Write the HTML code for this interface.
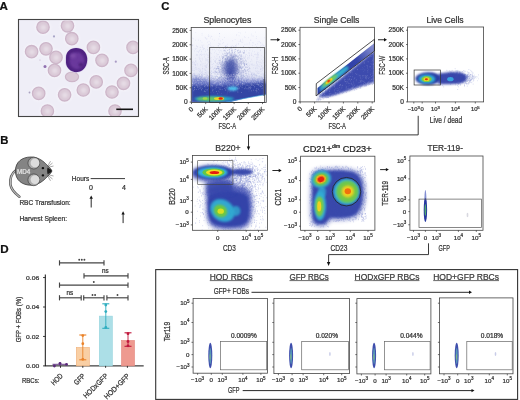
<!DOCTYPE html><html><head><meta charset="utf-8"><style>html,body{margin:0;padding:0;background:#fff;}svg{display:block;will-change:transform;filter:blur(0.3px);}text{font-family:"Liberation Sans", sans-serif;stroke-width:0.24px;}</style></head><body>
<svg width="520" height="400" viewBox="0 0 520 400">
<defs>
<filter id="b05" x="-50%" y="-50%" width="200%" height="200%"><feGaussianBlur stdDeviation="0.5"/></filter>
<filter id="b1" x="-50%" y="-50%" width="200%" height="200%"><feGaussianBlur stdDeviation="1"/></filter>
<filter id="b2" x="-50%" y="-50%" width="200%" height="200%"><feGaussianBlur stdDeviation="2"/></filter>
<filter id="b3" x="-50%" y="-50%" width="200%" height="200%"><feGaussianBlur stdDeviation="3"/></filter>
<linearGradient id="gwash" x1="0" y1="0" x2="0" y2="1"><stop offset="0" stop-color="#fbfbfe"/><stop offset="0.45" stop-color="#eceef8"/><stop offset="1" stop-color="#d8dcf2"/></linearGradient>
<linearGradient id="gband" gradientUnits="userSpaceOnUse" x1="317" y1="92" x2="374" y2="47"><stop offset="0" stop-color="#2c3ca6"/><stop offset="0.7" stop-color="#3444aa"/><stop offset="1" stop-color="#8890d0"/></linearGradient>
</defs>
<rect width="520" height="400" fill="#fff"/>
<text x="-0.40" y="9.50" font-size="11.6" text-anchor="start" fill="#111" stroke="#111" font-weight="bold" >A</text>
<rect x="18.50" y="19.50" width="120.00" height="97.00" stroke="#444" stroke-width="1.1" fill="#efeef7" />
<clipPath id="clipA"><rect x="19" y="20.5" width="119" height="95.5"/></clipPath>
<g clip-path="url(#clipA)">
<circle cx="43" cy="27.2" r="7.6" fill="#f6f5fb" filter="url(#b1)"/>
<circle cx="67.5" cy="25.8" r="7.6" fill="#f6f5fb" filter="url(#b1)"/>
<circle cx="71.8" cy="38.7" r="7.6" fill="#f6f5fb" filter="url(#b1)"/>
<circle cx="31.6" cy="51.7" r="7.6" fill="#f6f5fb" filter="url(#b1)"/>
<circle cx="46" cy="48.8" r="7.6" fill="#f6f5fb" filter="url(#b1)"/>
<circle cx="56" cy="57.4" r="7.6" fill="#f6f5fb" filter="url(#b1)"/>
<circle cx="54.5" cy="70.4" r="7.6" fill="#f6f5fb" filter="url(#b1)"/>
<circle cx="93.4" cy="47.4" r="7.6" fill="#f6f5fb" filter="url(#b1)"/>
<circle cx="102" cy="60.3" r="7.6" fill="#f6f5fb" filter="url(#b1)"/>
<circle cx="96.2" cy="81.9" r="7.6" fill="#f6f5fb" filter="url(#b1)"/>
<circle cx="83.3" cy="90" r="7.6" fill="#f6f5fb" filter="url(#b1)"/>
<circle cx="64.6" cy="94.8" r="7.6" fill="#f6f5fb" filter="url(#b1)"/>
<circle cx="38.7" cy="93.4" r="7.6" fill="#f6f5fb" filter="url(#b1)"/>
<circle cx="47.4" cy="111" r="7.6" fill="#f6f5fb" filter="url(#b1)"/>
<circle cx="112" cy="92" r="7.6" fill="#f6f5fb" filter="url(#b1)"/>
<circle cx="123.5" cy="83.3" r="7.6" fill="#f6f5fb" filter="url(#b1)"/>
<circle cx="133" cy="47.4" r="7.6" fill="#f6f5fb" filter="url(#b1)"/>
<circle cx="131" cy="70.4" r="7.6" fill="#f6f5fb" filter="url(#b1)"/>
<circle cx="115" cy="111" r="7.6" fill="#f6f5fb" filter="url(#b1)"/>
<circle cx="43" cy="27.2" r="6.2" fill="#dac9d7" stroke="#cdb6c9" stroke-width="1.3" filter="url(#b05)"/>
<circle cx="43.3" cy="27.5" r="2.8" fill="#e6dce5" filter="url(#b1)"/>
<circle cx="67.5" cy="25.8" r="6.2" fill="#dac9d7" stroke="#cdb6c9" stroke-width="1.3" filter="url(#b05)"/>
<circle cx="67.8" cy="26.1" r="2.8" fill="#e6dce5" filter="url(#b1)"/>
<circle cx="71.8" cy="38.7" r="6.2" fill="#dac9d7" stroke="#cdb6c9" stroke-width="1.3" filter="url(#b05)"/>
<circle cx="72.1" cy="39.0" r="2.8" fill="#e6dce5" filter="url(#b1)"/>
<circle cx="31.6" cy="51.7" r="6.2" fill="#dac9d7" stroke="#cdb6c9" stroke-width="1.3" filter="url(#b05)"/>
<circle cx="31.900000000000002" cy="52.0" r="2.8" fill="#e6dce5" filter="url(#b1)"/>
<circle cx="46" cy="48.8" r="6.2" fill="#dac9d7" stroke="#cdb6c9" stroke-width="1.3" filter="url(#b05)"/>
<circle cx="46.3" cy="49.099999999999994" r="2.8" fill="#e6dce5" filter="url(#b1)"/>
<circle cx="56" cy="57.4" r="6.2" fill="#dac9d7" stroke="#cdb6c9" stroke-width="1.3" filter="url(#b05)"/>
<circle cx="56.3" cy="57.699999999999996" r="2.8" fill="#e6dce5" filter="url(#b1)"/>
<circle cx="54.5" cy="70.4" r="6.2" fill="#dac9d7" stroke="#cdb6c9" stroke-width="1.3" filter="url(#b05)"/>
<circle cx="54.8" cy="70.7" r="2.8" fill="#e6dce5" filter="url(#b1)"/>
<circle cx="93.4" cy="47.4" r="6.2" fill="#dac9d7" stroke="#cdb6c9" stroke-width="1.3" filter="url(#b05)"/>
<circle cx="93.7" cy="47.699999999999996" r="2.8" fill="#e6dce5" filter="url(#b1)"/>
<circle cx="102" cy="60.3" r="6.2" fill="#dac9d7" stroke="#cdb6c9" stroke-width="1.3" filter="url(#b05)"/>
<circle cx="102.3" cy="60.599999999999994" r="2.8" fill="#e6dce5" filter="url(#b1)"/>
<circle cx="96.2" cy="81.9" r="6.2" fill="#dac9d7" stroke="#cdb6c9" stroke-width="1.3" filter="url(#b05)"/>
<circle cx="96.5" cy="82.2" r="2.8" fill="#e6dce5" filter="url(#b1)"/>
<circle cx="83.3" cy="90" r="6.2" fill="#dac9d7" stroke="#cdb6c9" stroke-width="1.3" filter="url(#b05)"/>
<circle cx="83.6" cy="90.3" r="2.8" fill="#e6dce5" filter="url(#b1)"/>
<circle cx="64.6" cy="94.8" r="6.2" fill="#dac9d7" stroke="#cdb6c9" stroke-width="1.3" filter="url(#b05)"/>
<circle cx="64.89999999999999" cy="95.1" r="2.8" fill="#e6dce5" filter="url(#b1)"/>
<circle cx="38.7" cy="93.4" r="6.2" fill="#dac9d7" stroke="#cdb6c9" stroke-width="1.3" filter="url(#b05)"/>
<circle cx="39.0" cy="93.7" r="2.8" fill="#e6dce5" filter="url(#b1)"/>
<circle cx="47.4" cy="111" r="6.2" fill="#dac9d7" stroke="#cdb6c9" stroke-width="1.3" filter="url(#b05)"/>
<circle cx="47.699999999999996" cy="111.3" r="2.8" fill="#e6dce5" filter="url(#b1)"/>
<circle cx="112" cy="92" r="6.2" fill="#dac9d7" stroke="#cdb6c9" stroke-width="1.3" filter="url(#b05)"/>
<circle cx="112.3" cy="92.3" r="2.8" fill="#e6dce5" filter="url(#b1)"/>
<circle cx="123.5" cy="83.3" r="6.2" fill="#dac9d7" stroke="#cdb6c9" stroke-width="1.3" filter="url(#b05)"/>
<circle cx="123.8" cy="83.6" r="2.8" fill="#e6dce5" filter="url(#b1)"/>
<circle cx="133" cy="47.4" r="6.2" fill="#dac9d7" stroke="#cdb6c9" stroke-width="1.3" filter="url(#b05)"/>
<circle cx="133.3" cy="47.699999999999996" r="2.8" fill="#e6dce5" filter="url(#b1)"/>
<circle cx="131" cy="70.4" r="6.2" fill="#dac9d7" stroke="#cdb6c9" stroke-width="1.3" filter="url(#b05)"/>
<circle cx="131.3" cy="70.7" r="2.8" fill="#e6dce5" filter="url(#b1)"/>
<circle cx="115" cy="111" r="6.2" fill="#dac9d7" stroke="#cdb6c9" stroke-width="1.3" filter="url(#b05)"/>
<circle cx="115.3" cy="111.3" r="2.8" fill="#e6dce5" filter="url(#b1)"/>
<ellipse cx="72" cy="76.8" rx="6.6" ry="4.8" fill="#dac9d7" stroke="#cdb6c9" stroke-width="1.2" filter="url(#b05)"/>
<g transform="translate(0,0.8)">
<ellipse cx="76.4" cy="59.3" rx="11.6" ry="12.6" fill="#ddd3ec" filter="url(#b05)"/>
<path d="M66,57 C66,51 70,47.5 76,47.3 C82,47.2 86.8,51 87.2,57.5 C87.6,64 84.5,70.5 77.5,71.3 C71,71.8 66.2,67 66,62 Z" fill="#4f2482" filter="url(#b05)"/>
<ellipse cx="77" cy="60" rx="7.5" ry="8.5" fill="#6a389c" filter="url(#b1)"/>
<ellipse cx="73" cy="55" rx="3" ry="2.5" fill="#7a4aa8" filter="url(#b1)"/>
<ellipse cx="81" cy="64" rx="2.5" ry="2" fill="#4a2078" filter="url(#b1)"/>
</g>
<circle cx="54" cy="36.4" r="1.1" fill="#a9a6c8"/>
<circle cx="45" cy="66.6" r="1.5" fill="#9070b0"/>
<circle cx="115.8" cy="61.7" r="1.1" fill="#a99ac4"/>
<circle cx="29.5" cy="92.5" r="0.9" fill="#a9a0c0"/>
<circle cx="40" cy="60" r="0.6" fill="#c0b0c8"/>
</g>
<line x1="116.30" y1="109.30" x2="133.00" y2="109.30" stroke="#111" stroke-width="1.6" />
<text x="0.30" y="144.00" font-size="11.3" text-anchor="start" fill="#111" stroke="#111" font-weight="bold" >B</text>
<path d="M15.6,170.6 C11,174 10,180 10.4,184.5 C11,189 14,192.5 19.4,196.8" stroke="#555" stroke-width="2.5" fill="none" stroke-linecap="round"/>
<path d="M15.6,170.6 C11,174 10,180 10.4,184.5 C11,189 14,192.5 19.4,196.8" stroke="#bdbdbd" stroke-width="1.1" fill="none" stroke-linecap="round"/>
<path d="M15.4,171 C15.4,162 22,157 31,157 C37,157 42,160 45.5,163.5 C48.5,166.5 51.8,169.5 51.8,171 C51.8,172.5 48.5,175.5 45.5,178.5 C42,182 37,185.2 31,185.2 C22,185.2 15.4,180 15.4,171 Z" fill="#848484" stroke="#3a3a3a" stroke-width="0.8"/>
<path d="M47.6,167.6 C49.5,168.8 51.8,170 51.8,171 C51.8,172 49.5,173.4 47.6,174.2 C47,172.5 47,169.5 47.6,167.6 Z" fill="#1a1a1a"/>
<circle cx="33.8" cy="163.1" r="5.9" fill="#aaaaaa" stroke="#444" stroke-width="0.7"/>
<circle cx="35.0" cy="162.9" r="4.4" fill="#dcdcdc" filter="url(#b05)"/>
<circle cx="33.8" cy="179.8" r="5.9" fill="#aaaaaa" stroke="#444" stroke-width="0.7"/>
<circle cx="35.0" cy="179.60000000000002" r="4.4" fill="#dcdcdc" filter="url(#b05)"/>
<ellipse cx="42.9" cy="168.2" rx="1.3" ry="1.1" fill="#111"/>
<ellipse cx="42.9" cy="175.4" rx="1.3" ry="1.1" fill="#111"/>
<line x1="47.50" y1="166.50" x2="50.50" y2="161.20" stroke="#444" stroke-width="0.45" />
<line x1="48.00" y1="166.80" x2="52.50" y2="163.00" stroke="#444" stroke-width="0.45" />
<line x1="48.40" y1="167.30" x2="53.50" y2="166.00" stroke="#444" stroke-width="0.45" />
<line x1="47.50" y1="175.50" x2="50.50" y2="180.80" stroke="#444" stroke-width="0.45" />
<line x1="48.00" y1="175.20" x2="52.50" y2="179.00" stroke="#444" stroke-width="0.45" />
<line x1="48.40" y1="174.70" x2="53.50" y2="176.00" stroke="#444" stroke-width="0.45" />
<text x="23.60" y="174.40" font-size="6.8" text-anchor="middle" fill="#e8e8e8" stroke="#e8e8e8" stroke-width="0.18" textLength="13.2" lengthAdjust="spacingAndGlyphs" stroke-width="0.35">MD4</text>
<text x="71.80" y="181.00" font-size="7" text-anchor="start" fill="#333" stroke="#333" stroke-width="0.18" textLength="17.4" lengthAdjust="spacingAndGlyphs" >Hours</text>
<line x1="90.65" y1="178.60" x2="125.00" y2="178.60" stroke="#222" stroke-width="0.9" />
<text x="91.00" y="189.90" font-size="7.0" text-anchor="middle" fill="#333" stroke="#333" stroke-width="0.18" >0</text>
<text x="123.85" y="189.90" font-size="7.0" text-anchor="middle" fill="#333" stroke="#333" stroke-width="0.18" >4</text>
<text x="19.40" y="205.20" font-size="6.8" text-anchor="start" fill="#333" stroke="#333" stroke-width="0.18" textLength="51.2" lengthAdjust="spacingAndGlyphs" >RBC Transfusion:</text>
<text x="19.40" y="220.60" font-size="6.8" text-anchor="start" fill="#333" stroke="#333" stroke-width="0.18" textLength="47.8" lengthAdjust="spacingAndGlyphs" >Harvest Spleen:</text>
<line x1="91.20" y1="198.30" x2="91.20" y2="207.50" stroke="#111" stroke-width="0.9" />
<path d="M89.50,198.80 L91.20,195.60 L92.90,198.80 Z" fill="#111"/>
<line x1="123.10" y1="214.00" x2="123.10" y2="223.10" stroke="#111" stroke-width="0.9" />
<path d="M121.40,214.50 L123.10,211.30 L124.80,214.50 Z" fill="#111"/>
<text x="0.30" y="252.80" font-size="11.6" text-anchor="start" fill="#111" stroke="#111" font-weight="bold" >D</text>
<line x1="45.30" y1="274.50" x2="45.30" y2="365.90" stroke="#111" stroke-width="1" />
<line x1="44.80" y1="365.90" x2="143.70" y2="365.90" stroke="#111" stroke-width="1" />
<line x1="43.00" y1="277.55" x2="45.30" y2="277.55" stroke="#111" stroke-width="0.8" />
<text x="39.20" y="279.75" font-size="6.1" text-anchor="end" fill="#333" stroke="#333" textLength="13.2" lengthAdjust="spacingAndGlyphs" >0.06</text>
<line x1="43.00" y1="307.00" x2="45.30" y2="307.00" stroke="#111" stroke-width="0.8" />
<text x="39.20" y="309.20" font-size="6.1" text-anchor="end" fill="#333" stroke="#333" textLength="13.2" lengthAdjust="spacingAndGlyphs" >0.04</text>
<line x1="43.00" y1="336.45" x2="45.30" y2="336.45" stroke="#111" stroke-width="0.8" />
<text x="39.20" y="338.65" font-size="6.1" text-anchor="end" fill="#333" stroke="#333" textLength="13.2" lengthAdjust="spacingAndGlyphs" >0.02</text>
<line x1="43.00" y1="365.90" x2="45.30" y2="365.90" stroke="#111" stroke-width="0.8" />
<text x="39.20" y="368.10" font-size="6.1" text-anchor="end" fill="#333" stroke="#333" textLength="13.2" lengthAdjust="spacingAndGlyphs" >0.00</text>
<text x="20.60" y="319.60" font-size="7" text-anchor="middle" fill="#333" stroke="#333" stroke-width="0.18" textLength="45.5" lengthAdjust="spacingAndGlyphs" transform="rotate(-90 20.60 319.60)" >GFP + FOBs (%)</text>
<text x="21.90" y="382.70" font-size="7" text-anchor="start" fill="#333" stroke="#333" stroke-width="0.18" textLength="17.6" lengthAdjust="spacingAndGlyphs" >RBCs:</text>
<rect x="76.3" y="347.49" width="13" height="18.41" fill="#f9cfa4" stroke="#f0b078" stroke-width="0.6"/>
<rect x="99.3" y="316.13" width="13" height="49.77" fill="#acdfe7" stroke="#95d4de" stroke-width="0.6"/>
<rect x="121.5" y="340.43" width="13" height="25.47" fill="#ee9a90" stroke="#e4857c" stroke-width="0.6"/>
<line x1="82.80" y1="335.00" x2="82.80" y2="359.80" stroke="#ea8228" stroke-width="0.9" />
<line x1="79.30" y1="335.00" x2="86.30" y2="335.00" stroke="#ea8228" stroke-width="1.1" />
<line x1="79.30" y1="359.80" x2="86.30" y2="359.80" stroke="#ea8228" stroke-width="1.1" />
<circle cx="82.8" cy="343.7" r="1.4" fill="#ea8228"/>
<circle cx="82.8" cy="359.3" r="1.4" fill="#ea8228"/>
<circle cx="82.8" cy="335.6" r="1.4" fill="#ea8228"/>
<line x1="105.80" y1="303.80" x2="105.80" y2="328.30" stroke="#30aec0" stroke-width="0.9" />
<line x1="102.30" y1="303.80" x2="109.30" y2="303.80" stroke="#30aec0" stroke-width="1.1" />
<line x1="102.30" y1="328.30" x2="109.30" y2="328.30" stroke="#30aec0" stroke-width="1.1" />
<circle cx="105.8" cy="305.0" r="1.4" fill="#30aec0"/>
<circle cx="105.8" cy="311.6" r="1.4" fill="#30aec0"/>
<circle cx="105.8" cy="327.5" r="1.4" fill="#30aec0"/>
<line x1="128.00" y1="332.80" x2="128.00" y2="346.30" stroke="#c0183c" stroke-width="0.9" />
<line x1="124.50" y1="332.80" x2="131.50" y2="332.80" stroke="#c0183c" stroke-width="1.1" />
<line x1="124.50" y1="346.30" x2="131.50" y2="346.30" stroke="#c0183c" stroke-width="1.1" />
<circle cx="128.0" cy="333.7" r="1.4" fill="#c0183c"/>
<circle cx="128.0" cy="341.5" r="1.4" fill="#c0183c"/>
<circle cx="128.0" cy="345.8" r="1.4" fill="#c0183c"/>
<line x1="52.50" y1="364.30" x2="67.50" y2="364.30" stroke="#5a2a7a" stroke-width="0.9" />
<line x1="60.00" y1="362.50" x2="60.00" y2="366.00" stroke="#5a2a7a" stroke-width="0.9" />
<circle cx="54.4" cy="366" r="1.4" fill="#5a2a7a"/>
<circle cx="60" cy="363.3" r="1.4" fill="#5a2a7a"/>
<circle cx="66.5" cy="364.4" r="1.4" fill="#5a2a7a"/>
<line x1="60.50" y1="365.90" x2="60.50" y2="367.90" stroke="#111" stroke-width="0.8" />
<text x="63.40" y="376.50" font-size="7.4" text-anchor="end" fill="#333" stroke="#333" stroke-width="0.18" textLength="13.2" lengthAdjust="spacingAndGlyphs" transform="rotate(-45 63.40 376.50)" >HOD</text>
<line x1="82.80" y1="365.90" x2="82.80" y2="367.90" stroke="#111" stroke-width="0.8" />
<text x="85.70" y="376.50" font-size="7.4" text-anchor="end" fill="#333" stroke="#333" stroke-width="0.18" textLength="12.6" lengthAdjust="spacingAndGlyphs" transform="rotate(-45 85.70 376.50)" >GFP</text>
<line x1="105.60" y1="365.90" x2="105.60" y2="367.90" stroke="#111" stroke-width="0.8" />
<text x="108.50" y="376.50" font-size="7.4" text-anchor="end" fill="#333" stroke="#333" stroke-width="0.18" textLength="31.5" lengthAdjust="spacingAndGlyphs" transform="rotate(-45 108.50 376.50)" >HODxGFP</text>
<line x1="127.40" y1="365.90" x2="127.40" y2="367.90" stroke="#111" stroke-width="0.8" />
<text x="130.30" y="376.50" font-size="7.4" text-anchor="end" fill="#333" stroke="#333" stroke-width="0.18" textLength="33" lengthAdjust="spacingAndGlyphs" transform="rotate(-45 130.30 376.50)" >HOD+GFP</text>
<line x1="59.50" y1="262.90" x2="104.00" y2="262.90" stroke="#444" stroke-width="1.15" />
<line x1="59.50" y1="260.30" x2="59.50" y2="265.50" stroke="#444" stroke-width="1.15" />
<line x1="104.00" y1="260.30" x2="104.00" y2="265.50" stroke="#444" stroke-width="1.15" />
<circle cx="79.20" cy="259.7" r="0.95" fill="#444"/>
<circle cx="81.80" cy="259.7" r="0.95" fill="#444"/>
<circle cx="84.40" cy="259.7" r="0.95" fill="#444"/>
<line x1="84.00" y1="275.80" x2="128.00" y2="275.80" stroke="#444" stroke-width="1.15" />
<line x1="84.00" y1="273.20" x2="84.00" y2="278.40" stroke="#444" stroke-width="1.15" />
<line x1="128.00" y1="273.20" x2="128.00" y2="278.40" stroke="#444" stroke-width="1.15" />
<text x="105.40" y="272.60" font-size="6.3" text-anchor="middle" fill="#333" stroke="#333" >ns</text>
<line x1="59.50" y1="285.10" x2="128.00" y2="285.10" stroke="#444" stroke-width="1.15" />
<line x1="59.50" y1="282.50" x2="59.50" y2="287.70" stroke="#444" stroke-width="1.15" />
<line x1="128.00" y1="282.50" x2="128.00" y2="287.70" stroke="#444" stroke-width="1.15" />
<circle cx="93.80" cy="282" r="0.95" fill="#444"/>
<line x1="59.50" y1="297.80" x2="81.20" y2="297.80" stroke="#444" stroke-width="1.15" />
<line x1="59.50" y1="295.20" x2="59.50" y2="300.40" stroke="#444" stroke-width="1.15" />
<line x1="81.20" y1="295.20" x2="81.20" y2="300.40" stroke="#444" stroke-width="1.15" />
<text x="69.90" y="295.30" font-size="6.3" text-anchor="middle" fill="#333" stroke="#333" >ns</text>
<line x1="83.70" y1="297.80" x2="104.00" y2="297.80" stroke="#444" stroke-width="1.15" />
<line x1="83.70" y1="295.20" x2="83.70" y2="300.40" stroke="#444" stroke-width="1.15" />
<line x1="104.00" y1="295.20" x2="104.00" y2="300.40" stroke="#444" stroke-width="1.15" />
<circle cx="92.50" cy="295" r="0.95" fill="#444"/>
<circle cx="95.10" cy="295" r="0.95" fill="#444"/>
<line x1="106.90" y1="297.80" x2="128.00" y2="297.80" stroke="#444" stroke-width="1.15" />
<line x1="106.90" y1="295.20" x2="106.90" y2="300.40" stroke="#444" stroke-width="1.15" />
<line x1="128.00" y1="295.20" x2="128.00" y2="300.40" stroke="#444" stroke-width="1.15" />
<circle cx="117.50" cy="295" r="0.95" fill="#444"/>
<text x="161.20" y="10.10" font-size="11.3" text-anchor="start" fill="#111" stroke="#111" font-weight="bold" >C</text>
<clipPath id="c1"><rect x="191.2" y="27.4" width="75.0" height="75.1"/></clipPath>
<g clip-path="url(#c1)">
<rect x="191.2" y="27.4" width="75.0" height="75.1" fill="url(#gwash)"/>
<path d="M196.6,69.5h0.5M195.5,67.5h0.5M223.0,90.2h0.5M194.7,92.4h0.5M242.2,61.8h0.5M235.1,63.6h0.5M250.8,81.1h0.5M202.6,66.2h0.5M241.3,85.8h0.5M235.8,72.6h0.5M254.2,98.6h0.5M239.7,102.0h0.5M192.9,64.2h0.5M232.4,94.2h0.5M249.7,93.6h0.5M220.6,59.8h0.5M238.8,35.8h0.5M198.8,57.3h0.5M256.8,75.1h0.5M226.1,65.8h0.5M198.9,55.8h0.5M253.4,42.9h0.5M262.5,69.0h0.5M264.6,92.8h0.5M210.8,57.5h0.5M265.1,92.0h0.5M252.6,84.0h0.5M230.0,56.7h0.5M243.1,99.4h0.5M261.5,101.6h0.5M258.7,91.2h0.5M240.2,88.3h0.5M240.7,96.1h0.5M247.5,65.4h0.5M262.2,82.9h0.5M264.7,78.1h0.5M232.3,40.7h0.5M264.0,77.6h0.5M210.7,61.2h0.5M235.0,95.7h0.5M232.9,87.2h0.5M248.2,96.3h0.5M227.1,98.3h0.5M256.9,98.4h0.5M233.2,98.5h0.5M196.6,48.5h0.5M202.8,82.3h0.5M207.7,99.1h0.5M227.7,101.8h0.5M238.0,67.8h0.5M199.1,50.3h0.5M249.6,50.6h0.5M222.9,96.2h0.5M234.0,81.2h0.5M195.5,80.3h0.5M196.6,98.1h0.5M196.2,92.7h0.5M214.1,85.4h0.5M192.6,49.2h0.5M246.2,70.6h0.5M226.8,97.9h0.5M242.8,101.3h0.5M253.6,81.6h0.5M221.6,56.1h0.5M210.4,43.0h0.5M254.3,93.3h0.5M214.4,56.8h0.5M206.3,67.3h0.5M208.7,73.0h0.5M257.1,59.1h0.5M229.0,90.8h0.5M242.4,80.7h0.5M199.1,90.8h0.5M264.4,66.5h0.5M237.5,77.1h0.5M214.0,71.8h0.5M243.1,79.4h0.5M200.1,94.9h0.5M264.6,98.0h0.5M224.9,50.5h0.5M201.1,89.7h0.5M257.7,81.4h0.5M258.5,66.0h0.5M191.5,66.4h0.5M214.9,91.1h0.5M247.5,91.1h0.5M266.1,73.3h0.5M223.3,51.0h0.5M198.8,90.7h0.5M262.9,94.3h0.5M232.4,82.6h0.5M239.5,51.7h0.5M213.8,71.0h0.5M259.1,66.7h0.5M259.2,102.2h0.5M201.7,45.1h0.5M230.5,58.2h0.5M225.5,70.6h0.5M239.6,53.0h0.5M234.9,59.0h0.5M225.8,99.6h0.5M257.5,65.2h0.5M209.7,99.7h0.5M241.8,61.3h0.5M241.3,97.2h0.5M246.6,67.3h0.5M213.3,99.1h0.5M241.1,98.9h0.5M201.8,35.1h0.5M220.7,95.3h0.5M246.2,102.3h0.5M219.6,58.0h0.5M217.6,99.3h0.5M252.8,89.8h0.5M194.9,65.1h0.5M252.1,85.9h0.5M214.9,51.0h0.5M247.9,96.6h0.5M228.2,97.4h0.5M249.2,74.6h0.5M209.7,36.0h0.5M257.5,101.6h0.5M244.4,63.2h0.5M247.3,91.6h0.5M200.3,91.2h0.5M202.7,94.3h0.5M240.2,101.9h0.5M234.9,97.5h0.5M256.2,63.3h0.5M249.5,98.6h0.5M235.9,75.5h0.5M206.5,87.9h0.5M232.5,76.8h0.5M203.5,80.8h0.5M214.6,71.7h0.5M223.0,89.7h0.5M257.4,64.2h0.5M219.0,67.3h0.5M263.7,45.4h0.5M261.9,100.8h0.5M195.2,97.3h0.5M203.2,87.3h0.5M230.0,58.7h0.5M194.1,91.0h0.5M223.1,78.2h0.5M249.7,64.0h0.5M219.5,99.0h0.5M255.5,102.2h0.5M228.1,99.4h0.5M203.1,95.1h0.5M229.2,54.1h0.5M242.2,95.1h0.5M199.0,102.0h0.5M220.8,88.1h0.5M265.5,72.5h0.5M248.5,62.8h0.5M235.1,78.6h0.5M240.2,33.0h0.5M206.5,75.8h0.5M201.3,98.0h0.5M256.5,87.0h0.5M224.5,98.0h0.5M209.8,95.6h0.5M231.1,60.3h0.5M195.6,86.8h0.5M232.5,98.3h0.5M206.2,74.6h0.5M239.3,89.2h0.5M214.4,52.7h0.5M257.9,87.1h0.5M191.7,91.4h0.5M226.1,84.1h0.5M243.3,91.5h0.5M211.1,70.8h0.5M250.3,68.6h0.5M239.4,100.0h0.5M243.5,92.4h0.5M245.5,72.0h0.5M207.1,75.7h0.5M259.5,41.7h0.5M199.2,97.4h0.5M201.8,33.4h0.5M259.8,98.5h0.5M206.6,39.4h0.5M254.8,89.1h0.5M253.1,76.3h0.5M244.9,57.6h0.5M223.9,86.4h0.5M244.0,69.6h0.5M248.4,100.9h0.5M205.0,66.6h0.5M197.3,87.4h0.5M250.2,76.0h0.5M197.7,94.6h0.5M247.8,84.9h0.5M217.3,54.6h0.5M257.6,48.3h0.5M215.7,68.5h0.5M250.8,83.5h0.5M205.9,76.8h0.5M206.7,59.0h0.5M221.1,87.6h0.5M228.7,76.4h0.5M201.8,74.3h0.5M246.8,96.0h0.5M234.2,84.7h0.5M242.2,77.0h0.5M214.7,76.1h0.5M222.7,87.0h0.5M225.3,75.6h0.5M241.8,97.5h0.5M240.3,86.7h0.5M227.9,100.7h0.5M261.7,68.3h0.5M207.0,80.1h0.5M222.7,81.0h0.5M261.7,68.9h0.5M251.3,59.3h0.5M208.1,99.9h0.5M200.6,90.7h0.5M210.2,61.7h0.5M191.4,82.7h0.5M218.4,97.4h0.5M238.7,32.5h0.5M262.6,78.0h0.5M249.4,56.0h0.5M259.0,87.7h0.5M241.3,95.0h0.5M231.0,84.1h0.5M257.4,70.9h0.5M195.6,64.6h0.5M242.4,97.6h0.5M213.2,90.3h0.5M238.2,80.9h0.5M225.5,85.6h0.5M259.8,78.0h0.5M252.9,87.3h0.5M234.3,96.7h0.5M261.5,101.1h0.5M207.1,42.2h0.5M191.6,80.0h0.5M209.4,83.6h0.5M195.0,86.4h0.5M255.4,83.3h0.5M238.3,81.8h0.5M245.0,32.2h0.5M240.0,89.5h0.5M214.5,83.3h0.5M255.8,66.0h0.5M218.8,72.3h0.5M262.1,87.2h0.5M243.9,90.2h0.5M236.6,100.9h0.5M236.3,95.1h0.5M252.1,93.1h0.5M211.7,91.9h0.5M242.5,96.4h0.5M247.5,87.7h0.5M197.8,88.7h0.5M257.6,68.5h0.5M204.8,81.2h0.5M217.1,68.3h0.5M193.7,101.8h0.5M227.7,71.7h0.5M204.8,37.3h0.5M233.0,93.3h0.5M262.2,96.1h0.5M236.1,59.7h0.5M239.2,99.4h0.5M220.7,63.3h0.5M263.6,101.9h0.5M258.9,95.7h0.5M194.7,87.3h0.5M239.7,101.5h0.5M203.8,48.4h0.5M207.7,97.8h0.5M198.5,97.4h0.5M238.3,63.6h0.5M201.9,47.2h0.5M244.7,70.7h0.5M215.1,95.6h0.5M212.7,49.7h0.5M213.2,101.0h0.5M251.7,55.6h0.5M191.3,90.6h0.5M207.6,72.0h0.5M204.7,86.2h0.5M236.8,66.6h0.5M252.1,72.8h0.5M196.1,83.5h0.5M226.9,93.4h0.5M205.2,90.5h0.5M191.5,68.4h0.5M252.4,92.9h0.5M208.0,44.4h0.5M210.0,89.5h0.5M198.4,81.1h0.5M230.4,81.4h0.5M256.4,82.4h0.5M249.5,55.5h0.5M251.5,96.3h0.5M263.0,97.8h0.5M222.9,76.4h0.5M211.1,79.6h0.5M231.9,97.1h0.5M210.0,68.4h0.5M262.9,67.9h0.5M226.2,69.4h0.5M221.7,51.9h0.5M206.3,81.9h0.5M232.3,75.0h0.5M209.1,71.0h0.5M212.6,101.6h0.5M249.1,42.7h0.5M256.5,62.7h0.5M217.6,79.4h0.5M254.9,89.8h0.5M226.8,87.2h0.5M191.5,85.8h0.5M228.5,99.9h0.5M225.5,82.8h0.5M220.5,70.9h0.5M228.7,63.0h0.5M217.5,98.8h0.5M257.2,100.0h0.5M253.2,67.8h0.5M265.5,94.5h0.5M238.5,74.3h0.5M265.7,76.7h0.5M222.1,87.4h0.5M211.2,77.4h0.5M266.0,72.2h0.5M230.4,89.9h0.5M251.7,35.8h0.5M198.7,95.7h0.5M217.4,63.4h0.5M195.3,94.7h0.5M227.5,87.8h0.5M204.2,56.9h0.5M199.8,69.3h0.5M253.1,56.4h0.5M205.5,51.6h0.5M193.8,78.6h0.5M202.9,81.6h0.5M211.4,90.8h0.5M224.4,90.9h0.5M219.5,99.5h0.5M262.5,67.3h0.5M210.8,95.4h0.5M207.1,93.4h0.5M229.7,70.0h0.5M215.3,78.5h0.5M249.3,94.2h0.5M201.1,51.1h0.5M242.2,78.6h0.5M209.8,91.6h0.5M238.4,44.3h0.5M204.7,91.1h0.5M242.5,56.2h0.5M253.8,86.6h0.5M194.4,92.1h0.5M194.8,48.8h0.5M223.0,97.5h0.5M246.6,90.4h0.5M200.8,85.6h0.5M243.9,88.7h0.5M232.2,100.3h0.5M232.0,49.2h0.5M218.0,60.7h0.5M201.8,71.4h0.5M203.9,78.8h0.5M206.0,81.3h0.5M218.4,43.4h0.5M192.0,101.9h0.5M191.8,96.8h0.5M238.3,97.9h0.5M210.1,48.9h0.5M254.6,97.3h0.5M250.0,90.4h0.5M218.9,90.5h0.5M197.2,80.3h0.5M224.4,100.4h0.5M194.2,62.6h0.5M255.3,87.3h0.5M212.4,78.4h0.5M233.5,56.2h0.5M264.0,96.0h0.5M264.3,99.8h0.5M219.1,72.7h0.5M230.9,71.6h0.5M208.2,72.1h0.5M229.7,73.2h0.5M233.4,86.5h0.5M223.1,94.6h0.5M216.8,85.7h0.5M246.5,98.8h0.5M194.5,74.3h0.5M232.4,88.5h0.5M260.6,79.4h0.5M234.8,39.5h0.5M199.5,88.3h0.5M252.6,79.7h0.5M220.7,93.5h0.5M196.9,54.8h0.5M258.2,73.3h0.5M191.6,72.6h0.5M210.9,71.9h0.5M263.0,101.9h0.5M256.7,98.1h0.5M229.4,76.6h0.5M232.5,60.3h0.5M227.3,57.5h0.5M208.8,56.2h0.5M191.7,93.3h0.5M224.6,71.8h0.5M214.3,83.1h0.5M234.7,101.6h0.5M211.9,49.7h0.5M207.6,59.8h0.5M236.4,92.8h0.5M256.9,55.7h0.5M239.2,97.0h0.5M215.7,84.7h0.5M221.6,79.7h0.5M195.5,60.9h0.5M192.2,97.2h0.5M245.5,54.8h0.5M197.9,89.3h0.5M240.5,74.2h0.5M248.4,86.6h0.5M249.1,100.9h0.5M240.4,86.4h0.5M204.8,98.2h0.5M260.3,42.9h0.5M228.6,76.6h0.5M251.2,64.1h0.5M196.1,77.3h0.5M210.9,62.2h0.5M206.4,85.4h0.5M213.6,102.1h0.5M227.6,94.7h0.5M242.4,73.9h0.5M234.6,94.2h0.5M265.8,52.6h0.5M199.6,100.7h0.5M208.6,62.0h0.5M192.7,101.8h0.5M201.4,61.9h0.5M228.4,96.7h0.5M207.3,100.2h0.5M246.1,50.8h0.5M211.0,36.3h0.5M243.0,101.2h0.5M245.0,59.8h0.5M222.6,100.6h0.5M220.1,60.5h0.5M219.5,48.5h0.5M199.9,91.3h0.5M215.5,77.3h0.5M214.9,100.5h0.5M247.2,92.1h0.5M235.6,102.1h0.5M238.4,84.2h0.5M237.2,79.5h0.5M238.4,70.0h0.5M226.7,82.7h0.5M226.9,47.1h0.5M230.8,89.2h0.5M204.1,89.8h0.5M253.6,89.5h0.5M202.7,49.3h0.5M217.9,88.5h0.5M266.0,80.8h0.5M227.1,88.2h0.5M202.4,79.8h0.5M216.7,58.5h0.5M206.3,72.0h0.5M204.6,82.5h0.5M237.5,57.8h0.5M234.6,97.2h0.5M264.1,82.0h0.5M241.1,54.8h0.5M228.4,95.5h0.5M193.1,73.5h0.5M225.9,91.1h0.5M226.7,94.7h0.5M241.5,84.0h0.5M194.2,79.7h0.5M248.9,86.1h0.5M244.5,65.7h0.5M191.7,101.7h0.5M210.9,53.7h0.5M255.6,70.9h0.5M210.5,45.8h0.5M227.9,72.9h0.5M224.6,93.8h0.5M223.7,76.9h0.5M204.7,97.0h0.5M241.8,52.4h0.5M206.7,38.6h0.5M250.0,99.0h0.5M242.6,42.4h0.5M215.1,71.3h0.5M223.4,79.7h0.5M265.9,98.2h0.5M228.4,97.5h0.5M227.6,92.8h0.5M211.5,94.9h0.5M208.2,97.1h0.5M236.1,100.2h0.5M262.0,78.1h0.5M216.2,63.4h0.5M235.9,64.2h0.5M201.1,72.5h0.5M219.3,78.5h0.5M203.9,98.3h0.5M254.4,93.5h0.5M200.0,64.7h0.5M231.4,67.4h0.5M206.0,60.1h0.5M228.8,94.7h0.5M234.0,80.4h0.5M213.1,94.7h0.5M250.0,81.9h0.5M225.8,96.9h0.5M249.6,96.0h0.5M254.6,87.3h0.5M245.0,56.2h0.5M251.4,73.4h0.5M213.6,99.7h0.5M242.6,81.9h0.5M250.0,87.8h0.5M261.8,90.1h0.5M222.6,74.4h0.5M254.5,75.4h0.5M200.3,80.0h0.5M263.0,57.2h0.5M229.2,101.7h0.5M225.3,88.9h0.5M255.9,67.9h0.5M260.8,94.9h0.5M196.9,75.8h0.5M241.9,95.9h0.5M218.5,100.8h0.5M253.8,80.0h0.5M245.9,84.7h0.5M247.3,77.0h0.5M222.8,100.9h0.5M251.6,79.5h0.5M253.1,87.8h0.5M203.4,83.9h0.5M219.9,100.1h0.5M220.1,99.9h0.5M206.5,96.0h0.5M260.0,69.0h0.5M194.3,90.2h0.5M217.7,98.2h0.5M247.7,79.6h0.5M239.6,100.2h0.5M243.1,86.5h0.5M261.7,84.2h0.5M220.6,88.7h0.5M205.1,93.4h0.5M201.2,55.5h0.5M241.3,72.5h0.5M250.3,91.0h0.5M241.6,85.0h0.5M258.6,95.3h0.5M237.1,51.0h0.5M236.5,90.0h0.5M207.2,47.3h0.5M241.9,100.7h0.5M218.2,81.1h0.5M254.1,54.5h0.5M207.5,87.8h0.5M254.2,88.9h0.5M193.5,86.7h0.5M229.1,61.5h0.5M238.5,82.9h0.5M251.5,99.8h0.5M244.3,63.7h0.5M205.4,60.0h0.5M205.8,83.7h0.5M243.8,100.6h0.5M262.3,96.8h0.5M192.2,92.8h0.5M217.8,95.3h0.5M202.7,86.7h0.5M265.5,96.2h0.5M226.9,89.8h0.5M199.4,71.5h0.5M206.9,49.3h0.5M235.1,58.3h0.5M253.5,87.3h0.5M194.4,94.6h0.5M195.2,64.9h0.5M241.7,82.1h0.5M239.9,80.6h0.5M201.8,96.0h0.5M251.4,34.1h0.5M209.2,97.6h0.5M241.6,97.5h0.5M260.1,50.1h0.5M192.6,85.2h0.5M264.2,81.9h0.5M232.9,89.8h0.5M213.0,59.6h0.5M252.1,64.0h0.5M199.5,100.8h0.5M254.9,91.7h0.5M199.7,80.6h0.5M230.2,63.8h0.5M254.0,82.4h0.5M242.3,91.8h0.5M224.3,81.6h0.5M240.3,97.7h0.5M254.0,102.1h0.5M249.3,94.7h0.5M214.7,76.0h0.5M231.5,100.1h0.5M231.0,77.6h0.5M242.9,100.2h0.5M193.3,80.5h0.5M210.7,100.0h0.5M235.5,78.0h0.5M243.3,53.0h0.5M263.9,80.3h0.5M248.9,44.0h0.5M224.6,83.2h0.5M193.5,90.3h0.5M255.3,88.5h0.5M235.2,78.4h0.5M219.9,77.8h0.5M207.9,36.0h0.5M218.5,82.8h0.5M248.6,47.3h0.5M226.4,98.0h0.5M230.6,48.4h0.5M256.0,46.5h0.5M211.1,97.1h0.5M227.3,44.2h0.5M240.2,68.0h0.5M226.5,84.0h0.5M218.8,95.6h0.5M197.3,46.8h0.5M221.3,79.7h0.5M229.6,98.8h0.5M265.6,75.6h0.5M215.3,60.3h0.5M203.4,90.3h0.5M233.3,82.0h0.5M234.8,94.4h0.5M211.4,98.4h0.5M195.1,96.4h0.5M263.7,93.3h0.5M230.9,91.8h0.5M240.2,67.9h0.5M209.5,78.2h0.5M230.5,79.6h0.5M246.8,75.8h0.5M241.6,88.3h0.5M263.3,95.4h0.5M207.3,50.3h0.5M192.5,79.5h0.5M218.9,99.8h0.5M244.1,100.1h0.5M248.7,52.8h0.5M256.8,73.3h0.5M211.6,36.4h0.5M204.2,80.9h0.5M261.3,100.4h0.5M216.4,68.5h0.5M222.5,65.4h0.5M210.9,87.7h0.5M216.8,66.4h0.5M260.9,71.2h0.5M202.7,80.6h0.5M250.5,47.8h0.5M241.0,71.6h0.5M205.7,72.8h0.5M193.5,82.9h0.5M237.3,95.5h0.5M214.5,78.5h0.5M202.5,97.6h0.5M225.8,45.5h0.5M229.2,68.5h0.5M244.6,86.2h0.5M239.0,51.2h0.5M264.8,96.1h0.5M226.1,75.4h0.5M198.3,99.9h0.5M212.8,86.0h0.5M231.1,90.6h0.5M204.2,85.8h0.5M226.7,99.4h0.5M226.4,101.8h0.5M255.3,54.2h0.5M247.1,55.7h0.5M215.7,91.7h0.5M217.7,58.3h0.5M208.2,96.1h0.5M238.9,94.5h0.5M209.5,96.8h0.5M219.8,91.1h0.5M194.8,93.3h0.5M249.9,93.2h0.5M216.7,49.1h0.5M208.2,36.4h0.5M226.5,95.4h0.5M214.6,93.5h0.5M230.1,65.8h0.5M257.2,78.7h0.5M193.8,73.4h0.5M245.0,61.9h0.5M230.5,89.7h0.5M265.6,62.2h0.5M244.4,97.5h0.5M205.2,70.3h0.5M205.0,96.1h0.5M248.2,93.1h0.5M260.5,46.1h0.5M229.7,64.7h0.5M245.3,84.7h0.5M224.4,37.5h0.5M251.0,79.6h0.5M216.4,85.9h0.5M237.6,53.0h0.5M214.9,67.3h0.5M227.7,98.6h0.5M206.0,73.5h0.5M263.7,60.1h0.5M246.3,98.9h0.5M218.6,91.9h0.5M235.5,79.6h0.5M262.1,70.5h0.5M227.2,66.6h0.5M260.9,76.8h0.5M192.8,45.1h0.5M232.5,97.0h0.5M260.6,62.3h0.5M247.3,92.4h0.5M198.2,93.5h0.5M236.0,100.8h0.5M195.4,40.2h0.5M244.3,76.2h0.5M241.6,100.3h0.5M264.6,62.3h0.5M265.8,81.6h0.5M250.5,72.3h0.5M257.3,74.1h0.5M220.9,98.5h0.5M259.8,71.3h0.5M222.3,79.0h0.5M262.9,97.4h0.5M214.9,58.2h0.5M252.8,101.8h0.5M215.1,85.3h0.5M197.4,97.5h0.5M202.4,85.5h0.5M259.2,73.1h0.5M198.9,51.1h0.5M210.4,83.3h0.5M207.3,77.9h0.5M251.8,85.3h0.5M202.1,79.7h0.5M201.0,76.7h0.5M209.9,89.3h0.5M216.9,97.7h0.5M201.4,89.3h0.5M205.1,67.0h0.5M203.5,97.5h0.5M207.8,95.8h0.5M264.0,86.2h0.5M231.2,92.2h0.5M198.6,96.4h0.5M242.3,84.4h0.5M232.8,60.2h0.5M248.3,73.3h0.5M233.4,98.8h0.5M218.4,98.9h0.5M231.9,92.7h0.5M218.2,74.4h0.5M206.6,67.5h0.5M260.7,101.9h0.5M223.2,100.3h0.5M192.2,45.8h0.5M211.3,94.0h0.5M215.5,100.1h0.5M203.3,83.0h0.5M218.1,95.4h0.5M235.3,88.3h0.5M222.2,70.0h0.5M195.6,61.5h0.5M236.5,44.3h0.5M197.4,55.0h0.5M239.9,61.5h0.5M229.6,98.0h0.5M259.4,81.6h0.5M254.8,77.5h0.5M245.0,67.7h0.5M198.1,95.6h0.5M207.9,59.7h0.5M223.5,42.5h0.5M231.9,101.8h0.5M205.8,79.0h0.5M252.3,65.1h0.5M199.7,54.3h0.5M234.9,82.8h0.5M212.0,100.9h0.5M256.1,76.7h0.5M256.6,82.4h0.5M219.7,79.1h0.5M250.2,92.9h0.5M229.5,73.2h0.5M222.6,78.6h0.5M244.0,86.9h0.5M209.9,97.2h0.5M244.4,89.6h0.5M247.8,83.5h0.5M208.7,87.2h0.5M193.6,99.8h0.5M241.5,100.1h0.5M208.4,55.4h0.5M250.9,83.8h0.5M244.6,95.1h0.5M214.8,100.7h0.5M258.0,61.8h0.5M249.2,58.0h0.5M258.9,62.7h0.5M235.8,49.6h0.5M220.5,58.4h0.5M219.1,85.5h0.5M242.2,75.8h0.5M192.7,79.3h0.5M234.3,54.3h0.5M215.6,77.2h0.5M214.5,61.0h0.5M209.2,92.3h0.5M235.2,58.2h0.5M250.9,89.0h0.5M195.3,58.4h0.5M224.2,102.0h0.5M225.8,46.5h0.5M223.6,67.5h0.5M219.1,92.6h0.5M237.3,71.5h0.5M197.5,99.3h0.5M199.8,78.1h0.5M218.3,60.0h0.5M240.9,78.7h0.5M225.5,90.5h0.5M228.5,65.0h0.5M210.6,77.2h0.5M214.7,70.6h0.5M227.5,75.2h0.5M214.4,79.7h0.5M237.5,86.9h0.5M233.7,84.9h0.5M224.8,100.4h0.5M204.5,90.3h0.5M192.4,94.7h0.5M253.5,80.4h0.5M212.1,96.8h0.5M256.5,101.8h0.5M252.0,83.5h0.5M198.1,97.2h0.5M237.1,92.7h0.5M209.8,80.8h0.5M256.9,56.8h0.5M217.3,83.5h0.5M221.7,68.7h0.5M217.7,89.2h0.5M211.9,76.6h0.5M219.5,72.5h0.5M210.2,90.5h0.5M236.3,75.9h0.5M256.2,59.0h0.5M204.9,72.5h0.5M226.8,69.6h0.5M229.0,90.9h0.5M260.9,45.6h0.5M207.5,86.9h0.5M195.0,49.1h0.5M219.1,87.5h0.5M199.8,47.3h0.5M249.7,102.2h0.5M194.0,85.2h0.5M261.0,59.3h0.5M196.7,98.8h0.5M253.5,65.2h0.5M221.7,94.8h0.5M240.8,71.2h0.5M257.2,101.0h0.5M244.7,83.2h0.5M192.8,62.8h0.5M236.0,55.3h0.5M199.9,83.4h0.5M228.8,60.9h0.5M219.9,62.4h0.5M212.1,39.2h0.5M224.9,93.5h0.5M224.2,85.6h0.5M202.6,68.3h0.5M261.6,95.2h0.5M233.3,61.0h0.5M224.5,96.5h0.5M235.2,81.9h0.5M200.7,65.1h0.5M202.5,47.2h0.5M201.5,89.8h0.5M194.7,84.2h0.5M255.9,38.5h0.5M212.0,66.7h0.5M197.6,88.4h0.5M229.0,82.6h0.5M222.1,94.9h0.5M239.8,89.0h0.5M197.2,92.8h0.5M210.6,75.2h0.5M225.9,82.1h0.5M239.9,80.3h0.5M205.5,99.7h0.5M246.7,77.6h0.5M233.9,68.0h0.5M262.4,100.0h0.5M209.2,84.2h0.5M211.3,87.4h0.5M254.4,91.5h0.5M207.1,55.3h0.5M202.8,82.4h0.5M192.1,62.4h0.5M192.1,92.7h0.5M191.2,99.7h0.5M244.4,72.8h0.5M219.1,101.7h0.5M200.5,91.7h0.5M244.5,89.0h0.5M232.4,89.2h0.5M205.5,81.8h0.5M260.3,89.2h0.5M215.7,97.4h0.5M261.5,86.7h0.5M225.8,85.4h0.5M224.6,87.8h0.5M204.2,100.5h0.5M196.9,63.6h0.5M222.2,91.8h0.5M192.1,38.1h0.5M222.9,90.9h0.5M263.7,90.9h0.5M210.8,75.5h0.5M251.2,73.9h0.5M253.2,95.0h0.5M234.5,58.3h0.5M248.3,75.2h0.5M231.9,97.4h0.5M245.7,100.3h0.5M227.1,76.5h0.5M244.1,98.7h0.5M215.2,93.7h0.5M208.2,81.5h0.5M209.7,68.1h0.5M217.2,88.5h0.5M196.0,54.8h0.5M252.0,47.7h0.5M256.3,90.1h0.5M248.7,86.4h0.5M253.6,101.4h0.5M253.7,96.9h0.5M248.7,53.2h0.5M212.3,86.3h0.5M252.3,42.7h0.5M217.4,94.0h0.5M196.7,84.9h0.5M241.0,93.5h0.5M209.4,87.5h0.5M200.7,58.8h0.5M212.4,84.0h0.5M239.1,65.6h0.5M260.3,98.2h0.5M233.7,92.7h0.5M265.5,65.6h0.5M254.2,94.8h0.5M260.4,78.3h0.5M201.6,96.9h0.5M193.1,91.7h0.5M219.3,90.3h0.5M247.6,64.7h0.5M205.9,88.3h0.5M197.9,100.9h0.5M258.0,98.6h0.5M218.6,39.0h0.5M230.1,72.9h0.5M264.9,60.8h0.5M235.5,70.0h0.5M224.7,101.0h0.5M208.9,86.9h0.5M231.5,69.3h0.5M219.7,96.7h0.5M240.3,47.4h0.5M217.3,88.8h0.5M205.5,100.6h0.5M231.1,76.8h0.5M249.9,82.5h0.5M208.6,81.5h0.5M219.6,101.5h0.5M220.3,86.1h0.5M206.8,87.1h0.5M247.9,66.2h0.5M248.5,76.7h0.5M246.2,79.0h0.5M200.0,84.8h0.5M212.5,84.7h0.5M211.6,46.5h0.5M210.0,72.5h0.5M250.5,71.3h0.5M205.6,75.9h0.5M194.3,50.9h0.5M202.4,69.0h0.5M217.0,100.1h0.5M200.0,91.7h0.5M247.4,74.1h0.5M222.0,84.8h0.5M226.6,89.2h0.5M197.1,92.5h0.5M223.1,100.7h0.5M245.8,74.5h0.5M252.3,51.0h0.5M260.5,50.6h0.5M201.5,102.1h0.5M241.1,72.9h0.5M222.2,98.7h0.5M199.0,99.2h0.5M228.2,66.3h0.5M229.6,88.4h0.5M256.9,61.3h0.5M233.9,94.7h0.5M229.6,101.7h0.5M200.5,61.1h0.5M213.8,83.2h0.5M251.5,100.9h0.5M239.8,78.0h0.5M228.2,85.2h0.5M223.6,71.3h0.5M220.5,61.7h0.5M264.1,37.8h0.5M235.6,57.5h0.5M212.6,64.5h0.5M195.6,94.9h0.5M251.0,64.8h0.5M265.1,82.2h0.5M196.3,88.9h0.5M216.9,72.1h0.5M224.2,89.2h0.5M239.1,55.8h0.5M200.5,71.3h0.5M211.9,87.0h0.5M203.6,45.1h0.5M223.1,96.9h0.5M219.8,50.7h0.5M225.8,68.8h0.5M207.1,89.9h0.5M240.2,39.5h0.5M252.9,73.0h0.5M209.4,101.2h0.5M210.4,91.7h0.5M251.6,101.0h0.5M197.7,101.4h0.5M237.1,56.3h0.5M223.9,97.6h0.5M245.7,95.0h0.5M194.3,90.5h0.5M255.0,80.4h0.5M242.7,87.9h0.5M202.8,78.3h0.5M256.0,96.9h0.5M231.4,87.4h0.5M200.0,49.6h0.5M202.7,90.5h0.5M217.7,80.7h0.5M255.8,85.4h0.5M251.3,53.1h0.5M205.8,100.0h0.5M197.9,96.8h0.5M258.8,84.5h0.5M249.9,79.8h0.5M218.5,94.1h0.5M230.9,99.7h0.5M258.5,82.2h0.5M244.7,89.9h0.5M265.8,77.5h0.5M197.1,96.0h0.5M233.1,63.0h0.5M253.8,99.6h0.5M195.4,69.0h0.5M213.7,83.6h0.5M257.1,92.1h0.5M246.5,101.4h0.5M216.6,96.0h0.5M235.4,90.1h0.5M211.0,71.3h0.5M208.9,81.8h0.5M198.3,96.8h0.5M243.4,56.2h0.5M197.0,102.3h0.5M260.7,69.3h0.5M230.1,101.2h0.5M241.4,91.3h0.5M233.1,91.7h0.5M235.6,61.9h0.5M198.1,82.1h0.5M257.3,43.8h0.5M247.8,74.0h0.5M192.6,62.1h0.5M235.3,101.1h0.5M196.8,80.8h0.5M215.5,88.0h0.5M198.8,76.0h0.5M241.4,57.7h0.5M237.1,85.3h0.5M226.6,80.2h0.5M233.0,54.8h0.5M238.5,83.9h0.5M243.0,102.4h0.5M226.9,84.4h0.5M260.9,79.0h0.5M206.4,92.3h0.5M257.4,67.0h0.5M199.4,86.8h0.5M246.4,81.2h0.5M193.8,90.5h0.5M238.5,53.6h0.5M260.3,69.2h0.5M216.7,56.2h0.5M264.6,95.6h0.5M191.5,61.1h0.5M250.6,40.0h0.5M200.2,54.5h0.5M197.4,84.8h0.5M195.7,62.3h0.5M230.2,85.9h0.5M222.2,84.3h0.5M246.5,72.2h0.5M214.5,40.2h0.5M245.0,83.4h0.5M220.8,50.5h0.5M227.3,96.1h0.5M250.6,40.4h0.5M207.9,78.2h0.5M192.7,66.5h0.5M210.6,58.6h0.5M215.5,60.9h0.5M246.6,66.4h0.5M208.7,95.4h0.5M219.5,36.3h0.5M196.9,86.1h0.5M252.6,90.6h0.5M198.7,88.0h0.5M203.9,48.6h0.5M235.6,69.1h0.5M197.2,86.3h0.5M235.4,69.1h0.5M207.8,81.9h0.5M265.4,102.4h0.5M211.0,79.0h0.5M261.7,63.2h0.5M220.3,40.9h0.5M233.2,100.4h0.5M228.2,88.0h0.5M231.3,72.8h0.5M212.5,96.7h0.5M211.9,95.0h0.5M244.7,87.8h0.5M226.6,94.8h0.5M234.2,92.8h0.5M227.2,64.7h0.5M211.0,96.9h0.5M262.7,73.7h0.5M225.7,64.8h0.5M245.1,69.6h0.5M253.7,98.2h0.5M263.8,94.6h0.5M198.3,84.8h0.5M217.8,82.4h0.5M229.9,69.8h0.5M234.7,63.1h0.5M253.5,80.6h0.5M255.5,32.1h0.5M249.0,68.2h0.5M207.9,77.8h0.5M234.5,101.6h0.5M204.8,72.8h0.5M226.7,82.1h0.5M228.7,56.7h0.5M193.1,92.3h0.5M242.3,73.0h0.5M207.5,49.6h0.5M232.8,96.7h0.5M261.5,66.1h0.5M248.4,37.6h0.5M253.9,74.2h0.5M200.5,95.7h0.5M233.0,99.2h0.5M204.8,55.0h0.5M239.7,95.7h0.5M196.9,93.2h0.5M261.4,66.4h0.5M231.6,95.6h0.5M244.8,47.6h0.5M227.5,78.2h0.5M211.6,100.5h0.5M249.1,53.1h0.5M227.7,93.2h0.5M194.8,81.4h0.5M227.4,78.7h0.5M204.9,80.8h0.5M214.4,91.9h0.5M229.5,81.9h0.5M220.0,70.7h0.5M259.3,77.9h0.5M211.3,90.7h0.5M248.0,91.1h0.5M222.0,57.1h0.5M256.9,80.1h0.5M232.1,94.0h0.5M218.0,80.2h0.5M228.5,49.8h0.5M258.8,100.4h0.5M248.4,57.3h0.5M258.3,54.6h0.5M205.8,76.6h0.5M233.3,83.9h0.5M248.2,100.3h0.5M250.5,98.8h0.5M238.4,79.0h0.5M197.0,98.9h0.5M220.3,92.2h0.5M229.2,88.2h0.5M195.6,97.9h0.5M221.4,68.4h0.5M262.7,44.9h0.5M194.2,79.5h0.5M215.0,69.3h0.5M245.1,77.8h0.5M216.8,96.0h0.5M209.6,44.4h0.5M242.4,72.5h0.5M252.0,79.4h0.5M236.8,78.1h0.5M219.2,76.8h0.5M249.2,92.8h0.5M219.1,67.9h0.5M256.8,98.6h0.5M223.9,61.6h0.5M232.3,50.9h0.5M213.2,72.4h0.5M232.8,54.6h0.5M222.7,67.3h0.5M257.4,72.6h0.5M232.6,45.6h0.5M240.7,68.5h0.5M194.3,90.8h0.5M207.5,60.3h0.5M204.2,80.4h0.5M244.6,99.0h0.5M253.1,85.7h0.5M242.1,91.1h0.5M198.5,91.3h0.5M257.4,47.4h0.5M247.7,79.6h0.5M229.3,69.8h0.5M222.1,80.5h0.5M243.1,97.4h0.5M231.9,56.5h0.5M245.7,63.3h0.5M218.3,78.5h0.5M192.1,99.8h0.5M232.1,99.6h0.5M196.0,46.0h0.5M255.0,68.2h0.5M211.6,67.7h0.5M214.2,95.7h0.5M208.7,73.9h0.5M230.2,77.5h0.5M237.4,96.1h0.5M212.0,75.4h0.5M203.8,91.0h0.5M218.7,99.1h0.5M262.8,45.7h0.5M197.5,64.9h0.5M258.3,71.6h0.5M203.9,54.2h0.5M205.9,75.1h0.5M197.8,91.6h0.5M221.7,82.7h0.5M192.4,76.3h0.5M227.0,84.7h0.5M191.9,97.7h0.5M255.7,94.1h0.5M251.4,102.1h0.5M234.2,83.7h0.5M206.6,64.6h0.5M210.3,90.0h0.5M210.5,97.6h0.5M225.0,99.0h0.5M242.3,39.2h0.5M209.9,99.5h0.5M205.6,81.9h0.5M246.7,71.4h0.5M209.3,65.2h0.5M194.6,63.4h0.5M265.6,75.3h0.5M214.4,61.4h0.5M240.1,94.1h0.5M204.9,101.8h0.5M229.2,91.8h0.5M211.4,74.6h0.5M265.6,53.0h0.5M209.9,67.1h0.5M198.0,40.1h0.5M251.2,93.9h0.5M251.5,91.4h0.5M213.7,89.7h0.5M194.7,99.3h0.5M259.8,85.0h0.5M198.3,77.4h0.5M241.2,79.2h0.5M238.5,80.5h0.5M195.8,94.4h0.5M229.8,73.4h0.5M247.9,69.3h0.5M229.9,46.6h0.5M230.3,93.3h0.5M242.8,94.1h0.5M250.0,79.8h0.5M251.5,54.2h0.5M251.7,60.9h0.5M259.9,85.9h0.5M201.1,77.8h0.5M209.7,80.2h0.5M193.0,91.0h0.5M257.1,52.3h0.5M240.2,70.4h0.5M202.1,73.5h0.5M194.1,70.6h0.5M232.0,88.2h0.5M229.2,85.7h0.5M194.1,64.6h0.5M248.5,82.5h0.5M240.0,97.2h0.5M229.9,86.1h0.5M193.7,70.3h0.5M216.3,59.4h0.5M225.4,91.5h0.5M236.9,77.8h0.5M199.7,72.0h0.5M233.9,84.9h0.5M245.7,78.8h0.5M227.7,86.0h0.5M192.2,75.8h0.5M261.6,55.8h0.5M244.2,98.0h0.5M191.2,61.2h0.5M201.1,88.9h0.5M219.1,102.5h0.5M263.2,86.7h0.5M244.2,74.4h0.5M223.9,68.8h0.5M247.7,89.2h0.5M219.8,82.0h0.5M192.8,93.7h0.5M262.5,98.9h0.5M254.2,98.3h0.5M239.8,86.6h0.5M263.3,79.2h0.5M222.6,64.6h0.5M196.8,51.3h0.5M244.5,63.3h0.5M194.4,76.7h0.5M206.0,87.5h0.5M248.4,96.9h0.5M243.3,70.4h0.5M264.7,58.4h0.5M234.9,66.0h0.5M216.4,102.1h0.5M200.0,47.4h0.5M199.1,84.9h0.5M203.8,93.7h0.5M216.4,97.5h0.5M264.3,88.7h0.5M227.4,46.9h0.5M209.4,83.7h0.5M201.0,51.7h0.5M260.7,85.0h0.5M263.3,100.9h0.5M201.7,84.5h0.5M251.4,55.4h0.5M236.7,84.4h0.5M213.6,82.0h0.5M215.9,102.1h0.5M201.7,96.2h0.5M230.7,52.3h0.5M220.9,92.4h0.5M239.3,98.3h0.5M215.2,96.9h0.5M263.7,85.1h0.5M230.5,87.0h0.5M218.9,68.8h0.5M220.6,77.8h0.5M235.2,64.0h0.5M204.3,65.9h0.5M233.6,80.3h0.5M247.5,75.7h0.5M208.4,77.6h0.5M228.5,57.9h0.5M243.1,76.0h0.5M211.5,97.6h0.5M213.2,72.5h0.5M262.3,101.3h0.5M196.2,75.4h0.5M246.5,87.9h0.5M237.7,57.4h0.5M252.1,100.3h0.5M207.8,102.2h0.5M264.0,85.1h0.5M231.1,59.0h0.5M230.7,56.7h0.5M241.7,79.2h0.5M198.0,90.5h0.5M246.4,83.7h0.5M223.7,74.4h0.5M232.1,97.4h0.5M257.0,82.7h0.5M228.7,68.0h0.5M238.2,100.8h0.5M204.5,86.2h0.5M213.8,79.6h0.5M265.9,51.3h0.5M253.5,94.7h0.5M219.8,66.9h0.5M210.0,92.0h0.5M224.7,76.9h0.5M205.0,69.9h0.5M210.9,84.0h0.5M246.9,84.7h0.5M193.6,91.3h0.5M234.7,80.1h0.5M258.4,73.8h0.5M214.5,49.3h0.5M219.2,76.9h0.5M241.4,42.1h0.5M234.7,82.9h0.5M194.8,79.0h0.5M260.6,80.5h0.5M247.7,76.7h0.5M229.5,78.0h0.5M221.0,90.9h0.5M205.3,65.4h0.5M234.6,86.4h0.5M256.8,87.7h0.5M205.9,91.5h0.5M229.8,88.3h0.5M245.2,66.5h0.5M226.4,87.7h0.5M264.9,93.4h0.5M231.4,73.1h0.5M237.9,96.4h0.5M204.3,69.8h0.5M210.2,37.9h0.5M202.5,59.9h0.5M256.9,54.4h0.5M258.5,91.8h0.5M229.6,91.7h0.5M201.7,97.5h0.5M217.6,100.7h0.5M213.0,98.8h0.5M264.2,50.6h0.5M223.4,101.3h0.5M262.0,97.6h0.5M243.1,83.2h0.5M205.7,38.2h0.5M222.3,102.2h0.5M200.6,98.7h0.5M214.2,98.0h0.5M214.0,94.8h0.5M233.9,98.7h0.5M247.4,70.2h0.5M207.7,77.7h0.5M252.9,91.2h0.5M260.6,74.6h0.5M261.6,80.9h0.5M219.1,81.4h0.5M203.7,63.8h0.5M207.2,97.9h0.5M238.5,77.2h0.5M229.7,62.0h0.5M199.2,91.3h0.5M213.1,63.5h0.5M197.3,90.3h0.5M206.0,54.0h0.5M246.5,87.0h0.5M198.4,73.9h0.5M247.9,82.2h0.5M202.6,85.8h0.5M211.1,95.6h0.5M257.5,87.0h0.5M222.4,95.3h0.5M232.1,80.0h0.5M221.1,101.7h0.5M241.5,73.6h0.5M205.7,89.3h0.5M236.2,35.3h0.5M212.8,94.0h0.5M247.3,67.3h0.5M217.4,71.9h0.5M220.3,71.2h0.5M204.9,93.6h0.5M257.5,54.1h0.5M206.2,93.9h0.5M247.8,59.1h0.5M199.4,76.9h0.5M243.2,52.5h0.5M259.7,60.8h0.5M227.9,63.0h0.5M208.2,84.6h0.5M257.3,88.8h0.5M202.4,72.7h0.5M219.8,64.5h0.5M204.0,78.8h0.5M197.3,100.6h0.5M228.0,95.6h0.5M234.3,75.8h0.5M249.5,65.5h0.5M218.0,89.5h0.5M220.5,76.8h0.5M239.8,80.1h0.5M222.5,92.3h0.5M243.2,102.4h0.5M218.7,79.8h0.5M218.7,99.1h0.5M243.2,90.0h0.5M239.2,77.5h0.5M248.4,68.9h0.5M265.6,86.3h0.5M254.2,80.9h0.5M262.9,95.8h0.5M223.8,67.0h0.5M257.9,90.5h0.5M226.1,88.5h0.5M222.0,39.6h0.5M193.4,38.7h0.5M226.7,72.2h0.5M198.2,52.4h0.5M212.9,46.6h0.5M252.2,88.0h0.5M235.2,91.9h0.5M253.8,77.9h0.5M221.6,85.9h0.5M229.1,80.0h0.5M203.7,74.2h0.5M247.3,93.4h0.5M202.6,95.1h0.5M257.8,41.7h0.5M242.7,40.9h0.5M232.2,97.7h0.5M240.3,90.2h0.5M241.1,76.4h0.5M225.3,96.8h0.5M201.7,99.0h0.5M258.4,101.5h0.5M220.3,87.3h0.5M260.6,42.7h0.5M224.2,84.0h0.5M263.3,101.6h0.5M210.8,60.0h0.5M220.7,84.8h0.5M208.4,89.1h0.5M224.5,93.8h0.5M224.9,101.1h0.5M231.7,77.5h0.5M233.0,83.1h0.5M243.5,59.1h0.5M218.5,54.5h0.5M248.9,68.7h0.5M229.3,100.2h0.5M265.5,84.6h0.5M233.8,71.1h0.5M233.6,97.5h0.5M193.6,91.1h0.5M246.8,44.1h0.5M208.5,76.5h0.5M248.4,83.1h0.5M201.6,100.5h0.5M260.4,78.9h0.5M246.1,75.1h0.5M243.2,85.4h0.5M207.6,100.0h0.5M221.8,81.9h0.5M227.1,46.5h0.5M256.0,57.5h0.5M240.0,70.2h0.5M205.0,88.3h0.5M224.0,63.6h0.5M201.7,80.9h0.5M233.4,57.6h0.5M203.4,85.6h0.5M202.6,93.5h0.5M243.9,90.5h0.5M253.7,96.9h0.5M222.9,90.7h0.5M256.6,61.3h0.5M234.0,52.4h0.5M244.4,71.2h0.5M217.6,73.0h0.5M226.1,72.7h0.5M236.6,69.9h0.5M200.1,60.9h0.5M235.6,90.2h0.5M230.1,98.6h0.5M249.2,48.0h0.5M210.4,52.8h0.5M243.8,80.7h0.5M200.0,73.7h0.5M232.5,78.0h0.5M198.0,95.8h0.5M236.3,100.5h0.5M223.7,63.3h0.5M211.8,93.6h0.5M258.4,88.5h0.5M212.2,98.0h0.5M218.8,96.0h0.5M242.1,51.7h0.5M204.9,50.1h0.5M234.0,53.8h0.5M257.0,57.6h0.5M191.9,70.6h0.5M237.6,69.8h0.5M254.1,100.5h0.5M261.1,100.5h0.5M232.0,101.9h0.5M262.6,100.5h0.5M242.2,79.4h0.5M244.9,56.4h0.5M198.7,70.7h0.5M222.4,100.7h0.5M197.9,51.6h0.5M222.4,72.1h0.5M223.5,87.9h0.5M200.3,70.4h0.5M247.2,57.7h0.5M193.7,101.5h0.5M210.1,97.6h0.5M249.9,100.7h0.5M197.5,46.7h0.5M235.2,59.8h0.5M236.9,83.7h0.5M225.7,97.5h0.5M235.1,78.7h0.5M228.1,78.6h0.5M264.3,89.3h0.5M223.2,62.1h0.5M227.2,72.2h0.5M240.6,81.9h0.5M236.6,34.6h0.5M229.2,97.1h0.5M224.6,49.9h0.5M239.7,85.8h0.5M258.0,81.6h0.5M193.1,96.9h0.5M256.7,78.7h0.5M214.5,72.8h0.5M208.7,95.7h0.5M263.9,102.1h0.5M223.5,96.7h0.5M203.5,49.6h0.5M218.0,78.3h0.5M209.0,93.6h0.5M261.1,86.8h0.5M227.8,90.7h0.5M230.8,56.0h0.5M246.9,86.3h0.5M248.9,90.2h0.5M251.8,100.1h0.5M197.9,83.4h0.5M205.1,88.4h0.5M242.7,67.3h0.5M247.3,58.7h0.5M194.6,86.9h0.5M248.1,78.3h0.5M209.9,79.4h0.5M263.7,68.0h0.5M259.2,75.8h0.5M207.3,64.9h0.5M251.4,73.9h0.5M243.0,53.6h0.5M245.3,64.0h0.5M204.2,74.2h0.5M241.1,87.1h0.5M237.8,88.8h0.5M264.4,96.4h0.5M231.6,79.2h0.5M218.7,82.7h0.5M224.0,71.4h0.5M226.5,52.3h0.5M230.5,81.3h0.5M228.6,79.0h0.5M264.8,46.6h0.5M233.8,80.8h0.5M221.1,55.8h0.5M250.6,92.8h0.5M233.5,64.1h0.5M259.4,95.6h0.5M199.4,89.0h0.5M220.1,64.4h0.5M208.2,52.9h0.5M205.4,93.5h0.5M233.2,89.1h0.5M202.9,99.2h0.5M216.9,95.9h0.5M249.0,69.0h0.5M214.2,98.5h0.5M238.8,41.4h0.5M255.2,44.6h0.5M234.6,78.1h0.5M199.4,75.8h0.5M205.3,63.0h0.5M215.4,73.9h0.5M245.1,66.7h0.5M206.7,99.8h0.5M235.2,74.3h0.5M246.3,79.8h0.5M221.9,67.6h0.5M237.7,83.5h0.5M233.5,93.4h0.5M220.8,96.9h0.5M211.4,96.6h0.5M202.3,82.7h0.5M259.8,89.6h0.5M251.3,72.6h0.5M242.8,60.9h0.5M255.0,82.4h0.5M223.2,79.9h0.5M265.1,102.0h0.5M211.7,101.0h0.5M232.9,101.1h0.5M236.2,94.2h0.5M225.9,89.2h0.5M219.1,91.6h0.5M201.5,91.2h0.5M263.6,79.3h0.5M222.9,102.2h0.5M211.8,75.4h0.5M256.2,62.0h0.5M198.8,68.7h0.5M254.2,73.3h0.5M191.9,69.1h0.5M224.9,72.8h0.5M252.6,80.1h0.5M246.2,54.5h0.5M225.0,96.4h0.5M237.7,85.8h0.5M262.4,99.3h0.5M249.3,55.0h0.5M238.7,75.3h0.5M247.2,76.5h0.5M254.3,85.1h0.5M210.0,94.6h0.5M205.7,60.9h0.5M265.4,92.5h0.5M256.7,96.0h0.5M245.7,71.7h0.5M204.7,95.3h0.5M224.4,91.7h0.5M209.4,91.7h0.5M257.8,94.3h0.5M254.2,76.5h0.5M209.2,91.3h0.5M211.8,85.1h0.5M215.9,79.0h0.5M241.0,56.2h0.5M211.3,101.5h0.5M251.1,83.7h0.5M260.4,69.2h0.5M251.9,85.7h0.5M262.8,77.0h0.5M264.8,81.0h0.5M192.2,45.2h0.5M216.4,76.0h0.5M245.4,90.3h0.5M208.7,66.7h0.5M217.6,74.1h0.5M240.1,89.9h0.5M254.1,73.7h0.5M203.3,48.2h0.5M199.5,59.3h0.5M233.4,90.3h0.5M258.3,90.7h0.5M235.4,45.4h0.5M207.7,45.9h0.5M256.0,36.6h0.5M243.8,69.1h0.5M228.8,50.2h0.5M222.6,89.1h0.5M231.5,89.0h0.5M217.2,97.4h0.5M225.0,91.2h0.5M232.8,88.1h0.5M256.3,102.3h0.5M223.0,90.1h0.5M206.4,65.4h0.5M210.5,86.3h0.5M238.1,52.9h0.5M249.8,86.5h0.5M253.7,87.2h0.5M238.5,43.5h0.5M256.2,97.5h0.5M198.9,99.7h0.5M209.6,86.1h0.5M221.2,63.2h0.5M238.8,80.3h0.5M231.2,64.0h0.5M219.5,101.1h0.5M220.9,77.2h0.5M223.9,87.7h0.5M210.5,95.0h0.5M253.7,94.6h0.5M222.2,98.8h0.5M240.2,98.7h0.5M234.4,91.3h0.5M201.1,85.4h0.5M196.9,90.5h0.5M219.7,63.4h0.5M201.5,95.5h0.5M243.1,58.9h0.5M202.3,87.7h0.5M231.3,46.2h0.5M244.6,97.4h0.5M208.1,61.1h0.5M222.6,43.4h0.5M223.2,54.2h0.5M224.8,46.5h0.5M243.2,57.5h0.5M255.9,97.3h0.5M208.0,34.8h0.5M265.9,98.2h0.5M258.5,57.2h0.5M229.7,97.8h0.5M218.8,79.5h0.5M210.4,88.5h0.5M235.5,86.5h0.5M208.6,89.2h0.5M244.7,70.4h0.5M245.1,96.5h0.5M202.1,58.2h0.5M212.2,72.3h0.5M238.5,74.2h0.5M213.6,85.5h0.5M240.2,99.4h0.5M259.7,64.7h0.5M242.6,93.5h0.5M210.0,79.3h0.5M264.8,85.3h0.5M252.9,36.1h0.5M195.9,55.2h0.5M264.1,97.6h0.5M224.4,90.7h0.5M196.1,46.0h0.5M231.9,91.6h0.5M239.9,78.9h0.5M197.9,91.0h0.5M193.1,61.8h0.5M255.6,100.1h0.5M204.5,96.6h0.5M200.1,40.8h0.5M222.0,58.6h0.5M251.1,80.2h0.5M266.0,73.2h0.5M231.3,66.4h0.5M207.9,99.1h0.5M228.7,65.1h0.5M199.0,74.0h0.5M231.1,81.9h0.5M243.0,91.0h0.5M208.0,89.2h0.5M227.7,97.2h0.5M207.7,61.7h0.5M211.6,64.3h0.5M235.4,81.7h0.5M264.2,91.7h0.5M214.9,80.0h0.5M199.9,84.5h0.5M192.5,64.1h0.5M234.2,75.3h0.5M202.7,54.6h0.5M206.3,66.7h0.5M230.4,80.3h0.5M219.6,88.1h0.5M216.7,84.4h0.5M194.1,100.5h0.5M204.1,101.5h0.5M221.9,84.1h0.5M196.0,67.9h0.5M225.5,92.0h0.5M229.4,95.6h0.5M226.1,63.2h0.5M261.7,65.7h0.5M193.8,68.2h0.5M217.5,83.7h0.5M236.6,71.0h0.5M217.0,82.4h0.5M251.4,101.6h0.5M243.9,64.6h0.5M244.0,61.2h0.5M260.8,76.3h0.5M233.4,85.9h0.5M249.4,79.0h0.5M207.9,100.3h0.5M258.4,55.1h0.5M214.9,79.2h0.5M252.7,79.7h0.5M193.3,99.1h0.5M254.3,101.8h0.5M248.7,66.8h0.5M202.5,68.6h0.5M260.1,100.0h0.5M192.0,70.1h0.5M196.9,96.8h0.5M233.1,76.8h0.5M205.2,37.9h0.5M247.9,102.2h0.5M219.8,92.2h0.5M213.6,68.8h0.5M264.9,77.9h0.5M227.0,63.1h0.5M215.5,65.7h0.5M257.5,96.5h0.5M235.3,66.0h0.5M213.5,69.4h0.5M261.3,94.8h0.5M230.3,84.7h0.5M224.6,62.8h0.5M205.8,77.6h0.5M239.0,78.6h0.5M238.4,97.3h0.5M200.9,94.3h0.5M225.2,80.6h0.5M265.9,40.0h0.5M266.1,69.0h0.5M201.3,100.8h0.5M232.6,101.4h0.5M209.1,94.0h0.5M244.8,97.8h0.5M218.2,50.1h0.5M206.8,84.2h0.5M257.1,53.6h0.5M202.5,45.9h0.5M214.7,100.4h0.5M220.7,84.9h0.5M197.8,93.3h0.5M193.7,99.9h0.5M254.4,100.7h0.5M252.5,45.6h0.5M254.5,51.7h0.5M229.7,84.7h0.5M228.7,85.8h0.5M259.8,86.8h0.5M195.3,65.7h0.5M256.4,95.8h0.5M249.2,83.1h0.5M224.4,99.2h0.5M234.0,101.6h0.5M248.9,70.5h0.5M205.8,70.7h0.5M228.6,66.9h0.5M196.0,78.1h0.5M202.0,83.9h0.5M199.0,58.3h0.5M196.1,90.8h0.5M231.9,94.1h0.5M209.9,91.9h0.5M242.9,52.3h0.5M203.8,91.8h0.5M195.1,78.3h0.5M235.9,97.2h0.5M210.0,102.3h0.5M233.2,101.7h0.5M247.4,82.7h0.5M253.5,82.2h0.5M248.5,86.0h0.5M218.9,98.1h0.5M208.3,62.8h0.5M246.4,90.7h0.5M215.5,72.6h0.5M232.4,69.2h0.5M254.6,89.2h0.5M215.5,82.1h0.5M239.8,91.9h0.5M206.0,85.2h0.5M241.1,78.0h0.5M237.3,54.8h0.5M239.6,76.3h0.5M244.5,36.7h0.5M265.8,84.1h0.5M263.7,62.4h0.5M260.4,75.5h0.5M252.6,79.3h0.5M203.1,97.6h0.5M233.1,78.8h0.5M234.9,49.5h0.5M252.4,89.9h0.5M250.9,87.2h0.5M203.4,101.5h0.5M232.8,71.9h0.5M255.2,68.6h0.5M245.1,85.0h0.5M212.8,100.3h0.5M205.1,74.8h0.5M196.8,78.2h0.5M196.4,84.7h0.5M195.6,32.6h0.5M246.0,95.9h0.5M199.0,76.4h0.5M240.8,102.4h0.5M260.0,86.8h0.5M219.9,73.8h0.5M195.9,102.0h0.5M201.7,42.3h0.5M262.1,86.0h0.5M236.1,94.7h0.5M211.2,83.0h0.5M226.3,84.3h0.5M205.3,58.7h0.5M232.2,94.9h0.5M238.2,79.9h0.5M264.4,64.5h0.5M252.8,91.9h0.5M227.7,93.1h0.5M264.0,58.9h0.5M201.5,96.7h0.5M256.6,65.2h0.5M242.2,102.0h0.5M241.1,67.2h0.5M247.8,102.2h0.5M232.6,73.9h0.5M236.0,91.8h0.5M258.6,81.5h0.5M237.3,52.8h0.5M254.4,100.4h0.5M201.8,88.8h0.5M192.5,45.1h0.5M253.9,79.1h0.5M245.9,74.1h0.5M258.6,52.8h0.5M249.6,90.5h0.5M224.6,101.4h0.5M225.2,81.7h0.5M238.3,85.3h0.5M216.3,53.8h0.5M222.2,72.6h0.5M217.2,98.1h0.5M193.1,80.5h0.5M252.6,78.8h0.5M240.8,79.8h0.5M205.8,77.9h0.5M197.9,68.7h0.5M236.7,101.4h0.5M207.8,54.7h0.5M252.1,86.3h0.5M248.7,76.8h0.5M191.7,92.5h0.5M262.1,96.5h0.5M254.6,65.0h0.5M208.8,41.4h0.5M201.3,54.1h0.5M213.3,92.2h0.5M229.4,91.9h0.5M245.7,70.0h0.5M258.0,87.9h0.5M244.7,44.3h0.5M256.3,71.6h0.5M243.6,82.6h0.5M223.4,67.7h0.5M251.9,83.4h0.5M242.5,79.1h0.5M230.0,101.0h0.5M227.2,79.3h0.5M222.2,84.2h0.5M206.0,77.2h0.5M253.6,85.1h0.5M229.9,59.6h0.5M243.5,77.5h0.5M219.5,52.1h0.5M195.7,60.8h0.5M258.7,76.5h0.5M209.2,91.9h0.5M213.8,72.7h0.5M264.0,73.4h0.5M205.3,72.9h0.5M265.4,95.6h0.5M251.7,101.3h0.5M242.6,88.0h0.5M236.0,99.7h0.5M237.7,92.6h0.5M215.1,77.8h0.5M262.2,47.6h0.5M207.6,63.4h0.5M255.8,95.1h0.5M266.2,99.8h0.5M256.8,98.7h0.5M216.7,65.2h0.5M202.9,88.0h0.5M228.4,94.7h0.5M261.7,74.1h0.5M263.8,88.0h0.5M207.6,90.2h0.5M249.4,71.5h0.5M193.9,73.7h0.5M230.1,86.4h0.5M224.0,69.9h0.5M206.3,74.8h0.5M262.5,60.9h0.5M219.2,92.0h0.5M252.9,93.7h0.5M204.5,80.7h0.5M262.0,94.9h0.5M201.8,64.0h0.5M198.1,78.9h0.5M206.8,98.9h0.5M231.7,66.3h0.5M261.8,44.0h0.5M195.0,64.4h0.5M202.2,71.1h0.5M252.0,90.0h0.5M260.3,101.1h0.5M225.0,86.5h0.5M249.1,47.7h0.5M239.2,98.5h0.5M232.7,78.9h0.5M196.6,94.4h0.5M209.3,69.3h0.5M232.0,51.4h0.5M216.1,102.1h0.5M221.9,57.2h0.5M232.0,78.8h0.5M207.5,79.3h0.5M197.7,101.2h0.5M216.0,91.6h0.5M250.5,61.6h0.5M234.3,51.3h0.5M265.4,98.0h0.5M251.8,79.0h0.5M200.9,72.7h0.5M247.8,73.7h0.5M249.5,100.2h0.5M263.9,63.4h0.5M230.4,99.7h0.5M223.8,96.9h0.5M201.6,97.4h0.5M261.4,90.0h0.5M197.3,89.0h0.5M191.9,67.9h0.5M215.1,68.6h0.5M208.1,84.5h0.5M255.8,54.7h0.5M230.4,72.2h0.5M204.7,68.5h0.5M227.3,79.1h0.5M214.3,97.0h0.5M244.8,37.5h0.5M208.1,77.0h0.5" stroke="#7078c8" stroke-width="0.5" opacity="0.35"/>
<path d="M239.4,57.6h0.6M219.6,44.0h0.6M244.0,64.6h0.6M236.6,73.6h0.6M236.5,78.3h0.6M228.1,68.9h0.6M237.4,73.6h0.6M226.3,62.9h0.6M221.9,71.1h0.6M227.7,56.4h0.6M227.6,71.7h0.6M232.3,67.2h0.6M232.2,74.3h0.6M223.5,62.4h0.6M237.3,75.0h0.6M222.2,63.1h0.6M240.4,75.1h0.6M230.2,77.3h0.6M239.9,80.5h0.6M222.2,58.5h0.6M227.9,68.6h0.6M228.9,71.0h0.6M240.6,78.0h0.6M237.5,69.0h0.6M241.7,72.7h0.6M232.7,68.9h0.6M219.4,86.5h0.6M231.0,76.3h0.6M245.6,67.5h0.6M223.7,77.3h0.6M232.7,61.3h0.6M237.3,69.1h0.6M225.1,48.5h0.6M224.8,72.1h0.6M224.5,76.9h0.6M245.2,71.6h0.6M232.6,68.4h0.6M236.6,69.3h0.6M237.8,80.6h0.6M236.6,61.2h0.6M235.4,66.9h0.6M233.1,76.9h0.6M226.9,70.7h0.6M240.5,62.3h0.6M229.9,74.9h0.6M229.6,77.3h0.6M224.6,56.9h0.6M233.5,67.9h0.6M233.1,76.8h0.6M237.9,66.2h0.6M228.6,53.3h0.6M224.9,71.0h0.6M232.5,57.0h0.6M236.2,68.7h0.6M238.2,66.2h0.6M237.3,60.1h0.6M219.2,62.5h0.6M235.6,72.3h0.6M219.0,70.2h0.6M235.4,82.6h0.6M236.1,73.2h0.6M221.0,72.0h0.6M218.5,66.6h0.6M228.7,61.2h0.6M224.6,67.9h0.6M234.9,63.8h0.6M233.1,74.8h0.6M231.0,84.5h0.6M229.1,63.1h0.6M218.9,77.7h0.6M235.5,67.5h0.6M233.1,68.0h0.6M236.7,68.9h0.6M232.6,68.4h0.6M225.4,51.1h0.6M234.6,59.0h0.6M233.7,74.2h0.6M243.2,63.0h0.6M232.1,76.7h0.6M226.8,64.3h0.6M234.0,85.7h0.6M238.0,76.7h0.6M224.9,74.3h0.6M238.4,58.8h0.6M231.2,67.5h0.6M235.3,55.0h0.6M235.6,69.0h0.6M229.4,52.0h0.6M217.8,64.7h0.6M235.3,72.5h0.6M235.9,55.3h0.6M232.4,79.9h0.6M221.1,74.3h0.6M226.4,73.4h0.6M231.7,55.9h0.6M224.4,79.3h0.6M230.4,79.0h0.6M233.3,76.2h0.6M228.6,70.8h0.6M228.7,76.3h0.6M227.4,77.9h0.6M241.2,59.2h0.6M230.0,73.4h0.6M242.5,78.3h0.6M231.7,55.1h0.6M236.5,64.3h0.6M232.3,72.3h0.6M222.0,77.6h0.6M237.0,73.7h0.6M234.9,71.9h0.6M222.1,64.9h0.6M236.3,66.4h0.6M231.3,72.0h0.6M231.7,71.1h0.6M234.2,69.0h0.6M224.0,66.9h0.6M237.2,63.6h0.6M234.1,71.5h0.6M225.4,46.4h0.6M231.0,62.8h0.6M227.1,76.5h0.6M226.2,71.8h0.6M231.8,70.6h0.6M243.9,53.2h0.6M237.3,67.9h0.6M229.3,63.7h0.6M231.4,69.4h0.6M225.2,82.2h0.6M226.3,67.9h0.6M222.9,70.2h0.6M233.4,77.7h0.6M237.4,65.0h0.6M241.4,68.2h0.6M241.1,82.8h0.6M228.5,60.4h0.6M234.6,80.5h0.6M233.6,77.8h0.6M234.9,76.1h0.6M239.6,66.7h0.6M222.0,68.1h0.6M226.0,59.5h0.6M230.0,74.7h0.6M219.3,56.9h0.6M236.2,61.9h0.6M228.6,79.9h0.6M238.3,71.9h0.6M234.5,47.2h0.6M234.7,72.1h0.6M222.2,70.5h0.6M234.0,68.1h0.6M236.2,76.1h0.6M231.4,67.0h0.6M223.5,78.1h0.6M227.4,71.6h0.6M240.9,75.2h0.6M222.9,68.3h0.6M226.5,55.8h0.6M225.9,73.7h0.6M233.3,67.4h0.6M232.2,59.7h0.6M226.2,67.7h0.6M236.2,66.5h0.6M230.0,71.7h0.6M240.5,58.9h0.6M234.5,70.5h0.6M230.6,71.0h0.6M218.4,69.2h0.6M229.6,59.1h0.6M236.5,68.1h0.6M228.9,75.1h0.6M225.2,63.3h0.6M236.4,76.0h0.6M244.0,65.4h0.6M221.8,57.1h0.6M223.4,69.9h0.6M229.5,63.6h0.6M224.6,63.4h0.6M228.7,78.5h0.6M235.1,80.0h0.6M236.3,75.1h0.6M238.6,72.6h0.6M240.9,78.1h0.6M242.7,70.7h0.6M226.1,89.1h0.6M229.3,73.2h0.6M228.6,63.4h0.6M233.9,60.1h0.6M230.1,80.3h0.6M231.9,75.6h0.6M235.2,72.1h0.6M231.7,73.9h0.6M224.9,73.7h0.6M224.2,63.0h0.6M227.3,58.3h0.6M218.5,72.1h0.6M234.3,74.3h0.6M245.2,70.4h0.6M235.9,63.0h0.6M235.6,59.9h0.6M243.7,61.3h0.6M228.4,75.0h0.6M217.0,79.7h0.6M225.0,70.6h0.6M237.3,70.3h0.6M237.0,65.0h0.6M234.9,51.6h0.6M240.7,63.7h0.6M225.5,69.1h0.6M241.9,63.4h0.6M230.9,66.1h0.6M225.1,58.6h0.6M234.8,74.7h0.6M226.2,70.8h0.6M233.9,72.0h0.6M230.0,69.4h0.6M232.8,60.5h0.6M230.1,75.4h0.6M227.4,79.5h0.6M229.5,60.2h0.6M229.1,58.2h0.6M234.9,56.3h0.6M231.1,67.1h0.6M229.1,72.4h0.6M232.9,64.5h0.6M236.3,65.4h0.6M236.8,79.7h0.6M233.4,76.4h0.6M222.5,73.5h0.6M221.5,67.6h0.6M235.5,47.6h0.6M226.0,62.8h0.6M225.0,69.2h0.6M235.1,59.8h0.6M227.0,54.2h0.6M226.5,52.3h0.6M221.4,72.8h0.6M236.6,62.5h0.6M233.3,62.8h0.6M237.9,83.0h0.6M215.2,62.1h0.6M226.9,65.2h0.6M241.0,81.6h0.6M230.9,74.1h0.6M220.8,66.6h0.6M229.2,67.8h0.6M232.9,56.5h0.6M224.3,86.1h0.6M219.9,69.5h0.6M235.7,72.9h0.6M231.4,56.1h0.6M228.0,56.5h0.6M243.6,71.9h0.6M235.7,70.6h0.6M228.5,78.5h0.6M236.7,74.1h0.6M234.7,74.9h0.6M229.2,72.5h0.6M231.5,67.0h0.6M235.2,86.1h0.6M218.0,80.5h0.6M228.2,78.6h0.6M224.5,67.5h0.6M237.6,68.4h0.6M233.3,59.3h0.6M223.7,82.3h0.6M232.0,68.3h0.6M222.1,60.7h0.6M224.4,68.6h0.6M230.3,64.1h0.6M226.7,69.9h0.6M238.5,57.8h0.6M221.9,78.0h0.6M221.9,65.7h0.6M231.8,83.6h0.6M217.9,45.8h0.6M230.5,77.6h0.6M231.9,62.5h0.6M232.2,52.5h0.6M236.3,80.9h0.6M229.7,75.6h0.6M224.2,80.8h0.6M226.9,62.6h0.6M226.1,54.8h0.6M235.3,85.0h0.6M221.8,67.4h0.6M233.9,64.5h0.6M221.0,71.7h0.6M237.4,69.8h0.6M224.1,66.6h0.6M218.6,68.5h0.6M238.8,77.9h0.6M230.5,72.5h0.6M227.7,70.1h0.6M227.2,70.3h0.6M227.7,70.6h0.6M235.5,68.9h0.6M222.7,73.0h0.6M229.4,65.0h0.6M234.6,62.3h0.6M237.0,73.5h0.6M226.6,63.4h0.6M230.2,61.7h0.6M237.1,50.9h0.6M232.0,66.2h0.6M224.0,74.1h0.6M227.9,72.7h0.6M228.2,66.7h0.6M234.4,76.7h0.6M237.4,68.8h0.6M240.5,66.3h0.6M222.3,54.0h0.6M221.8,62.1h0.6M219.6,71.6h0.6M231.2,68.7h0.6M232.5,68.1h0.6M229.4,66.5h0.6M231.3,60.0h0.6M239.2,81.4h0.6M231.2,87.3h0.6M224.8,76.2h0.6M220.6,73.9h0.6M226.2,77.1h0.6M231.7,76.6h0.6M234.9,73.2h0.6M229.3,81.8h0.6M233.3,72.9h0.6M240.2,66.9h0.6M242.2,77.7h0.6M231.5,57.4h0.6M238.8,66.5h0.6M231.6,70.0h0.6M237.1,74.1h0.6M219.4,63.7h0.6M233.3,70.4h0.6M236.1,73.6h0.6M241.4,63.2h0.6M239.4,72.1h0.6M232.9,74.5h0.6M228.9,74.8h0.6M229.7,74.8h0.6M226.2,78.4h0.6M221.3,63.7h0.6M230.7,71.0h0.6M225.9,65.8h0.6M232.7,77.4h0.6M239.3,65.2h0.6M230.6,66.5h0.6M221.3,65.4h0.6M238.3,58.2h0.6M249.3,76.9h0.6M242.1,70.5h0.6M216.3,72.5h0.6M241.2,64.4h0.6M239.1,75.1h0.6M236.0,75.0h0.6M234.8,74.2h0.6M238.7,72.4h0.6M235.1,72.5h0.6M231.9,62.0h0.6M219.6,60.9h0.6M223.1,57.1h0.6M235.4,66.4h0.6M239.2,94.1h0.6M236.0,65.3h0.6M233.5,67.4h0.6M232.9,85.8h0.6M241.3,79.3h0.6M232.9,83.4h0.6M236.3,76.2h0.6M223.6,64.1h0.6M232.1,67.3h0.6M227.7,52.9h0.6M226.3,68.2h0.6M233.0,60.4h0.6M230.2,83.6h0.6M232.1,53.2h0.6M229.9,69.1h0.6M239.1,70.6h0.6M239.8,71.7h0.6M238.5,79.9h0.6M240.9,70.6h0.6M235.2,100.7h0.6M223.3,70.6h0.6M234.1,63.4h0.6M236.3,67.7h0.6M236.1,70.6h0.6M225.1,77.5h0.6M243.9,76.5h0.6M232.9,55.1h0.6M233.1,68.8h0.6M226.0,53.6h0.6M233.9,76.9h0.6M235.6,87.4h0.6M219.0,71.9h0.6M230.9,80.5h0.6M230.9,61.2h0.6M230.7,72.6h0.6M226.4,62.7h0.6M232.8,76.1h0.6M229.6,73.0h0.6M227.9,66.3h0.6M232.3,76.9h0.6M241.2,68.0h0.6M233.9,84.9h0.6M236.4,66.1h0.6M233.7,57.5h0.6M217.7,62.9h0.6M226.5,58.2h0.6M237.6,65.4h0.6M231.6,69.6h0.6M229.8,59.6h0.6M243.4,53.0h0.6M230.9,74.7h0.6M229.8,68.2h0.6M233.1,71.0h0.6M228.9,77.8h0.6M234.3,81.2h0.6M231.7,53.0h0.6M220.6,64.9h0.6M234.0,55.8h0.6M227.5,79.1h0.6M233.2,63.3h0.6M230.4,70.0h0.6M228.4,66.5h0.6M227.1,70.8h0.6M241.2,80.8h0.6M223.2,87.8h0.6M230.3,57.7h0.6M221.6,70.2h0.6M232.6,63.9h0.6M226.0,67.3h0.6M232.8,74.5h0.6M234.6,49.8h0.6M227.3,71.2h0.6M233.5,75.5h0.6M221.7,81.7h0.6M223.5,67.4h0.6M228.2,65.2h0.6M226.2,75.7h0.6M236.1,71.9h0.6M223.0,64.0h0.6M230.7,72.3h0.6M227.6,66.9h0.6M247.7,69.6h0.6M229.2,49.2h0.6M226.4,82.3h0.6M236.5,59.4h0.6M236.1,70.4h0.6M226.1,75.5h0.6M227.3,66.6h0.6M231.2,70.8h0.6M228.3,71.5h0.6M231.1,70.6h0.6M233.6,63.9h0.6M222.5,68.5h0.6M238.9,71.7h0.6M232.5,63.1h0.6M223.9,59.0h0.6M225.3,66.0h0.6M221.4,68.1h0.6M221.2,74.3h0.6M231.0,54.8h0.6M227.7,70.9h0.6M233.5,75.3h0.6M228.9,67.9h0.6M229.6,73.5h0.6M226.8,67.7h0.6M232.0,66.2h0.6M224.3,80.0h0.6M234.3,61.7h0.6M243.5,62.9h0.6M225.6,66.1h0.6M234.5,81.2h0.6M239.7,73.5h0.6M231.5,74.4h0.6M226.2,63.4h0.6M234.5,70.7h0.6M232.6,60.8h0.6M232.7,57.4h0.6M236.9,69.1h0.6M227.1,65.3h0.6M248.6,94.4h0.6M226.7,80.1h0.6M212.9,78.2h0.6M231.2,71.1h0.6M225.1,58.5h0.6M232.6,65.5h0.6M234.3,77.6h0.6M230.4,73.4h0.6M232.2,71.0h0.6M227.9,71.0h0.6M233.9,69.7h0.6M228.3,57.3h0.6M224.4,81.7h0.6M237.5,71.5h0.6M233.0,67.9h0.6M235.4,76.8h0.6M229.6,71.6h0.6M237.1,56.3h0.6M225.2,64.4h0.6M223.8,65.5h0.6M225.8,65.9h0.6M234.1,59.6h0.6M231.7,80.2h0.6M232.3,59.2h0.6M227.3,78.5h0.6M229.5,64.0h0.6M236.0,63.3h0.6M224.1,74.0h0.6M231.2,63.8h0.6M234.0,78.0h0.6M237.9,69.9h0.6M234.0,73.1h0.6M221.8,82.5h0.6M227.0,64.5h0.6M226.0,61.3h0.6M238.0,69.1h0.6M227.5,54.3h0.6M232.2,68.7h0.6M224.7,68.3h0.6M219.7,74.3h0.6M223.5,73.1h0.6M231.7,51.9h0.6M224.1,63.8h0.6M236.1,73.9h0.6M235.1,82.6h0.6M229.3,65.0h0.6M219.4,60.7h0.6M234.7,62.3h0.6M225.7,76.8h0.6M215.7,80.3h0.6M239.2,54.6h0.6M234.1,69.0h0.6M236.8,66.3h0.6M230.4,80.5h0.6M227.4,72.5h0.6M235.1,68.2h0.6M236.6,73.3h0.6M236.3,55.3h0.6M224.7,71.5h0.6M238.4,80.7h0.6M231.2,63.0h0.6M224.3,53.3h0.6M228.0,73.8h0.6M230.7,57.1h0.6M230.5,69.5h0.6M226.5,80.9h0.6M233.9,78.0h0.6M231.8,61.2h0.6M237.9,78.0h0.6M227.5,58.3h0.6M236.2,64.5h0.6M223.9,68.4h0.6M234.6,63.0h0.6M231.4,77.1h0.6M235.8,56.5h0.6M235.6,83.5h0.6M236.9,68.4h0.6M233.4,56.3h0.6M227.5,64.9h0.6M244.1,69.1h0.6M225.1,82.8h0.6M238.8,55.7h0.6M229.9,55.4h0.6M237.6,50.7h0.6M242.7,60.5h0.6M224.6,86.2h0.6M234.5,72.0h0.6M236.5,61.1h0.6M236.6,66.8h0.6M234.4,71.0h0.6M239.8,58.7h0.6M222.5,74.4h0.6M245.9,73.5h0.6M230.1,74.5h0.6M223.6,69.8h0.6M220.7,70.0h0.6M235.6,82.9h0.6M228.0,76.6h0.6M239.5,60.6h0.6M229.4,54.0h0.6M225.7,72.6h0.6M218.5,66.7h0.6M235.6,80.7h0.6M215.6,72.2h0.6M227.3,50.4h0.6M224.8,73.9h0.6M231.0,74.8h0.6M229.3,74.4h0.6M225.1,61.2h0.6M230.1,54.9h0.6M238.8,67.1h0.6M225.0,62.1h0.6M225.1,70.1h0.6M228.9,76.1h0.6M224.0,68.5h0.6M221.8,65.3h0.6M239.6,68.1h0.6M236.7,68.6h0.6M224.3,61.9h0.6M224.1,71.9h0.6M232.6,93.0h0.6M241.5,76.0h0.6M225.1,70.0h0.6M225.5,88.2h0.6M226.6,78.6h0.6M222.7,75.3h0.6M223.5,65.3h0.6M232.2,70.2h0.6M230.8,68.6h0.6M225.8,68.2h0.6M230.7,61.5h0.6M234.6,70.5h0.6M226.4,79.7h0.6M227.6,53.6h0.6M239.0,66.0h0.6M240.2,72.6h0.6M225.6,78.2h0.6M234.0,76.6h0.6M231.4,81.8h0.6M236.9,66.3h0.6M221.8,68.7h0.6M231.5,61.0h0.6M229.9,81.3h0.6M228.2,78.3h0.6M225.3,61.1h0.6M236.9,67.7h0.6M232.5,77.5h0.6M241.2,59.0h0.6M234.7,70.9h0.6M232.0,83.7h0.6M229.6,64.2h0.6M234.2,52.5h0.6M233.4,61.8h0.6M233.1,63.0h0.6M234.3,67.1h0.6M226.7,73.5h0.6M235.7,56.0h0.6M223.1,66.9h0.6M228.7,79.9h0.6M241.0,73.0h0.6M237.9,66.4h0.6M222.6,71.5h0.6M220.2,82.4h0.6M232.7,78.6h0.6M227.1,55.9h0.6M229.8,73.1h0.6M229.8,64.9h0.6M231.6,67.5h0.6M239.7,58.4h0.6M217.3,68.3h0.6M232.8,56.5h0.6M230.8,72.7h0.6M233.2,71.5h0.6M226.4,57.2h0.6M237.0,66.2h0.6M222.6,81.8h0.6M235.7,46.1h0.6M247.1,70.3h0.6M221.1,76.9h0.6M233.1,79.2h0.6M231.2,55.4h0.6M230.1,65.6h0.6M232.9,67.5h0.6M234.6,59.1h0.6M227.7,64.8h0.6M233.7,55.1h0.6M231.1,88.6h0.6M219.9,77.5h0.6M231.7,77.2h0.6M231.4,71.2h0.6M233.3,72.8h0.6M223.6,68.0h0.6M242.4,80.7h0.6M225.8,61.3h0.6M230.0,77.7h0.6M236.8,64.2h0.6M216.3,68.7h0.6M220.7,78.9h0.6M240.3,74.5h0.6M234.8,73.7h0.6M242.5,78.0h0.6M240.0,59.6h0.6M227.8,69.0h0.6M217.2,66.7h0.6M230.9,68.5h0.6M246.8,67.4h0.6M229.8,68.1h0.6M228.9,57.4h0.6M238.0,69.2h0.6M233.3,69.3h0.6M226.2,56.0h0.6M229.3,73.4h0.6M230.3,75.0h0.6M226.1,66.6h0.6M232.0,68.2h0.6M232.1,80.8h0.6M228.4,70.1h0.6M227.0,73.5h0.6M232.4,63.0h0.6M224.8,59.2h0.6M229.3,70.3h0.6M228.0,68.1h0.6M231.9,88.3h0.6M238.4,88.1h0.6M231.9,70.8h0.6M243.2,72.2h0.6M235.1,64.9h0.6M227.7,75.4h0.6M227.3,63.6h0.6M221.7,71.5h0.6M230.5,73.5h0.6M225.6,58.9h0.6M237.9,69.2h0.6M236.0,59.6h0.6M223.0,48.3h0.6M232.9,77.2h0.6M239.3,83.6h0.6M219.7,60.1h0.6M227.7,62.5h0.6M229.7,62.5h0.6M221.9,68.7h0.6M231.8,62.7h0.6M231.2,58.4h0.6M229.0,66.3h0.6M228.2,68.4h0.6M223.1,58.0h0.6M225.8,75.1h0.6M225.1,61.3h0.6M243.4,66.9h0.6M228.6,61.8h0.6M240.2,73.3h0.6M232.7,82.1h0.6M223.6,55.2h0.6M237.9,72.6h0.6M227.8,75.6h0.6M230.4,85.1h0.6M223.1,72.0h0.6M237.1,76.3h0.6M228.8,65.7h0.6M228.3,74.7h0.6M228.5,67.9h0.6M237.4,68.1h0.6M232.5,68.0h0.6M231.1,50.8h0.6M225.1,72.0h0.6M227.0,63.9h0.6M231.3,87.8h0.6M226.3,61.2h0.6M219.8,72.8h0.6M230.7,62.1h0.6M228.4,77.1h0.6M237.4,72.0h0.6M238.2,77.3h0.6M228.1,75.6h0.6M232.0,75.3h0.6M232.7,86.6h0.6M223.2,72.0h0.6M224.2,88.1h0.6M227.8,66.0h0.6M230.9,68.6h0.6M241.7,68.6h0.6M232.6,77.8h0.6M240.4,61.1h0.6M232.9,58.1h0.6M234.1,80.7h0.6M227.7,66.7h0.6M238.4,72.6h0.6M236.0,65.2h0.6M229.0,66.0h0.6M240.8,56.7h0.6M227.8,81.9h0.6M230.6,60.0h0.6M232.5,67.2h0.6M230.2,73.1h0.6M235.9,56.7h0.6M232.2,81.4h0.6M222.6,68.2h0.6M223.7,74.5h0.6M225.7,66.3h0.6M228.4,72.8h0.6M222.8,57.5h0.6M232.2,80.2h0.6M227.8,72.4h0.6M232.6,69.9h0.6M230.9,64.4h0.6M229.5,79.0h0.6M233.8,79.6h0.6M226.4,70.0h0.6M227.0,58.1h0.6M236.6,66.7h0.6M232.5,57.3h0.6M229.4,68.0h0.6M228.6,77.4h0.6M233.8,70.1h0.6M232.4,65.3h0.6M226.5,66.7h0.6M224.6,67.6h0.6M230.3,78.3h0.6M228.3,89.1h0.6M227.7,70.1h0.6M230.8,63.9h0.6M230.6,54.3h0.6M238.0,64.2h0.6M230.8,54.0h0.6M234.5,58.4h0.6M239.5,60.3h0.6M226.4,74.5h0.6M239.0,52.6h0.6M220.4,82.4h0.6M233.7,56.4h0.6M228.2,74.8h0.6M228.5,81.5h0.6M226.5,70.4h0.6M238.2,81.3h0.6M232.4,73.8h0.6M228.9,68.4h0.6M227.4,72.2h0.6M236.2,60.6h0.6M223.7,69.4h0.6M243.4,70.9h0.6M231.8,68.6h0.6M220.5,63.1h0.6M240.4,51.5h0.6M242.2,59.0h0.6M243.7,90.9h0.6M240.3,67.8h0.6M234.6,64.4h0.6M228.2,70.7h0.6M211.3,73.7h0.6M229.0,59.9h0.6M229.2,74.4h0.6M226.1,72.0h0.6M222.6,69.8h0.6M223.8,75.4h0.6M224.5,74.1h0.6M218.5,70.5h0.6M237.8,62.1h0.6M231.3,61.8h0.6M233.9,75.3h0.6M238.1,80.1h0.6M239.1,62.9h0.6M231.7,73.4h0.6M232.1,58.0h0.6M243.6,90.3h0.6M231.3,47.2h0.6M242.3,67.4h0.6M245.1,60.2h0.6M234.2,75.6h0.6M222.0,66.2h0.6M234.0,74.5h0.6M233.4,47.1h0.6M216.1,72.0h0.6M240.9,56.1h0.6M233.4,76.8h0.6M224.9,55.7h0.6M232.6,65.3h0.6M230.3,67.3h0.6M230.2,71.6h0.6M227.6,68.7h0.6M227.4,61.7h0.6M233.1,62.0h0.6M234.3,68.7h0.6M237.7,73.9h0.6M218.5,68.7h0.6M235.0,69.9h0.6M231.2,78.1h0.6M235.1,57.7h0.6M231.5,77.4h0.6M231.9,58.2h0.6M235.8,74.0h0.6M238.1,70.4h0.6M231.6,76.1h0.6M224.1,83.4h0.6M233.4,70.8h0.6M235.7,75.6h0.6M217.2,76.8h0.6M230.3,62.3h0.6M236.6,76.9h0.6M233.3,63.7h0.6M231.6,60.9h0.6M246.6,63.4h0.6M236.4,82.7h0.6M225.6,64.5h0.6M217.0,66.9h0.6M222.7,70.3h0.6M229.5,69.1h0.6M231.2,65.0h0.6M231.6,68.4h0.6M226.5,66.3h0.6M227.4,58.1h0.6M230.8,53.3h0.6M234.2,68.7h0.6M232.0,78.7h0.6M236.9,65.3h0.6M233.1,79.0h0.6M229.9,72.2h0.6M233.5,60.2h0.6M232.7,65.7h0.6M229.3,72.6h0.6M235.0,61.4h0.6M229.3,67.3h0.6M225.0,72.1h0.6M229.6,63.0h0.6M236.8,68.3h0.6M223.7,68.2h0.6M229.8,71.4h0.6M245.0,73.6h0.6M239.9,67.5h0.6M233.9,73.1h0.6M230.3,71.0h0.6M228.1,74.8h0.6M225.3,83.4h0.6M207.8,57.3h0.6M230.1,72.0h0.6M231.8,55.3h0.6M233.6,61.5h0.6M232.2,65.4h0.6M229.2,56.2h0.6M222.8,64.3h0.6M224.3,71.0h0.6M222.2,70.8h0.6M234.4,62.7h0.6M224.9,66.0h0.6M235.8,80.7h0.6M244.3,69.7h0.6M234.8,70.6h0.6M230.8,59.9h0.6M228.7,78.4h0.6M239.5,63.9h0.6M220.8,84.9h0.6M231.1,72.8h0.6M229.8,53.8h0.6M232.9,60.8h0.6M229.1,63.7h0.6M229.3,89.2h0.6M240.3,52.5h0.6M221.3,64.7h0.6M226.8,75.5h0.6M240.6,62.8h0.6M234.5,67.2h0.6M218.6,78.9h0.6M241.8,62.0h0.6M234.8,64.6h0.6M230.3,65.1h0.6M230.0,69.3h0.6M227.1,71.3h0.6M222.8,75.8h0.6M225.0,53.3h0.6M236.1,66.1h0.6M227.6,76.7h0.6M230.7,85.4h0.6M233.6,56.9h0.6M227.8,63.3h0.6M229.1,83.2h0.6M247.8,83.4h0.6M233.7,73.6h0.6M231.9,50.3h0.6M239.6,85.7h0.6M227.6,68.7h0.6M226.5,67.2h0.6M225.5,59.4h0.6M238.4,52.6h0.6M237.3,59.3h0.6M229.3,52.0h0.6M235.0,60.5h0.6M246.4,61.1h0.6M232.5,74.5h0.6M224.8,62.0h0.6M224.3,73.7h0.6M232.8,77.5h0.6M222.0,61.1h0.6M230.2,65.2h0.6M232.9,78.5h0.6M231.7,62.2h0.6M230.7,62.9h0.6M226.8,84.6h0.6M235.1,84.4h0.6M229.6,68.4h0.6M223.0,71.0h0.6M235.4,74.8h0.6M223.7,69.9h0.6M236.7,65.0h0.6M235.3,64.7h0.6M230.9,64.1h0.6M221.7,61.9h0.6M232.0,66.5h0.6M230.9,64.1h0.6M236.4,67.5h0.6M233.4,64.9h0.6M239.0,68.1h0.6M233.6,87.6h0.6M233.6,55.8h0.6M226.8,71.7h0.6M222.7,56.5h0.6M230.2,55.7h0.6M237.7,72.6h0.6M229.0,79.2h0.6M226.7,59.0h0.6M236.6,69.1h0.6M229.5,77.7h0.6M230.1,74.4h0.6M232.3,78.7h0.6M234.4,65.0h0.6M240.3,66.0h0.6M241.7,58.3h0.6M231.3,50.1h0.6M234.2,80.3h0.6M228.5,73.0h0.6M229.5,81.1h0.6M233.0,72.0h0.6M237.8,56.1h0.6M235.3,70.1h0.6M239.0,69.2h0.6M234.7,68.5h0.6M224.8,64.7h0.6M229.8,57.8h0.6M230.7,65.0h0.6M242.3,66.9h0.6M231.7,69.8h0.6M235.3,55.4h0.6M220.1,82.3h0.6M225.7,61.5h0.6M238.2,71.5h0.6M225.9,75.3h0.6M223.9,82.7h0.6M229.0,71.8h0.6M230.9,85.2h0.6M225.0,68.2h0.6M244.3,51.8h0.6M227.9,71.3h0.6M229.6,72.7h0.6M238.2,59.4h0.6M226.9,80.1h0.6M243.1,46.5h0.6M234.3,77.4h0.6M226.8,61.7h0.6M223.9,67.3h0.6M223.8,75.0h0.6M226.7,73.4h0.6M221.2,76.5h0.6M235.1,76.9h0.6M232.7,88.4h0.6M237.0,69.4h0.6M241.0,66.0h0.6M231.9,82.8h0.6M228.1,69.0h0.6M232.5,70.6h0.6M229.5,77.5h0.6M244.4,65.7h0.6M221.8,65.1h0.6M222.4,58.3h0.6M224.5,77.9h0.6M232.0,75.0h0.6M230.3,77.6h0.6M228.5,80.0h0.6M236.5,70.8h0.6M221.9,59.7h0.6M232.6,60.2h0.6M229.9,67.6h0.6M239.6,63.3h0.6M231.8,65.1h0.6M226.3,72.7h0.6M237.0,57.0h0.6M240.3,87.8h0.6M232.0,73.4h0.6M224.5,65.6h0.6M232.9,68.3h0.6M239.6,61.6h0.6M229.5,73.4h0.6M230.6,66.9h0.6M230.3,72.4h0.6M219.0,90.9h0.6M235.7,60.1h0.6M225.4,59.5h0.6M233.7,53.4h0.6M246.3,64.4h0.6M222.3,86.3h0.6M231.0,73.2h0.6M229.8,66.9h0.6M243.8,52.5h0.6M232.6,62.8h0.6M228.9,68.5h0.6M219.6,74.2h0.6M232.3,73.7h0.6M227.3,75.3h0.6M228.1,75.5h0.6M239.4,74.3h0.6M222.1,69.6h0.6M224.6,85.4h0.6M232.3,58.3h0.6M221.5,80.1h0.6M224.8,72.5h0.6M229.0,67.8h0.6M228.3,69.1h0.6M241.0,61.7h0.6M234.2,73.1h0.6M226.9,59.8h0.6M225.5,73.9h0.6M232.0,77.6h0.6M233.3,70.0h0.6M231.1,71.0h0.6M231.3,74.6h0.6M225.7,78.0h0.6M241.1,68.3h0.6M234.6,59.2h0.6M231.7,57.0h0.6M237.2,69.4h0.6M237.7,78.5h0.6M226.5,75.8h0.6M240.6,87.6h0.6M230.4,73.6h0.6M227.1,74.4h0.6M234.8,81.2h0.6M230.1,69.5h0.6M234.1,67.6h0.6M243.9,50.5h0.6M220.4,64.8h0.6M235.4,69.2h0.6M233.7,56.4h0.6M234.7,73.6h0.6M241.2,75.9h0.6M227.2,62.9h0.6M224.0,65.0h0.6M230.4,79.5h0.6M241.3,69.7h0.6M234.8,67.7h0.6M223.0,73.5h0.6M226.5,55.6h0.6M225.8,81.5h0.6M223.8,80.4h0.6M222.5,68.5h0.6M234.2,65.7h0.6M225.0,69.1h0.6M241.5,74.6h0.6M232.3,73.8h0.6M238.4,80.1h0.6M229.4,61.7h0.6M224.9,69.6h0.6M229.2,69.1h0.6M227.2,89.8h0.6M226.7,80.9h0.6M225.7,62.5h0.6M223.7,60.0h0.6M220.8,62.2h0.6M229.5,74.8h0.6M219.9,72.7h0.6M230.3,69.0h0.6M217.6,73.1h0.6M235.2,78.6h0.6M229.2,79.4h0.6M231.5,61.4h0.6M234.3,77.2h0.6M232.5,68.8h0.6M229.5,74.6h0.6M219.7,71.6h0.6M223.0,64.7h0.6M232.3,79.3h0.6M231.0,61.4h0.6M248.1,71.7h0.6M214.1,68.3h0.6M226.4,64.0h0.6M237.6,86.8h0.6M231.7,57.9h0.6M236.5,69.8h0.6M228.5,70.8h0.6M223.8,70.7h0.6M233.3,78.9h0.6M243.6,63.8h0.6M233.4,62.5h0.6M231.8,78.6h0.6M235.1,66.6h0.6M242.3,76.5h0.6M238.8,69.7h0.6M239.4,67.8h0.6M236.5,69.4h0.6M231.0,56.2h0.6M237.2,73.9h0.6M227.1,69.6h0.6M234.8,74.4h0.6M218.0,81.4h0.6M224.6,84.9h0.6M238.2,70.2h0.6M232.3,71.4h0.6M228.5,81.7h0.6M226.8,64.6h0.6M229.6,55.9h0.6M237.6,59.2h0.6M240.6,76.9h0.6M243.8,64.1h0.6M229.1,65.3h0.6M236.1,61.6h0.6M229.0,49.8h0.6M231.3,70.8h0.6M243.6,62.1h0.6M237.2,73.8h0.6M236.6,59.9h0.6M209.0,65.0h0.6M237.2,70.5h0.6M240.2,87.1h0.6M226.6,65.7h0.6M240.8,55.1h0.6M215.1,71.3h0.6M233.1,81.7h0.6M235.7,68.7h0.6M227.4,53.7h0.6M234.4,64.0h0.6M228.6,71.8h0.6M218.1,68.4h0.6M227.1,85.8h0.6M230.3,78.5h0.6M224.8,55.8h0.6M236.7,66.1h0.6M222.5,78.1h0.6M234.3,54.6h0.6M229.6,85.9h0.6M231.8,57.7h0.6M225.7,80.8h0.6M240.7,74.9h0.6M221.4,76.1h0.6M225.8,64.8h0.6M227.9,78.2h0.6M234.3,73.9h0.6M228.2,64.7h0.6M238.0,63.9h0.6M229.3,73.8h0.6M229.9,77.4h0.6M234.7,74.5h0.6M245.9,64.5h0.6M244.5,58.2h0.6M226.0,47.9h0.6M226.7,62.3h0.6M235.6,79.8h0.6M246.0,64.6h0.6M237.9,67.5h0.6M219.2,33.6h0.6M228.8,52.5h0.6M236.7,61.1h0.6M235.3,63.3h0.6M234.2,60.9h0.6M233.6,84.6h0.6M233.5,57.4h0.6M226.0,70.2h0.6M236.3,58.5h0.6M225.2,55.2h0.6M242.4,71.5h0.6M233.2,65.3h0.6M243.4,74.0h0.6M230.4,79.5h0.6M234.9,66.6h0.6M228.7,69.1h0.6M240.0,56.9h0.6M220.4,74.9h0.6M237.9,81.5h0.6M234.8,56.2h0.6M236.3,70.5h0.6M224.6,55.3h0.6M221.1,69.6h0.6M222.7,72.1h0.6M230.1,74.6h0.6M236.7,61.2h0.6M228.6,75.4h0.6M226.9,77.8h0.6M234.9,76.8h0.6M227.2,75.8h0.6M229.7,70.9h0.6M235.1,64.2h0.6M230.8,48.5h0.6M226.6,74.4h0.6M224.1,50.8h0.6M221.8,66.5h0.6M235.4,73.6h0.6M221.9,72.5h0.6M223.2,78.4h0.6M233.6,63.5h0.6M228.0,68.3h0.6M227.3,79.1h0.6M233.0,64.1h0.6M234.0,57.1h0.6M232.1,66.2h0.6M227.4,68.5h0.6M232.5,56.4h0.6M233.4,94.6h0.6M236.1,63.9h0.6M233.3,83.3h0.6M224.2,83.3h0.6M228.8,85.4h0.6M225.8,78.0h0.6M227.4,79.9h0.6M236.8,71.9h0.6M225.7,78.1h0.6M233.4,59.6h0.6M234.6,67.5h0.6M230.3,60.5h0.6M232.4,76.5h0.6M225.7,76.0h0.6M219.5,70.0h0.6M232.7,60.7h0.6M232.0,57.6h0.6M242.9,72.4h0.6M237.9,60.9h0.6M216.8,68.3h0.6M239.5,67.6h0.6M238.4,72.5h0.6M233.1,78.1h0.6M227.3,65.4h0.6M238.0,72.9h0.6M227.6,59.6h0.6M240.4,41.0h0.6M236.8,67.7h0.6M222.9,72.5h0.6M234.0,88.8h0.6M232.9,47.2h0.6M225.2,75.6h0.6M228.0,68.5h0.6M230.5,81.4h0.6M233.1,67.6h0.6M227.0,77.7h0.6M226.7,72.6h0.6M233.6,75.5h0.6M235.9,71.4h0.6M243.3,75.8h0.6M226.3,61.1h0.6M226.7,80.5h0.6M224.2,82.6h0.6M233.7,63.9h0.6M224.9,68.1h0.6M235.7,68.3h0.6M235.5,70.5h0.6M239.4,64.8h0.6M230.2,59.2h0.6M229.1,60.4h0.6M221.7,67.1h0.6M235.2,49.5h0.6M223.2,56.9h0.6M233.3,73.9h0.6M233.0,67.4h0.6M226.3,70.6h0.6M225.7,67.0h0.6M233.5,66.8h0.6M238.4,50.1h0.6M221.3,77.6h0.6M227.6,64.9h0.6M227.6,68.4h0.6M230.1,72.1h0.6M236.7,85.0h0.6M218.0,68.0h0.6M225.6,70.8h0.6M224.9,69.6h0.6M232.7,68.6h0.6M232.5,74.7h0.6M224.6,68.6h0.6M237.5,77.0h0.6M237.0,61.8h0.6M227.0,77.5h0.6M231.0,71.5h0.6M228.9,76.9h0.6M232.1,60.4h0.6M233.3,66.0h0.6M229.4,73.9h0.6M231.9,64.0h0.6M223.9,65.1h0.6M230.2,58.7h0.6M227.2,89.1h0.6M227.1,69.5h0.6M223.5,66.2h0.6M232.5,70.4h0.6M220.7,69.3h0.6M225.0,78.4h0.6M230.4,82.7h0.6M233.2,58.9h0.6M236.8,64.8h0.6M230.4,69.8h0.6M223.1,79.1h0.6M231.9,60.1h0.6M222.6,73.0h0.6M238.4,72.5h0.6M232.9,65.4h0.6M237.7,73.7h0.6M226.1,63.7h0.6M217.8,78.9h0.6M249.3,68.0h0.6M233.7,75.6h0.6M229.7,87.5h0.6M224.8,61.8h0.6M240.9,76.9h0.6M235.6,68.1h0.6M230.7,70.3h0.6M233.6,63.8h0.6M237.4,84.0h0.6M227.8,60.8h0.6M231.8,90.2h0.6M225.2,80.6h0.6M226.9,62.5h0.6M237.6,67.5h0.6M230.8,75.1h0.6M237.9,71.1h0.6M240.5,63.2h0.6M227.8,74.9h0.6M235.0,54.1h0.6M229.1,75.0h0.6M230.1,84.5h0.6M221.4,70.8h0.6M225.9,55.3h0.6M229.6,68.5h0.6M228.5,63.6h0.6M236.3,60.1h0.6M227.2,57.0h0.6M238.1,56.4h0.6M241.6,61.1h0.6M230.7,83.1h0.6M224.5,80.4h0.6M223.1,65.1h0.6M234.4,72.0h0.6M233.1,71.8h0.6M240.6,55.2h0.6M226.8,76.6h0.6M222.0,63.1h0.6M246.0,80.6h0.6M234.1,69.8h0.6M230.0,61.5h0.6M225.7,60.7h0.6M223.2,70.2h0.6M233.6,61.0h0.6M231.8,57.7h0.6M233.3,66.3h0.6M230.6,70.8h0.6M239.0,70.9h0.6M227.0,70.5h0.6M233.4,73.7h0.6M237.5,62.1h0.6M223.7,74.5h0.6M224.1,73.0h0.6M247.7,79.8h0.6M222.0,62.1h0.6M233.4,66.7h0.6M235.3,71.2h0.6M233.1,73.9h0.6M221.4,79.0h0.6M222.3,61.6h0.6M216.2,69.2h0.6M233.5,65.9h0.6M223.7,50.4h0.6M234.5,59.2h0.6M228.8,71.2h0.6M230.6,72.7h0.6M241.2,75.3h0.6M224.8,68.8h0.6M229.6,61.8h0.6M235.0,65.8h0.6M232.5,74.7h0.6M243.9,63.9h0.6M235.5,87.7h0.6M240.8,71.8h0.6M226.5,70.6h0.6M227.2,65.6h0.6M220.4,66.7h0.6M218.7,77.7h0.6M234.2,65.7h0.6M231.2,70.2h0.6M229.5,71.7h0.6M229.9,73.1h0.6M226.0,69.8h0.6M241.4,62.2h0.6M226.1,77.3h0.6M233.0,70.5h0.6M232.2,65.7h0.6M227.8,73.6h0.6M232.1,74.8h0.6M233.8,88.4h0.6M231.6,81.3h0.6M232.0,88.6h0.6M237.1,62.7h0.6M240.8,64.4h0.6M237.3,62.8h0.6M233.3,70.6h0.6M239.9,50.8h0.6M219.1,77.7h0.6M235.7,64.9h0.6M231.6,54.3h0.6M228.7,63.6h0.6M236.5,71.5h0.6M230.1,79.3h0.6M227.0,75.9h0.6M229.6,73.3h0.6M229.2,81.4h0.6M228.3,86.7h0.6M236.0,62.2h0.6M228.3,80.9h0.6M240.2,58.9h0.6M232.1,74.7h0.6M245.8,75.1h0.6M229.8,77.3h0.6M231.6,62.0h0.6M230.8,67.5h0.6M229.7,70.1h0.6M233.3,62.7h0.6M235.3,55.9h0.6M235.2,73.6h0.6M233.7,56.6h0.6" stroke="#3040a0" stroke-width="0.6" opacity="0.45"/>
<ellipse cx="230.5" cy="67.5" rx="6" ry="9" fill="#2a3a9c" opacity="0.7" filter="url(#b2)"/>
<ellipse cx="231" cy="76" rx="5" ry="6" fill="#3040a0" opacity="0.55" filter="url(#b2)"/>
<path d="M191.2,102.5 L191.2,77 C196,76.5 203,78 210,80 C218,82 224,80 230,79 C240,79 250,81 266.2,79 L266.2,102.5 Z" fill="#4656b8" opacity="0.75" filter="url(#b2)"/>
<path d="M191.2,102.5 L191.2,85 C205,85.5 225,86 240,84.5 C250,83.5 258,83 266.2,82.5 L266.2,102.5 Z" fill="#2c3c9e" opacity="0.85" filter="url(#b1)"/>
<path d="M222.7,76.9h0.6M230.8,87.5h0.6M256.2,79.1h0.6M236.8,77.7h0.6M245.8,74.7h0.6M265.6,74.4h0.6M242.3,83.9h0.6M214.7,83.4h0.6M244.8,77.7h0.6M205.1,91.7h0.6M264.9,78.7h0.6M212.7,89.9h0.6M259.2,80.6h0.6M250.6,84.9h0.6M256.6,91.4h0.6M232.6,83.8h0.6M212.8,74.2h0.6M238.7,75.7h0.6M253.0,82.6h0.6M228.4,74.8h0.6M233.5,86.7h0.6M197.1,77.9h0.6M236.5,79.4h0.6M223.4,76.2h0.6M246.6,88.7h0.6M198.3,83.5h0.6M238.1,83.9h0.6M227.5,86.0h0.6M215.2,79.6h0.6M218.0,80.1h0.6M240.2,80.7h0.6M259.3,77.3h0.6M230.5,79.6h0.6M236.8,76.5h0.6M198.0,89.2h0.6M226.2,81.2h0.6M249.5,81.9h0.6M215.2,78.9h0.6M221.1,82.0h0.6M202.3,78.0h0.6M195.5,78.3h0.6M256.5,90.4h0.6M209.4,77.6h0.6M212.6,80.0h0.6M214.2,74.2h0.6M237.3,88.6h0.6M196.5,75.0h0.6M194.0,78.5h0.6M219.4,89.1h0.6M229.9,83.3h0.6M210.0,74.5h0.6M258.8,81.7h0.6M232.9,90.2h0.6M196.9,80.2h0.6M212.6,79.4h0.6M225.4,74.7h0.6M263.8,80.4h0.6M264.6,80.8h0.6M213.6,76.8h0.6M205.7,78.0h0.6M253.2,90.2h0.6M225.1,76.5h0.6M194.6,88.0h0.6M252.1,81.5h0.6M213.7,74.3h0.6M199.4,77.9h0.6M206.0,76.3h0.6M228.1,77.4h0.6M207.1,74.8h0.6M208.8,80.1h0.6M254.5,86.6h0.6M218.2,79.6h0.6M202.0,77.8h0.6M203.2,79.0h0.6M208.8,83.9h0.6M238.8,88.4h0.6M216.3,75.8h0.6M194.6,74.5h0.6M248.7,77.1h0.6M207.1,89.7h0.6M251.8,84.6h0.6M218.8,77.8h0.6M264.5,76.4h0.6M211.0,74.7h0.6M198.9,80.7h0.6M205.2,85.8h0.6M204.5,74.0h0.6M260.7,79.1h0.6M221.8,86.1h0.6M193.4,74.6h0.6M237.3,77.3h0.6M230.6,88.9h0.6M265.7,79.2h0.6M258.2,89.4h0.6M207.4,85.8h0.6M265.7,77.9h0.6M231.5,80.3h0.6M200.9,74.7h0.6M259.9,74.3h0.6M218.5,76.4h0.6M232.7,77.1h0.6M224.2,88.4h0.6M240.8,74.6h0.6M253.9,81.9h0.6M229.3,85.0h0.6M237.5,85.8h0.6M255.5,77.0h0.6M249.1,80.0h0.6M217.8,87.8h0.6M215.8,75.2h0.6M215.2,75.6h0.6M262.4,85.1h0.6M234.7,76.4h0.6M238.0,74.0h0.6M218.2,81.4h0.6M228.7,77.0h0.6M228.6,78.0h0.6M220.4,83.4h0.6M257.4,74.5h0.6M223.2,80.0h0.6M234.0,79.8h0.6M197.6,80.3h0.6M233.4,76.5h0.6M215.6,75.2h0.6M225.9,84.1h0.6M249.9,77.0h0.6M226.5,74.5h0.6M218.4,76.1h0.6M237.2,81.4h0.6M221.9,78.8h0.6M242.0,80.3h0.6M214.4,82.7h0.6M253.2,74.1h0.6M216.1,77.9h0.6M192.7,77.2h0.6M239.9,79.5h0.6M231.2,86.9h0.6M208.6,80.2h0.6M233.5,81.9h0.6M238.4,76.7h0.6M263.8,80.7h0.6M255.1,79.1h0.6M237.0,76.3h0.6M260.2,85.9h0.6M197.4,80.3h0.6M241.0,80.1h0.6M226.1,78.0h0.6M230.9,80.1h0.6M237.6,89.0h0.6M203.9,91.5h0.6M201.3,84.8h0.6M213.4,79.5h0.6M236.0,74.3h0.6M201.1,80.3h0.6M204.9,82.0h0.6M237.0,85.0h0.6M214.8,88.8h0.6M253.2,75.9h0.6M256.7,78.1h0.6M206.8,76.5h0.6M203.1,76.0h0.6M236.1,78.6h0.6M236.2,75.1h0.6M226.2,79.6h0.6M204.5,74.6h0.6M265.9,76.9h0.6M195.9,89.5h0.6M199.5,78.5h0.6M243.7,83.5h0.6M205.6,75.8h0.6M212.4,86.2h0.6M233.4,85.0h0.6M204.0,90.9h0.6M225.9,81.9h0.6M195.0,80.7h0.6M263.4,79.0h0.6M217.6,77.2h0.6M228.7,82.5h0.6M216.5,76.9h0.6M226.6,87.4h0.6M199.8,75.2h0.6M200.1,74.7h0.6M253.9,74.1h0.6M216.3,77.0h0.6M236.4,83.0h0.6M224.8,76.5h0.6M232.5,76.7h0.6M249.6,75.5h0.6M225.3,82.6h0.6M202.7,77.7h0.6M214.1,83.3h0.6M249.1,75.1h0.6M228.8,87.6h0.6M245.5,79.8h0.6M214.5,83.1h0.6M234.8,89.7h0.6M241.5,76.1h0.6M258.5,77.2h0.6M230.9,75.5h0.6M248.5,82.3h0.6M226.6,80.4h0.6M239.9,86.1h0.6M196.2,84.9h0.6M239.7,75.1h0.6M242.3,78.8h0.6M237.6,92.1h0.6M200.2,75.8h0.6M261.8,76.8h0.6M200.0,75.5h0.6M234.5,87.8h0.6M244.5,75.6h0.6M204.5,75.6h0.6M224.3,80.7h0.6M265.5,75.2h0.6M259.8,79.0h0.6M219.7,75.9h0.6M220.7,83.5h0.6M242.5,79.9h0.6M191.4,81.1h0.6M224.9,75.6h0.6M247.5,74.7h0.6M256.8,82.5h0.6M201.3,90.0h0.6M215.1,80.4h0.6M261.9,79.8h0.6M198.4,80.5h0.6M229.0,76.6h0.6M207.3,80.9h0.6M210.4,76.1h0.6M228.2,81.1h0.6M202.2,88.3h0.6M208.0,79.1h0.6M205.5,76.0h0.6M193.5,74.2h0.6M217.5,76.4h0.6M263.9,85.7h0.6M251.6,79.5h0.6M235.6,86.0h0.6M214.6,80.6h0.6M247.0,75.4h0.6M228.1,74.4h0.6M193.7,80.0h0.6M255.5,82.0h0.6M264.6,75.2h0.6M221.8,89.4h0.6M242.3,74.8h0.6M240.3,74.5h0.6M214.2,75.7h0.6M233.0,74.6h0.6M254.0,76.2h0.6M255.2,82.6h0.6M194.0,89.5h0.6M217.1,84.1h0.6M225.5,90.2h0.6M233.4,80.2h0.6M261.2,84.6h0.6M226.5,76.5h0.6M261.8,88.3h0.6M254.4,78.3h0.6M212.1,85.7h0.6M265.4,83.0h0.6M203.1,76.6h0.6M233.7,88.3h0.6M258.0,84.7h0.6M224.5,81.5h0.6M204.3,74.8h0.6M256.3,80.4h0.6M235.6,87.2h0.6M233.3,80.5h0.6M261.0,79.7h0.6M217.9,76.4h0.6M215.2,82.5h0.6M260.6,75.7h0.6M219.2,83.7h0.6M203.7,76.7h0.6M206.3,84.4h0.6M235.3,76.3h0.6M198.3,76.4h0.6M250.3,86.8h0.6M201.4,89.3h0.6M259.7,83.9h0.6M242.2,75.8h0.6M211.8,77.4h0.6M236.9,81.1h0.6M258.8,77.0h0.6M213.3,76.2h0.6M230.9,83.7h0.6M261.6,82.7h0.6M235.1,82.3h0.6M260.5,78.0h0.6M264.2,76.5h0.6M245.2,81.1h0.6M207.5,86.0h0.6M204.4,86.7h0.6M199.6,85.1h0.6M242.2,85.1h0.6M250.2,79.6h0.6M200.4,79.8h0.6M235.1,83.5h0.6M219.3,74.0h0.6M242.5,79.2h0.6M201.3,74.3h0.6M239.4,75.5h0.6M259.1,75.2h0.6M207.4,81.8h0.6M192.4,83.2h0.6M194.0,83.2h0.6M246.0,82.5h0.6M220.5,74.6h0.6M192.9,80.9h0.6M196.7,85.5h0.6M237.1,79.0h0.6M209.0,85.6h0.6M204.0,86.1h0.6M200.3,77.8h0.6M256.0,77.0h0.6M212.2,74.6h0.6M260.4,86.8h0.6M247.4,74.1h0.6M250.3,88.8h0.6M264.8,79.5h0.6M225.7,77.6h0.6M201.4,82.9h0.6M238.1,75.5h0.6M242.5,76.7h0.6M241.4,75.9h0.6M221.2,81.1h0.6M198.5,82.4h0.6M226.6,77.9h0.6M206.4,78.0h0.6M219.1,84.6h0.6M244.1,88.7h0.6M260.6,86.1h0.6M223.5,76.7h0.6M202.8,80.5h0.6M222.9,82.3h0.6M194.2,87.6h0.6M240.0,82.5h0.6M200.9,82.8h0.6M257.1,84.0h0.6M242.1,80.8h0.6M248.9,74.6h0.6M256.7,74.6h0.6M223.9,75.9h0.6M264.5,82.2h0.6M238.5,84.5h0.6M219.1,74.0h0.6M227.5,80.6h0.6M238.2,86.1h0.6M262.8,82.3h0.6M243.8,84.6h0.6M260.0,75.6h0.6M193.6,90.8h0.6M199.9,74.8h0.6M258.9,81.3h0.6M259.3,86.0h0.6M204.5,75.2h0.6M208.5,81.6h0.6M251.3,83.0h0.6M235.8,84.7h0.6M226.4,80.4h0.6M229.4,80.7h0.6M260.5,79.4h0.6M202.2,81.2h0.6M212.2,90.8h0.6M216.4,91.5h0.6M221.9,74.7h0.6M191.5,76.0h0.6M265.0,75.2h0.6M245.3,87.1h0.6M191.2,82.4h0.6M230.7,78.5h0.6M234.0,75.1h0.6M248.1,75.9h0.6M218.6,91.2h0.6M234.5,78.5h0.6M200.0,75.1h0.6M206.3,75.6h0.6M256.1,84.3h0.6M206.6,80.8h0.6M216.9,78.3h0.6M226.9,75.5h0.6M201.8,84.5h0.6M201.9,80.7h0.6M201.6,74.8h0.6M247.5,74.1h0.6M228.0,79.0h0.6M240.1,77.3h0.6M265.8,74.7h0.6M248.1,80.9h0.6M231.9,85.9h0.6M197.6,86.2h0.6M260.8,78.0h0.6M257.0,78.6h0.6M233.7,89.4h0.6M239.7,77.8h0.6M211.2,74.7h0.6M201.0,74.7h0.6M263.6,80.2h0.6M242.4,83.6h0.6M261.9,75.5h0.6M194.0,87.5h0.6M197.5,86.8h0.6M256.7,76.3h0.6M242.3,80.6h0.6M246.9,85.2h0.6M262.3,82.4h0.6M230.1,74.8h0.6M237.3,77.7h0.6M201.4,80.5h0.6M229.9,80.1h0.6M215.9,78.0h0.6M199.5,86.8h0.6M233.3,74.3h0.6M215.5,81.0h0.6M213.0,83.6h0.6M208.5,81.7h0.6M238.1,84.0h0.6M220.0,83.7h0.6M262.6,75.3h0.6M241.5,74.6h0.6M215.8,87.4h0.6M191.4,80.6h0.6M262.1,85.6h0.6M215.0,78.0h0.6M193.9,76.6h0.6M248.7,87.8h0.6M236.7,75.2h0.6M217.2,75.3h0.6M250.1,81.1h0.6M229.3,75.6h0.6M220.9,77.3h0.6M197.7,81.0h0.6M220.1,89.3h0.6M197.1,76.9h0.6M226.0,77.4h0.6M219.2,74.9h0.6M212.7,83.1h0.6M237.4,77.8h0.6M248.7,86.9h0.6M218.3,75.9h0.6M258.6,84.7h0.6M244.5,74.9h0.6M194.8,81.1h0.6M256.2,78.8h0.6M194.4,76.8h0.6M238.3,75.0h0.6M246.6,85.3h0.6M219.4,75.4h0.6M222.5,74.5h0.6M197.8,77.1h0.6M210.3,79.5h0.6M248.7,85.7h0.6M239.5,77.6h0.6M257.8,84.8h0.6M197.6,87.5h0.6M249.7,78.9h0.6M255.6,90.4h0.6M193.9,77.0h0.6M207.8,74.9h0.6M237.0,74.5h0.6M219.0,74.5h0.6M242.3,83.5h0.6M237.7,75.2h0.6M249.7,78.6h0.6M261.0,86.4h0.6M262.0,76.3h0.6M207.6,78.1h0.6M220.7,85.1h0.6M206.2,78.6h0.6M227.4,76.3h0.6M236.0,76.0h0.6M263.9,81.9h0.6M252.6,82.8h0.6M192.5,83.4h0.6M230.9,76.4h0.6M262.2,75.6h0.6M209.4,78.6h0.6M234.7,87.3h0.6M212.0,79.2h0.6M235.8,80.5h0.6M264.9,81.8h0.6M191.7,85.8h0.6M235.5,80.4h0.6M191.9,78.0h0.6M263.0,78.2h0.6M239.7,75.7h0.6M251.4,90.8h0.6M245.5,74.4h0.6M199.1,78.4h0.6M243.3,81.6h0.6M246.9,81.6h0.6M192.3,85.5h0.6M240.2,79.4h0.6M229.0,87.6h0.6M201.3,78.8h0.6M191.4,78.7h0.6M198.4,76.1h0.6M230.1,76.8h0.6M196.1,82.1h0.6M244.5,74.5h0.6M235.3,76.3h0.6M223.0,83.1h0.6M258.5,74.8h0.6M252.7,75.8h0.6M211.1,85.7h0.6M219.7,84.8h0.6M231.3,74.4h0.6M236.2,85.5h0.6M251.4,84.2h0.6M200.0,87.9h0.6M240.6,77.1h0.6M225.0,74.9h0.6M206.2,74.6h0.6M220.8,84.8h0.6M257.3,84.3h0.6M199.8,82.7h0.6M257.6,74.5h0.6M203.5,75.6h0.6M233.7,85.7h0.6M216.4,77.0h0.6M241.4,74.5h0.6M253.9,81.7h0.6M224.5,78.2h0.6M259.4,82.6h0.6M251.4,79.7h0.6M199.6,88.4h0.6M260.4,75.4h0.6M214.2,80.2h0.6M193.5,77.8h0.6M193.2,80.7h0.6M254.6,84.0h0.6M233.3,74.4h0.6M199.0,78.0h0.6M249.3,87.7h0.6M257.2,77.3h0.6M237.1,84.7h0.6M195.3,82.6h0.6M265.1,80.6h0.6M196.1,74.7h0.6M222.6,86.3h0.6M224.9,89.9h0.6M208.6,79.1h0.6M193.1,76.2h0.6M227.2,80.6h0.6M224.8,77.5h0.6M256.1,88.9h0.6M192.0,83.3h0.6M222.0,75.0h0.6M212.3,74.8h0.6M221.3,82.9h0.6M255.7,77.5h0.6M251.5,85.5h0.6M205.7,89.6h0.6M248.7,81.8h0.6M232.0,88.0h0.6M227.3,77.2h0.6M247.8,88.9h0.6M222.2,85.2h0.6M203.0,83.0h0.6M216.3,85.3h0.6M216.3,81.7h0.6M250.5,87.9h0.6M205.5,83.1h0.6M264.5,87.1h0.6M215.2,77.2h0.6M259.4,75.3h0.6M235.8,80.8h0.6M225.5,79.6h0.6M228.8,79.7h0.6M191.4,78.8h0.6M224.1,81.6h0.6M234.9,77.3h0.6M257.3,78.2h0.6M191.7,79.5h0.6M209.6,85.9h0.6M234.5,74.1h0.6M241.1,92.5h0.6M253.6,75.2h0.6M264.3,75.8h0.6M252.3,74.9h0.6M196.1,75.9h0.6M241.7,87.2h0.6M218.8,82.6h0.6M194.1,77.5h0.6M245.4,81.6h0.6M223.0,74.3h0.6M253.2,85.4h0.6M204.2,80.5h0.6M266.1,78.3h0.6M216.6,75.6h0.6M253.3,78.8h0.6M217.5,93.8h0.6M242.0,76.4h0.6" stroke="#ffffff" stroke-width="0.6" opacity="0.55"/>
<path d="M260.7,81.2h0.6M256.7,76.1h0.6M254.2,78.5h0.6M224.1,82.2h0.6M256.0,88.7h0.6M217.9,77.4h0.6M248.7,91.1h0.6M248.1,74.7h0.6M259.3,76.0h0.6M251.8,75.1h0.6M196.4,84.6h0.6M220.7,87.5h0.6M217.3,74.6h0.6M234.6,75.8h0.6M260.4,80.9h0.6M216.3,85.2h0.6M233.8,76.0h0.6M225.5,75.8h0.6M213.6,76.7h0.6M206.7,93.6h0.6M242.6,74.8h0.6M211.3,77.0h0.6M227.6,91.5h0.6M212.1,83.4h0.6M212.7,89.5h0.6M240.8,75.8h0.6M212.1,80.6h0.6M257.8,85.4h0.6M248.9,89.8h0.6M202.1,77.1h0.6M219.9,76.3h0.6M226.8,84.9h0.6M263.9,83.3h0.6M207.7,75.5h0.6M265.0,74.8h0.6M220.3,75.7h0.6M221.5,81.4h0.6M226.9,86.0h0.6M256.4,75.4h0.6M224.8,76.1h0.6M253.5,74.6h0.6M245.6,75.8h0.6M207.4,90.8h0.6M231.2,76.3h0.6M220.2,85.4h0.6M240.6,81.4h0.6M201.3,75.0h0.6M230.9,80.9h0.6M247.5,76.9h0.6M226.3,76.4h0.6M224.4,75.7h0.6M258.8,77.1h0.6M260.9,81.7h0.6M229.7,79.8h0.6M217.0,83.3h0.6M203.4,79.2h0.6M245.0,85.2h0.6M200.3,86.0h0.6M257.9,88.2h0.6M256.7,86.3h0.6M243.6,75.9h0.6M215.0,76.7h0.6M210.9,75.6h0.6M230.2,91.2h0.6M191.4,89.5h0.6M265.7,84.9h0.6M202.1,75.3h0.6M265.9,80.1h0.6M232.3,79.1h0.6M243.1,84.2h0.6M256.6,79.5h0.6M228.3,78.4h0.6M235.3,74.1h0.6M252.5,78.7h0.6M261.4,80.0h0.6M261.3,77.6h0.6M220.0,77.7h0.6M216.0,84.6h0.6M222.1,81.9h0.6M252.2,75.5h0.6M235.7,79.3h0.6M238.4,88.0h0.6M266.1,86.7h0.6M211.6,88.0h0.6M192.5,74.5h0.6M252.8,82.2h0.6M220.8,76.1h0.6M192.2,84.4h0.6M265.2,80.0h0.6M210.5,75.0h0.6M256.7,82.0h0.6M224.8,74.7h0.6M240.4,76.6h0.6M216.6,79.3h0.6M254.6,81.8h0.6M255.5,84.9h0.6M242.3,75.4h0.6M237.9,77.3h0.6M236.6,77.8h0.6M211.8,76.9h0.6M243.9,82.6h0.6M213.4,79.7h0.6M230.6,77.2h0.6M214.5,74.0h0.6M215.9,87.8h0.6M224.0,86.1h0.6M234.2,83.9h0.6M258.6,85.8h0.6M209.9,84.5h0.6M209.5,76.9h0.6M206.2,90.8h0.6M218.7,82.4h0.6M216.5,76.6h0.6M219.6,81.4h0.6M252.6,82.3h0.6M225.2,87.4h0.6M247.0,75.7h0.6M195.6,80.4h0.6M207.4,85.7h0.6M206.5,85.0h0.6M262.0,80.8h0.6M240.8,76.4h0.6M222.0,79.0h0.6M254.1,87.8h0.6M264.1,76.8h0.6M235.4,75.2h0.6M254.1,87.1h0.6M228.0,89.7h0.6M238.3,75.1h0.6M231.1,78.5h0.6M224.0,80.0h0.6M235.9,84.0h0.6M263.5,80.9h0.6M225.1,80.1h0.6M221.0,93.5h0.6M243.2,76.8h0.6M241.3,84.3h0.6M258.4,85.5h0.6M242.6,75.4h0.6M250.1,87.8h0.6M203.3,81.9h0.6M219.8,88.1h0.6M265.8,88.1h0.6M236.9,84.5h0.6M261.4,88.7h0.6M255.0,74.5h0.6M221.3,84.3h0.6M232.3,86.9h0.6M231.6,80.5h0.6M193.7,87.2h0.6M228.7,80.5h0.6M208.1,84.9h0.6M202.6,84.0h0.6M213.2,92.4h0.6M195.0,75.6h0.6M216.6,76.5h0.6M262.0,85.4h0.6M251.6,76.0h0.6M221.9,75.7h0.6M224.0,77.4h0.6M209.3,79.6h0.6M221.9,83.4h0.6M195.9,75.6h0.6M221.2,76.5h0.6M262.5,88.0h0.6M257.6,79.2h0.6M250.6,83.0h0.6M201.6,86.1h0.6M254.9,81.2h0.6M258.9,78.2h0.6M207.0,74.3h0.6M211.2,82.4h0.6M252.5,82.2h0.6M241.1,74.8h0.6M207.5,84.9h0.6M208.0,78.4h0.6M233.4,75.6h0.6M195.2,80.8h0.6M234.2,76.9h0.6M195.0,85.4h0.6M231.4,74.6h0.6M195.5,81.3h0.6M252.5,79.6h0.6M240.3,82.0h0.6M248.5,88.1h0.6M264.5,82.3h0.6M224.8,74.1h0.6M264.3,86.9h0.6M201.7,75.2h0.6M200.7,78.3h0.6M253.1,77.7h0.6M238.5,84.5h0.6M222.1,80.1h0.6M265.5,75.6h0.6M234.4,89.6h0.6M230.5,88.7h0.6M206.8,82.0h0.6M245.1,88.6h0.6M209.2,82.7h0.6M242.9,76.0h0.6M208.9,80.8h0.6M233.4,91.1h0.6M205.2,87.9h0.6M252.7,85.6h0.6M232.2,80.8h0.6M201.2,87.6h0.6M206.9,75.7h0.6M226.0,74.1h0.6M245.2,77.4h0.6M222.7,79.5h0.6M209.2,87.1h0.6M210.6,92.4h0.6M232.2,74.5h0.6M208.5,76.5h0.6M215.4,80.8h0.6M255.7,75.6h0.6M235.0,82.2h0.6M240.0,85.8h0.6M195.2,78.7h0.6M263.2,75.3h0.6M227.0,92.8h0.6M232.2,74.0h0.6M250.6,78.2h0.6M196.5,81.0h0.6M250.7,74.6h0.6M260.3,83.0h0.6M225.5,81.6h0.6M235.6,74.2h0.6M252.8,75.1h0.6M201.6,77.8h0.6M223.8,77.5h0.6M217.9,82.4h0.6M250.6,83.6h0.6M212.2,78.6h0.6M230.4,85.3h0.6M211.9,87.0h0.6M202.8,81.0h0.6M193.0,74.8h0.6M236.2,77.0h0.6M254.2,77.7h0.6M219.1,87.3h0.6M215.2,80.5h0.6M252.8,74.1h0.6M229.1,92.2h0.6M263.9,81.3h0.6M219.8,75.4h0.6M193.3,81.2h0.6M252.5,78.8h0.6M249.0,75.2h0.6M211.3,83.8h0.6M255.9,92.7h0.6M236.9,78.9h0.6M235.2,80.2h0.6M258.7,84.4h0.6M232.4,88.5h0.6M219.4,92.8h0.6M196.5,81.7h0.6M216.4,75.9h0.6M194.9,86.3h0.6M257.9,78.7h0.6M204.7,79.0h0.6M259.6,90.7h0.6M254.2,86.3h0.6M207.7,76.8h0.6M252.2,85.2h0.6M252.8,74.1h0.6M239.9,82.8h0.6M212.1,82.6h0.6M241.2,79.2h0.6M208.4,88.7h0.6M200.0,76.2h0.6M221.0,75.8h0.6M215.2,78.5h0.6M204.6,79.6h0.6M239.2,87.6h0.6M255.0,75.7h0.6M233.2,83.0h0.6M219.1,78.4h0.6M225.1,78.7h0.6M204.2,74.5h0.6M198.9,78.8h0.6M215.6,86.4h0.6M242.2,87.7h0.6M213.8,81.3h0.6M251.4,76.8h0.6M194.1,75.0h0.6M213.7,80.4h0.6M236.6,76.4h0.6M239.0,74.0h0.6M201.3,74.8h0.6M257.5,79.7h0.6M218.7,79.0h0.6M205.4,79.9h0.6M228.1,75.2h0.6M245.0,81.3h0.6M205.6,79.0h0.6M226.7,85.8h0.6M240.2,77.2h0.6M222.7,74.0h0.6M199.3,74.5h0.6M208.4,78.9h0.6M219.6,84.1h0.6M212.5,88.9h0.6M239.2,80.6h0.6M213.5,78.8h0.6M201.2,74.7h0.6M257.1,88.4h0.6M199.2,81.8h0.6M213.8,84.1h0.6M237.2,87.5h0.6M233.0,89.3h0.6M225.0,82.3h0.6M211.0,77.6h0.6M214.3,84.0h0.6M233.3,79.3h0.6M237.3,76.6h0.6M191.9,79.3h0.6M208.9,81.5h0.6M263.0,74.2h0.6M204.7,77.8h0.6M242.8,75.1h0.6M215.1,77.2h0.6M217.3,80.3h0.6M242.5,85.3h0.6M262.5,75.8h0.6M208.9,86.1h0.6M229.8,75.7h0.6M217.2,85.1h0.6M253.8,74.3h0.6M193.6,84.2h0.6M251.0,77.3h0.6M255.1,78.5h0.6M228.8,81.8h0.6M196.1,76.2h0.6M266.1,77.5h0.6M215.9,86.4h0.6M233.1,86.8h0.6M226.7,94.1h0.6M194.3,75.4h0.6M197.9,85.9h0.6M243.7,75.3h0.6M217.5,76.5h0.6M211.7,82.1h0.6M226.2,88.6h0.6M235.1,84.4h0.6M252.2,76.8h0.6M251.5,74.8h0.6M244.2,81.5h0.6M233.4,76.2h0.6M239.9,79.6h0.6M222.1,75.1h0.6M222.9,76.0h0.6M193.2,90.5h0.6M235.0,77.9h0.6M217.1,85.5h0.6M239.0,87.7h0.6M265.5,84.2h0.6M233.2,81.1h0.6M196.4,80.1h0.6M258.3,92.8h0.6M226.4,74.6h0.6M241.3,74.1h0.6M227.2,80.4h0.6M202.8,80.0h0.6M251.0,87.5h0.6M224.3,83.6h0.6M218.0,84.4h0.6M215.8,75.2h0.6M257.4,78.7h0.6M207.5,78.1h0.6M198.6,78.0h0.6M226.7,76.0h0.6M194.7,80.4h0.6M201.2,82.4h0.6M201.7,76.8h0.6M225.1,88.2h0.6M191.9,80.8h0.6M256.1,83.0h0.6M237.6,91.9h0.6M251.2,74.3h0.6M238.2,76.0h0.6M238.6,83.2h0.6M240.6,86.7h0.6M206.5,83.1h0.6M245.6,78.3h0.6M210.0,87.1h0.6M197.9,81.7h0.6M224.8,78.3h0.6M202.1,79.5h0.6M235.1,83.0h0.6M238.6,84.9h0.6M256.2,75.1h0.6M218.9,85.4h0.6M208.1,78.8h0.6M233.2,74.6h0.6M250.5,80.4h0.6M199.8,76.4h0.6M250.5,83.3h0.6M200.5,83.5h0.6M206.1,76.1h0.6M239.6,74.8h0.6M236.7,79.0h0.6M256.6,77.0h0.6M210.2,86.1h0.6M228.1,75.7h0.6M254.4,75.0h0.6M196.3,81.5h0.6M246.7,82.0h0.6M224.3,74.1h0.6" stroke="#8890d0" stroke-width="0.6" opacity="0.5"/>
<ellipse cx="232.7" cy="88.6" rx="5.2" ry="2.1" fill="#50c4f0" opacity="1" filter="url(#b1)"/>
<ellipse cx="214" cy="98.8" rx="20" ry="2.6" fill="#28a8c8" opacity="1" filter="url(#b1)"/>
<ellipse cx="211" cy="98.9" rx="14" ry="1.9" fill="#70c858" opacity="1" filter="url(#b1)"/>
<ellipse cx="205" cy="98.5" rx="2.5" ry="1.3" fill="#a8d848" opacity="0.9" filter="url(#b05)"/>
<ellipse cx="219" cy="98.5" rx="5" ry="1.5" fill="#e8d828" opacity="1" filter="url(#b05)"/>
<ellipse cx="220.7" cy="98.5" rx="2.2" ry="1.2" fill="#e02010" opacity="1" filter="url(#b05)"/>
<path d="M226,103.5 C238,99.5 252,97 266.2,94.5 L266.2,103.5 Z" fill="#fff" filter="url(#b05)"/>
<path d="M226,102.2 C238,99.5 252,97 266.2,94.5" fill="none" stroke="#48b0e0" stroke-width="0.9" opacity="0.7" filter="url(#b05)"/>
<rect x="262.8" y="79" width="2" height="17" fill="#5a6090" opacity="0.6" filter="url(#b05)"/>
</g>
<rect x="191.20" y="27.40" width="75.00" height="75.10" stroke="#444" stroke-width="0.8" fill="none" />
<rect x="209.70" y="47.60" width="54.90" height="54.90" stroke="#333" stroke-width="0.7" fill="none" />
<line x1="189.60" y1="30.40" x2="191.20" y2="30.40" stroke="#333" stroke-width="0.7" />
<text x="187.60" y="32.50" font-size="6.6" text-anchor="end" fill="#333" stroke="#333">250K</text>
<line x1="189.60" y1="44.74" x2="191.20" y2="44.74" stroke="#333" stroke-width="0.7" />
<text x="187.60" y="46.84" font-size="6.6" text-anchor="end" fill="#333" stroke="#333">200K</text>
<line x1="189.60" y1="59.08" x2="191.20" y2="59.08" stroke="#333" stroke-width="0.7" />
<text x="187.60" y="61.18" font-size="6.6" text-anchor="end" fill="#333" stroke="#333">150K</text>
<line x1="189.60" y1="73.42" x2="191.20" y2="73.42" stroke="#333" stroke-width="0.7" />
<text x="187.60" y="75.52" font-size="6.6" text-anchor="end" fill="#333" stroke="#333">100K</text>
<line x1="189.60" y1="87.76" x2="191.20" y2="87.76" stroke="#333" stroke-width="0.7" />
<text x="187.60" y="89.86" font-size="6.6" text-anchor="end" fill="#333" stroke="#333">50K</text>
<line x1="189.60" y1="102.10" x2="191.20" y2="102.10" stroke="#333" stroke-width="0.7" />
<text x="187.60" y="104.20" font-size="6.6" text-anchor="end" fill="#333" stroke="#333">0</text>
<line x1="191.50" y1="102.50" x2="191.50" y2="104.10" stroke="#333" stroke-width="0.7" />
<text x="193.90" y="109.70" font-size="6.6" text-anchor="end" fill="#333" stroke="#333" stroke-width="0.18" transform="rotate(-45 193.90 109.70)" >0</text>
<line x1="205.70" y1="102.50" x2="205.70" y2="104.10" stroke="#333" stroke-width="0.7" />
<text x="208.10" y="109.70" font-size="6.6" text-anchor="end" fill="#333" stroke="#333" stroke-width="0.18" transform="rotate(-45 208.10 109.70)" >50K</text>
<line x1="219.90" y1="102.50" x2="219.90" y2="104.10" stroke="#333" stroke-width="0.7" />
<text x="222.30" y="109.70" font-size="6.6" text-anchor="end" fill="#333" stroke="#333" stroke-width="0.18" transform="rotate(-45 222.30 109.70)" >100K</text>
<line x1="234.10" y1="102.50" x2="234.10" y2="104.10" stroke="#333" stroke-width="0.7" />
<text x="236.50" y="109.70" font-size="6.6" text-anchor="end" fill="#333" stroke="#333" stroke-width="0.18" transform="rotate(-45 236.50 109.70)" >150K</text>
<line x1="248.30" y1="102.50" x2="248.30" y2="104.10" stroke="#333" stroke-width="0.7" />
<text x="250.70" y="109.70" font-size="6.6" text-anchor="end" fill="#333" stroke="#333" stroke-width="0.18" transform="rotate(-45 250.70 109.70)" >200K</text>
<line x1="262.50" y1="102.50" x2="262.50" y2="104.10" stroke="#333" stroke-width="0.7" />
<text x="264.90" y="109.70" font-size="6.6" text-anchor="end" fill="#333" stroke="#333" stroke-width="0.18" transform="rotate(-45 264.90 109.70)" >250K</text>
<text x="227.40" y="22.80" font-size="8.7" text-anchor="middle" fill="#333" stroke="#333" stroke-width="0.04" textLength="48" lengthAdjust="spacingAndGlyphs" >Splenocytes</text>
<text x="227.30" y="128.60" font-size="9.0" text-anchor="middle" fill="#333" stroke="#333" stroke-width="0.04" textLength="17.5" lengthAdjust="spacingAndGlyphs" >FSC-A</text>
<text x="168.74" y="65.90" font-size="9.0" text-anchor="middle" fill="#333" stroke="#333" stroke-width="0.04" textLength="17" lengthAdjust="spacingAndGlyphs" transform="rotate(-90 168.74 65.90)" >SSC-A</text>
<clipPath id="c2"><rect x="300.0" y="27.3" width="74.5" height="74.60000000000001"/></clipPath>
<g clip-path="url(#c2)">
<path d="M356.9,71.3h0.6M374.5,68.7h0.6M361.1,63.2h0.6M363.2,67.2h0.6M332.1,81.7h0.6M341.0,91.9h0.6M325.9,94.2h0.6M350.3,84.5h0.6M330.1,95.5h0.6M334.9,83.4h0.6M352.7,80.4h0.6M346.5,82.4h0.6M343.6,76.3h0.6M357.4,79.5h0.6M322.9,97.1h0.6M374.0,77.1h0.6M373.4,83.3h0.6M349.3,88.8h0.6M350.9,82.1h0.6M338.8,84.1h0.6M371.0,74.6h0.6M330.6,84.8h0.6M371.1,81.8h0.6M362.9,59.9h0.6M351.7,78.6h0.6M374.2,61.6h0.6M348.8,69.5h0.6M356.9,65.7h0.6M338.3,86.6h0.6M351.7,89.5h0.6M369.0,55.6h0.6M338.6,78.0h0.6M367.8,78.0h0.6M360.4,61.5h0.6M330.4,93.2h0.6M362.5,82.6h0.6M367.5,64.8h0.6M321.9,97.9h0.6M335.7,84.0h0.6M369.4,59.0h0.6M320.2,92.7h0.6M329.3,87.9h0.6M365.8,85.6h0.6M318.9,98.2h0.6M340.2,87.3h0.6M328.8,96.4h0.6M370.4,57.9h0.6M359.7,62.0h0.6M346.4,80.4h0.6M344.3,90.5h0.6M362.8,72.7h0.6M370.4,68.2h0.6M328.3,93.4h0.6M358.4,64.3h0.6M349.8,78.0h0.6M361.6,86.3h0.6M328.3,89.2h0.6M335.4,89.6h0.6M320.1,94.2h0.6M363.1,72.8h0.6M347.5,87.7h0.6M366.9,82.1h0.6M365.7,75.3h0.6M325.2,90.4h0.6M316.4,95.4h0.6M359.7,88.3h0.6M352.9,70.9h0.6M344.6,83.2h0.6M372.5,62.7h0.6M322.6,93.1h0.6M330.8,89.2h0.6M350.5,67.0h0.6M332.6,92.9h0.6M360.8,59.4h0.6M362.4,62.9h0.6M361.2,70.7h0.6M368.0,58.0h0.6M368.4,80.1h0.6M347.2,82.4h0.6M361.1,62.7h0.6M345.7,83.4h0.6M319.2,93.8h0.6M363.3,67.0h0.6M359.5,69.1h0.6M323.8,95.1h0.6M359.3,65.4h0.6M337.7,92.5h0.6M361.0,76.3h0.6M369.2,79.4h0.6M362.9,79.7h0.6M360.5,82.0h0.6M369.6,63.4h0.6M354.6,73.0h0.6M365.3,67.1h0.6M354.8,76.5h0.6M350.3,79.2h0.6M351.4,75.2h0.6M318.0,100.3h0.6M341.4,86.3h0.6M355.7,83.1h0.6M348.5,83.6h0.6M368.8,52.4h0.6M366.4,62.2h0.6M368.8,64.1h0.6M318.8,95.8h0.6M355.7,75.4h0.6M364.0,83.8h0.6M373.2,55.4h0.6M362.4,64.5h0.6M347.6,76.4h0.6M359.3,68.5h0.6M320.4,90.9h0.6M346.6,81.4h0.6M358.0,75.2h0.6M368.7,80.2h0.6M372.9,70.6h0.6M369.4,84.4h0.6M344.5,74.6h0.6M320.3,99.7h0.6M345.1,73.3h0.6M362.6,74.0h0.6M340.1,77.3h0.6M373.6,69.5h0.6M339.7,88.2h0.6M363.3,77.8h0.6M368.9,75.8h0.6M373.3,48.1h0.6M365.8,68.4h0.6M359.0,70.2h0.6M351.8,85.0h0.6M366.6,58.0h0.6M321.6,97.7h0.6M373.3,53.0h0.6M354.9,86.0h0.6M371.3,50.1h0.6M361.1,75.4h0.6M366.5,63.4h0.6M352.4,72.8h0.6M371.4,57.0h0.6M371.1,53.1h0.6M365.2,54.9h0.6M328.2,89.5h0.6M323.3,93.9h0.6M332.5,88.9h0.6M336.9,78.8h0.6M370.3,83.8h0.6M361.4,68.3h0.6M349.2,74.5h0.6M316.7,96.0h0.6M352.6,76.2h0.6M361.8,70.8h0.6M359.9,83.6h0.6M362.4,76.7h0.6M370.6,62.3h0.6M347.6,71.2h0.6M347.3,82.1h0.6M370.0,72.7h0.6M330.0,96.3h0.6M373.1,53.6h0.6M337.9,85.2h0.6M371.9,65.9h0.6M320.6,90.4h0.6M358.6,65.8h0.6M366.0,62.7h0.6M369.0,62.2h0.6M341.9,84.0h0.6M360.6,75.9h0.6M321.7,90.1h0.6M325.0,89.4h0.6M366.3,60.2h0.6M372.9,62.4h0.6M359.0,70.0h0.6M353.5,68.0h0.6M337.8,85.6h0.6M338.2,82.4h0.6M354.3,68.1h0.6M323.1,88.7h0.6M334.6,90.0h0.6M373.5,64.8h0.6M358.7,75.2h0.6M351.1,81.2h0.6M340.1,80.7h0.6M361.0,78.2h0.6M335.6,90.6h0.6M366.2,54.6h0.6M353.5,71.3h0.6M323.1,93.6h0.6M369.5,61.2h0.6M339.0,81.8h0.6M371.6,83.5h0.6M370.0,65.5h0.6M373.5,60.4h0.6M326.3,87.3h0.6M364.3,73.2h0.6M360.0,84.4h0.6M350.7,76.1h0.6M347.1,89.6h0.6M317.1,95.3h0.6M363.2,75.2h0.6M341.6,85.0h0.6M344.5,79.7h0.6M338.3,77.2h0.6M370.8,70.2h0.6M335.9,93.3h0.6M374.9,73.5h0.6M336.2,86.4h0.6M321.6,99.5h0.6M358.5,85.4h0.6M347.2,89.0h0.6M354.8,84.3h0.6M357.8,65.5h0.6M334.8,86.6h0.6M338.2,88.1h0.6M357.3,81.5h0.6M325.1,91.9h0.6M346.3,70.3h0.6M346.6,72.9h0.6M357.8,72.7h0.6M365.6,79.5h0.6M345.7,77.2h0.6M345.8,87.1h0.6M368.0,79.4h0.6M363.8,77.8h0.6M364.2,82.8h0.6M374.0,64.5h0.6M371.2,70.3h0.6M351.3,88.3h0.6M354.2,82.7h0.6M371.7,56.6h0.6M346.4,78.0h0.6M365.8,82.2h0.6M340.3,77.1h0.6M339.1,89.9h0.6M369.6,75.1h0.6M345.1,82.1h0.6M324.9,91.3h0.6M330.8,92.3h0.6M319.6,94.3h0.6M366.9,56.6h0.6M352.1,83.1h0.6M328.7,94.8h0.6M369.7,76.6h0.6M335.0,80.0h0.6M332.3,84.4h0.6M347.2,88.5h0.6M371.2,51.7h0.6M358.0,85.5h0.6M333.5,80.4h0.6M345.7,84.0h0.6M349.4,72.4h0.6M369.3,55.1h0.6M354.2,83.4h0.6M351.0,87.9h0.6M373.9,50.2h0.6M344.8,75.7h0.6M330.1,94.7h0.6M330.7,95.0h0.6M359.1,76.7h0.6M317.3,98.0h0.6M349.9,77.2h0.6M343.0,85.4h0.6M374.8,73.4h0.6M347.7,80.3h0.6M361.7,69.2h0.6M359.4,78.9h0.6M353.2,88.2h0.6M370.4,74.1h0.6M347.0,71.0h0.6M342.6,80.5h0.6M371.9,70.9h0.6M326.3,93.6h0.6M367.5,53.9h0.6M360.5,86.8h0.6M346.4,82.2h0.6M326.4,97.7h0.6M374.7,72.6h0.6M360.0,83.1h0.6M352.8,85.9h0.6M327.2,93.0h0.6M348.0,86.1h0.6M336.0,87.8h0.6M319.0,99.8h0.6M351.1,86.8h0.6M355.4,79.7h0.6M354.5,72.5h0.6M373.7,56.7h0.6M370.2,68.0h0.6M358.4,78.7h0.6M366.6,54.5h0.6M374.8,64.3h0.6M347.1,75.1h0.6M365.9,64.8h0.6M361.7,67.5h0.6M349.8,67.7h0.6M324.3,89.0h0.6M370.1,51.7h0.6M364.7,84.4h0.6M344.4,78.1h0.6M345.0,82.0h0.6M355.5,80.7h0.6M371.2,51.9h0.6M346.9,70.0h0.6M349.8,80.0h0.6M360.6,73.6h0.6M347.5,90.7h0.6M357.1,79.0h0.6M353.2,65.8h0.6M324.4,89.3h0.6M361.8,83.0h0.6M368.6,82.7h0.6M369.4,64.1h0.6M372.3,57.9h0.6M317.6,100.9h0.6M325.7,90.1h0.6M352.3,76.3h0.6M374.0,56.2h0.6M357.3,64.4h0.6M350.6,81.1h0.6M317.8,98.9h0.6M362.5,59.4h0.6M367.7,67.4h0.6M348.7,73.0h0.6M352.8,69.6h0.6M328.6,88.7h0.6M362.9,66.6h0.6M365.5,62.1h0.6M361.6,72.0h0.6M363.7,82.7h0.6M359.6,79.6h0.6M342.8,85.9h0.6M364.3,70.2h0.6M368.1,58.3h0.6M327.5,95.2h0.6M352.0,81.7h0.6M331.6,88.5h0.6M357.2,65.4h0.6M367.9,83.7h0.6M366.0,73.8h0.6M362.8,70.8h0.6M357.9,78.9h0.6M327.8,97.4h0.6M326.7,96.4h0.6M334.3,92.7h0.6M348.3,80.9h0.6M338.4,78.4h0.6M363.0,56.5h0.6M353.8,87.3h0.6M368.6,74.8h0.6M334.5,89.3h0.6M349.7,88.8h0.6M373.0,80.0h0.6M322.6,93.7h0.6M370.9,68.1h0.6M371.1,71.6h0.6M374.5,53.9h0.6M344.7,71.6h0.6M340.7,83.1h0.6M326.8,87.2h0.6M357.1,86.2h0.6M372.8,81.1h0.6M359.3,77.9h0.6M373.4,83.2h0.6M362.0,61.3h0.6M347.6,75.8h0.6M359.2,71.6h0.6M329.6,86.9h0.6M354.8,78.6h0.6M366.6,62.6h0.6M343.9,80.1h0.6M347.1,88.3h0.6M355.8,78.5h0.6M365.7,64.3h0.6M358.7,65.1h0.6M332.5,95.8h0.6M348.7,76.2h0.6M361.2,64.3h0.6M323.8,95.6h0.6M354.0,81.3h0.6M344.0,84.5h0.6M356.9,76.5h0.6M331.6,92.7h0.6M354.4,81.1h0.6M362.6,76.6h0.6M365.8,56.0h0.6M338.4,93.6h0.6M370.8,54.7h0.6M338.6,93.0h0.6M330.1,93.3h0.6M369.8,56.5h0.6M374.9,76.9h0.6M371.5,68.8h0.6M357.0,75.4h0.6M357.2,62.3h0.6M331.5,83.6h0.6M348.7,88.0h0.6M349.3,90.9h0.6M365.3,64.5h0.6M364.5,59.0h0.6M350.4,82.5h0.6M357.4,85.0h0.6M366.4,85.9h0.6M365.4,57.3h0.6M365.6,72.5h0.6M346.1,76.5h0.6M365.2,71.5h0.6M342.1,93.1h0.6M334.7,94.3h0.6M358.0,81.1h0.6M364.0,71.5h0.6M337.9,83.2h0.6M322.4,97.1h0.6M371.5,58.2h0.6M335.9,82.6h0.6M372.2,70.1h0.6M322.4,92.9h0.6M354.2,85.1h0.6M333.3,83.1h0.6M354.5,76.8h0.6M368.8,83.6h0.6M330.7,94.8h0.6M368.9,59.7h0.6M322.8,95.7h0.6M374.3,83.8h0.6M338.9,80.2h0.6M346.7,80.2h0.6M360.5,64.1h0.6M360.4,82.3h0.6M331.1,82.7h0.6M349.2,73.6h0.6M346.6,90.8h0.6M325.8,93.6h0.6M374.0,77.9h0.6M345.8,73.4h0.6M359.0,65.0h0.6M332.2,86.4h0.6M348.2,87.7h0.6M327.7,91.4h0.6M343.8,78.2h0.6M346.3,84.8h0.6M343.8,74.7h0.6M325.6,89.5h0.6M361.7,80.5h0.6M357.8,63.2h0.6M364.2,83.2h0.6M324.3,94.3h0.6M358.8,68.4h0.6M363.0,69.5h0.6M345.4,71.6h0.6M334.7,81.6h0.6M374.3,68.7h0.6M361.9,65.1h0.6M343.6,72.0h0.6M365.2,61.1h0.6M341.4,83.0h0.6M325.7,92.0h0.6M338.4,80.8h0.6M346.3,89.7h0.6M354.6,78.6h0.6M357.4,83.2h0.6M354.1,73.4h0.6M364.8,63.1h0.6M325.3,96.7h0.6M368.7,53.2h0.6M372.2,84.0h0.6M368.3,73.0h0.6M366.7,82.0h0.6M365.2,60.8h0.6M320.4,96.8h0.6M355.3,85.1h0.6M354.4,79.9h0.6M329.2,89.6h0.6M337.0,85.2h0.6M329.0,92.3h0.6M364.8,83.8h0.6M373.3,55.0h0.6M356.1,66.9h0.6M333.6,92.3h0.6M324.3,88.6h0.6M337.8,78.3h0.6M364.4,76.7h0.6M357.5,85.1h0.6M364.0,67.5h0.6M361.1,64.4h0.6M374.8,61.8h0.6M335.6,94.9h0.6M356.0,84.0h0.6M369.9,68.1h0.6M366.6,58.7h0.6M344.6,72.2h0.6M328.1,90.5h0.6M358.1,72.9h0.6M354.1,73.7h0.6M353.8,68.0h0.6M372.9,82.3h0.6M348.3,72.0h0.6M358.0,60.5h0.6M350.0,69.1h0.6M352.4,75.5h0.6M334.4,79.6h0.6M364.7,85.7h0.6M372.2,69.7h0.6M361.1,80.3h0.6M328.3,91.2h0.6M337.7,85.4h0.6M345.1,82.8h0.6M363.3,66.3h0.6M317.8,99.2h0.6M318.8,94.5h0.6M367.5,84.7h0.6M350.0,79.2h0.6M365.7,70.8h0.6M344.6,85.0h0.6M333.9,82.3h0.6M346.4,73.6h0.6M329.8,94.5h0.6M363.9,78.0h0.6M328.4,89.7h0.6M365.8,84.9h0.6M319.4,98.9h0.6M361.5,65.9h0.6M373.0,76.3h0.6M329.0,87.3h0.6M366.3,71.6h0.6M323.0,94.3h0.6M346.6,72.7h0.6M344.6,74.6h0.6M369.1,82.0h0.6M355.2,64.6h0.6M328.7,95.6h0.6M350.8,86.0h0.6M338.8,93.9h0.6M354.6,79.1h0.6M359.7,69.4h0.6M339.9,76.2h0.6M368.4,80.2h0.6M336.9,80.2h0.6M367.8,64.0h0.6M329.2,86.4h0.6M374.6,69.5h0.6M361.4,77.6h0.6M357.0,87.3h0.6M325.7,91.8h0.6M338.5,91.3h0.6M342.5,87.6h0.6M362.4,61.7h0.6M371.3,76.3h0.6M346.4,92.3h0.6M333.7,89.0h0.6M356.9,77.9h0.6M363.2,78.0h0.6M347.4,82.3h0.6M337.9,88.0h0.6M357.6,67.2h0.6M366.3,67.5h0.6M361.1,72.2h0.6M318.5,99.1h0.6M324.0,95.0h0.6M342.2,80.3h0.6M352.5,71.0h0.6M327.8,97.4h0.6M351.5,82.2h0.6M350.0,79.1h0.6M360.5,87.8h0.6M365.4,84.4h0.6M350.8,86.7h0.6M357.0,64.3h0.6M324.3,95.5h0.6M371.8,60.0h0.6M354.2,78.3h0.6M361.3,85.8h0.6M352.5,81.7h0.6M367.2,73.7h0.6M355.5,67.3h0.6M320.3,99.8h0.6M362.1,69.5h0.6M368.8,75.1h0.6M362.1,61.8h0.6M371.1,54.1h0.6M347.2,78.0h0.6M338.6,76.9h0.6M342.1,78.2h0.6M338.5,83.4h0.6M368.4,79.2h0.6M345.4,90.9h0.6M357.9,73.4h0.6M360.3,86.3h0.6M360.4,74.3h0.6M360.8,60.2h0.6M351.4,88.8h0.6M350.4,68.8h0.6M364.3,83.5h0.6M352.7,78.5h0.6M320.3,95.1h0.6M350.1,78.4h0.6M329.7,90.8h0.6M365.9,84.8h0.6M336.6,83.3h0.6M319.6,96.3h0.6M339.6,82.0h0.6M331.2,88.5h0.6M332.9,89.8h0.6M345.5,77.1h0.6M365.9,71.7h0.6M350.8,67.3h0.6M338.1,88.2h0.6M338.6,78.8h0.6M362.2,58.1h0.6M321.1,93.7h0.6M354.0,70.5h0.6M316.0,101.0h0.6M348.8,88.5h0.6M351.2,72.4h0.6M372.9,62.1h0.6M360.2,62.6h0.6M358.5,68.9h0.6M328.9,89.7h0.6M340.9,86.8h0.6M359.3,83.2h0.6M339.8,78.9h0.6M359.3,64.0h0.6M336.5,83.4h0.6M368.7,73.9h0.6M364.1,86.1h0.6M348.3,88.9h0.6M323.4,98.9h0.6M347.6,72.6h0.6M338.1,87.7h0.6M358.0,87.5h0.6M336.0,93.8h0.6M352.4,69.9h0.6M363.8,78.1h0.6M327.3,90.4h0.6M346.7,70.8h0.6M343.5,81.5h0.6M327.4,89.7h0.6M356.5,75.5h0.6M355.1,88.6h0.6M361.1,60.5h0.6M338.0,90.9h0.6M354.7,87.6h0.6M318.2,99.2h0.6M316.6,99.2h0.6M344.2,90.1h0.6M343.8,76.7h0.6M369.6,73.3h0.6M371.1,70.3h0.6M367.1,78.4h0.6M370.0,81.0h0.6M349.9,77.0h0.6M360.4,74.8h0.6M336.4,85.3h0.6M374.1,67.5h0.6M327.8,94.2h0.6M360.7,83.5h0.6M346.0,75.4h0.6M356.7,74.9h0.6M373.1,53.2h0.6M355.3,65.7h0.6M348.0,82.3h0.6M358.8,66.0h0.6M333.1,82.1h0.6M338.6,79.8h0.6M371.3,56.1h0.6M339.0,88.0h0.6M351.5,72.9h0.6M339.1,84.5h0.6M369.9,79.0h0.6M339.4,76.1h0.6M336.3,89.5h0.6M330.7,88.0h0.6M369.8,55.8h0.6M336.4,81.0h0.6M370.2,58.7h0.6M364.6,58.6h0.6M342.3,84.0h0.6M335.7,94.9h0.6M349.7,83.2h0.6M343.3,92.3h0.6M327.0,92.5h0.6M339.1,88.7h0.6M344.6,83.8h0.6M362.2,62.6h0.6M322.3,95.7h0.6M359.6,61.7h0.6M331.3,93.1h0.6M338.9,85.1h0.6M354.9,70.1h0.6M334.1,94.2h0.6M335.3,88.9h0.6M369.0,60.0h0.6M331.2,85.7h0.6M366.1,56.9h0.6M364.5,84.4h0.6M369.4,59.0h0.6M354.2,90.0h0.6M321.5,91.6h0.6M356.9,87.2h0.6M333.3,95.0h0.6M341.4,78.7h0.6M320.4,90.7h0.6M369.6,84.5h0.6M361.6,71.9h0.6M373.7,57.4h0.6M341.8,91.0h0.6M342.6,86.3h0.6M369.5,67.1h0.6M362.2,84.9h0.6M325.0,91.5h0.6M373.8,53.0h0.6M353.9,66.1h0.6M367.4,59.3h0.6M369.2,56.0h0.6M329.3,91.9h0.6M355.1,69.5h0.6M357.6,66.4h0.6M338.8,78.3h0.6M374.0,48.0h0.6M318.8,97.5h0.6M359.1,65.6h0.6M367.9,66.4h0.6M344.2,83.2h0.6M367.4,57.4h0.6M344.0,77.7h0.6M373.8,78.8h0.6M343.0,83.3h0.6M331.5,87.6h0.6M348.2,74.7h0.6M352.6,83.6h0.6M358.8,65.7h0.6M348.6,75.2h0.6M345.3,74.6h0.6M341.7,84.4h0.6M349.3,78.3h0.6M319.9,94.8h0.6M335.6,88.4h0.6M356.5,89.4h0.6M372.2,51.7h0.6M346.9,84.1h0.6M363.9,55.8h0.6M326.8,86.9h0.6M363.6,60.1h0.6M320.2,98.2h0.6M333.2,84.1h0.6M352.9,70.8h0.6M361.0,68.8h0.6M364.1,84.6h0.6M365.6,54.7h0.6M374.7,48.5h0.6M350.2,90.1h0.6M365.7,57.6h0.6M327.0,85.8h0.6M345.2,86.7h0.6M321.0,91.0h0.6M343.5,79.0h0.6M327.7,97.4h0.6M368.4,85.0h0.6M354.4,87.0h0.6M326.1,91.1h0.6M345.5,74.0h0.6M348.1,69.9h0.6M363.5,78.4h0.6M365.9,55.7h0.6M368.0,57.4h0.6M336.0,80.8h0.6M366.6,62.4h0.6M353.2,72.7h0.6M366.5,68.7h0.6M365.1,63.4h0.6M368.2,61.8h0.6M346.8,83.4h0.6M331.1,90.6h0.6M370.4,56.0h0.6M370.3,58.5h0.6M336.4,84.7h0.6M371.8,84.6h0.6M335.1,90.0h0.6M339.9,89.6h0.6M356.0,87.7h0.6M319.2,96.6h0.6M373.8,56.8h0.6M330.7,89.9h0.6M366.4,69.6h0.6M341.8,78.4h0.6M359.7,60.6h0.6M316.8,99.7h0.6M365.3,86.0h0.6M351.2,89.4h0.6M344.3,80.1h0.6M334.9,88.6h0.6M373.2,65.5h0.6M361.2,75.7h0.6M336.1,85.1h0.6M333.1,88.0h0.6M330.6,82.4h0.6M370.2,77.4h0.6M370.6,54.9h0.6M352.4,77.4h0.6M326.8,97.5h0.6M352.4,81.0h0.6M347.7,73.2h0.6M371.1,82.4h0.6M365.5,62.1h0.6M336.7,88.4h0.6M349.6,76.4h0.6M368.9,71.9h0.6M347.2,76.9h0.6M348.3,85.5h0.6M327.0,91.9h0.6M325.5,97.5h0.6M346.4,79.7h0.6M337.5,91.9h0.6M342.0,80.0h0.6M362.9,57.7h0.6M322.6,92.7h0.6M323.9,97.8h0.6M366.7,58.0h0.6M353.7,65.5h0.6M366.7,57.6h0.6" stroke="#3a48b0" stroke-width="0.6" opacity="0.6"/>
<path d="M318.5,96.5 L374.5,51 L374.5,82 C362,86 350,90 338,94 C330,96.5 324,98 318.5,96.5 Z" fill="#3c4cae" opacity="1" filter="url(#b1)"/>
<path d="M350.1,76.5h0.6M344.3,80.8h0.6M328.8,93.3h0.6M351.7,72.2h0.6M370.7,73.1h0.6M361.9,76.0h0.6M368.4,83.0h0.6M372.8,64.2h0.6M371.5,82.2h0.6M364.6,84.5h0.6M348.5,83.4h0.6M369.5,66.8h0.6M347.7,79.7h0.6M346.4,87.8h0.6M338.1,90.1h0.6M374.2,80.2h0.6M330.6,93.5h0.6M341.5,88.0h0.6M369.7,80.1h0.6M354.2,78.7h0.6M363.4,81.3h0.6M334.5,89.7h0.6M335.6,88.7h0.6M360.4,75.9h0.6M349.0,78.7h0.6M374.3,81.0h0.6M329.5,91.2h0.6M350.2,72.7h0.6M353.8,85.4h0.6M369.6,83.1h0.6M373.0,64.8h0.6M339.2,91.6h0.6M366.7,65.5h0.6M352.1,87.8h0.6M363.8,63.2h0.6M375.0,75.6h0.6M360.4,81.1h0.6M360.8,81.7h0.6M337.6,88.3h0.6M368.2,61.8h0.6M367.0,68.0h0.6M372.7,79.4h0.6M370.9,79.1h0.6M366.7,77.2h0.6M329.5,94.2h0.6M355.5,73.6h0.6M352.0,76.8h0.6M367.9,82.1h0.6M344.0,79.5h0.6M334.7,85.0h0.6M365.2,76.0h0.6M346.5,86.4h0.6M351.6,88.2h0.6M369.6,77.3h0.6M351.3,79.6h0.6M373.8,68.4h0.6M335.4,92.9h0.6M350.9,87.8h0.6M367.3,83.0h0.6M324.0,94.5h0.6M351.0,83.2h0.6M345.5,81.5h0.6M367.5,70.6h0.6M373.1,73.0h0.6M350.1,80.9h0.6M340.4,84.7h0.6M347.6,82.1h0.6M367.6,72.1h0.6M346.5,83.2h0.6M349.4,89.0h0.6M354.6,77.8h0.6M349.3,79.7h0.6M374.6,78.2h0.6M356.4,74.4h0.6M373.3,80.0h0.6M364.7,75.8h0.6M370.7,56.5h0.6M360.5,82.1h0.6M329.2,91.2h0.6M357.4,69.4h0.6M344.9,81.7h0.6M353.0,82.0h0.6M364.0,62.9h0.6M368.7,81.6h0.6M349.6,83.6h0.6M360.0,77.8h0.6M373.3,71.1h0.6M358.8,82.6h0.6M351.1,79.3h0.6M334.3,90.9h0.6M335.6,92.6h0.6M356.9,69.7h0.6M365.6,77.4h0.6M364.6,70.0h0.6M372.8,78.7h0.6M359.6,85.9h0.6M347.7,88.7h0.6M364.4,82.4h0.6M374.1,65.9h0.6M339.2,85.5h0.6M370.3,74.8h0.6M366.8,75.5h0.6M353.6,83.9h0.6M362.2,81.0h0.6M350.9,88.6h0.6M344.6,77.9h0.6M366.0,76.4h0.6M344.9,79.5h0.6M372.6,75.9h0.6M374.0,80.0h0.6M362.7,75.5h0.6M371.3,76.5h0.6M370.2,66.8h0.6M324.6,94.2h0.6M371.5,64.1h0.6M359.8,80.4h0.6M359.3,75.4h0.6M339.7,90.0h0.6M364.7,84.6h0.6M339.3,87.6h0.6M368.1,78.4h0.6M347.9,88.2h0.6M346.7,81.6h0.6M337.5,90.8h0.6M334.3,86.7h0.6M357.1,86.0h0.6M352.5,87.8h0.6M363.1,84.0h0.6M372.1,60.3h0.6M323.6,95.6h0.6M333.9,86.0h0.6M374.1,79.0h0.6M339.9,84.9h0.6M351.0,84.2h0.6M339.8,85.0h0.6M366.2,78.8h0.6M365.2,83.1h0.6M342.5,85.3h0.6M371.5,79.7h0.6M356.4,79.8h0.6M365.1,77.9h0.6M360.7,84.3h0.6M341.9,85.4h0.6M367.3,66.2h0.6M352.4,85.0h0.6M361.0,80.2h0.6M348.6,76.3h0.6M367.0,83.1h0.6" stroke="#ffffff" stroke-width="0.6" opacity="0.35"/>
<path d="M372.5,78.2h0.6M368.1,84.1h0.6M342.1,87.1h0.6M354.5,85.7h0.6M336.3,90.5h0.6M370.8,66.0h0.6M368.2,69.3h0.6M350.5,72.4h0.6M367.0,75.5h0.6M363.4,68.9h0.6M352.5,73.1h0.6M374.9,81.9h0.6M345.6,88.2h0.6M347.8,89.7h0.6M349.3,85.6h0.6M358.9,76.9h0.6M348.2,86.2h0.6M364.3,66.5h0.6M363.4,83.0h0.6M368.0,82.8h0.6M346.5,89.5h0.6M372.6,73.4h0.6M360.8,78.3h0.6M345.6,88.9h0.6M374.4,76.9h0.6M372.2,75.4h0.6M360.7,69.5h0.6M370.9,56.4h0.6M346.3,88.0h0.6M359.0,66.0h0.6M361.3,82.9h0.6M358.1,86.0h0.6M360.4,78.7h0.6M334.1,92.4h0.6M362.2,78.6h0.6M363.6,76.0h0.6M347.6,78.1h0.6M345.1,87.1h0.6M354.6,84.3h0.6M373.9,68.5h0.6M370.9,61.6h0.6M370.3,63.5h0.6M355.7,80.9h0.6M372.8,70.1h0.6M358.1,82.9h0.6M357.7,76.0h0.6M372.9,73.0h0.6M370.0,70.3h0.6M353.2,87.7h0.6M361.5,80.4h0.6M361.9,77.2h0.6M368.0,77.1h0.6M358.5,74.9h0.6M363.2,71.5h0.6M324.8,95.8h0.6M362.4,67.4h0.6M356.5,80.8h0.6M364.2,81.0h0.6M349.8,79.1h0.6M360.5,81.8h0.6M368.7,82.9h0.6M337.8,91.8h0.6M352.3,86.5h0.6M352.5,74.3h0.6M341.5,86.0h0.6M366.2,77.9h0.6M348.2,80.1h0.6M370.2,74.7h0.6M336.8,92.5h0.6M366.9,61.3h0.6M350.5,88.3h0.6M373.0,79.8h0.6M329.9,89.5h0.6M365.1,78.6h0.6M374.0,70.1h0.6M371.2,68.3h0.6M354.3,71.1h0.6M363.6,77.5h0.6M353.4,87.4h0.6M353.0,79.2h0.6M353.4,86.6h0.6M353.0,87.0h0.6M345.3,85.1h0.6M357.3,74.1h0.6M337.5,90.4h0.6M357.5,85.8h0.6M347.9,82.9h0.6M366.8,62.0h0.6M373.9,60.6h0.6M363.0,75.8h0.6M373.3,74.1h0.6M334.2,87.3h0.6M337.0,84.0h0.6M362.3,69.3h0.6M353.0,86.6h0.6M372.5,61.8h0.6M351.5,88.2h0.6" stroke="#7080c8" stroke-width="0.6" opacity="0.5"/>
<path d="M317.5,95 L374.5,50.5 L374.5,43 L317.5,88 Z" fill="url(#gband)" filter="url(#b05)"/>
<path d="M320,91.5 L348,69.5 L348,66.5 L320,88.5 Z" fill="#30b0d0" opacity="0.9" filter="url(#b1)"/>
<ellipse cx="334" cy="77.6" rx="18" ry="2.4" fill="#38b8d0" opacity="0.95" filter="url(#b1)" transform="rotate(-38.5 334 77.6)"/>
<ellipse cx="330" cy="80.6" rx="9.5" ry="2.1" fill="#78d050" opacity="1" filter="url(#b1)" transform="rotate(-38.5 330 80.6)"/>
<ellipse cx="329" cy="81.0" rx="4.2" ry="1.5" fill="#f0d020" opacity="1" filter="url(#b05)" transform="rotate(-38.5 329 81.0)"/>
<ellipse cx="328.8" cy="81.0" rx="1.8" ry="1.0" fill="#e03010" opacity="1" filter="url(#b05)" transform="rotate(-38.5 328.8 81.0)"/>
<path d="M318,86 L372,44 L372,42 L318,84 Z" fill="#fff" opacity="0.7" filter="url(#b05)"/>
</g>
<rect x="300.00" y="27.30" width="74.50" height="74.60" stroke="#444" stroke-width="0.8" fill="none" />
<path d="M316.3,83.6 L374.4,39.3 L374.4,51 L316.1,95.8 Z" fill="none" stroke="#222" stroke-width="0.8"/>
<line x1="298.40" y1="30.20" x2="300.00" y2="30.20" stroke="#333" stroke-width="0.7" />
<text x="296.40" y="32.30" font-size="6.6" text-anchor="end" fill="#333" stroke="#333">250K</text>
<line x1="298.40" y1="44.54" x2="300.00" y2="44.54" stroke="#333" stroke-width="0.7" />
<text x="296.40" y="46.64" font-size="6.6" text-anchor="end" fill="#333" stroke="#333">200K</text>
<line x1="298.40" y1="58.88" x2="300.00" y2="58.88" stroke="#333" stroke-width="0.7" />
<text x="296.40" y="60.98" font-size="6.6" text-anchor="end" fill="#333" stroke="#333">150K</text>
<line x1="298.40" y1="73.22" x2="300.00" y2="73.22" stroke="#333" stroke-width="0.7" />
<text x="296.40" y="75.32" font-size="6.6" text-anchor="end" fill="#333" stroke="#333">100K</text>
<line x1="298.40" y1="87.56" x2="300.00" y2="87.56" stroke="#333" stroke-width="0.7" />
<text x="296.40" y="89.66" font-size="6.6" text-anchor="end" fill="#333" stroke="#333">50K</text>
<line x1="298.40" y1="101.90" x2="300.00" y2="101.90" stroke="#333" stroke-width="0.7" />
<text x="296.40" y="104.00" font-size="6.6" text-anchor="end" fill="#333" stroke="#333">0</text>
<line x1="300.20" y1="101.90" x2="300.20" y2="103.50" stroke="#333" stroke-width="0.7" />
<text x="302.60" y="109.10" font-size="6.6" text-anchor="end" fill="#333" stroke="#333" stroke-width="0.18" transform="rotate(-45 302.60 109.10)" >0</text>
<line x1="314.60" y1="101.90" x2="314.60" y2="103.50" stroke="#333" stroke-width="0.7" />
<text x="317.00" y="109.10" font-size="6.6" text-anchor="end" fill="#333" stroke="#333" stroke-width="0.18" transform="rotate(-45 317.00 109.10)" >50K</text>
<line x1="329.00" y1="101.90" x2="329.00" y2="103.50" stroke="#333" stroke-width="0.7" />
<text x="331.40" y="109.10" font-size="6.6" text-anchor="end" fill="#333" stroke="#333" stroke-width="0.18" transform="rotate(-45 331.40 109.10)" >100K</text>
<line x1="343.40" y1="101.90" x2="343.40" y2="103.50" stroke="#333" stroke-width="0.7" />
<text x="345.80" y="109.10" font-size="6.6" text-anchor="end" fill="#333" stroke="#333" stroke-width="0.18" transform="rotate(-45 345.80 109.10)" >150K</text>
<line x1="357.80" y1="101.90" x2="357.80" y2="103.50" stroke="#333" stroke-width="0.7" />
<text x="360.20" y="109.10" font-size="6.6" text-anchor="end" fill="#333" stroke="#333" stroke-width="0.18" transform="rotate(-45 360.20 109.10)" >200K</text>
<line x1="372.20" y1="101.90" x2="372.20" y2="103.50" stroke="#333" stroke-width="0.7" />
<text x="374.60" y="109.10" font-size="6.6" text-anchor="end" fill="#333" stroke="#333" stroke-width="0.18" transform="rotate(-45 374.60 109.10)" >250K</text>
<text x="336.60" y="22.70" font-size="8.7" text-anchor="middle" fill="#333" stroke="#333" stroke-width="0.04" textLength="45.6" lengthAdjust="spacingAndGlyphs" >Single Cells</text>
<text x="337.20" y="128.80" font-size="9.0" text-anchor="middle" fill="#333" stroke="#333" stroke-width="0.04" textLength="17.5" lengthAdjust="spacingAndGlyphs" >FSC-A</text>
<text x="278.24" y="65.50" font-size="9.0" text-anchor="middle" fill="#333" stroke="#333" stroke-width="0.04" textLength="17.5" lengthAdjust="spacingAndGlyphs" transform="rotate(-90 278.24 65.50)" >FSC-H</text>
<clipPath id="c3"><rect x="407.6" y="27.0" width="76.0" height="74.9"/></clipPath>
<g clip-path="url(#c3)">
<path d="M450.8,79.7h0.6M465.2,77.8h0.6M463.8,75.3h0.6M449.3,77.5h0.6M459.4,73.5h0.6M465.8,76.8h0.6M453.9,75.7h0.6M455.4,75.4h0.6M452.0,76.3h0.6M447.5,81.6h0.6M460.3,79.7h0.6M464.4,86.1h0.6M454.7,77.9h0.6M461.6,81.3h0.6M453.4,80.2h0.6M459.4,77.8h0.6M460.6,71.9h0.6M454.5,81.7h0.6M454.4,76.9h0.6M448.3,77.9h0.6M468.5,73.7h0.6M447.5,75.5h0.6M458.4,79.8h0.6M451.1,76.3h0.6M453.9,78.5h0.6M468.3,82.8h0.6M458.9,75.2h0.6M448.1,73.6h0.6M455.5,73.0h0.6M459.3,76.9h0.6M457.5,80.4h0.6M463.2,82.7h0.6M467.1,77.6h0.6M451.9,78.4h0.6M452.5,82.3h0.6M456.6,73.1h0.6M453.6,77.6h0.6M458.8,78.3h0.6M464.1,76.4h0.6M462.6,77.8h0.6M458.2,81.1h0.6M453.8,80.0h0.6M469.8,78.9h0.6M464.0,75.8h0.6M459.5,81.7h0.6M472.6,76.6h0.6M463.5,76.0h0.6M454.5,82.4h0.6M450.1,75.4h0.6M464.0,76.1h0.6M448.1,79.5h0.6M445.8,78.2h0.6M451.2,79.7h0.6M445.1,79.1h0.6M453.1,77.8h0.6M454.2,75.8h0.6M462.9,76.9h0.6M449.7,78.0h0.6M448.1,79.6h0.6M454.8,76.7h0.6M464.7,82.0h0.6M463.2,77.3h0.6M443.4,81.4h0.6M463.6,81.1h0.6M457.0,80.3h0.6M450.0,73.4h0.6M445.4,79.7h0.6M464.1,71.1h0.6M464.1,78.4h0.6M457.6,71.6h0.6M458.6,79.6h0.6M448.0,79.8h0.6M445.0,77.7h0.6M461.8,75.7h0.6M463.5,77.4h0.6M459.5,75.9h0.6M453.0,75.9h0.6M460.7,73.9h0.6M458.1,76.4h0.6M454.1,80.3h0.6M460.0,75.2h0.6M443.4,76.6h0.6M451.0,76.1h0.6M458.7,74.3h0.6M466.3,77.3h0.6M466.2,77.0h0.6M449.1,77.4h0.6M459.0,78.1h0.6M469.7,82.4h0.6M449.7,74.8h0.6M447.3,78.2h0.6M454.1,75.6h0.6M457.0,77.6h0.6M450.5,79.3h0.6M456.5,79.5h0.6M455.9,78.0h0.6M448.3,73.9h0.6M447.9,78.5h0.6M462.2,79.4h0.6M450.9,78.7h0.6M467.1,80.3h0.6M461.3,78.5h0.6M458.1,83.5h0.6M465.0,80.3h0.6M468.6,76.9h0.6M450.0,80.2h0.6M451.4,82.6h0.6M453.2,76.6h0.6M469.5,72.8h0.6M461.5,75.8h0.6M462.5,75.1h0.6M467.8,74.7h0.6M451.3,81.2h0.6M458.2,75.5h0.6M444.5,81.9h0.6M472.0,76.0h0.6M460.1,84.2h0.6M462.8,77.0h0.6M464.6,79.6h0.6M457.3,73.4h0.6M450.3,72.0h0.6M462.9,77.2h0.6M466.6,79.4h0.6M456.8,78.2h0.6M460.5,78.0h0.6M443.6,77.1h0.6M470.1,80.2h0.6M466.4,83.3h0.6M464.0,76.8h0.6M459.8,79.6h0.6M467.0,79.0h0.6M457.4,80.8h0.6M446.1,76.4h0.6M458.9,76.0h0.6M463.8,79.7h0.6M471.6,74.3h0.6M464.1,76.9h0.6M452.2,74.8h0.6M456.9,82.5h0.6M456.7,79.9h0.6M448.9,79.2h0.6M468.9,80.2h0.6M459.5,73.6h0.6M457.1,78.4h0.6M455.6,79.4h0.6M447.5,74.9h0.6M443.5,86.9h0.6M450.1,74.9h0.6M457.1,72.5h0.6M451.5,79.4h0.6M465.4,76.5h0.6M455.2,83.0h0.6M452.4,74.6h0.6M457.4,74.8h0.6M452.3,76.2h0.6M451.7,82.0h0.6M458.3,75.3h0.6M453.9,74.9h0.6M467.3,81.5h0.6M461.7,79.6h0.6M465.9,83.4h0.6M442.3,79.5h0.6M449.9,77.2h0.6M459.0,74.1h0.6M459.0,79.9h0.6M453.8,80.0h0.6M462.7,80.1h0.6M462.5,77.8h0.6M455.6,77.4h0.6M453.1,73.9h0.6M466.6,75.8h0.6M450.1,81.8h0.6M439.4,80.5h0.6M457.4,80.3h0.6M457.6,70.4h0.6M464.7,76.2h0.6M452.1,77.8h0.6M464.2,76.5h0.6M462.0,74.8h0.6M448.0,80.1h0.6M455.8,77.5h0.6M468.3,79.1h0.6M460.2,81.2h0.6M467.9,76.4h0.6M457.3,81.1h0.6M452.0,78.7h0.6M454.4,81.1h0.6M462.3,73.9h0.6M464.3,83.8h0.6M451.8,70.4h0.6M452.8,76.8h0.6M464.8,79.1h0.6M450.9,79.9h0.6M469.2,78.3h0.6M465.5,78.2h0.6M445.4,75.8h0.6M465.2,82.9h0.6M448.6,81.4h0.6M462.0,82.2h0.6M455.6,77.8h0.6M450.4,84.3h0.6M467.5,76.5h0.6M458.9,78.7h0.6M456.6,81.3h0.6M448.0,77.5h0.6M462.0,74.2h0.6M458.9,78.3h0.6M455.6,82.3h0.6M452.1,74.1h0.6M470.1,74.5h0.6M458.3,74.3h0.6M464.2,78.1h0.6M458.7,78.9h0.6M460.9,79.9h0.6M452.2,74.7h0.6M461.3,74.5h0.6M452.9,79.7h0.6M460.2,75.0h0.6M464.2,77.6h0.6M460.2,73.2h0.6M453.2,81.6h0.6M456.1,75.3h0.6M464.9,78.5h0.6M461.6,77.8h0.6M460.4,85.1h0.6M455.8,79.3h0.6M461.9,82.0h0.6M464.2,75.9h0.6M456.0,76.4h0.6M471.7,72.0h0.6M452.5,80.3h0.6M456.3,70.7h0.6M455.7,82.1h0.6M456.8,79.4h0.6M470.8,79.5h0.6M463.9,79.5h0.6M461.7,77.7h0.6M463.7,74.7h0.6M467.3,83.7h0.6M459.1,77.2h0.6M463.9,74.9h0.6M465.9,76.0h0.6M463.8,77.2h0.6M461.9,82.9h0.6M473.8,78.0h0.6M454.1,76.1h0.6M459.6,77.7h0.6M478.4,74.9h0.6M466.8,75.3h0.6M468.1,72.6h0.6M459.2,82.1h0.6M451.7,78.8h0.6M459.4,72.1h0.6M457.9,77.6h0.6M461.3,79.9h0.6M464.8,74.5h0.6M452.6,75.9h0.6M461.5,79.8h0.6M452.2,79.6h0.6M463.4,75.6h0.6M448.8,77.0h0.6M471.5,79.5h0.6M465.5,71.3h0.6M447.7,76.5h0.6M468.6,74.6h0.6M470.4,79.8h0.6M457.0,78.4h0.6M457.0,77.8h0.6M467.7,76.3h0.6M442.3,78.1h0.6M447.0,80.2h0.6M442.5,85.6h0.6M465.6,74.9h0.6M448.2,79.3h0.6M463.8,78.2h0.6M472.5,78.3h0.6M459.4,75.0h0.6M457.5,89.5h0.6M456.2,78.1h0.6M450.9,81.9h0.6M456.1,72.4h0.6M455.2,82.7h0.6M474.8,77.4h0.6M469.0,75.7h0.6M449.2,79.0h0.6M464.8,78.6h0.6M452.1,76.0h0.6M463.4,80.7h0.6M453.5,75.8h0.6M458.9,83.6h0.6M455.1,78.8h0.6M459.0,76.8h0.6M451.3,78.3h0.6M467.4,74.9h0.6M452.7,81.9h0.6M459.7,83.0h0.6M458.9,77.9h0.6M449.5,80.0h0.6M459.8,77.2h0.6M450.7,74.1h0.6M460.5,79.1h0.6M462.2,80.8h0.6M454.6,77.1h0.6M449.4,79.2h0.6M447.8,75.3h0.6M448.9,77.3h0.6M457.9,84.6h0.6M451.3,76.2h0.6M445.0,77.4h0.6M456.5,79.8h0.6M455.1,75.5h0.6M472.8,84.1h0.6M464.6,74.8h0.6M458.2,78.8h0.6M459.7,72.8h0.6M455.5,80.4h0.6M460.7,75.1h0.6M465.9,75.6h0.6M465.0,80.5h0.6M454.3,77.9h0.6M464.1,79.3h0.6M454.9,74.3h0.6M458.8,77.8h0.6M453.2,72.6h0.6M463.5,79.2h0.6M460.5,76.4h0.6M452.4,78.7h0.6M443.6,82.9h0.6M454.7,78.7h0.6M452.2,73.9h0.6M468.6,79.3h0.6M458.6,78.0h0.6M457.6,71.3h0.6M467.5,78.1h0.6M460.6,78.4h0.6M462.1,76.9h0.6M459.3,77.7h0.6M470.7,80.4h0.6M459.1,72.9h0.6M459.2,81.1h0.6M453.5,80.0h0.6M459.1,82.1h0.6M462.8,78.7h0.6M448.8,76.3h0.6M452.0,75.9h0.6M457.5,71.2h0.6M467.5,76.6h0.6M459.0,75.5h0.6M448.5,77.8h0.6M446.6,70.3h0.6M468.7,83.6h0.6M460.2,81.5h0.6M462.2,78.2h0.6M457.6,83.4h0.6M461.2,78.6h0.6M452.3,79.9h0.6M464.3,84.9h0.6M448.1,79.1h0.6M458.5,77.7h0.6M460.3,80.7h0.6M458.2,74.6h0.6M449.9,79.6h0.6M455.9,74.7h0.6M465.9,77.5h0.6M450.2,75.4h0.6M461.1,79.8h0.6M458.0,76.2h0.6M463.9,80.3h0.6M444.0,79.4h0.6M454.4,76.5h0.6M447.3,77.4h0.6M455.8,71.5h0.6M450.6,83.0h0.6M438.8,76.4h0.6M465.4,77.8h0.6M461.2,79.1h0.6M450.9,72.1h0.6M450.7,74.1h0.6M455.8,75.6h0.6M453.1,77.3h0.6M462.3,71.5h0.6M452.0,77.9h0.6M457.4,85.7h0.6M456.3,78.3h0.6M464.3,74.3h0.6M467.2,75.6h0.6M461.2,75.3h0.6M452.7,78.4h0.6M462.7,78.1h0.6M460.5,81.1h0.6M460.7,80.8h0.6M459.1,78.2h0.6M466.3,81.2h0.6M458.3,78.4h0.6M469.4,76.7h0.6M456.9,75.9h0.6M468.5,80.7h0.6M468.5,82.9h0.6M441.4,73.0h0.6M450.7,78.0h0.6M462.9,76.4h0.6M467.5,71.9h0.6M456.7,73.2h0.6M458.3,80.7h0.6M443.8,80.7h0.6M459.0,74.4h0.6M469.0,78.4h0.6M451.5,74.3h0.6M453.1,80.0h0.6M457.6,83.1h0.6M459.6,79.8h0.6M464.6,75.5h0.6M470.9,71.2h0.6M458.8,79.5h0.6M461.8,78.4h0.6M456.7,73.0h0.6M455.7,79.1h0.6M444.1,76.6h0.6M465.3,76.1h0.6M461.7,77.3h0.6M451.9,75.1h0.6M460.3,81.7h0.6M457.9,82.6h0.6M457.4,76.7h0.6M465.6,78.6h0.6M455.5,70.9h0.6M455.9,73.5h0.6M466.3,81.9h0.6M460.5,82.6h0.6M449.1,70.9h0.6M450.3,80.5h0.6M451.3,77.2h0.6M449.2,76.7h0.6M465.4,81.8h0.6M461.0,79.7h0.6M453.6,75.0h0.6M462.6,78.7h0.6M451.1,81.9h0.6M463.8,75.4h0.6M461.8,79.4h0.6M454.7,76.4h0.6M464.8,74.8h0.6M464.4,76.1h0.6M468.6,80.0h0.6M453.5,76.0h0.6M453.4,76.9h0.6M459.3,71.7h0.6M456.3,73.2h0.6M460.8,74.6h0.6M449.1,80.2h0.6M465.9,80.0h0.6M454.2,77.5h0.6M451.6,81.5h0.6M445.3,76.0h0.6M465.0,83.2h0.6M457.7,76.4h0.6M469.6,80.0h0.6M469.3,82.0h0.6M447.2,81.8h0.6M458.2,86.8h0.6M457.8,76.0h0.6M452.2,82.1h0.6M449.2,75.1h0.6M451.0,78.1h0.6M463.0,70.7h0.6M458.6,81.0h0.6M448.7,75.0h0.6M454.8,68.7h0.6M456.2,74.1h0.6M462.2,80.7h0.6M452.0,78.5h0.6M451.6,72.9h0.6M455.7,81.6h0.6M452.8,78.9h0.6M460.3,81.5h0.6M456.4,82.4h0.6M459.0,79.0h0.6M466.9,76.5h0.6M453.2,80.3h0.6M452.1,79.0h0.6M460.1,77.9h0.6M457.7,76.5h0.6M454.1,73.3h0.6M464.2,85.6h0.6M466.9,86.1h0.6M460.0,81.1h0.6M463.3,79.8h0.6M467.4,77.9h0.6M459.0,75.9h0.6M465.8,77.7h0.6M457.1,79.9h0.6M464.0,77.4h0.6M468.6,69.6h0.6M453.1,80.2h0.6M456.1,78.5h0.6M466.6,83.9h0.6M462.5,78.4h0.6M466.6,76.9h0.6M455.2,77.8h0.6M455.0,84.9h0.6" stroke="#4858b8" stroke-width="0.6" opacity="0.55"/>
<path d="M463.2,79.0h0.6M466.0,80.3h0.6M467.6,72.9h0.6M466.6,75.2h0.6M462.3,75.7h0.6M465.3,80.4h0.6M461.7,77.5h0.6M469.9,80.5h0.6M470.3,74.9h0.6M470.6,77.9h0.6M461.7,78.3h0.6M470.5,80.9h0.6M462.6,76.9h0.6M473.9,76.9h0.6M471.2,77.4h0.6M466.8,77.8h0.6M469.3,78.2h0.6M474.2,75.1h0.6M469.9,82.0h0.6M466.0,76.8h0.6M459.5,77.1h0.6M461.5,80.5h0.6M470.9,78.6h0.6M470.6,74.5h0.6M467.6,80.2h0.6M460.7,77.8h0.6M464.2,78.0h0.6M472.7,78.5h0.6M472.8,81.4h0.6M472.9,76.4h0.6M467.1,77.1h0.6M467.7,81.8h0.6M468.6,76.7h0.6M464.6,80.7h0.6M467.0,74.9h0.6M464.6,80.2h0.6M469.6,75.3h0.6M472.5,79.3h0.6M475.2,76.7h0.6M469.0,81.7h0.6M470.0,70.4h0.6M464.3,75.3h0.6M471.3,79.0h0.6M467.1,75.6h0.6M471.6,82.3h0.6M473.5,75.8h0.6M464.7,75.9h0.6M466.8,78.0h0.6M465.0,74.7h0.6M466.8,78.6h0.6M472.0,75.7h0.6M470.5,76.7h0.6M466.8,78.9h0.6M463.5,76.9h0.6M466.6,80.0h0.6M471.0,82.7h0.6M469.6,74.1h0.6M464.8,77.0h0.6M461.6,78.3h0.6M468.4,77.6h0.6M478.4,78.8h0.6M467.1,80.5h0.6M472.1,74.1h0.6M469.4,81.0h0.6M471.5,79.1h0.6M465.3,81.6h0.6M473.2,79.7h0.6M463.7,79.4h0.6M470.0,80.9h0.6M472.5,76.9h0.6M468.8,80.6h0.6M469.7,81.2h0.6M458.5,83.8h0.6M473.4,78.2h0.6M465.9,78.9h0.6M468.4,84.2h0.6M462.4,80.7h0.6M463.2,79.1h0.6M469.9,77.8h0.6M467.3,75.3h0.6M467.1,77.3h0.6M467.8,76.5h0.6M460.0,77.2h0.6M466.8,76.4h0.6M462.5,77.7h0.6M474.4,78.7h0.6M469.2,77.2h0.6M465.9,77.0h0.6M472.8,76.8h0.6M466.0,75.0h0.6M461.9,79.3h0.6M472.2,78.4h0.6M471.1,77.8h0.6M460.8,77.8h0.6M467.5,75.7h0.6M472.2,77.9h0.6M465.7,81.3h0.6M465.6,74.8h0.6M466.9,78.4h0.6M465.0,76.4h0.6M473.1,80.1h0.6M467.8,77.3h0.6M470.0,74.7h0.6M469.9,77.2h0.6M466.7,81.4h0.6M461.6,79.0h0.6M467.7,74.1h0.6M471.3,80.0h0.6M474.5,76.6h0.6M469.1,78.2h0.6M470.1,80.1h0.6M471.9,75.6h0.6M471.8,76.5h0.6M473.6,80.3h0.6M468.9,81.4h0.6M468.4,78.5h0.6M464.6,79.4h0.6M470.5,75.7h0.6M467.5,74.4h0.6M467.1,76.6h0.6M466.5,84.2h0.6M473.4,77.1h0.6M467.2,76.7h0.6M476.5,76.5h0.6M466.9,77.7h0.6M469.6,76.4h0.6M467.9,76.2h0.6M466.3,76.4h0.6M465.0,78.4h0.6M468.4,75.9h0.6M472.6,72.8h0.6M472.7,73.2h0.6M463.9,81.3h0.6M471.9,77.6h0.6M457.5,72.7h0.6M463.5,75.4h0.6M467.9,80.5h0.6M471.5,75.8h0.6M475.8,78.0h0.6M468.2,76.8h0.6M470.0,76.3h0.6M477.4,80.7h0.6M467.1,76.9h0.6M469.3,80.1h0.6M472.2,75.1h0.6M466.6,79.0h0.6M461.3,80.2h0.6M463.0,77.3h0.6M477.6,77.1h0.6M468.9,75.4h0.6" stroke="#7080c8" stroke-width="0.6" opacity="0.5"/>
<path d="M439,73.5 C446,72 455,71.5 461,72.5 C465,73.5 467,76 466.5,79 C466,82 462,83.5 455,84 C448,84.3 442,84.3 438,84 Z" fill="#3040a8" opacity="0.95" filter="url(#b1)"/>
<ellipse cx="428" cy="78.6" rx="12.6" ry="6.3" fill="#2c3ca4" opacity="1" filter="url(#b1)"/>
<ellipse cx="432" cy="77.5" rx="8" ry="4" fill="#2c3ca4" opacity="0.8" filter="url(#b1)"/>
<ellipse cx="426.8" cy="79" rx="8.5" ry="4.6" fill="#30acd4" opacity="1" filter="url(#b1)"/>
<ellipse cx="426.6" cy="79.1" rx="5.2" ry="3.0" fill="#78cc48" opacity="1" filter="url(#b05)"/>
<ellipse cx="426.5" cy="79.2" rx="3" ry="1.9" fill="#f0d020" opacity="1" filter="url(#b05)"/>
<ellipse cx="426.4" cy="79.2" rx="1.5" ry="1.0" fill="#e03010" opacity="1" filter="url(#b05)"/>
<ellipse cx="450.4" cy="79.2" rx="3.2" ry="2.1" fill="#38a8e0" opacity="0.95" filter="url(#b05)"/>
</g>
<rect x="407.60" y="27.00" width="76.00" height="74.90" stroke="#444" stroke-width="0.8" fill="none" />
<rect x="414.10" y="70.00" width="26.40" height="15.00" stroke="#333" stroke-width="0.7" fill="none" />
<line x1="406.00" y1="30.20" x2="407.60" y2="30.20" stroke="#333" stroke-width="0.7" />
<text x="404.00" y="32.30" font-size="6.6" text-anchor="end" fill="#333" stroke="#333">250K</text>
<line x1="406.00" y1="44.54" x2="407.60" y2="44.54" stroke="#333" stroke-width="0.7" />
<text x="404.00" y="46.64" font-size="6.6" text-anchor="end" fill="#333" stroke="#333">200K</text>
<line x1="406.00" y1="58.88" x2="407.60" y2="58.88" stroke="#333" stroke-width="0.7" />
<text x="404.00" y="60.98" font-size="6.6" text-anchor="end" fill="#333" stroke="#333">150K</text>
<line x1="406.00" y1="73.22" x2="407.60" y2="73.22" stroke="#333" stroke-width="0.7" />
<text x="404.00" y="75.32" font-size="6.6" text-anchor="end" fill="#333" stroke="#333">100K</text>
<line x1="406.00" y1="87.56" x2="407.60" y2="87.56" stroke="#333" stroke-width="0.7" />
<text x="404.00" y="89.66" font-size="6.6" text-anchor="end" fill="#333" stroke="#333">50K</text>
<line x1="406.00" y1="101.90" x2="407.60" y2="101.90" stroke="#333" stroke-width="0.7" />
<text x="404.00" y="104.00" font-size="6.6" text-anchor="end" fill="#333" stroke="#333">0</text>
<line x1="413.80" y1="101.90" x2="413.80" y2="103.50" stroke="#333" stroke-width="0.7" />
<text x="413.80" y="111.40" font-size="5.8" text-anchor="middle" fill="#333" stroke="#333">−10<tspan font-size="4.18" dy="-2.4">3</tspan></text>
<line x1="422.20" y1="101.90" x2="422.20" y2="103.50" stroke="#333" stroke-width="0.7" />
<text x="422.20" y="111.40" font-size="5.8" text-anchor="middle" fill="#333" stroke="#333">0</text>
<line x1="435.50" y1="101.90" x2="435.50" y2="103.50" stroke="#333" stroke-width="0.7" />
<text x="435.50" y="111.40" font-size="5.8" text-anchor="middle" fill="#333" stroke="#333">10<tspan font-size="4.18" dy="-2.4">3</tspan></text>
<line x1="455.40" y1="101.90" x2="455.40" y2="103.50" stroke="#333" stroke-width="0.7" />
<text x="455.40" y="111.40" font-size="5.8" text-anchor="middle" fill="#333" stroke="#333">10<tspan font-size="4.18" dy="-2.4">4</tspan></text>
<line x1="475.30" y1="101.90" x2="475.30" y2="103.50" stroke="#333" stroke-width="0.7" />
<text x="475.30" y="111.40" font-size="5.8" text-anchor="middle" fill="#333" stroke="#333">10<tspan font-size="4.18" dy="-2.4">5</tspan></text>
<text x="446.00" y="122.70" font-size="9.0" text-anchor="middle" fill="#333" stroke="#333" stroke-width="0.04" textLength="32.5" lengthAdjust="spacingAndGlyphs" >Live / dead</text>
<text x="445.00" y="22.70" font-size="8.7" text-anchor="middle" fill="#333" stroke="#333" stroke-width="0.04" textLength="37.2" lengthAdjust="spacingAndGlyphs" >Live Cells</text>
<text x="385.24" y="65.30" font-size="9.0" text-anchor="middle" fill="#333" stroke="#333" stroke-width="0.04" textLength="19" lengthAdjust="spacingAndGlyphs" transform="rotate(-90 385.24 65.30)" >FSC-W</text>
<line x1="270.50" y1="39.75" x2="277.70" y2="39.75" stroke="#111" stroke-width="0.9" />
<path d="M277.20,38.05 L280.20,39.75 L277.20,41.45 Z" fill="#111"/>
<line x1="378.00" y1="39.75" x2="384.50" y2="39.75" stroke="#111" stroke-width="0.9" />
<path d="M384.00,38.05 L387.00,39.75 L384.00,41.45 Z" fill="#111"/>
<path d="M418.2,115.8 L418.2,134.9 L248.5,134.9 L248.5,147" fill="none" stroke="#222" stroke-width="0.9"/>
<path d="M246.8,146.6 L248.5,150.5 L250.2,146.6 Z" fill="#111"/>
<clipPath id="c4"><rect x="192.4" y="155.4" width="75.20000000000002" height="74.9"/></clipPath>
<g clip-path="url(#c4)">
<path d="M234.7,216.8h0.6M247.8,195.0h0.6M229.6,216.2h0.6M228.2,212.2h0.6M235.0,178.5h0.6M233.6,204.6h0.6M221.9,199.9h0.6M256.4,226.1h0.6M251.4,218.5h0.6M223.0,194.4h0.6M219.8,198.8h0.6M225.5,211.0h0.6M256.4,213.9h0.6M218.3,204.7h0.6M251.4,190.6h0.6M280.0,163.1h0.6M231.0,209.7h0.6M222.5,199.0h0.6M211.9,190.9h0.6M239.4,175.5h0.6M235.2,208.8h0.6M220.9,211.1h0.6M223.9,209.9h0.6M223.1,220.4h0.6M224.5,222.5h0.6M220.6,209.9h0.6M216.5,207.9h0.6M223.7,210.5h0.6M243.3,209.6h0.6M245.1,208.1h0.6M215.8,185.1h0.6M225.0,213.2h0.6M234.9,205.8h0.6M240.3,223.2h0.6M207.6,211.4h0.6M204.2,217.1h0.6M262.3,210.1h0.6M228.8,207.7h0.6M219.0,198.0h0.6M230.8,226.0h0.6M249.2,204.6h0.6M210.5,186.0h0.6M241.4,206.5h0.6M237.4,206.2h0.6M221.1,217.4h0.6M230.2,196.7h0.6M200.3,193.1h0.6M229.6,160.9h0.6M231.2,194.8h0.6M216.8,183.5h0.6M207.7,232.8h0.6M210.1,210.2h0.6M227.2,216.5h0.6M242.7,186.7h0.6M239.0,201.7h0.6M229.4,224.4h0.6M208.9,215.2h0.6M205.8,207.8h0.6M201.8,229.9h0.6M229.0,197.6h0.6M239.4,164.2h0.6M229.8,203.5h0.6M245.7,178.0h0.6M218.8,208.7h0.6M243.4,193.0h0.6M238.0,194.1h0.6M207.5,187.2h0.6M253.4,216.9h0.6M228.2,210.3h0.6M222.7,242.0h0.6M212.4,198.5h0.6M238.1,188.6h0.6M216.3,203.6h0.6M262.2,191.2h0.6M209.5,186.9h0.6M226.6,190.5h0.6M238.8,202.7h0.6M212.8,186.8h0.6M249.7,188.7h0.6M244.4,181.3h0.6M246.8,188.6h0.6M231.3,224.9h0.6M213.5,211.7h0.6M210.6,181.4h0.6M236.1,180.9h0.6M225.4,181.5h0.6M230.2,172.8h0.6M220.7,190.3h0.6M230.4,194.5h0.6M218.7,217.1h0.6M215.3,196.6h0.6M241.8,189.2h0.6M239.5,189.0h0.6M230.2,211.8h0.6M222.2,189.6h0.6M243.8,202.6h0.6M235.9,194.1h0.6M225.4,166.3h0.6M238.4,189.9h0.6M243.5,220.3h0.6M239.8,180.5h0.6M232.0,200.8h0.6M203.4,188.9h0.6M236.5,221.8h0.6M228.2,204.1h0.6M242.1,197.3h0.6M240.9,211.8h0.6M253.5,202.1h0.6M220.4,197.1h0.6M234.1,187.5h0.6M225.7,226.6h0.6M178.0,186.9h0.6M235.9,193.7h0.6M225.1,205.4h0.6M242.6,234.9h0.6M226.6,194.0h0.6M224.2,206.9h0.6M234.2,226.8h0.6M236.5,185.0h0.6M205.1,198.1h0.6M236.1,195.2h0.6M223.9,185.6h0.6M261.6,244.2h0.6M208.3,192.7h0.6M231.6,197.6h0.6M225.3,176.9h0.6M213.2,184.5h0.6M214.5,187.2h0.6M232.5,196.0h0.6M212.0,229.3h0.6M239.0,202.1h0.6M227.1,196.2h0.6M239.2,209.0h0.6M220.4,193.4h0.6M221.1,186.8h0.6M244.4,178.9h0.6M257.7,250.4h0.6M214.8,195.3h0.6M218.4,199.2h0.6M218.9,198.7h0.6M239.4,190.6h0.6M223.2,195.0h0.6M223.4,193.9h0.6M213.0,243.4h0.6M221.2,196.6h0.6M229.5,177.2h0.6M232.3,203.3h0.6M220.8,221.0h0.6M231.3,179.9h0.6M236.8,257.3h0.6M219.6,217.5h0.6M218.4,232.2h0.6M235.4,221.2h0.6M243.6,226.2h0.6M227.1,202.3h0.6M244.7,199.0h0.6M236.3,199.2h0.6M240.6,194.5h0.6M243.0,199.4h0.6M224.3,179.2h0.6M245.6,219.2h0.6M258.4,182.1h0.6M230.8,173.5h0.6M232.8,204.9h0.6M242.1,181.0h0.6M216.7,206.5h0.6M251.5,206.5h0.6M242.4,222.2h0.6M230.5,210.6h0.6M238.1,198.9h0.6M227.8,197.3h0.6M227.3,219.2h0.6M254.8,182.1h0.6M202.2,203.7h0.6M229.0,183.6h0.6M221.2,199.0h0.6M254.6,211.6h0.6M272.1,228.8h0.6M227.7,177.1h0.6M213.7,217.9h0.6M232.0,212.2h0.6M211.9,177.9h0.6M237.8,194.8h0.6M238.5,208.2h0.6M240.3,217.9h0.6M213.7,200.6h0.6M231.9,215.7h0.6M240.0,195.5h0.6M220.1,208.3h0.6M225.8,227.5h0.6M232.8,211.1h0.6M240.6,204.6h0.6M220.3,211.1h0.6M216.3,193.8h0.6M233.6,212.3h0.6M239.9,203.5h0.6M234.7,184.4h0.6M231.1,182.5h0.6M258.1,188.3h0.6M257.8,191.8h0.6M211.2,193.2h0.6M238.0,190.4h0.6M236.6,208.0h0.6M221.7,209.3h0.6M211.0,183.8h0.6M252.1,210.1h0.6M238.0,177.6h0.6M235.0,215.6h0.6M250.4,210.5h0.6M249.6,171.9h0.6M228.2,174.0h0.6M230.3,209.8h0.6M224.4,217.2h0.6M250.0,202.3h0.6M262.1,212.5h0.6M228.1,191.9h0.6M247.2,235.6h0.6M242.1,215.9h0.6M244.9,197.7h0.6M249.8,201.7h0.6M225.1,203.6h0.6M251.7,211.5h0.6M243.8,207.3h0.6M225.1,217.5h0.6M265.6,227.2h0.6M207.3,192.4h0.6M250.7,205.0h0.6M221.5,214.0h0.6M232.1,174.9h0.6M231.8,222.2h0.6M215.0,195.5h0.6M213.0,203.2h0.6M224.9,185.2h0.6M238.2,186.9h0.6M230.2,200.3h0.6M210.7,223.3h0.6M217.0,204.7h0.6M234.1,209.2h0.6M236.7,218.6h0.6M254.5,217.4h0.6M238.8,215.9h0.6M225.5,221.1h0.6M229.4,201.9h0.6M242.8,215.3h0.6M250.4,216.2h0.6M232.3,211.1h0.6M240.3,198.6h0.6M222.9,190.2h0.6M261.4,222.8h0.6M246.1,206.7h0.6M228.5,190.5h0.6M206.2,188.4h0.6M208.9,208.3h0.6M243.2,193.5h0.6M208.6,210.3h0.6M226.9,195.0h0.6M246.9,190.4h0.6M223.2,210.7h0.6M219.8,224.4h0.6M237.2,200.5h0.6M223.3,220.7h0.6M221.7,196.1h0.6M228.7,208.4h0.6M229.8,208.9h0.6M207.0,218.1h0.6M222.1,187.6h0.6M241.9,206.8h0.6M215.0,190.0h0.6M227.1,201.8h0.6M229.8,202.3h0.6M216.8,196.3h0.6M219.2,211.1h0.6M231.2,203.5h0.6M227.6,203.3h0.6M222.8,199.6h0.6M228.0,218.0h0.6M204.8,180.1h0.6M234.6,203.1h0.6M216.2,216.5h0.6M242.6,187.3h0.6M199.3,220.6h0.6M231.3,213.2h0.6M210.4,191.1h0.6M247.3,198.2h0.6M248.5,193.0h0.6M236.0,200.2h0.6M246.1,220.7h0.6M221.4,209.0h0.6M217.8,216.1h0.6M256.4,206.5h0.6M223.9,203.9h0.6M235.6,188.2h0.6M239.8,213.4h0.6M201.1,186.2h0.6M218.1,206.8h0.6M214.9,195.4h0.6M231.0,224.0h0.6M235.8,178.2h0.6M233.3,215.8h0.6M239.7,207.0h0.6M203.3,213.9h0.6M222.2,184.1h0.6M233.4,195.6h0.6M229.4,203.8h0.6M226.0,206.8h0.6M237.8,234.1h0.6M230.5,207.1h0.6M213.4,199.4h0.6M224.4,190.8h0.6M249.8,191.5h0.6M251.3,213.4h0.6M242.3,221.1h0.6M232.7,211.9h0.6M236.8,205.3h0.6M211.9,194.3h0.6M220.9,224.5h0.6M212.5,204.8h0.6M223.5,190.6h0.6M239.8,211.6h0.6M224.3,198.2h0.6M215.9,216.8h0.6M244.0,209.2h0.6M212.4,202.9h0.6M218.7,197.5h0.6M237.0,206.9h0.6M256.9,229.4h0.6M203.0,214.3h0.6M223.6,215.6h0.6M211.1,223.9h0.6M248.0,203.0h0.6M236.2,196.5h0.6M241.8,195.3h0.6M224.6,223.3h0.6M225.9,210.6h0.6M229.1,183.1h0.6M226.2,196.2h0.6M220.3,183.6h0.6M223.7,214.0h0.6M234.8,203.7h0.6M219.8,224.7h0.6M247.8,198.9h0.6M212.5,211.5h0.6M215.2,226.0h0.6M225.1,202.9h0.6M211.9,220.6h0.6M237.1,192.9h0.6M249.7,204.0h0.6M214.8,177.2h0.6M215.5,182.9h0.6M227.6,184.0h0.6M211.8,225.0h0.6M248.1,172.1h0.6M222.9,189.4h0.6M213.9,198.4h0.6M215.1,190.1h0.6M247.5,227.5h0.6M242.5,186.6h0.6M218.5,219.2h0.6M235.5,155.2h0.6M236.3,202.3h0.6M246.6,208.4h0.6M225.3,191.4h0.6M217.4,212.1h0.6M233.7,183.7h0.6M234.2,160.1h0.6M219.8,208.0h0.6M239.5,214.4h0.6M211.6,200.1h0.6M250.2,212.4h0.6M238.8,191.6h0.6M221.6,216.6h0.6M232.0,213.2h0.6M249.4,218.1h0.6M233.1,208.6h0.6M231.1,165.4h0.6M229.7,217.5h0.6M234.0,208.8h0.6M248.0,189.3h0.6M238.5,191.5h0.6M237.2,188.1h0.6M213.3,211.1h0.6M205.9,211.2h0.6M241.1,185.1h0.6M204.2,180.8h0.6M249.7,204.8h0.6M210.2,199.4h0.6M234.5,216.8h0.6M224.7,222.4h0.6M263.5,174.0h0.6M192.2,174.8h0.6M231.9,178.0h0.6M223.5,193.7h0.6M237.6,206.4h0.6M232.2,188.0h0.6M226.7,226.4h0.6M243.5,236.0h0.6M225.0,169.5h0.6M213.4,196.4h0.6M240.3,204.2h0.6M236.2,232.1h0.6M220.5,208.6h0.6M208.1,182.9h0.6M243.7,193.1h0.6M248.1,197.1h0.6M249.4,168.4h0.6M243.2,219.9h0.6M234.0,217.2h0.6M251.7,195.2h0.6M223.1,187.2h0.6M214.3,223.6h0.6M231.2,216.1h0.6M228.6,189.0h0.6M254.1,197.5h0.6M240.3,228.5h0.6M219.1,202.9h0.6M235.8,199.3h0.6M208.3,181.5h0.6M242.7,194.1h0.6M257.9,213.6h0.6M234.3,222.8h0.6M252.7,206.2h0.6M237.4,202.6h0.6M231.7,197.4h0.6M232.7,217.0h0.6M216.8,184.3h0.6M217.4,209.2h0.6M244.5,213.3h0.6M222.1,197.6h0.6M206.5,169.3h0.6M237.0,222.6h0.6M193.4,187.1h0.6M213.6,201.5h0.6M228.8,188.4h0.6M220.7,192.9h0.6M226.3,209.2h0.6M235.3,187.1h0.6M223.6,215.7h0.6M249.8,207.2h0.6M236.9,213.0h0.6M242.9,196.2h0.6M253.8,196.2h0.6M251.4,217.9h0.6M230.9,207.0h0.6M218.2,170.5h0.6M244.4,185.2h0.6M216.8,206.7h0.6M221.2,202.7h0.6M217.0,201.4h0.6M220.4,234.2h0.6M241.0,226.4h0.6M223.6,197.0h0.6M222.6,199.8h0.6M236.1,192.5h0.6M218.6,204.1h0.6M238.4,202.6h0.6M199.7,189.5h0.6M237.6,216.2h0.6M231.6,202.9h0.6M208.5,201.3h0.6M233.4,215.0h0.6M227.9,219.7h0.6M211.6,199.3h0.6M260.4,193.5h0.6M239.0,226.9h0.6M247.7,215.1h0.6M232.7,202.6h0.6M214.9,226.9h0.6M223.0,201.5h0.6M205.0,194.4h0.6M215.0,198.0h0.6M241.7,174.6h0.6M242.5,190.0h0.6M232.4,208.8h0.6M249.3,198.8h0.6M245.6,197.2h0.6M207.0,222.5h0.6M244.6,189.1h0.6M214.7,206.8h0.6M240.5,210.3h0.6M224.0,201.8h0.6M236.2,208.4h0.6M221.9,202.1h0.6M245.9,193.1h0.6M211.2,179.6h0.6M247.1,184.7h0.6M235.4,195.4h0.6M194.8,205.9h0.6M244.9,208.2h0.6M243.2,201.7h0.6M208.0,195.2h0.6M242.0,193.8h0.6M204.8,196.7h0.6M242.6,199.1h0.6M234.3,203.2h0.6M230.5,169.5h0.6M213.0,199.9h0.6M213.6,194.5h0.6M263.2,219.8h0.6M255.7,199.7h0.6M237.7,170.6h0.6M231.9,188.5h0.6M226.4,223.8h0.6M231.7,199.7h0.6M229.4,213.9h0.6M235.1,225.9h0.6M234.1,195.5h0.6M224.0,224.4h0.6M210.9,199.1h0.6M236.9,194.2h0.6M219.6,209.9h0.6M237.3,176.1h0.6M253.4,209.7h0.6M236.8,196.3h0.6M221.0,218.7h0.6M223.1,199.4h0.6M203.7,209.9h0.6M248.2,215.9h0.6M224.7,197.1h0.6M223.4,187.7h0.6M226.0,208.7h0.6M215.3,192.4h0.6M226.2,234.1h0.6M219.0,209.4h0.6M244.9,203.9h0.6M227.6,203.9h0.6M236.1,202.8h0.6M214.8,202.2h0.6M232.6,195.1h0.6M242.3,187.8h0.6M252.5,207.0h0.6M221.9,195.1h0.6M232.4,208.6h0.6M245.6,190.3h0.6M223.5,216.0h0.6M239.8,189.3h0.6M247.9,226.8h0.6M236.8,201.0h0.6M217.7,191.2h0.6M233.8,198.3h0.6M218.5,218.7h0.6M180.2,194.5h0.6M231.3,182.4h0.6M237.4,208.8h0.6M221.5,219.2h0.6M236.8,202.8h0.6M231.1,208.1h0.6M231.7,212.2h0.6M236.3,201.9h0.6M225.2,188.7h0.6M225.8,217.3h0.6M248.4,197.7h0.6M228.8,180.9h0.6M233.4,212.7h0.6M206.1,205.0h0.6M240.5,206.2h0.6M228.2,193.0h0.6M225.5,199.7h0.6M236.2,180.3h0.6M229.1,219.9h0.6M226.1,181.7h0.6M222.1,186.3h0.6M209.9,188.1h0.6M249.0,192.4h0.6M212.8,205.3h0.6M254.7,209.7h0.6M228.0,212.1h0.6M243.2,208.3h0.6M220.5,198.2h0.6M218.9,203.2h0.6M234.2,215.4h0.6M236.9,189.1h0.6M248.4,187.0h0.6M235.7,199.4h0.6M227.1,192.2h0.6M223.1,213.0h0.6M224.4,230.9h0.6M221.2,173.1h0.6M217.3,188.2h0.6M199.6,200.0h0.6M221.3,222.2h0.6M229.8,196.0h0.6M207.5,183.8h0.6M224.8,161.9h0.6M216.8,228.7h0.6M232.5,207.4h0.6M218.2,193.0h0.6M222.0,218.8h0.6M230.4,180.2h0.6M222.3,209.1h0.6M202.6,206.1h0.6M266.3,197.8h0.6M229.0,187.5h0.6M235.3,228.1h0.6M228.0,199.6h0.6M234.7,199.4h0.6M218.6,186.6h0.6M244.1,199.2h0.6M229.1,224.8h0.6M249.5,231.4h0.6M178.3,206.0h0.6M221.4,187.3h0.6M233.6,201.1h0.6M235.6,199.1h0.6M236.3,197.7h0.6M241.5,197.0h0.6M218.5,218.9h0.6M232.8,205.6h0.6M245.8,222.8h0.6M247.6,182.9h0.6M234.3,219.5h0.6M202.4,200.5h0.6M207.3,183.5h0.6M228.2,197.8h0.6M229.3,155.8h0.6M243.4,212.1h0.6M226.7,184.8h0.6M235.9,222.9h0.6M251.2,223.6h0.6M218.9,208.9h0.6M243.9,192.4h0.6M225.2,204.5h0.6M224.6,203.6h0.6M215.9,189.8h0.6M229.7,197.0h0.6M235.2,219.1h0.6M253.5,195.6h0.6M214.9,175.3h0.6M215.1,192.9h0.6M236.7,238.9h0.6M236.0,196.1h0.6M214.1,201.1h0.6M234.3,178.9h0.6M215.1,195.7h0.6M252.0,201.0h0.6M249.4,211.1h0.6M206.2,218.1h0.6M219.6,222.0h0.6M238.5,229.0h0.6M235.2,211.8h0.6M226.2,189.2h0.6M211.1,212.6h0.6M216.6,222.1h0.6M245.5,196.5h0.6M240.6,212.1h0.6M236.2,194.4h0.6M225.3,204.7h0.6M236.6,199.9h0.6M237.5,220.4h0.6M240.1,194.5h0.6M220.7,210.8h0.6M220.6,212.7h0.6M244.2,198.5h0.6M228.2,216.5h0.6M236.4,186.3h0.6M250.1,176.4h0.6M215.8,223.0h0.6M199.4,222.3h0.6M225.7,207.4h0.6M230.8,207.3h0.6M218.0,201.9h0.6M248.2,215.6h0.6M210.1,166.7h0.6M237.4,222.0h0.6M227.7,197.1h0.6M228.9,216.8h0.6M206.1,180.3h0.6M234.1,216.2h0.6M244.9,198.2h0.6M250.1,202.9h0.6M238.3,215.7h0.6M261.8,219.9h0.6M225.5,213.1h0.6M243.2,190.1h0.6M236.4,195.6h0.6M237.5,209.1h0.6M239.1,205.5h0.6M226.4,197.3h0.6M230.8,195.3h0.6M217.5,190.0h0.6M255.4,226.1h0.6M250.4,194.5h0.6M235.0,205.4h0.6M224.5,205.0h0.6M233.3,186.8h0.6M234.4,188.0h0.6M256.0,222.9h0.6M214.6,204.6h0.6M228.4,171.2h0.6M230.5,220.4h0.6M232.2,213.3h0.6M221.4,196.4h0.6M250.4,182.1h0.6M214.1,205.5h0.6M230.9,186.6h0.6M233.6,204.5h0.6M248.6,205.8h0.6M235.3,210.7h0.6M234.9,210.6h0.6M237.7,201.0h0.6M214.1,194.6h0.6M246.9,195.0h0.6M235.7,183.1h0.6M229.8,196.2h0.6M238.5,204.5h0.6M233.8,188.4h0.6M264.0,210.5h0.6M231.5,217.3h0.6M216.6,180.1h0.6M225.6,187.0h0.6M252.2,193.5h0.6M255.2,227.1h0.6M236.7,216.3h0.6M237.2,190.6h0.6M219.9,214.0h0.6M235.0,217.7h0.6M235.5,207.3h0.6M245.3,210.0h0.6M230.4,199.1h0.6M249.5,191.3h0.6M247.6,209.4h0.6M238.8,189.4h0.6M222.4,198.5h0.6M240.9,205.4h0.6M233.8,173.3h0.6M208.6,198.2h0.6M249.0,216.9h0.6M234.5,217.5h0.6M245.6,197.2h0.6M205.6,194.6h0.6M240.2,199.3h0.6M232.0,207.1h0.6M240.2,177.1h0.6M234.5,217.1h0.6M233.3,211.4h0.6M220.6,203.0h0.6M233.5,220.8h0.6M224.5,187.0h0.6M220.0,213.7h0.6M222.1,216.6h0.6M224.2,215.7h0.6M239.8,203.3h0.6M214.3,217.3h0.6M237.9,204.7h0.6M244.6,193.5h0.6M237.8,217.6h0.6M215.1,214.4h0.6M233.5,183.4h0.6M218.8,210.6h0.6M232.3,214.2h0.6M223.8,192.3h0.6M239.3,204.5h0.6M240.2,224.5h0.6M244.2,197.5h0.6M223.0,226.9h0.6M244.5,205.0h0.6M226.8,206.8h0.6M228.3,218.6h0.6M247.5,215.4h0.6M240.7,194.4h0.6M202.5,225.7h0.6M212.1,196.9h0.6M234.6,204.8h0.6M239.9,207.4h0.6M232.3,194.4h0.6M230.6,214.8h0.6M212.7,206.1h0.6M250.4,230.1h0.6M239.1,169.3h0.6M233.3,216.0h0.6M239.3,204.0h0.6M218.7,222.0h0.6M235.8,191.3h0.6M226.6,191.8h0.6M227.7,191.2h0.6M231.4,194.8h0.6M238.8,220.1h0.6M229.7,186.8h0.6M215.2,202.4h0.6M242.1,188.4h0.6M252.0,202.3h0.6M248.5,202.3h0.6M235.0,210.0h0.6M223.4,221.3h0.6M211.6,171.3h0.6M232.6,189.3h0.6M226.3,198.0h0.6M225.6,217.4h0.6M204.0,199.1h0.6M219.1,226.7h0.6M221.7,216.1h0.6M256.4,179.9h0.6M245.9,202.0h0.6M223.8,222.5h0.6M233.8,203.4h0.6M218.6,185.4h0.6M217.7,190.6h0.6M242.1,185.3h0.6M219.8,207.5h0.6M240.1,201.6h0.6M235.3,201.2h0.6M225.5,229.4h0.6M229.1,189.9h0.6M226.0,215.3h0.6M243.6,184.1h0.6M230.2,175.9h0.6M233.1,215.9h0.6M248.7,176.3h0.6M208.0,219.8h0.6M222.3,220.0h0.6M240.3,207.9h0.6M234.6,215.1h0.6M249.8,181.5h0.6M207.2,195.3h0.6M231.4,224.2h0.6M241.4,191.8h0.6M257.1,181.9h0.6M219.3,208.1h0.6M230.0,234.9h0.6M249.0,213.9h0.6M228.5,209.2h0.6M247.0,207.6h0.6M228.5,190.0h0.6M203.4,214.0h0.6M245.4,178.9h0.6M247.7,224.8h0.6M207.0,204.3h0.6M224.3,195.1h0.6M224.2,208.1h0.6M230.2,202.1h0.6M263.1,201.6h0.6M240.1,220.3h0.6M214.1,190.6h0.6M244.4,200.3h0.6M231.1,190.5h0.6M220.6,193.9h0.6M233.7,207.9h0.6M210.7,174.5h0.6M246.5,221.8h0.6M196.4,218.4h0.6M232.0,200.6h0.6M220.4,221.2h0.6M229.8,189.9h0.6M224.3,201.1h0.6M234.1,234.5h0.6M218.8,208.2h0.6M217.3,218.8h0.6M249.4,203.4h0.6M244.2,185.0h0.6M235.2,192.4h0.6M225.6,219.3h0.6M231.1,214.7h0.6M225.1,231.9h0.6M243.5,185.8h0.6M237.4,204.3h0.6M234.7,187.4h0.6M233.3,200.1h0.6M243.6,207.3h0.6M222.5,175.6h0.6M237.0,194.8h0.6M241.6,197.8h0.6M264.6,213.3h0.6M210.4,216.6h0.6M220.7,204.2h0.6M243.9,206.2h0.6M241.7,221.6h0.6M200.2,207.0h0.6M201.1,196.1h0.6M227.3,199.9h0.6M230.8,171.6h0.6M253.8,196.3h0.6M224.4,186.9h0.6M231.4,222.4h0.6M218.4,205.4h0.6M206.8,202.3h0.6M218.8,183.6h0.6M218.3,203.1h0.6M228.6,193.9h0.6M217.5,221.5h0.6M214.2,225.0h0.6M210.9,205.7h0.6M212.8,219.4h0.6M257.4,210.7h0.6M241.9,201.3h0.6M227.6,221.1h0.6M206.7,203.0h0.6M238.2,212.5h0.6M234.5,186.1h0.6M214.8,216.6h0.6M245.4,206.1h0.6M217.1,205.9h0.6M223.6,202.3h0.6M232.5,185.0h0.6M224.8,185.3h0.6M236.8,189.5h0.6M221.9,211.8h0.6M223.7,230.9h0.6M224.0,206.0h0.6M227.0,175.8h0.6M217.2,233.5h0.6M236.7,229.7h0.6M229.0,189.8h0.6M235.6,174.6h0.6M229.0,221.4h0.6M223.5,185.8h0.6M243.3,205.9h0.6M241.5,201.3h0.6M231.4,197.4h0.6M238.3,200.0h0.6M233.3,181.9h0.6M243.1,219.9h0.6M246.7,138.5h0.6M261.6,207.9h0.6M220.3,198.4h0.6M235.1,214.8h0.6M223.9,207.1h0.6M233.3,218.0h0.6M226.4,214.3h0.6M221.7,187.8h0.6M232.5,202.8h0.6M228.9,201.3h0.6M217.1,176.4h0.6M217.0,189.1h0.6M238.8,184.1h0.6M235.8,176.4h0.6M245.9,225.2h0.6M229.0,181.1h0.6M247.5,181.3h0.6M226.3,209.2h0.6M240.1,195.0h0.6M212.6,209.3h0.6M256.9,169.5h0.6M225.9,214.6h0.6M231.3,200.3h0.6M238.5,213.0h0.6M217.7,193.9h0.6M244.4,214.5h0.6M217.6,200.2h0.6M229.7,208.6h0.6M233.7,213.1h0.6M211.8,202.3h0.6M234.1,205.8h0.6M222.0,178.3h0.6M243.5,229.9h0.6M215.5,193.6h0.6M243.1,197.3h0.6M209.6,197.8h0.6M232.7,216.0h0.6M199.9,201.5h0.6M235.3,218.2h0.6M232.0,196.1h0.6M217.0,208.7h0.6M236.7,204.2h0.6M247.5,204.5h0.6M239.2,218.6h0.6M221.1,173.6h0.6M248.1,216.8h0.6M201.9,193.2h0.6M222.5,226.2h0.6M223.5,183.4h0.6M207.2,195.2h0.6M238.1,215.7h0.6M237.9,197.7h0.6M236.4,220.4h0.6M205.5,212.6h0.6M239.5,198.5h0.6M244.2,205.2h0.6M242.3,188.0h0.6M240.6,187.6h0.6M212.6,224.6h0.6M236.8,197.1h0.6M228.6,216.1h0.6M252.4,197.7h0.6M218.1,226.2h0.6M218.3,208.9h0.6M217.1,204.4h0.6M205.6,215.0h0.6M220.2,187.4h0.6M260.7,194.1h0.6M224.3,230.8h0.6M262.4,178.1h0.6M227.9,199.7h0.6M208.8,220.6h0.6M217.6,195.1h0.6M223.9,178.9h0.6M229.4,192.5h0.6M235.1,208.0h0.6M213.9,183.6h0.6M231.7,183.3h0.6M213.2,202.3h0.6M237.2,193.2h0.6M216.6,220.7h0.6M239.8,227.7h0.6M220.0,217.7h0.6M223.6,211.8h0.6M215.5,182.5h0.6M234.0,209.1h0.6M206.5,192.6h0.6M231.7,208.6h0.6M231.5,206.3h0.6M240.0,215.4h0.6M237.8,209.9h0.6M251.4,217.6h0.6M235.8,189.6h0.6M222.5,217.5h0.6M234.3,210.9h0.6M235.7,200.8h0.6M230.9,197.0h0.6M230.0,203.8h0.6M243.2,188.4h0.6M241.9,183.8h0.6M250.9,189.2h0.6M222.4,203.6h0.6M221.8,190.9h0.6M243.7,175.1h0.6M227.3,189.4h0.6M241.7,199.4h0.6M267.0,209.4h0.6M241.0,216.7h0.6M191.5,222.2h0.6M250.4,168.3h0.6M212.1,185.3h0.6M242.0,210.8h0.6M241.0,191.2h0.6M214.4,205.4h0.6M238.6,183.0h0.6M244.8,206.2h0.6M243.5,211.9h0.6M238.5,188.9h0.6M249.3,205.1h0.6M227.2,214.4h0.6M231.0,203.8h0.6M222.9,211.6h0.6M250.8,216.0h0.6M255.4,210.7h0.6M241.2,201.6h0.6M215.6,222.9h0.6M237.2,175.0h0.6M202.0,179.5h0.6M222.0,177.2h0.6M242.9,196.4h0.6M248.6,208.5h0.6M211.2,193.7h0.6M242.9,216.9h0.6M233.7,196.6h0.6M239.1,213.6h0.6M242.7,189.9h0.6M228.5,228.9h0.6M251.9,216.3h0.6M226.9,194.7h0.6M243.7,195.0h0.6M247.2,188.2h0.6M251.2,226.1h0.6M239.0,206.0h0.6M209.7,192.6h0.6M213.0,208.5h0.6M223.5,188.0h0.6M246.9,217.5h0.6M230.6,192.3h0.6M220.9,222.5h0.6M232.2,204.2h0.6M225.2,209.7h0.6M219.9,223.8h0.6M223.3,192.2h0.6M229.8,201.1h0.6M217.7,207.1h0.6M246.4,218.6h0.6M232.9,197.1h0.6M231.7,203.0h0.6M223.7,198.5h0.6M220.8,185.0h0.6M251.5,198.9h0.6M253.5,240.1h0.6M250.2,181.5h0.6M237.2,187.4h0.6M231.0,233.9h0.6M227.1,191.4h0.6M232.9,197.3h0.6M223.4,193.2h0.6M250.7,213.8h0.6M233.4,195.7h0.6M233.0,183.8h0.6M242.7,194.4h0.6M275.4,229.3h0.6M239.7,179.8h0.6M225.0,209.9h0.6M238.3,215.6h0.6M219.3,204.9h0.6M243.2,203.3h0.6M223.5,185.1h0.6M242.4,171.8h0.6M236.0,199.4h0.6M246.3,204.6h0.6M207.9,202.9h0.6M224.7,197.1h0.6M225.0,214.8h0.6M230.0,214.1h0.6M265.4,167.5h0.6M228.5,218.2h0.6M240.1,174.4h0.6M220.7,218.0h0.6M225.7,194.6h0.6M228.2,203.8h0.6M225.0,191.5h0.6M229.3,204.6h0.6M231.1,216.2h0.6M238.3,208.0h0.6M244.8,200.4h0.6M217.1,219.4h0.6M218.0,211.6h0.6M242.4,214.5h0.6M241.5,178.3h0.6M227.2,205.2h0.6M226.3,202.7h0.6M239.7,206.7h0.6M232.8,191.3h0.6M227.7,190.1h0.6M235.8,211.0h0.6M225.4,221.1h0.6M235.4,200.6h0.6M218.4,229.1h0.6M223.9,232.5h0.6M248.4,221.9h0.6M244.4,198.5h0.6M239.7,176.1h0.6M242.9,241.0h0.6M220.2,213.3h0.6M208.5,228.2h0.6M221.7,207.1h0.6M219.9,186.2h0.6M238.7,204.0h0.6M263.1,207.6h0.6M235.0,208.8h0.6M221.1,232.3h0.6M250.3,187.2h0.6M248.8,215.8h0.6M211.9,213.0h0.6M240.3,204.7h0.6M216.2,199.6h0.6M219.9,203.2h0.6M220.4,226.1h0.6M217.3,194.0h0.6M241.1,191.7h0.6M201.6,172.1h0.6M250.9,159.6h0.6M244.1,195.1h0.6M243.0,209.6h0.6M202.5,193.1h0.6M250.2,209.9h0.6M222.8,227.6h0.6M216.0,183.8h0.6M231.6,184.4h0.6M240.9,201.9h0.6M235.0,198.2h0.6M260.8,200.8h0.6M235.8,221.8h0.6M208.4,209.6h0.6M260.4,219.4h0.6M243.8,161.5h0.6M207.1,213.6h0.6M221.4,181.5h0.6M235.2,206.8h0.6M216.7,182.4h0.6M239.9,183.4h0.6M243.8,205.5h0.6M234.3,218.0h0.6M237.7,207.0h0.6M239.4,182.7h0.6M231.3,201.4h0.6M250.4,221.7h0.6M197.3,211.3h0.6M238.5,224.2h0.6M219.4,221.1h0.6M241.9,200.9h0.6M221.5,207.2h0.6M238.5,193.3h0.6M228.9,200.9h0.6M239.8,229.5h0.6M251.6,190.9h0.6M229.2,217.6h0.6M254.9,211.9h0.6M224.2,189.2h0.6M254.3,185.2h0.6M233.0,217.9h0.6M239.2,208.2h0.6M214.2,211.4h0.6M223.5,183.0h0.6M232.6,211.1h0.6M230.8,195.9h0.6M236.9,181.7h0.6M239.7,218.3h0.6M239.5,188.0h0.6M249.0,191.3h0.6M233.6,207.2h0.6M225.7,195.1h0.6M207.5,177.2h0.6M223.4,188.6h0.6M236.9,199.6h0.6M223.7,187.5h0.6M222.7,188.7h0.6M260.2,181.2h0.6M229.7,207.9h0.6M245.0,229.7h0.6M240.4,216.2h0.6M253.6,207.4h0.6M237.8,221.8h0.6M242.8,233.9h0.6M229.2,195.3h0.6M222.5,183.2h0.6M217.4,180.8h0.6M232.3,204.6h0.6M252.5,173.0h0.6M226.8,186.6h0.6M224.0,201.4h0.6M218.9,208.6h0.6M235.4,195.8h0.6M248.2,199.5h0.6M192.4,192.4h0.6M236.0,178.2h0.6M216.6,209.9h0.6M240.1,192.5h0.6M224.6,205.6h0.6M218.7,200.3h0.6M236.8,207.8h0.6M223.5,206.8h0.6M218.5,198.6h0.6M234.9,186.9h0.6M243.9,187.9h0.6M214.9,206.2h0.6M252.3,177.9h0.6M216.5,220.9h0.6M223.9,169.5h0.6M245.6,221.0h0.6M249.5,201.1h0.6M217.8,223.1h0.6M242.7,197.6h0.6M220.0,202.9h0.6M211.7,209.0h0.6M229.6,205.2h0.6M235.1,199.8h0.6M243.3,195.7h0.6M232.6,214.6h0.6M253.4,215.2h0.6M255.7,191.7h0.6M208.5,180.0h0.6M270.3,212.4h0.6M262.1,184.2h0.6M235.1,222.2h0.6M237.6,210.7h0.6M228.6,191.8h0.6M220.2,188.2h0.6M212.9,204.3h0.6M230.1,200.5h0.6M202.6,194.6h0.6M218.5,182.9h0.6M214.3,203.6h0.6M217.0,197.6h0.6M258.3,185.9h0.6M248.2,198.7h0.6M219.0,207.8h0.6M222.9,212.9h0.6M231.1,202.8h0.6M231.0,201.5h0.6M223.6,204.1h0.6M240.1,205.3h0.6M206.8,220.1h0.6M222.4,183.0h0.6M212.8,191.0h0.6M212.1,215.9h0.6M242.0,223.7h0.6M208.6,211.7h0.6M232.6,204.3h0.6M240.3,221.0h0.6M213.3,180.8h0.6M246.1,218.8h0.6M240.3,211.7h0.6M231.4,198.2h0.6M235.8,199.9h0.6M233.8,221.7h0.6M245.4,198.5h0.6M251.1,185.1h0.6M234.7,208.8h0.6M205.2,202.5h0.6M213.1,218.6h0.6M228.4,209.3h0.6M238.2,204.0h0.6M221.8,194.1h0.6M235.1,183.7h0.6M232.1,210.0h0.6M235.1,207.5h0.6M228.9,181.1h0.6M243.5,196.6h0.6M211.7,216.1h0.6M226.3,213.2h0.6M248.2,195.5h0.6M251.1,203.7h0.6M239.6,198.0h0.6M217.8,206.1h0.6M231.8,193.6h0.6M227.1,180.8h0.6M218.0,218.0h0.6M234.8,199.1h0.6M225.1,215.2h0.6M212.6,215.9h0.6M228.4,228.3h0.6M226.3,210.9h0.6M260.5,210.2h0.6M227.9,193.1h0.6M200.7,202.3h0.6M218.4,213.0h0.6M215.0,199.2h0.6M232.6,214.7h0.6M214.1,207.1h0.6M196.8,201.4h0.6M222.0,185.4h0.6M228.3,193.6h0.6M223.5,228.0h0.6M197.3,186.5h0.6M258.9,214.0h0.6M222.0,228.2h0.6M230.5,213.2h0.6M232.5,214.4h0.6M232.5,171.5h0.6M254.7,212.9h0.6M224.1,217.6h0.6M236.5,207.6h0.6M226.6,219.2h0.6M201.3,195.3h0.6M224.3,220.2h0.6M239.1,216.0h0.6M229.4,207.2h0.6M208.2,197.5h0.6M213.1,210.7h0.6M229.0,218.1h0.6M261.9,190.9h0.6M231.2,207.1h0.6M232.1,216.4h0.6M217.2,206.2h0.6M238.2,201.5h0.6M246.8,222.1h0.6M231.6,217.3h0.6M228.3,219.5h0.6M262.5,218.3h0.6M225.2,232.5h0.6M254.1,201.8h0.6M230.6,223.5h0.6M234.9,185.9h0.6M208.9,198.9h0.6M236.8,241.6h0.6M256.8,216.3h0.6M226.8,192.4h0.6M209.3,176.3h0.6M244.1,192.4h0.6M245.0,194.7h0.6M217.0,216.0h0.6M233.7,211.7h0.6M227.6,180.7h0.6M210.7,225.0h0.6M204.0,176.9h0.6M236.6,215.6h0.6M226.1,166.1h0.6M244.6,239.0h0.6M228.9,214.5h0.6M234.8,214.1h0.6M256.1,195.4h0.6M218.5,209.7h0.6M238.7,170.5h0.6M195.5,223.1h0.6M224.7,170.1h0.6M245.6,193.4h0.6M258.8,198.8h0.6M243.2,204.1h0.6M250.1,207.2h0.6M226.7,170.7h0.6M229.2,199.7h0.6M230.2,233.4h0.6M222.9,220.8h0.6M228.8,208.4h0.6M242.6,197.8h0.6M212.5,178.3h0.6M230.3,217.0h0.6M211.8,212.1h0.6M237.7,176.9h0.6M244.1,218.8h0.6M224.7,185.8h0.6M219.3,216.3h0.6M251.1,202.5h0.6M219.0,210.2h0.6M268.7,181.0h0.6M233.3,211.1h0.6M221.3,190.9h0.6M234.5,212.8h0.6M254.0,199.2h0.6M224.5,183.8h0.6M225.4,194.2h0.6M252.9,176.6h0.6M208.8,202.3h0.6M210.3,205.5h0.6M232.5,197.1h0.6M217.5,197.7h0.6M240.2,202.3h0.6M243.1,200.6h0.6M236.2,223.0h0.6M227.9,192.6h0.6M235.7,214.0h0.6M248.6,198.8h0.6M244.4,245.5h0.6M227.3,195.2h0.6M245.3,220.9h0.6M246.3,215.4h0.6M255.8,201.4h0.6M237.6,213.7h0.6M233.8,204.6h0.6M244.0,208.4h0.6M245.7,210.2h0.6M220.7,187.1h0.6M239.6,212.9h0.6M226.3,218.7h0.6M226.6,206.4h0.6M259.5,226.9h0.6M246.7,188.6h0.6M233.9,194.5h0.6M228.7,206.1h0.6M250.2,176.8h0.6M238.8,196.9h0.6M231.2,215.8h0.6M238.6,188.3h0.6M231.0,209.9h0.6M199.8,190.5h0.6M262.6,200.7h0.6M223.3,229.6h0.6M220.1,191.0h0.6M239.8,171.8h0.6M209.7,185.5h0.6M218.5,184.9h0.6M244.2,199.4h0.6M221.8,235.6h0.6M227.1,217.9h0.6M237.2,216.9h0.6M249.5,210.0h0.6M244.0,196.3h0.6M242.3,198.5h0.6M239.0,234.0h0.6M230.5,198.9h0.6M251.3,210.0h0.6M247.8,215.7h0.6M254.4,222.2h0.6M262.6,185.8h0.6M218.4,192.7h0.6M221.7,195.2h0.6M211.5,205.4h0.6M216.0,207.1h0.6M224.7,205.5h0.6M202.1,171.0h0.6M213.9,204.5h0.6M244.4,224.6h0.6M219.7,179.1h0.6M227.3,181.4h0.6M247.0,214.1h0.6M251.4,197.5h0.6M229.3,192.3h0.6M208.3,235.7h0.6M220.8,211.5h0.6M238.9,206.4h0.6M229.8,197.8h0.6M225.0,218.9h0.6M231.2,181.7h0.6M221.9,199.3h0.6M201.9,212.9h0.6M238.1,187.4h0.6M217.1,174.5h0.6M251.3,225.8h0.6M218.8,214.6h0.6M239.3,216.6h0.6M239.2,200.3h0.6M217.0,213.2h0.6M216.5,189.6h0.6M250.7,182.6h0.6M218.2,202.1h0.6M238.8,219.0h0.6M241.3,219.4h0.6M227.6,211.9h0.6M216.0,213.0h0.6M244.0,216.2h0.6M235.8,233.3h0.6M248.8,192.3h0.6M262.3,211.2h0.6M265.6,206.5h0.6M217.3,173.3h0.6M230.1,194.2h0.6M232.9,181.1h0.6M225.7,208.8h0.6M211.5,216.6h0.6M243.5,205.4h0.6M249.6,194.4h0.6M216.2,234.7h0.6M234.0,200.5h0.6M235.3,220.9h0.6M226.7,202.0h0.6M216.3,186.4h0.6M217.7,225.2h0.6M229.3,212.7h0.6M226.6,214.6h0.6M200.2,216.0h0.6M231.9,213.8h0.6M230.1,201.4h0.6M232.2,201.0h0.6M212.2,201.6h0.6M251.9,222.7h0.6M232.4,197.0h0.6M228.0,237.3h0.6M227.8,205.3h0.6M230.8,210.2h0.6M221.6,222.4h0.6M228.1,198.7h0.6M219.0,220.2h0.6M221.1,188.6h0.6M220.1,219.5h0.6M256.5,220.5h0.6M264.7,195.4h0.6M228.0,186.6h0.6M222.2,202.6h0.6M214.5,217.0h0.6M257.5,167.8h0.6M226.7,223.1h0.6M212.2,184.4h0.6M227.6,210.3h0.6M227.3,218.7h0.6M240.9,195.3h0.6M254.5,228.8h0.6M244.0,212.1h0.6M242.4,187.2h0.6M228.9,196.4h0.6M228.2,195.7h0.6M226.1,210.4h0.6M223.6,209.9h0.6M240.1,182.4h0.6M228.9,213.8h0.6M226.8,217.8h0.6M237.1,194.9h0.6M219.0,194.9h0.6M240.9,188.0h0.6M239.3,191.4h0.6M203.5,194.5h0.6M241.9,198.1h0.6M240.0,202.5h0.6M205.7,203.0h0.6M248.6,193.9h0.6M213.1,220.6h0.6M249.3,191.1h0.6M231.3,212.2h0.6M238.8,181.6h0.6M244.8,192.1h0.6M244.9,206.8h0.6M212.6,183.5h0.6M249.6,197.9h0.6M244.6,187.9h0.6M237.0,217.6h0.6M227.1,211.6h0.6M228.0,209.6h0.6M239.1,205.9h0.6M238.7,201.1h0.6M224.6,182.4h0.6M230.8,218.7h0.6M239.8,216.1h0.6M235.9,200.9h0.6M251.6,206.9h0.6M192.6,214.9h0.6M209.1,189.4h0.6M222.2,205.4h0.6M230.9,220.8h0.6M226.1,209.5h0.6M199.6,191.1h0.6M222.3,182.5h0.6M242.1,202.1h0.6M217.3,168.4h0.6M224.3,197.3h0.6M225.9,186.8h0.6M219.8,209.1h0.6M234.7,203.8h0.6M231.0,193.2h0.6M226.5,202.8h0.6M224.1,201.9h0.6M228.1,210.7h0.6M225.3,208.6h0.6M225.9,192.9h0.6M226.8,193.3h0.6M240.1,205.8h0.6M219.9,180.6h0.6M225.4,228.0h0.6M230.5,189.2h0.6M236.0,209.4h0.6M249.4,219.7h0.6M235.3,190.0h0.6M235.5,231.8h0.6M228.7,207.6h0.6M216.7,175.4h0.6M226.1,205.2h0.6M230.5,203.4h0.6M241.4,185.9h0.6M246.6,244.0h0.6M250.4,194.5h0.6M247.3,188.8h0.6M227.2,212.7h0.6M229.5,214.3h0.6M233.2,195.7h0.6M228.7,198.6h0.6M227.5,201.7h0.6M199.3,207.4h0.6M244.9,210.2h0.6M239.5,214.2h0.6M199.6,205.9h0.6M265.9,171.6h0.6M232.0,198.7h0.6M205.3,210.9h0.6M210.0,206.7h0.6M242.9,218.0h0.6M248.6,207.0h0.6M223.6,216.1h0.6M211.5,185.2h0.6M235.9,200.8h0.6M233.1,216.7h0.6M216.4,202.7h0.6M219.7,207.1h0.6M235.4,215.3h0.6M235.5,212.3h0.6M228.6,196.7h0.6M233.4,184.1h0.6M231.5,236.7h0.6M260.8,196.5h0.6M258.9,227.7h0.6M234.0,172.7h0.6M241.7,184.9h0.6M215.4,212.7h0.6M219.8,214.5h0.6M225.8,189.5h0.6M230.2,194.0h0.6M217.6,201.4h0.6M248.4,195.8h0.6M246.8,198.0h0.6M235.9,185.3h0.6M235.6,180.9h0.6M213.9,173.9h0.6M243.9,230.4h0.6M213.0,207.3h0.6M203.7,220.6h0.6M238.8,191.2h0.6M214.9,218.0h0.6M249.8,199.9h0.6M248.4,209.5h0.6M206.5,201.7h0.6M233.0,194.0h0.6M209.9,208.9h0.6M222.4,206.9h0.6M221.2,195.0h0.6M237.0,209.4h0.6M245.5,175.2h0.6M220.2,190.1h0.6M198.3,187.8h0.6M200.6,204.4h0.6M254.1,205.5h0.6M223.6,210.1h0.6M219.8,209.3h0.6M215.1,191.7h0.6M239.0,192.3h0.6M227.7,202.6h0.6M222.9,205.3h0.6M232.1,199.2h0.6M246.5,210.6h0.6M243.2,208.6h0.6M241.2,227.4h0.6M254.6,220.6h0.6M216.5,179.5h0.6M238.2,213.2h0.6M224.4,194.4h0.6M222.1,176.5h0.6M197.9,203.7h0.6M236.3,210.9h0.6M221.8,185.0h0.6M216.2,218.3h0.6M250.5,231.9h0.6M217.6,224.3h0.6M219.7,226.5h0.6M215.8,218.4h0.6M250.9,188.5h0.6M197.2,199.3h0.6M243.0,214.1h0.6M236.6,218.0h0.6M214.0,208.7h0.6M240.3,181.4h0.6M241.7,226.6h0.6M210.0,213.1h0.6M230.3,187.5h0.6M253.7,201.9h0.6M242.7,186.0h0.6M234.5,217.4h0.6M235.7,201.1h0.6M245.6,206.1h0.6M213.8,228.8h0.6M236.1,218.0h0.6M255.6,195.9h0.6M245.0,233.4h0.6M229.0,218.8h0.6M239.1,205.3h0.6M226.3,203.5h0.6M244.6,185.2h0.6M250.6,186.5h0.6M232.1,181.4h0.6M238.5,197.6h0.6M212.0,190.3h0.6M236.9,182.5h0.6M260.1,184.9h0.6M239.4,192.4h0.6M232.3,202.6h0.6M230.5,223.4h0.6M237.7,194.0h0.6M253.9,201.1h0.6M216.2,221.4h0.6M209.3,212.1h0.6M261.4,193.8h0.6M253.7,195.0h0.6M209.9,216.9h0.6M224.5,190.7h0.6M235.0,191.1h0.6M242.4,213.1h0.6M227.5,200.0h0.6M237.4,182.3h0.6M225.6,219.9h0.6M210.7,211.1h0.6M211.9,197.8h0.6M234.6,185.3h0.6M230.0,186.7h0.6M238.0,199.6h0.6M217.8,189.4h0.6M225.7,223.9h0.6M246.3,220.0h0.6M224.1,212.0h0.6M228.5,209.4h0.6M236.8,195.3h0.6M219.7,201.2h0.6M230.3,225.2h0.6M215.3,203.0h0.6M177.2,214.5h0.6M247.3,200.2h0.6M191.5,188.9h0.6M240.1,193.6h0.6M228.9,208.0h0.6M245.0,198.5h0.6M226.9,225.4h0.6M231.9,209.3h0.6M248.6,218.2h0.6M223.0,197.0h0.6M242.2,215.6h0.6M233.3,191.9h0.6M204.9,203.2h0.6M221.1,176.0h0.6M224.6,181.3h0.6M243.7,184.5h0.6M250.4,198.1h0.6M224.0,182.6h0.6M252.5,206.8h0.6M250.0,217.0h0.6M234.7,205.3h0.6M226.2,212.2h0.6M233.1,192.8h0.6M219.9,224.0h0.6M244.5,192.0h0.6M235.6,224.2h0.6M229.8,214.9h0.6M235.7,216.2h0.6M216.2,222.7h0.6M252.6,238.7h0.6M201.6,192.8h0.6M213.8,208.7h0.6M222.5,202.1h0.6M227.6,223.3h0.6M230.8,190.9h0.6M242.2,224.7h0.6M235.5,193.1h0.6M268.8,189.3h0.6M231.6,196.2h0.6M224.7,222.8h0.6M250.2,207.6h0.6M232.1,195.0h0.6M207.6,224.0h0.6M254.3,222.5h0.6M245.9,213.2h0.6M262.7,201.2h0.6M231.7,229.4h0.6M247.4,196.9h0.6M244.1,202.3h0.6M231.1,196.5h0.6M242.1,196.6h0.6M208.5,225.6h0.6M244.0,199.3h0.6M202.4,212.6h0.6M224.2,202.9h0.6M240.7,214.9h0.6M234.1,193.7h0.6M242.8,233.5h0.6M214.3,216.0h0.6M218.0,197.7h0.6M271.6,221.0h0.6M235.7,223.4h0.6M239.9,221.7h0.6M207.6,202.3h0.6M243.9,218.6h0.6M226.9,198.4h0.6M227.3,190.3h0.6M224.7,201.5h0.6M209.0,213.6h0.6M254.6,211.4h0.6M235.3,200.2h0.6M222.2,192.4h0.6M226.0,196.3h0.6M238.4,222.7h0.6M227.9,200.9h0.6M197.7,162.8h0.6M208.9,208.5h0.6M241.5,172.6h0.6M246.3,187.4h0.6M241.8,195.9h0.6M225.8,178.1h0.6M230.6,186.7h0.6M253.1,181.2h0.6M216.7,225.1h0.6M237.8,237.4h0.6M205.2,200.5h0.6M199.0,200.6h0.6M222.9,192.9h0.6M287.4,219.4h0.6M241.0,209.6h0.6M220.9,250.6h0.6M231.0,192.5h0.6M208.6,234.7h0.6M248.7,196.4h0.6M217.6,211.5h0.6M232.2,214.2h0.6M206.6,216.9h0.6M251.8,185.4h0.6M211.0,192.8h0.6M230.5,192.9h0.6M228.6,212.4h0.6M246.7,209.5h0.6M209.6,184.0h0.6M260.0,203.3h0.6M228.1,199.4h0.6M228.4,211.9h0.6M252.0,215.5h0.6M224.4,199.5h0.6M240.4,200.5h0.6M240.6,210.1h0.6M244.1,202.7h0.6M231.2,192.7h0.6M245.2,184.4h0.6M250.6,206.8h0.6M245.0,210.5h0.6M260.3,216.7h0.6M227.8,186.1h0.6M208.7,243.1h0.6M250.6,214.8h0.6M252.2,234.6h0.6M231.7,200.3h0.6M220.9,226.5h0.6M250.3,197.4h0.6M238.4,198.2h0.6M254.0,213.7h0.6M230.0,206.2h0.6M238.1,186.8h0.6M232.5,201.2h0.6M236.5,207.3h0.6M232.2,203.2h0.6M236.2,207.7h0.6M221.3,174.2h0.6M244.7,209.6h0.6M225.6,215.0h0.6M251.1,233.0h0.6M225.8,171.5h0.6M257.8,206.0h0.6M222.5,205.1h0.6M243.4,193.7h0.6M222.2,199.9h0.6M229.4,200.9h0.6M233.9,197.4h0.6M239.6,211.7h0.6M216.9,200.0h0.6M220.3,186.8h0.6M224.2,214.2h0.6M229.9,230.0h0.6M224.0,189.9h0.6M221.9,171.7h0.6M198.2,192.2h0.6M212.5,205.8h0.6M200.6,212.7h0.6M213.9,201.6h0.6M245.1,199.4h0.6M243.7,183.4h0.6M236.6,199.2h0.6M229.7,192.9h0.6M245.3,215.7h0.6M226.6,202.5h0.6M232.5,206.0h0.6M238.2,194.1h0.6M205.1,174.3h0.6M235.7,195.1h0.6M228.5,165.2h0.6M236.1,205.1h0.6M215.1,225.5h0.6M239.8,195.0h0.6M203.7,193.3h0.6M227.0,186.8h0.6M224.6,192.4h0.6M220.5,208.7h0.6M249.6,207.7h0.6M229.4,232.3h0.6M253.8,196.5h0.6M235.9,196.5h0.6M231.7,197.8h0.6M262.9,200.2h0.6M216.8,192.9h0.6M223.2,194.0h0.6M231.7,188.5h0.6M243.9,209.5h0.6M235.4,196.4h0.6M215.8,187.7h0.6M231.3,212.4h0.6M231.5,221.1h0.6M238.9,202.8h0.6M243.0,188.2h0.6M256.9,201.5h0.6M255.7,224.9h0.6M218.1,187.1h0.6M218.5,175.2h0.6M232.0,204.2h0.6M253.1,207.7h0.6M228.0,209.4h0.6M236.9,176.9h0.6M225.6,186.5h0.6M240.3,205.5h0.6M239.4,211.0h0.6M227.5,228.2h0.6M224.1,177.7h0.6M239.9,177.0h0.6M199.6,236.8h0.6M242.9,195.6h0.6M228.0,224.8h0.6M225.2,186.3h0.6M239.8,233.9h0.6M209.6,206.8h0.6M227.7,225.2h0.6M245.7,194.7h0.6M217.1,200.6h0.6M229.6,194.2h0.6M223.7,177.4h0.6M267.8,217.6h0.6M239.6,209.7h0.6M197.8,192.2h0.6M228.2,209.0h0.6M233.1,214.4h0.6M241.1,167.2h0.6M222.9,189.8h0.6M224.4,212.6h0.6M238.1,206.3h0.6M249.2,210.3h0.6M220.9,228.1h0.6M250.9,203.4h0.6M241.1,206.5h0.6M235.5,203.8h0.6M230.0,228.2h0.6M239.5,194.4h0.6M223.0,209.6h0.6M239.7,183.4h0.6M227.8,182.1h0.6M239.4,232.8h0.6M257.4,211.7h0.6M235.8,154.9h0.6M214.1,160.7h0.6M210.0,200.6h0.6M223.0,193.3h0.6M254.7,204.3h0.6M226.7,201.4h0.6M247.0,177.6h0.6M242.5,204.9h0.6M236.0,206.3h0.6M224.1,210.3h0.6M244.4,197.2h0.6M249.6,215.8h0.6M248.8,217.3h0.6M242.9,218.9h0.6M243.4,204.7h0.6M238.7,183.3h0.6M204.6,204.2h0.6M237.3,213.6h0.6M229.3,204.6h0.6M190.7,225.5h0.6M262.5,191.5h0.6M229.2,183.6h0.6M226.9,207.7h0.6M230.3,205.5h0.6M226.2,235.3h0.6M244.2,212.5h0.6M219.1,209.4h0.6M238.1,188.0h0.6M220.6,220.6h0.6M237.2,201.2h0.6M220.1,185.5h0.6M206.6,200.8h0.6M263.0,193.4h0.6M224.1,227.9h0.6M233.8,190.0h0.6M233.6,208.2h0.6M225.0,227.5h0.6M218.3,198.6h0.6M213.7,217.6h0.6M221.8,210.4h0.6M220.9,246.0h0.6M221.1,184.0h0.6M216.8,213.9h0.6M235.9,218.5h0.6M219.0,193.4h0.6M243.3,217.6h0.6M242.0,219.4h0.6M239.9,178.7h0.6M268.1,238.4h0.6M222.4,182.1h0.6M239.4,213.7h0.6M223.5,186.9h0.6M251.5,188.6h0.6M237.8,205.8h0.6M238.9,209.9h0.6M239.0,188.9h0.6M241.1,207.9h0.6M228.4,196.2h0.6M224.8,194.9h0.6M238.0,220.7h0.6M214.5,213.1h0.6M248.2,183.3h0.6M249.8,214.0h0.6M258.1,201.7h0.6M218.1,190.6h0.6M229.0,208.1h0.6M243.3,169.5h0.6M223.8,225.0h0.6M248.6,198.5h0.6M233.2,209.6h0.6M224.6,203.4h0.6M247.0,196.1h0.6M223.6,200.1h0.6M250.6,217.7h0.6M231.6,191.0h0.6M212.8,207.4h0.6M227.7,195.0h0.6M235.9,188.5h0.6M218.6,179.1h0.6M229.9,221.5h0.6M200.1,191.7h0.6M240.1,181.6h0.6M219.3,175.2h0.6M222.3,206.4h0.6M233.6,166.6h0.6M230.2,197.6h0.6M244.1,224.2h0.6M250.8,193.9h0.6M262.0,216.4h0.6M245.5,196.4h0.6M234.7,168.6h0.6M229.6,204.0h0.6M241.3,206.1h0.6M244.2,183.7h0.6M239.7,185.8h0.6M229.8,181.5h0.6M233.0,205.0h0.6M241.2,188.2h0.6M240.4,201.7h0.6M261.2,207.1h0.6M229.2,170.9h0.6M252.1,200.5h0.6M241.5,214.4h0.6M237.9,195.5h0.6M227.7,226.4h0.6M232.0,198.7h0.6M197.5,187.8h0.6M233.4,220.4h0.6M232.7,202.3h0.6M233.7,185.2h0.6M231.8,196.8h0.6M244.0,194.4h0.6M219.4,203.5h0.6M256.8,198.1h0.6M224.0,206.8h0.6M241.7,176.5h0.6M266.9,197.4h0.6M225.9,198.1h0.6M238.9,201.1h0.6M224.6,213.9h0.6M203.2,192.1h0.6M219.5,197.4h0.6M225.4,199.5h0.6M250.9,205.4h0.6M227.0,202.4h0.6M241.3,200.9h0.6M224.7,205.2h0.6M218.9,212.0h0.6M222.2,226.1h0.6M215.4,203.2h0.6M245.6,197.0h0.6M241.6,188.6h0.6M240.6,174.0h0.6M234.0,205.4h0.6M233.2,179.2h0.6M250.6,203.7h0.6M224.8,216.5h0.6M257.6,190.1h0.6M203.4,241.7h0.6M209.2,201.0h0.6M243.5,194.4h0.6M250.6,187.1h0.6M220.3,214.8h0.6M235.2,200.9h0.6M253.1,190.2h0.6M239.4,175.9h0.6M220.8,190.0h0.6M217.6,214.7h0.6M221.5,184.2h0.6M244.3,195.0h0.6M240.3,220.8h0.6M244.6,213.8h0.6M239.0,207.1h0.6M243.0,195.7h0.6M218.1,188.4h0.6M239.3,205.9h0.6M220.5,210.7h0.6M228.6,225.6h0.6M232.9,209.1h0.6M246.3,190.2h0.6M229.0,213.5h0.6M234.9,190.3h0.6M213.1,183.7h0.6M242.5,188.7h0.6M237.5,211.3h0.6M229.3,193.5h0.6M240.3,187.2h0.6M232.2,176.1h0.6M245.2,222.3h0.6M217.2,217.1h0.6M224.1,206.4h0.6M231.5,225.7h0.6M220.8,202.8h0.6M211.2,194.4h0.6M234.1,194.2h0.6M262.9,197.7h0.6M228.5,200.8h0.6M209.8,208.5h0.6M234.0,211.3h0.6M216.8,227.5h0.6M230.1,193.1h0.6M241.2,228.1h0.6M237.8,204.0h0.6M213.0,179.8h0.6M235.0,224.0h0.6M235.0,204.1h0.6M238.7,182.7h0.6M207.4,203.2h0.6M236.1,194.1h0.6M232.1,206.6h0.6M217.7,187.9h0.6M237.2,198.3h0.6M219.5,208.0h0.6M216.4,195.6h0.6M250.8,202.9h0.6M247.1,215.8h0.6M220.8,186.2h0.6M230.5,200.4h0.6M225.5,232.1h0.6M239.5,223.9h0.6M229.7,209.6h0.6M233.5,213.4h0.6M215.8,176.8h0.6M235.8,194.7h0.6M237.6,200.1h0.6M227.4,219.4h0.6M202.4,209.2h0.6M231.6,183.8h0.6M245.5,214.4h0.6M222.5,219.1h0.6M226.8,190.5h0.6M207.1,176.7h0.6M253.8,202.2h0.6M219.7,219.3h0.6M242.7,204.1h0.6M227.3,192.8h0.6M241.2,211.3h0.6M244.3,194.2h0.6M209.2,205.7h0.6M225.3,204.3h0.6M214.2,195.9h0.6M245.3,196.9h0.6M222.5,213.5h0.6M236.0,179.1h0.6M238.4,201.1h0.6M249.8,206.5h0.6M215.3,194.1h0.6M227.9,193.6h0.6M230.9,221.6h0.6M229.4,223.0h0.6M216.5,214.2h0.6M222.1,201.6h0.6M245.2,211.7h0.6M222.5,191.7h0.6M236.9,205.2h0.6M236.4,191.1h0.6M207.6,215.8h0.6M228.6,208.5h0.6M262.6,192.5h0.6M234.5,214.3h0.6M259.3,223.3h0.6M224.7,213.3h0.6M218.7,203.5h0.6M205.6,184.2h0.6M216.2,204.8h0.6M255.3,199.5h0.6M200.5,205.4h0.6M221.6,192.1h0.6M220.5,192.1h0.6M214.2,188.7h0.6M217.1,189.9h0.6M263.6,200.9h0.6M219.6,195.9h0.6M258.2,178.7h0.6M234.0,213.6h0.6M233.3,205.0h0.6M255.4,208.9h0.6M210.5,183.8h0.6M222.2,185.2h0.6M235.3,185.0h0.6M236.7,214.3h0.6M227.6,190.1h0.6M250.1,191.0h0.6M227.6,175.3h0.6M237.7,192.9h0.6M238.8,197.8h0.6M257.2,195.7h0.6M232.2,186.7h0.6M253.7,182.5h0.6M254.7,196.8h0.6M240.7,209.2h0.6M245.9,205.4h0.6M216.0,224.0h0.6M243.6,188.9h0.6M225.8,207.0h0.6M202.8,208.9h0.6M231.8,192.4h0.6M230.6,213.0h0.6M228.7,233.5h0.6M243.1,202.2h0.6M246.1,195.9h0.6M230.9,186.7h0.6M233.6,197.0h0.6M257.8,187.5h0.6M217.7,213.1h0.6M217.6,223.7h0.6M247.3,199.1h0.6M240.1,176.6h0.6M241.2,223.0h0.6M242.1,199.0h0.6M218.5,195.4h0.6M224.1,226.5h0.6M222.1,193.0h0.6M240.6,205.4h0.6M234.9,199.3h0.6M229.3,199.0h0.6M223.8,201.9h0.6M230.8,209.2h0.6M233.7,194.3h0.6M272.0,207.0h0.6M220.3,181.6h0.6M225.4,213.1h0.6M227.3,143.8h0.6M228.5,195.7h0.6M218.9,203.6h0.6M232.6,220.1h0.6M253.5,206.9h0.6M252.7,191.7h0.6M228.6,194.8h0.6M221.3,191.3h0.6M210.4,205.3h0.6M228.0,185.8h0.6M212.0,209.1h0.6M226.0,213.4h0.6M223.5,181.5h0.6M219.5,198.7h0.6M240.9,178.8h0.6M233.9,223.0h0.6M233.9,204.4h0.6M240.6,183.4h0.6M258.4,202.1h0.6M229.0,189.9h0.6M259.3,195.7h0.6M257.0,184.5h0.6M252.2,187.7h0.6M241.3,185.2h0.6M249.7,201.6h0.6M263.9,208.2h0.6M198.8,197.1h0.6M234.8,176.1h0.6M241.5,192.3h0.6M239.1,179.1h0.6M254.0,219.8h0.6M229.3,205.7h0.6M226.8,176.0h0.6M225.3,183.6h0.6M219.7,198.0h0.6M249.8,210.4h0.6M239.9,225.8h0.6M218.9,195.7h0.6M232.6,200.0h0.6M246.9,192.1h0.6M235.1,157.4h0.6M222.5,197.5h0.6M235.7,218.4h0.6M225.7,234.3h0.6M230.5,192.7h0.6M209.4,175.9h0.6M241.9,191.0h0.6M250.6,205.0h0.6M241.8,201.2h0.6M210.3,190.3h0.6M208.3,186.8h0.6M216.4,220.1h0.6M221.2,212.3h0.6M239.1,201.0h0.6M217.2,208.3h0.6M240.0,204.3h0.6M206.2,199.9h0.6M239.8,186.3h0.6M237.7,200.7h0.6M221.9,210.5h0.6M221.8,216.7h0.6M245.0,182.2h0.6M244.2,203.5h0.6M227.3,198.7h0.6M234.5,210.1h0.6M219.3,193.3h0.6M260.3,188.6h0.6M242.4,190.1h0.6M225.7,206.7h0.6M236.9,172.2h0.6M215.8,198.6h0.6M233.6,221.1h0.6M232.2,213.5h0.6M219.7,187.3h0.6M240.8,230.5h0.6M223.4,210.9h0.6M225.8,215.4h0.6M230.6,197.3h0.6M222.0,190.4h0.6M241.0,180.0h0.6M221.2,206.9h0.6M209.0,222.3h0.6M235.7,192.5h0.6M225.2,194.5h0.6M230.0,211.7h0.6M255.0,188.3h0.6M232.0,202.9h0.6M269.2,226.2h0.6M230.7,247.8h0.6M247.9,197.5h0.6M236.7,223.5h0.6M209.6,187.0h0.6M219.0,184.8h0.6M226.6,214.2h0.6M195.0,223.1h0.6M222.1,217.7h0.6M233.2,222.6h0.6M209.0,207.0h0.6M215.4,189.4h0.6M233.0,167.3h0.6M214.1,216.9h0.6M229.0,164.4h0.6M223.4,186.9h0.6M221.3,196.9h0.6M243.9,184.2h0.6M223.8,231.7h0.6M238.7,214.6h0.6M234.1,209.6h0.6M245.9,197.2h0.6M212.6,165.9h0.6M217.3,201.8h0.6M207.3,213.4h0.6M229.4,215.0h0.6M233.5,199.1h0.6M221.2,223.6h0.6M221.2,234.0h0.6M242.5,212.8h0.6M236.3,206.3h0.6M216.4,218.6h0.6M243.9,193.3h0.6M230.6,221.0h0.6M221.1,205.4h0.6M190.9,216.6h0.6M244.2,225.1h0.6" stroke="#4050b8" stroke-width="0.6" opacity="0.5"/>
<path d="M232.5,170.2h0.6M202.1,175.5h0.6M269.6,164.2h0.6M227.8,166.3h0.6M255.0,177.4h0.6M241.9,166.7h0.6M262.5,161.4h0.6M233.0,164.1h0.6M259.6,159.1h0.6M239.0,168.4h0.6M268.7,163.3h0.6M237.4,171.3h0.6M226.0,174.3h0.6M247.9,174.2h0.6M229.3,169.5h0.6M208.2,176.7h0.6M222.9,175.9h0.6M214.0,167.0h0.6M250.4,171.2h0.6M217.4,171.6h0.6M224.0,175.8h0.6M227.1,162.7h0.6M243.3,166.0h0.6M250.2,169.3h0.6M244.7,170.2h0.6M259.1,164.9h0.6M221.2,171.6h0.6M227.7,169.6h0.6M250.9,164.4h0.6M264.8,171.6h0.6M262.8,184.8h0.6M227.4,176.1h0.6M252.2,168.8h0.6M241.2,167.0h0.6M247.0,169.0h0.6M242.4,178.5h0.6M245.0,170.1h0.6M247.3,172.8h0.6M250.6,173.4h0.6M229.5,181.6h0.6M231.6,160.2h0.6M250.9,168.2h0.6M232.5,175.0h0.6M239.3,170.1h0.6M268.0,169.9h0.6M253.4,176.1h0.6M239.5,174.7h0.6M252.3,171.0h0.6M223.9,165.0h0.6M230.5,169.2h0.6M244.8,174.8h0.6M236.2,168.1h0.6M269.9,171.8h0.6M226.6,173.3h0.6M235.7,172.1h0.6M222.2,175.5h0.6M262.4,174.7h0.6M238.6,172.6h0.6M257.1,176.5h0.6M225.1,176.9h0.6M252.2,169.5h0.6M211.4,171.2h0.6M222.6,166.1h0.6M244.0,178.6h0.6M247.3,172.4h0.6M215.0,173.0h0.6M245.3,169.1h0.6M237.0,165.6h0.6M248.9,170.1h0.6M233.3,179.0h0.6M249.2,173.6h0.6M222.6,174.8h0.6M232.0,171.7h0.6M251.6,172.7h0.6M241.9,166.1h0.6M225.6,162.3h0.6M257.0,170.7h0.6M249.8,176.7h0.6M258.2,174.6h0.6M243.2,172.4h0.6M238.3,179.0h0.6M238.7,169.2h0.6M238.6,164.7h0.6M242.4,177.9h0.6M247.9,174.7h0.6M262.1,168.9h0.6M259.0,171.1h0.6M230.9,167.8h0.6M253.6,174.8h0.6M236.0,172.4h0.6M255.0,184.5h0.6M237.0,173.9h0.6M245.5,171.8h0.6M216.6,170.0h0.6M235.7,165.5h0.6M235.0,171.3h0.6M223.5,163.1h0.6M238.4,173.3h0.6M244.2,169.5h0.6M239.8,177.0h0.6M253.8,169.7h0.6M246.6,171.0h0.6M242.6,172.8h0.6M233.7,168.0h0.6M246.2,166.3h0.6M231.4,174.5h0.6M251.9,166.4h0.6M247.9,169.1h0.6M242.2,181.2h0.6M247.9,172.1h0.6M238.4,168.0h0.6M223.0,166.2h0.6M230.8,172.6h0.6M254.4,174.3h0.6M219.2,170.5h0.6M233.1,170.6h0.6M270.2,172.4h0.6M244.8,173.8h0.6M243.6,174.4h0.6M233.4,168.1h0.6M244.3,173.6h0.6M244.6,174.0h0.6M245.4,162.8h0.6M237.1,176.6h0.6M241.7,173.2h0.6M246.5,178.7h0.6M234.2,172.6h0.6M264.6,172.9h0.6M239.8,172.4h0.6M248.3,161.9h0.6M234.1,178.4h0.6M232.1,175.5h0.6M272.5,176.9h0.6M241.5,173.3h0.6M247.6,171.3h0.6M223.6,179.8h0.6M243.3,170.9h0.6M255.7,166.5h0.6M252.5,173.8h0.6M236.8,170.9h0.6M237.7,190.2h0.6M225.6,177.7h0.6M236.9,162.4h0.6M224.4,167.5h0.6M252.9,172.8h0.6M231.6,178.1h0.6M241.0,171.5h0.6M245.3,176.9h0.6M215.6,171.0h0.6M238.7,167.7h0.6M250.1,171.5h0.6M207.3,164.1h0.6M249.6,168.8h0.6M228.2,178.7h0.6M258.5,169.6h0.6M232.9,170.6h0.6M230.3,172.7h0.6M244.0,171.6h0.6M232.6,165.4h0.6M216.9,177.1h0.6M219.8,171.5h0.6M222.4,173.3h0.6M261.9,176.1h0.6M256.9,173.7h0.6M242.0,173.9h0.6M258.3,175.4h0.6M242.3,171.0h0.6M236.3,160.6h0.6M239.6,167.1h0.6M238.2,171.8h0.6M236.4,172.1h0.6M252.1,167.6h0.6M219.2,166.2h0.6M241.4,177.2h0.6M218.9,171.9h0.6M235.3,165.1h0.6M223.0,166.9h0.6M258.6,173.4h0.6M230.4,171.0h0.6M226.7,176.0h0.6M265.3,169.5h0.6M242.9,170.0h0.6M244.4,172.7h0.6M230.3,168.5h0.6M243.0,173.5h0.6M225.5,174.4h0.6M222.4,175.1h0.6M210.9,165.5h0.6M230.8,172.7h0.6M235.5,170.1h0.6M263.1,167.4h0.6M228.0,170.9h0.6M210.9,174.4h0.6M235.9,170.0h0.6M247.2,173.9h0.6M260.8,174.9h0.6M249.3,181.4h0.6M252.6,165.1h0.6M248.2,170.0h0.6M252.3,169.8h0.6M233.3,173.4h0.6M251.4,175.6h0.6M231.5,176.6h0.6M254.4,171.8h0.6M202.7,173.3h0.6M234.5,172.0h0.6M254.7,166.2h0.6M218.4,169.4h0.6M255.0,176.1h0.6M260.2,175.2h0.6M227.5,163.8h0.6M257.8,160.5h0.6M263.9,181.8h0.6M245.5,179.2h0.6M245.5,170.0h0.6M242.9,177.8h0.6M212.4,173.1h0.6M239.9,169.3h0.6M251.1,173.2h0.6M230.9,179.8h0.6M245.1,176.1h0.6M246.9,170.8h0.6M234.9,166.9h0.6M218.4,171.7h0.6M249.1,172.4h0.6M245.4,168.8h0.6M227.1,173.8h0.6M245.8,169.1h0.6M234.9,173.0h0.6M215.4,165.5h0.6M255.3,175.8h0.6M236.3,177.0h0.6M232.8,171.2h0.6M224.9,175.4h0.6M248.7,173.3h0.6M243.4,177.0h0.6M233.7,178.5h0.6M249.7,164.1h0.6M223.0,175.3h0.6M235.1,165.6h0.6M232.5,170.9h0.6M237.3,183.0h0.6M246.4,173.0h0.6M253.5,176.5h0.6M233.4,174.0h0.6M240.5,164.0h0.6M222.9,177.9h0.6M252.5,169.1h0.6M245.2,167.3h0.6M206.0,168.1h0.6M235.4,172.3h0.6M227.1,174.7h0.6M220.8,166.8h0.6M237.3,170.1h0.6M229.0,173.6h0.6M241.1,170.1h0.6M264.2,171.5h0.6M230.6,175.8h0.6M229.5,174.5h0.6M254.5,170.2h0.6M274.6,173.0h0.6M254.0,169.9h0.6M221.9,162.8h0.6M232.1,173.6h0.6M235.1,172.2h0.6M235.8,175.0h0.6M240.1,175.7h0.6M227.8,164.0h0.6M249.0,166.5h0.6M240.1,175.5h0.6M244.8,170.5h0.6M254.3,180.5h0.6M228.5,171.9h0.6M268.2,168.2h0.6M213.4,161.3h0.6M243.4,167.3h0.6M241.2,174.8h0.6M250.2,170.2h0.6M220.6,170.8h0.6M235.6,169.0h0.6M241.6,173.6h0.6M248.2,166.1h0.6M250.6,179.4h0.6M220.7,160.9h0.6M241.1,167.8h0.6M246.1,172.0h0.6M205.6,166.9h0.6M247.1,172.2h0.6M222.9,176.0h0.6M225.3,170.7h0.6M232.7,167.1h0.6M238.9,172.7h0.6M264.8,154.9h0.6M229.3,168.6h0.6M247.8,172.8h0.6M261.6,182.3h0.6M223.5,176.4h0.6M248.9,169.6h0.6M253.4,168.3h0.6M248.0,163.1h0.6M252.1,171.3h0.6M241.4,170.0h0.6M234.7,176.2h0.6M216.1,164.8h0.6M252.2,163.1h0.6M267.7,171.2h0.6M237.0,174.9h0.6M249.5,165.5h0.6M233.2,175.3h0.6M247.3,172.8h0.6M231.2,174.9h0.6M250.8,168.6h0.6M216.7,169.6h0.6M241.5,171.7h0.6M242.5,167.5h0.6M252.8,168.3h0.6M269.2,170.5h0.6M258.0,180.5h0.6M235.6,178.9h0.6M248.3,169.0h0.6M250.2,171.5h0.6M245.3,169.8h0.6M234.1,165.8h0.6M234.3,169.0h0.6M246.8,166.2h0.6M221.2,171.4h0.6M225.7,175.6h0.6M220.4,176.3h0.6M258.2,173.9h0.6M252.5,164.1h0.6M249.2,177.0h0.6M217.9,165.4h0.6M234.8,170.2h0.6M233.0,168.2h0.6M225.4,167.8h0.6M232.4,159.6h0.6M243.3,176.6h0.6M252.0,171.2h0.6M238.6,166.7h0.6M221.1,176.5h0.6M265.9,182.3h0.6M230.5,170.2h0.6M231.0,168.6h0.6M239.6,181.3h0.6M252.0,168.0h0.6M238.1,177.1h0.6M261.1,168.8h0.6M233.2,179.8h0.6M228.8,165.3h0.6M238.4,164.7h0.6M248.8,180.0h0.6M264.8,166.1h0.6M247.8,179.5h0.6M244.5,173.1h0.6M235.8,170.1h0.6M239.4,175.0h0.6M207.0,167.4h0.6M242.0,170.5h0.6M229.0,176.2h0.6M245.1,175.7h0.6M198.1,170.2h0.6M243.5,173.2h0.6M242.3,165.7h0.6M245.1,166.3h0.6M239.9,167.8h0.6M230.3,170.5h0.6M224.0,177.5h0.6M242.7,173.0h0.6M238.1,175.4h0.6M247.2,175.1h0.6M245.9,166.6h0.6M224.7,181.5h0.6M223.4,171.6h0.6M249.7,168.0h0.6M245.3,189.2h0.6M233.3,172.3h0.6M247.1,173.4h0.6M244.0,174.4h0.6M225.6,178.2h0.6M252.2,171.6h0.6M235.7,173.4h0.6M229.2,177.5h0.6M229.1,167.4h0.6M262.2,173.6h0.6M226.5,170.1h0.6M246.5,175.3h0.6M208.3,164.3h0.6M227.7,172.5h0.6M241.4,168.3h0.6M246.1,174.0h0.6M242.4,174.1h0.6M238.0,172.3h0.6M218.9,174.7h0.6M211.8,164.8h0.6M236.8,164.2h0.6M245.5,175.4h0.6M237.5,164.8h0.6M238.0,169.6h0.6M224.7,171.7h0.6M211.5,177.8h0.6M252.7,179.3h0.6M234.3,170.5h0.6M221.7,171.9h0.6M234.2,161.6h0.6M247.3,173.8h0.6M255.7,159.2h0.6M254.1,179.2h0.6M241.0,172.2h0.6M264.5,171.6h0.6M215.1,175.7h0.6M231.4,167.3h0.6M235.3,178.1h0.6M267.1,171.6h0.6M243.6,179.0h0.6M245.6,170.4h0.6M235.9,173.3h0.6M220.0,167.7h0.6M238.0,171.6h0.6M235.0,163.8h0.6M239.5,175.1h0.6M253.8,176.6h0.6M236.0,176.8h0.6M235.2,169.5h0.6M227.8,171.6h0.6M220.1,172.8h0.6M234.3,164.2h0.6M237.5,172.4h0.6M255.1,171.5h0.6M253.6,171.9h0.6M248.3,171.4h0.6M253.5,178.5h0.6M239.7,173.8h0.6M221.8,172.2h0.6M214.1,172.4h0.6M227.1,177.5h0.6M244.8,170.1h0.6M241.4,170.5h0.6M237.4,178.0h0.6M218.7,176.9h0.6M236.5,169.0h0.6M231.5,182.5h0.6M237.9,171.0h0.6M232.3,174.1h0.6M230.2,162.0h0.6M241.6,169.4h0.6M232.5,167.5h0.6M216.8,166.2h0.6M237.1,175.8h0.6M231.4,171.8h0.6M244.9,169.9h0.6M227.8,184.0h0.6M277.3,174.5h0.6M240.8,182.5h0.6M258.8,173.8h0.6M254.3,165.8h0.6M262.2,176.3h0.6M234.2,172.9h0.6M271.8,171.2h0.6M240.0,173.9h0.6M260.2,173.7h0.6M219.0,168.9h0.6M248.6,173.9h0.6M234.5,169.8h0.6M255.8,168.8h0.6M232.1,174.1h0.6M238.2,167.4h0.6M262.8,158.5h0.6M241.9,172.7h0.6M237.2,169.6h0.6M243.8,164.0h0.6M256.1,166.4h0.6M222.4,181.3h0.6M242.3,176.7h0.6M250.6,176.4h0.6M229.3,176.0h0.6M232.5,169.4h0.6M222.0,170.9h0.6M246.8,173.2h0.6M228.7,177.6h0.6M235.4,158.3h0.6M259.4,180.8h0.6M236.8,173.6h0.6M231.6,162.8h0.6M257.3,168.7h0.6M244.8,174.1h0.6M231.2,178.8h0.6M218.3,173.5h0.6M245.9,176.6h0.6M240.7,180.4h0.6M247.5,173.2h0.6M238.9,169.0h0.6M253.8,175.2h0.6M241.5,169.6h0.6M247.3,167.1h0.6M264.9,170.2h0.6M259.3,181.7h0.6M216.2,179.5h0.6M236.9,176.1h0.6M264.2,178.4h0.6M239.1,175.3h0.6M250.7,164.4h0.6M268.9,168.9h0.6M240.3,180.0h0.6M233.6,175.1h0.6M224.5,175.1h0.6M245.3,178.2h0.6M247.5,168.4h0.6M229.8,175.8h0.6M233.9,170.4h0.6M241.5,172.9h0.6M223.9,165.9h0.6M230.0,169.1h0.6M227.5,172.5h0.6M228.7,180.1h0.6M234.0,172.8h0.6M259.6,177.1h0.6M238.1,175.7h0.6M250.7,170.1h0.6M241.1,168.5h0.6M243.1,174.8h0.6M237.3,167.4h0.6M233.5,167.4h0.6M233.0,169.7h0.6M232.1,173.8h0.6M205.0,181.0h0.6M227.6,171.7h0.6M237.0,170.0h0.6M263.8,178.4h0.6M230.9,172.2h0.6M237.2,171.0h0.6M249.7,173.7h0.6M257.5,174.0h0.6M213.8,168.9h0.6M258.2,177.2h0.6M213.2,177.7h0.6M252.3,181.8h0.6M254.6,174.2h0.6M231.8,170.7h0.6M263.7,169.6h0.6M222.1,168.4h0.6M243.6,167.0h0.6M249.3,174.8h0.6M281.1,173.2h0.6M226.4,180.5h0.6M229.6,174.8h0.6M246.5,173.5h0.6M255.5,175.9h0.6M198.4,167.4h0.6M240.2,170.9h0.6M227.1,172.9h0.6M259.5,164.7h0.6M240.7,171.5h0.6M243.0,169.8h0.6M240.8,171.0h0.6M248.1,177.9h0.6M249.1,168.3h0.6M205.7,175.1h0.6M237.3,169.9h0.6M224.3,171.2h0.6M227.3,161.7h0.6M241.3,175.7h0.6M241.9,170.9h0.6M258.5,179.0h0.6M229.5,158.9h0.6M221.2,173.5h0.6M239.6,176.8h0.6M238.8,166.0h0.6M212.7,174.8h0.6M238.2,172.2h0.6M235.1,159.6h0.6M236.5,172.4h0.6M249.9,176.0h0.6M231.4,169.2h0.6M258.9,181.9h0.6M232.2,174.9h0.6M231.4,159.6h0.6M232.1,174.2h0.6M228.4,170.3h0.6M215.8,177.0h0.6M230.4,173.8h0.6M219.7,173.4h0.6M243.1,169.2h0.6M247.4,165.4h0.6M209.7,173.8h0.6M256.9,174.8h0.6M245.7,167.6h0.6M220.2,177.7h0.6M236.7,170.6h0.6M241.1,162.5h0.6M233.6,160.5h0.6M217.2,168.0h0.6M231.3,170.5h0.6M234.8,169.4h0.6M248.7,169.9h0.6M245.8,164.3h0.6M248.5,169.3h0.6M225.7,178.4h0.6M242.1,182.2h0.6M234.8,174.4h0.6M261.9,158.6h0.6M244.9,172.9h0.6M248.8,171.3h0.6M233.0,175.2h0.6M254.3,170.6h0.6M248.8,163.8h0.6M245.9,180.9h0.6M226.9,162.0h0.6M266.6,175.5h0.6M247.3,174.0h0.6M221.0,165.6h0.6M240.8,172.3h0.6M262.3,177.3h0.6M262.0,179.4h0.6M242.9,162.8h0.6M216.6,176.0h0.6M262.5,176.6h0.6M261.9,161.9h0.6M257.2,170.5h0.6M250.7,168.9h0.6M233.6,174.6h0.6M272.1,177.8h0.6M243.8,186.2h0.6M237.4,175.7h0.6M240.5,178.6h0.6M221.8,174.0h0.6M249.5,165.9h0.6M215.8,178.5h0.6M249.0,167.3h0.6M235.9,180.5h0.6M250.2,174.7h0.6M263.2,176.3h0.6M213.0,170.2h0.6M251.0,170.1h0.6M233.3,163.9h0.6M249.8,176.2h0.6M253.9,165.9h0.6M267.4,168.8h0.6M240.0,165.4h0.6M235.4,175.4h0.6M248.6,173.1h0.6M240.0,164.7h0.6M247.2,169.2h0.6M232.0,177.2h0.6M247.7,165.5h0.6M218.1,170.0h0.6M240.5,168.0h0.6M242.8,174.6h0.6M223.5,161.3h0.6M255.5,177.8h0.6M227.8,164.1h0.6M229.9,175.6h0.6M239.0,163.4h0.6M250.0,166.4h0.6M251.9,168.6h0.6M246.5,166.3h0.6M232.3,173.5h0.6M234.7,175.3h0.6M232.6,172.2h0.6M234.4,175.8h0.6M219.7,169.5h0.6M240.3,164.2h0.6M222.0,170.0h0.6M271.2,166.1h0.6M195.1,177.0h0.6M245.0,171.3h0.6M252.0,169.8h0.6M239.7,173.9h0.6M258.2,174.6h0.6M250.0,174.3h0.6M248.8,176.7h0.6M232.7,161.3h0.6M235.2,170.1h0.6M246.7,180.0h0.6M229.8,175.2h0.6M229.5,177.4h0.6M220.1,178.2h0.6M243.2,178.4h0.6M217.7,172.9h0.6M246.0,176.7h0.6M247.5,179.7h0.6M250.8,162.2h0.6M229.2,151.8h0.6M230.5,178.9h0.6M238.6,173.5h0.6M248.8,179.5h0.6M235.6,172.9h0.6M238.9,170.2h0.6M234.1,174.9h0.6M228.3,171.9h0.6M233.4,173.2h0.6M256.1,175.7h0.6M248.6,169.6h0.6M225.6,165.9h0.6M269.1,172.6h0.6M227.3,180.4h0.6M233.3,180.7h0.6M237.2,179.1h0.6M240.4,175.7h0.6M231.6,178.8h0.6M217.0,161.3h0.6M258.1,172.6h0.6M237.8,166.8h0.6M254.0,176.3h0.6M234.5,178.6h0.6M252.6,167.8h0.6M254.7,169.2h0.6M251.6,169.8h0.6M232.6,179.3h0.6M231.9,166.4h0.6M264.5,179.8h0.6M222.5,172.2h0.6M243.4,174.6h0.6M229.3,171.8h0.6M230.9,179.0h0.6M247.9,169.7h0.6M238.8,169.2h0.6M248.8,173.0h0.6M237.8,166.4h0.6M235.3,167.7h0.6M252.8,167.2h0.6M238.3,175.2h0.6M227.3,169.0h0.6M233.7,175.1h0.6M226.9,182.4h0.6M243.0,169.2h0.6M237.5,181.0h0.6M238.9,175.6h0.6M265.3,165.0h0.6M227.6,174.9h0.6M226.6,173.4h0.6M229.3,183.8h0.6M242.6,172.2h0.6M249.8,165.9h0.6M220.3,168.9h0.6M241.6,172.4h0.6M239.4,172.7h0.6M245.4,165.0h0.6M225.9,172.6h0.6M260.9,178.7h0.6M256.8,178.1h0.6M237.0,166.9h0.6M231.9,168.3h0.6M253.3,174.6h0.6M232.6,169.2h0.6M263.9,167.5h0.6M271.2,165.8h0.6M246.9,169.5h0.6M234.4,164.6h0.6M230.5,167.8h0.6M238.6,174.3h0.6M242.4,165.1h0.6M213.6,179.6h0.6M218.4,168.8h0.6M229.3,175.8h0.6M210.7,176.4h0.6M252.2,171.3h0.6M228.3,172.0h0.6M222.9,176.8h0.6M217.2,173.7h0.6M235.8,167.8h0.6M235.4,177.8h0.6M231.2,169.7h0.6M255.3,170.3h0.6M255.1,166.9h0.6M255.3,174.8h0.6M263.9,172.0h0.6M275.1,172.0h0.6M226.7,166.7h0.6M247.1,165.8h0.6M226.8,167.2h0.6M244.0,162.6h0.6M257.7,173.0h0.6M236.1,178.4h0.6M237.4,178.1h0.6M241.2,175.8h0.6M237.6,179.8h0.6M227.0,173.3h0.6M252.6,166.8h0.6M235.5,180.0h0.6M243.5,171.8h0.6M229.2,160.7h0.6M236.4,179.7h0.6M261.5,175.9h0.6M267.9,170.7h0.6M234.7,177.7h0.6M236.5,169.9h0.6M238.3,170.9h0.6M237.6,170.6h0.6M235.7,177.6h0.6M227.7,171.9h0.6M246.0,177.5h0.6M241.9,174.1h0.6M225.8,174.1h0.6M228.7,173.5h0.6M243.8,173.7h0.6M229.2,169.5h0.6M281.2,166.1h0.6M265.7,174.8h0.6M209.9,173.0h0.6M246.7,180.0h0.6" stroke="#4050b8" stroke-width="0.6" opacity="0.5"/>
<path d="M236.5,190.8h0.6M242.5,195.0h0.6M248.9,185.1h0.6M220.8,182.8h0.6M251.1,176.7h0.6M247.9,182.2h0.6M233.5,183.0h0.6M232.7,180.1h0.6M225.4,177.5h0.6M250.7,184.4h0.6M249.7,186.8h0.6M256.0,203.5h0.6M234.4,191.7h0.6M250.3,182.4h0.6M228.0,182.8h0.6M245.7,189.5h0.6M245.3,188.1h0.6M243.9,183.1h0.6M250.1,177.6h0.6M241.8,199.2h0.6M248.6,190.6h0.6M241.5,185.4h0.6M253.3,187.7h0.6M241.3,190.0h0.6M246.5,193.0h0.6M256.7,182.1h0.6M226.9,195.8h0.6M239.0,190.7h0.6M219.5,180.4h0.6M238.5,190.4h0.6M245.8,180.5h0.6M240.6,183.0h0.6M244.8,191.4h0.6M254.8,176.0h0.6M251.5,189.2h0.6M234.5,181.3h0.6M256.9,178.8h0.6M258.1,202.9h0.6M245.9,180.3h0.6M256.1,178.8h0.6M236.0,191.3h0.6M256.6,177.7h0.6M238.2,172.5h0.6M256.4,175.1h0.6M236.5,189.3h0.6M240.9,195.6h0.6M240.7,177.0h0.6M244.2,187.4h0.6M241.0,194.3h0.6M236.4,194.6h0.6M244.3,203.4h0.6M231.3,182.5h0.6M242.2,184.8h0.6M250.9,177.4h0.6M244.3,185.4h0.6M233.8,176.3h0.6M247.8,179.2h0.6M243.9,189.2h0.6M260.3,182.7h0.6M239.5,188.4h0.6M245.7,191.0h0.6M242.3,186.9h0.6M240.3,192.9h0.6M251.0,189.8h0.6M245.3,186.8h0.6M224.6,182.1h0.6M230.7,184.5h0.6M232.5,197.2h0.6M250.0,191.7h0.6M242.2,185.0h0.6M245.1,174.0h0.6M256.0,193.6h0.6M241.4,175.3h0.6M240.7,189.1h0.6M239.2,181.1h0.6M242.6,193.9h0.6M240.8,177.8h0.6M231.5,183.8h0.6M251.9,174.8h0.6M248.6,176.5h0.6M235.7,190.7h0.6M240.7,180.7h0.6M231.3,186.9h0.6M240.9,187.8h0.6M248.7,185.2h0.6M240.7,177.7h0.6M254.6,180.5h0.6M238.9,194.0h0.6M237.5,185.3h0.6M248.7,181.4h0.6M242.1,170.5h0.6M250.8,196.3h0.6M246.9,184.4h0.6M252.4,193.8h0.6M256.8,172.6h0.6M244.5,189.7h0.6M242.5,192.1h0.6M245.1,183.2h0.6M236.8,178.3h0.6M242.7,194.4h0.6M246.8,181.9h0.6M247.1,196.3h0.6M239.5,191.6h0.6M243.2,185.6h0.6M232.9,166.7h0.6M229.2,165.3h0.6M242.1,194.7h0.6M242.4,186.0h0.6M235.2,187.5h0.6M244.4,182.9h0.6M242.3,186.7h0.6M230.4,190.7h0.6M240.8,189.5h0.6M240.3,196.7h0.6M242.5,183.0h0.6M249.2,176.2h0.6M230.2,181.6h0.6M243.6,179.2h0.6M232.9,189.8h0.6M241.6,188.6h0.6M243.1,192.4h0.6M228.2,178.2h0.6M227.9,177.1h0.6M244.6,182.8h0.6M231.0,195.5h0.6M244.0,190.4h0.6M243.9,176.2h0.6M218.7,184.6h0.6M248.4,181.4h0.6M234.1,177.7h0.6M242.1,192.5h0.6M245.3,186.7h0.6M249.9,187.7h0.6M241.5,184.7h0.6M253.6,181.9h0.6M252.0,176.6h0.6M252.4,185.7h0.6M236.9,189.2h0.6M254.1,186.2h0.6M240.7,175.8h0.6M247.0,190.8h0.6M229.9,186.2h0.6M248.6,181.0h0.6M235.4,192.8h0.6M230.0,185.4h0.6M250.5,181.0h0.6M241.1,188.5h0.6M225.2,193.7h0.6M240.5,189.1h0.6M239.6,179.8h0.6M245.0,189.4h0.6M241.2,189.8h0.6M233.6,192.2h0.6M237.5,194.9h0.6M246.0,187.0h0.6M230.7,188.0h0.6M249.9,206.6h0.6M242.1,190.4h0.6M240.0,182.0h0.6M243.9,196.0h0.6M241.7,182.4h0.6M242.3,184.9h0.6M240.7,174.1h0.6M263.1,183.3h0.6M249.0,192.0h0.6M234.0,202.1h0.6M242.9,180.5h0.6M236.9,196.9h0.6M248.4,179.7h0.6M255.4,186.7h0.6M239.2,173.7h0.6M244.5,188.3h0.6M237.3,183.7h0.6M243.9,197.7h0.6M240.6,184.4h0.6M251.0,205.8h0.6M248.2,189.8h0.6M244.3,189.0h0.6M241.8,184.2h0.6M244.4,181.1h0.6M238.1,199.2h0.6M241.5,188.0h0.6M241.6,186.0h0.6M233.7,180.9h0.6M245.0,170.0h0.6M249.3,195.4h0.6M236.8,191.0h0.6M255.8,195.1h0.6M248.6,180.1h0.6M239.0,192.0h0.6M247.1,185.4h0.6M248.9,176.8h0.6M240.8,180.1h0.6M237.8,178.6h0.6M230.1,185.1h0.6M236.6,190.8h0.6M244.9,175.6h0.6M259.5,184.6h0.6M236.6,183.3h0.6M240.9,189.3h0.6M224.3,185.0h0.6M228.7,184.1h0.6M229.2,189.5h0.6M246.4,193.0h0.6M237.3,184.7h0.6M238.0,184.2h0.6M240.9,191.6h0.6M239.7,186.1h0.6M246.0,194.1h0.6M240.4,188.9h0.6M246.7,178.1h0.6M240.3,195.5h0.6M245.7,182.7h0.6M244.3,199.2h0.6M239.8,181.7h0.6M249.3,173.7h0.6M241.1,183.5h0.6M241.2,180.0h0.6M228.2,195.8h0.6M234.2,191.5h0.6M232.4,193.1h0.6M246.9,178.3h0.6M251.9,181.2h0.6M251.0,186.1h0.6M238.7,190.1h0.6M243.7,195.5h0.6M217.4,193.4h0.6M255.4,191.3h0.6M243.4,188.7h0.6M248.9,185.0h0.6M241.6,189.5h0.6M239.5,188.2h0.6M233.8,184.9h0.6M246.7,191.7h0.6M242.0,185.5h0.6M240.0,179.8h0.6M243.0,191.2h0.6M261.7,192.4h0.6M245.2,178.8h0.6M258.0,189.1h0.6M252.1,186.4h0.6M246.8,180.0h0.6M246.7,170.3h0.6M241.6,168.8h0.6M246.2,181.5h0.6M247.4,175.1h0.6M261.4,177.7h0.6M242.8,189.9h0.6M245.9,187.1h0.6M240.5,179.1h0.6M238.8,195.3h0.6M247.9,186.9h0.6M246.2,177.6h0.6M246.6,178.3h0.6M235.6,184.2h0.6M237.1,180.0h0.6M240.0,185.3h0.6M255.4,174.9h0.6M245.6,197.8h0.6M249.3,184.0h0.6M251.9,177.6h0.6M252.1,188.7h0.6M251.6,189.1h0.6M264.2,180.1h0.6M236.0,180.7h0.6M254.8,186.9h0.6M239.9,181.1h0.6M243.5,181.3h0.6M243.0,183.0h0.6M250.9,191.0h0.6M240.9,200.6h0.6M253.6,176.1h0.6M260.4,170.3h0.6M238.1,181.2h0.6M246.5,174.9h0.6M242.8,185.7h0.6M231.9,180.2h0.6M248.7,182.8h0.6M227.0,187.2h0.6M251.5,186.2h0.6M249.2,181.6h0.6M245.0,175.5h0.6M253.8,183.2h0.6M234.4,169.9h0.6M231.4,181.6h0.6M243.9,185.5h0.6M240.3,186.3h0.6M246.9,180.9h0.6M241.1,176.4h0.6M258.3,179.9h0.6M243.2,194.5h0.6M240.1,199.7h0.6M236.9,187.8h0.6M247.3,183.1h0.6M238.3,191.2h0.6M233.5,194.4h0.6M234.7,175.3h0.6M238.5,183.7h0.6M242.4,187.7h0.6M235.9,160.2h0.6M249.1,178.5h0.6M252.1,176.3h0.6M250.5,182.8h0.6M251.4,171.8h0.6M236.4,180.3h0.6M255.3,184.0h0.6M245.4,194.6h0.6M241.4,193.4h0.6M236.0,189.9h0.6M253.4,182.9h0.6M238.5,171.3h0.6M233.2,193.6h0.6M248.7,177.8h0.6M227.7,183.4h0.6M247.1,186.8h0.6M249.3,176.5h0.6M239.3,182.5h0.6M242.5,184.0h0.6M241.1,178.7h0.6M249.0,187.5h0.6M245.0,180.7h0.6M243.0,185.3h0.6M259.0,198.5h0.6M238.2,186.5h0.6M243.0,184.4h0.6M244.8,182.9h0.6M236.5,202.9h0.6M246.7,189.9h0.6M249.4,190.1h0.6M261.0,180.3h0.6M241.7,186.9h0.6M245.4,180.0h0.6M242.4,185.1h0.6M231.3,187.3h0.6M244.3,183.5h0.6M249.2,188.7h0.6M244.0,182.7h0.6M238.2,173.8h0.6M248.7,178.4h0.6M247.3,185.5h0.6M259.8,205.1h0.6M236.1,173.4h0.6M245.3,181.5h0.6M239.9,177.8h0.6M248.8,181.5h0.6M245.1,175.2h0.6M234.5,183.6h0.6M239.4,193.3h0.6M243.3,187.7h0.6M237.0,186.6h0.6M239.8,196.6h0.6M246.2,171.5h0.6M255.2,176.1h0.6M241.2,179.7h0.6M242.0,192.9h0.6M242.7,185.9h0.6M246.1,172.5h0.6M235.5,186.5h0.6M246.4,197.1h0.6M238.9,194.3h0.6M240.1,179.2h0.6M230.6,185.0h0.6M244.5,188.8h0.6M242.6,181.4h0.6M241.9,187.2h0.6M243.7,189.8h0.6M247.8,191.3h0.6M258.6,193.8h0.6M231.9,184.1h0.6M235.3,188.7h0.6M236.8,187.1h0.6M248.0,169.0h0.6M252.4,190.2h0.6M250.4,189.5h0.6M250.2,176.1h0.6M246.1,181.6h0.6M229.6,192.7h0.6M245.8,181.0h0.6M243.0,193.9h0.6M241.9,180.1h0.6M245.9,168.0h0.6M236.2,170.9h0.6M230.8,186.2h0.6M241.0,190.0h0.6M238.6,183.8h0.6M221.1,189.5h0.6M243.6,183.5h0.6M238.2,199.0h0.6M249.3,187.8h0.6M229.7,199.0h0.6M239.0,182.7h0.6M238.2,182.7h0.6M254.9,184.7h0.6M255.0,176.5h0.6M244.8,183.6h0.6M250.2,170.2h0.6M247.1,180.3h0.6M248.3,184.8h0.6M237.3,184.9h0.6M231.0,182.5h0.6M239.1,187.9h0.6M236.1,170.6h0.6M235.5,195.1h0.6M247.1,192.0h0.6M249.8,185.8h0.6M256.4,189.7h0.6M259.1,173.1h0.6M245.0,194.4h0.6M230.2,198.6h0.6M238.7,183.2h0.6M247.6,191.8h0.6M234.7,188.6h0.6M238.3,197.2h0.6M244.9,204.0h0.6M236.2,183.4h0.6M250.7,183.1h0.6M246.7,183.2h0.6M234.9,178.3h0.6M239.5,186.8h0.6M247.0,182.0h0.6M241.7,196.4h0.6M243.2,192.2h0.6M241.4,197.2h0.6M239.5,188.7h0.6M238.2,184.6h0.6M249.0,193.0h0.6M230.8,177.5h0.6M245.0,185.1h0.6M244.8,193.9h0.6M242.8,183.5h0.6M236.2,183.1h0.6M225.4,172.5h0.6M245.0,187.2h0.6M246.2,187.3h0.6M224.5,190.3h0.6M231.9,180.6h0.6M252.2,186.8h0.6M240.4,192.8h0.6M248.8,184.2h0.6M242.3,172.6h0.6M257.2,177.2h0.6M242.6,188.7h0.6M247.7,192.2h0.6M226.7,180.6h0.6M245.6,177.8h0.6M242.5,202.1h0.6M237.2,190.3h0.6M226.5,191.9h0.6M244.4,190.3h0.6M238.5,176.8h0.6M247.7,185.0h0.6M241.3,176.5h0.6M244.4,188.7h0.6M235.8,183.7h0.6M238.0,171.0h0.6M237.8,172.6h0.6M230.9,187.8h0.6M246.0,182.4h0.6M243.9,193.0h0.6M252.8,186.4h0.6M256.9,182.2h0.6M255.5,189.5h0.6M248.5,181.8h0.6M242.1,173.9h0.6M225.4,189.3h0.6M238.9,183.7h0.6M240.0,178.5h0.6M249.6,192.1h0.6M230.7,177.9h0.6M242.7,186.7h0.6M239.0,179.0h0.6M260.5,175.3h0.6M245.2,189.3h0.6M239.7,189.8h0.6M243.0,175.3h0.6M241.5,187.4h0.6M229.1,180.8h0.6M241.7,188.3h0.6M244.5,188.4h0.6M238.2,187.4h0.6M249.4,178.4h0.6M235.3,187.9h0.6M255.6,185.9h0.6M243.2,181.4h0.6M255.8,195.7h0.6M254.7,179.9h0.6M236.2,185.7h0.6M236.5,184.2h0.6M245.2,192.3h0.6M245.9,189.2h0.6M244.2,191.8h0.6M238.5,174.8h0.6M246.0,185.5h0.6M235.7,181.2h0.6M252.0,179.2h0.6M246.4,188.3h0.6M234.9,188.0h0.6M245.9,198.4h0.6M254.5,187.0h0.6M251.3,183.5h0.6" stroke="#4050b8" stroke-width="0.6" opacity="0.5"/>
<path d="M207,189 C214,184 226,184 234,185 C242,186 248,188 251,193 C253,201 253,211 251.5,218 C250,224 247,228 240,229 C232,230 222,230 215,228 C210,226 207.5,222 206.8,215 C206,206 206,196 207,189 Z" fill="#3a4ab0" opacity="0.8" filter="url(#b2)"/>
<path d="M209,195 C216,191 226,190.5 232,191 C240,192 246,194 248,198 C249.5,205 249.5,214 247.5,220 C245.5,224.5 240,226 232,226.5 C224,226.8 216,225.5 212,222.5 C209,219 208,212 208,206 C208,201 208.3,198 209,195 Z" fill="#3242a8" opacity="0.95" filter="url(#b1)"/>
<path d="M205,183 C212,178 226,178 233,181 L234,193 L207,196 Z" fill="#3444aa" opacity="0.9" filter="url(#b2)"/>
<ellipse cx="242" cy="172" rx="11" ry="3.2" fill="#3444aa" opacity="0.95" filter="url(#b1)"/>
<ellipse cx="212" cy="173.5" rx="21" ry="8" fill="#3444aa" opacity="0.9" filter="url(#b2)"/>
<ellipse cx="213.5" cy="172.3" rx="19.5" ry="6.5" fill="#2c3ca8" opacity="1" filter="url(#b1)"/>
<ellipse cx="212.5" cy="172.5" rx="15" ry="5.5" fill="#34b4d8" opacity="1" filter="url(#b1)"/>
<ellipse cx="213.5" cy="172.5" rx="11.2" ry="4.1" fill="#60c848" opacity="1" filter="url(#b05)"/>
<ellipse cx="214.2" cy="172.5" rx="8.3" ry="2.9" fill="#f0e020" opacity="1" filter="url(#b05)"/>
<ellipse cx="214.4" cy="172.5" rx="4.8" ry="1.6" fill="#e41a10" opacity="1" filter="url(#b05)"/>
<ellipse cx="222.5" cy="210.5" rx="13" ry="10.5" fill="#30a8d0" opacity="1" filter="url(#b1)" transform="rotate(35 222.5 210.5)"/>
<ellipse cx="236" cy="211" rx="4.5" ry="5" fill="#30a8d0" opacity="0.8" filter="url(#b1)"/>
<ellipse cx="220.5" cy="211" rx="7" ry="6" fill="#70c840" opacity="1" filter="url(#b1)" transform="rotate(35 220.5 211)"/>
<ellipse cx="220.7" cy="211.2" rx="3.2" ry="2.6" fill="#d8e020" opacity="1" filter="url(#b05)"/>
</g>
<rect x="192.40" y="155.40" width="75.20" height="74.90" stroke="#444" stroke-width="0.8" fill="none" />
<rect x="197.70" y="160.70" width="35.20" height="23.80" stroke="#444" stroke-width="0.6" fill="none" />
<line x1="190.80" y1="162.10" x2="192.40" y2="162.10" stroke="#333" stroke-width="0.7" />
<text x="188.80" y="164.20" font-size="6.2" text-anchor="end" fill="#333" stroke="#333">10<tspan font-size="4.46" dy="-2.4">5</tspan></text>
<line x1="190.80" y1="179.40" x2="192.40" y2="179.40" stroke="#333" stroke-width="0.7" />
<text x="188.80" y="181.50" font-size="6.2" text-anchor="end" fill="#333" stroke="#333">10<tspan font-size="4.46" dy="-2.4">4</tspan></text>
<line x1="190.80" y1="200.60" x2="192.40" y2="200.60" stroke="#333" stroke-width="0.7" />
<text x="188.80" y="202.70" font-size="6.2" text-anchor="end" fill="#333" stroke="#333">10<tspan font-size="4.46" dy="-2.4">3</tspan></text>
<line x1="190.80" y1="212.20" x2="192.40" y2="212.20" stroke="#333" stroke-width="0.7" />
<text x="188.80" y="214.30" font-size="6.2" text-anchor="end" fill="#333" stroke="#333">0</text>
<line x1="190.80" y1="224.90" x2="192.40" y2="224.90" stroke="#333" stroke-width="0.7" />
<text x="188.80" y="227.00" font-size="6.2" text-anchor="end" fill="#333" stroke="#333">−10<tspan font-size="4.46" dy="-2.4">3</tspan></text>
<line x1="217.70" y1="230.30" x2="217.70" y2="231.90" stroke="#333" stroke-width="0.7" />
<text x="217.70" y="239.50" font-size="6.2" text-anchor="middle" fill="#333" stroke="#333">0</text>
<line x1="246.20" y1="230.30" x2="246.20" y2="231.90" stroke="#333" stroke-width="0.7" />
<text x="246.20" y="239.50" font-size="6.2" text-anchor="middle" fill="#333" stroke="#333">10<tspan font-size="4.46" dy="-2.4">4</tspan></text>
<line x1="258.50" y1="230.30" x2="258.50" y2="231.90" stroke="#333" stroke-width="0.7" />
<text x="258.50" y="239.50" font-size="6.2" text-anchor="middle" fill="#333" stroke="#333">10<tspan font-size="4.46" dy="-2.4">5</tspan></text>
<text x="228.00" y="151.00" font-size="8.7" text-anchor="middle" fill="#333" stroke="#333" stroke-width="0.04" textLength="25.3" lengthAdjust="spacingAndGlyphs" >B220+</text>
<text x="229.40" y="250.80" font-size="9.0" text-anchor="middle" fill="#333" stroke="#333" stroke-width="0.04" textLength="12.8" lengthAdjust="spacingAndGlyphs" >CD3</text>
<text x="174.99" y="196.50" font-size="9.0" text-anchor="middle" fill="#333" stroke="#333" stroke-width="0.04" textLength="16.5" lengthAdjust="spacingAndGlyphs" transform="rotate(-90 174.99 196.50)" >B220</text>
<clipPath id="c5"><rect x="300.6" y="156.2" width="74.29999999999995" height="74.10000000000002"/></clipPath>
<g clip-path="url(#c5)">
<path d="M343.0,178.3h0.6M331.4,185.0h0.6M351.5,191.6h0.6M347.5,190.5h0.6M365.0,177.7h0.6M335.0,188.8h0.6M354.2,210.6h0.6M344.2,179.5h0.6M340.4,183.7h0.6M361.7,187.7h0.6M356.8,171.3h0.6M360.2,171.5h0.6M323.2,170.5h0.6M322.3,176.2h0.6M324.9,215.2h0.6M347.4,174.5h0.6M329.9,182.6h0.6M322.5,221.4h0.6M318.3,170.4h0.6M344.4,211.2h0.6M354.1,194.3h0.6M352.0,206.8h0.6M328.0,206.4h0.6M360.5,170.2h0.6M350.6,181.1h0.6M362.8,220.2h0.6M323.2,189.5h0.6M326.0,172.0h0.6M339.1,211.5h0.6M328.8,217.7h0.6M355.7,193.4h0.6M347.7,179.0h0.6M316.1,193.9h0.6M321.2,207.2h0.6M327.7,181.3h0.6M340.0,172.9h0.6M316.8,178.0h0.6M316.2,185.8h0.6M325.4,187.6h0.6M328.1,201.0h0.6M319.8,195.4h0.6M339.8,175.3h0.6M333.1,196.9h0.6M335.0,166.4h0.6M322.0,169.4h0.6M353.1,180.5h0.6M327.1,226.5h0.6M319.6,176.8h0.6M319.3,196.3h0.6M330.1,187.0h0.6M363.4,187.9h0.6M344.9,201.2h0.6M338.9,205.2h0.6M324.1,173.9h0.6M317.9,217.2h0.6M362.1,199.3h0.6M337.1,201.6h0.6M343.2,219.1h0.6M326.9,166.5h0.6M343.2,216.7h0.6M313.2,207.4h0.6M342.6,166.6h0.6M332.4,173.8h0.6M313.8,187.5h0.6M311.9,179.8h0.6M326.8,172.4h0.6M335.2,175.6h0.6M357.8,200.1h0.6M357.2,204.4h0.6M360.1,194.2h0.6M329.2,197.3h0.6M364.1,219.3h0.6M323.1,173.3h0.6M331.9,214.2h0.6M339.9,216.1h0.6M354.0,203.7h0.6M317.1,225.4h0.6M356.3,197.7h0.6M360.4,185.3h0.6M355.7,209.3h0.6M354.2,198.8h0.6M346.3,216.4h0.6M339.2,220.4h0.6M328.3,170.5h0.6M332.1,183.1h0.6M363.0,192.2h0.6M360.6,188.0h0.6M326.6,215.4h0.6M344.3,214.9h0.6M315.5,171.8h0.6M359.6,199.0h0.6M325.4,217.8h0.6M359.7,189.9h0.6M316.1,182.4h0.6M318.3,198.5h0.6M355.4,175.1h0.6M364.8,214.3h0.6M361.5,183.0h0.6M353.1,174.9h0.6M319.6,188.4h0.6M345.6,174.8h0.6M319.5,215.7h0.6M314.0,197.6h0.6M313.8,203.3h0.6M328.0,226.9h0.6M349.4,185.4h0.6M335.2,173.7h0.6M313.3,180.6h0.6M364.6,205.4h0.6M312.1,174.5h0.6M311.1,179.3h0.6M333.0,172.7h0.6M365.5,202.2h0.6M344.6,208.4h0.6M363.0,181.0h0.6M323.9,200.4h0.6M340.5,178.2h0.6M355.6,219.6h0.6M338.0,204.9h0.6M361.5,184.1h0.6M347.9,200.9h0.6M345.9,166.4h0.6M339.4,194.0h0.6M354.8,171.2h0.6M327.0,167.0h0.6M315.0,211.7h0.6M314.2,185.2h0.6M310.0,201.1h0.6M361.4,215.6h0.6M343.8,210.2h0.6M353.6,200.5h0.6M355.7,204.6h0.6M347.3,213.9h0.6M357.5,167.2h0.6M311.4,182.3h0.6M342.2,172.1h0.6M316.6,171.5h0.6M331.3,179.9h0.6M354.1,177.4h0.6M327.3,180.3h0.6M327.5,214.0h0.6M353.1,214.0h0.6M329.3,210.5h0.6M352.0,200.9h0.6M320.1,181.8h0.6M332.5,195.2h0.6M319.7,183.8h0.6M320.3,194.4h0.6M324.5,203.3h0.6M355.9,217.0h0.6M365.9,183.3h0.6M324.8,191.2h0.6M341.0,189.9h0.6M329.6,203.4h0.6M349.0,219.1h0.6M337.2,182.5h0.6M319.3,180.0h0.6M336.5,173.9h0.6M329.7,211.9h0.6M357.7,196.4h0.6M311.1,188.5h0.6M309.9,195.1h0.6M330.2,169.3h0.6M322.6,170.2h0.6M358.7,185.7h0.6M351.1,199.2h0.6M326.5,216.3h0.6M331.4,191.2h0.6M345.5,187.1h0.6M356.2,191.4h0.6M355.6,219.0h0.6M354.0,175.3h0.6M359.7,203.3h0.6M360.8,209.2h0.6M339.4,178.0h0.6M331.4,175.2h0.6M323.5,222.7h0.6M326.6,197.6h0.6M329.7,209.0h0.6M312.4,183.1h0.6M354.5,209.2h0.6M352.5,174.5h0.6M325.1,201.1h0.6M335.1,194.3h0.6M339.9,183.9h0.6M325.2,214.6h0.6M352.9,209.5h0.6M364.9,194.8h0.6M330.6,170.5h0.6M334.5,174.9h0.6M349.5,198.4h0.6M359.7,184.7h0.6M343.6,171.4h0.6M321.1,204.9h0.6M317.0,218.2h0.6M341.7,189.9h0.6M320.3,171.9h0.6M331.9,189.9h0.6M362.5,199.0h0.6M343.8,183.0h0.6M326.8,170.6h0.6M358.5,182.7h0.6M312.8,187.3h0.6M361.4,190.9h0.6M335.6,203.0h0.6M349.1,185.3h0.6M322.9,214.0h0.6M321.9,169.6h0.6M342.4,212.4h0.6M317.1,194.2h0.6M312.1,189.0h0.6M323.9,198.6h0.6M321.0,216.3h0.6M330.1,195.9h0.6M332.9,171.7h0.6M347.2,184.1h0.6M351.3,184.8h0.6M342.3,216.0h0.6M343.1,172.4h0.6M345.0,199.6h0.6M362.6,183.0h0.6M328.7,176.4h0.6M351.4,170.8h0.6M328.0,201.4h0.6M322.2,220.6h0.6M349.4,174.5h0.6M334.1,200.3h0.6M318.0,208.2h0.6M341.6,182.4h0.6M314.3,184.5h0.6M351.0,211.6h0.6M341.5,208.6h0.6M317.3,191.1h0.6M326.0,195.9h0.6M339.8,175.5h0.6M311.4,177.1h0.6M352.5,186.6h0.6M324.8,219.7h0.6M317.3,173.4h0.6M347.2,201.2h0.6M354.7,200.1h0.6M339.2,204.8h0.6M350.2,204.9h0.6M312.7,203.9h0.6M329.2,189.0h0.6M358.8,216.9h0.6M359.3,202.1h0.6M354.6,196.1h0.6M359.3,201.3h0.6M318.9,209.1h0.6M315.9,225.6h0.6M324.5,208.9h0.6M318.1,202.4h0.6M329.5,179.1h0.6M362.7,203.4h0.6M340.9,210.6h0.6M309.6,200.5h0.6M359.7,212.5h0.6M335.3,180.1h0.6M341.1,206.3h0.6M317.2,175.9h0.6M355.5,198.3h0.6M332.2,185.0h0.6M365.3,216.4h0.6M338.5,207.1h0.6M310.0,224.9h0.6M335.9,215.5h0.6M313.2,196.0h0.6M351.5,215.2h0.6M329.3,202.8h0.6M352.5,207.9h0.6M351.0,181.1h0.6M318.0,216.2h0.6M329.7,220.9h0.6M348.2,211.6h0.6M337.5,167.6h0.6M334.8,209.4h0.6M343.0,220.1h0.6M323.0,201.3h0.6M328.5,219.1h0.6M330.8,190.8h0.6M334.7,205.9h0.6M323.5,183.7h0.6M309.3,173.9h0.6M328.4,174.1h0.6M317.8,176.0h0.6M362.0,219.8h0.6M340.3,216.2h0.6M318.7,175.1h0.6M313.3,222.2h0.6M325.6,171.4h0.6M329.6,176.6h0.6M336.7,210.3h0.6M324.1,184.6h0.6M343.4,167.9h0.6M312.0,225.6h0.6M311.5,209.6h0.6M342.9,210.8h0.6M355.2,214.5h0.6M331.5,191.2h0.6M312.4,188.7h0.6M331.9,179.7h0.6M311.3,200.3h0.6M327.3,204.2h0.6M328.8,191.2h0.6M321.5,223.3h0.6M352.4,207.5h0.6M357.2,191.7h0.6M345.3,178.2h0.6M343.0,182.1h0.6M329.8,179.0h0.6M311.7,194.4h0.6M341.8,173.4h0.6M341.8,199.4h0.6M338.2,194.8h0.6M338.7,173.6h0.6M345.5,195.2h0.6M362.5,195.3h0.6M315.2,172.4h0.6M361.3,214.2h0.6M362.7,192.5h0.6M310.6,186.2h0.6M325.7,221.7h0.6M360.6,210.4h0.6M350.1,208.8h0.6M330.4,175.2h0.6M339.1,196.6h0.6M343.1,209.2h0.6M347.6,217.6h0.6M340.2,190.9h0.6M326.0,213.6h0.6M317.8,208.1h0.6M321.3,169.3h0.6M341.0,202.3h0.6M333.9,198.1h0.6M332.1,185.0h0.6M328.0,204.7h0.6M352.9,189.9h0.6M349.6,214.0h0.6M343.9,184.4h0.6M326.8,216.8h0.6M343.4,183.4h0.6M331.0,197.5h0.6M356.7,188.5h0.6M330.8,218.9h0.6M317.5,184.1h0.6M322.2,181.4h0.6M332.7,198.4h0.6M329.1,166.9h0.6M341.6,205.4h0.6M336.4,198.2h0.6M334.7,167.7h0.6M345.1,206.5h0.6M311.4,203.5h0.6M354.8,200.2h0.6M321.5,214.2h0.6M317.4,222.9h0.6M349.9,178.5h0.6M357.8,171.6h0.6M321.7,206.7h0.6M340.6,206.1h0.6M356.9,206.4h0.6M329.7,185.5h0.6M347.7,194.6h0.6M331.4,210.1h0.6M315.0,201.1h0.6M349.5,187.5h0.6M351.3,212.0h0.6M332.9,196.8h0.6M310.5,210.6h0.6M335.7,170.2h0.6M318.3,194.4h0.6M338.3,175.2h0.6M347.4,209.6h0.6M311.0,172.2h0.6M311.6,203.1h0.6M314.8,180.3h0.6M361.0,170.4h0.6M327.8,174.8h0.6M319.8,210.9h0.6M360.9,196.1h0.6M328.9,199.5h0.6M345.4,200.5h0.6M354.8,217.5h0.6M363.1,204.4h0.6M333.6,178.5h0.6M361.6,217.6h0.6M345.4,214.3h0.6M319.6,194.0h0.6M343.9,212.9h0.6M317.5,185.3h0.6M351.2,192.1h0.6M311.5,212.1h0.6M325.9,174.5h0.6M319.7,205.6h0.6M339.0,212.0h0.6M313.8,200.8h0.6M321.8,221.0h0.6M331.8,210.9h0.6M316.9,172.0h0.6M362.5,213.7h0.6M311.3,186.2h0.6M338.8,166.4h0.6M345.7,198.7h0.6M338.9,172.1h0.6M360.6,175.2h0.6M333.1,207.9h0.6M327.5,211.3h0.6M333.0,171.7h0.6M320.4,218.7h0.6M322.9,226.0h0.6M309.1,178.6h0.6M350.7,177.8h0.6M358.6,200.5h0.6M347.0,184.1h0.6M341.8,211.8h0.6M323.5,172.3h0.6M319.4,202.9h0.6M327.4,200.6h0.6M310.5,181.8h0.6M357.5,174.9h0.6M333.0,189.8h0.6M345.1,173.7h0.6M309.3,223.6h0.6M359.8,168.8h0.6M322.7,219.8h0.6M353.1,187.5h0.6M333.1,168.9h0.6M326.2,179.4h0.6M311.3,171.8h0.6M309.2,203.0h0.6M327.4,212.8h0.6M336.0,206.4h0.6M361.4,213.8h0.6M315.8,212.5h0.6M338.5,184.1h0.6M352.6,176.4h0.6M319.9,177.0h0.6M362.9,193.6h0.6M309.9,197.7h0.6M336.7,193.6h0.6M319.6,198.4h0.6M356.1,211.0h0.6M346.8,199.4h0.6M350.6,181.7h0.6M321.3,220.7h0.6M329.5,182.1h0.6M318.9,215.2h0.6M342.3,185.1h0.6M324.4,210.8h0.6M345.2,207.2h0.6M355.6,177.4h0.6M336.4,179.6h0.6M329.9,214.1h0.6M317.6,220.2h0.6M321.1,211.5h0.6M325.5,205.9h0.6M344.9,181.0h0.6M337.9,201.5h0.6M331.2,194.0h0.6M345.5,176.5h0.6M357.4,172.1h0.6M328.4,206.4h0.6M328.5,194.8h0.6M359.2,175.1h0.6M361.6,191.8h0.6M312.7,220.7h0.6M332.0,173.0h0.6M343.2,174.7h0.6M359.0,207.7h0.6M326.2,200.5h0.6M360.3,172.4h0.6M356.4,203.0h0.6M353.7,219.4h0.6M325.5,198.5h0.6M325.8,211.8h0.6M359.8,177.9h0.6M365.8,185.1h0.6M350.3,207.1h0.6M315.2,172.1h0.6M332.3,200.9h0.6M356.0,192.7h0.6M364.8,207.2h0.6M358.6,214.1h0.6M310.5,213.9h0.6M366.0,198.4h0.6M341.7,179.1h0.6M316.1,182.3h0.6M333.3,189.6h0.6M314.8,195.3h0.6M335.5,206.6h0.6M359.8,201.2h0.6M337.2,175.1h0.6M346.9,188.4h0.6M317.2,208.9h0.6M364.8,188.8h0.6M348.2,170.1h0.6M312.6,179.2h0.6M341.0,194.9h0.6M333.9,214.9h0.6M352.8,220.1h0.6M361.4,204.0h0.6M339.0,199.9h0.6M346.5,214.6h0.6M344.4,207.8h0.6M348.8,200.0h0.6M362.5,181.1h0.6M347.2,202.6h0.6M312.9,183.3h0.6M341.4,202.0h0.6M334.0,184.6h0.6M344.0,204.7h0.6M336.2,176.8h0.6M322.1,171.6h0.6M352.2,169.4h0.6M334.2,213.4h0.6M342.9,182.3h0.6M310.3,194.3h0.6M340.6,214.3h0.6M318.4,186.7h0.6M318.9,184.6h0.6M331.5,211.2h0.6M322.2,218.7h0.6M344.0,202.7h0.6M342.9,190.9h0.6M333.7,171.5h0.6M334.8,194.7h0.6M315.2,208.5h0.6M336.2,216.7h0.6M362.4,183.0h0.6M330.4,195.9h0.6M355.0,196.7h0.6M344.0,215.1h0.6M325.3,170.7h0.6M318.4,168.7h0.6M338.0,178.2h0.6M344.1,187.2h0.6M313.0,203.4h0.6M328.6,176.7h0.6M362.2,193.6h0.6M320.2,185.6h0.6M348.8,189.9h0.6M356.5,197.8h0.6M364.6,210.8h0.6M320.1,174.1h0.6M342.9,170.7h0.6M362.6,187.8h0.6M340.9,212.3h0.6M326.8,212.2h0.6M342.2,217.6h0.6M359.8,184.2h0.6M362.0,208.7h0.6M348.0,212.3h0.6M350.4,180.9h0.6M344.4,189.7h0.6M361.7,203.6h0.6M335.5,208.0h0.6M326.3,224.9h0.6M323.0,217.3h0.6M363.6,174.6h0.6M325.1,217.5h0.6M348.4,200.1h0.6M343.3,197.6h0.6M357.9,171.5h0.6M331.4,173.3h0.6M348.7,215.6h0.6M323.0,177.4h0.6M361.7,177.8h0.6M350.8,177.6h0.6M365.0,168.4h0.6M350.3,202.2h0.6M350.4,178.7h0.6M322.2,207.6h0.6M361.4,180.3h0.6M348.3,182.3h0.6M355.6,203.2h0.6M322.1,222.9h0.6M359.4,177.9h0.6M321.0,195.0h0.6M319.9,178.6h0.6M350.1,169.5h0.6M345.3,215.0h0.6M317.5,179.0h0.6M353.3,221.8h0.6M322.7,190.4h0.6M330.3,201.5h0.6M322.1,167.6h0.6M335.8,180.7h0.6M364.3,200.3h0.6M355.4,180.2h0.6M360.0,213.1h0.6M362.9,191.4h0.6M359.4,209.0h0.6M325.4,204.4h0.6M352.5,204.3h0.6M320.8,215.3h0.6M318.4,206.9h0.6M347.7,184.3h0.6M345.5,218.1h0.6M312.2,224.4h0.6M363.3,201.0h0.6M364.5,185.7h0.6M348.3,208.7h0.6M322.7,196.2h0.6M330.7,210.6h0.6M355.8,185.3h0.6M343.7,171.4h0.6M337.9,175.8h0.6M333.1,200.7h0.6M315.2,219.2h0.6M349.6,170.8h0.6M321.1,174.2h0.6M318.6,221.4h0.6M328.0,174.4h0.6M360.3,190.7h0.6M359.5,205.3h0.6M362.1,189.3h0.6M347.2,186.6h0.6M314.0,182.7h0.6M318.9,215.3h0.6M340.4,207.6h0.6M325.2,173.3h0.6M353.7,172.4h0.6M343.8,206.8h0.6M352.7,176.5h0.6M324.2,204.4h0.6M338.5,169.2h0.6M356.2,176.4h0.6M365.0,174.9h0.6M330.1,191.4h0.6M329.5,195.9h0.6M353.3,178.2h0.6M320.9,178.6h0.6M360.3,202.0h0.6M332.7,180.2h0.6M328.8,172.5h0.6M320.0,208.2h0.6M360.2,168.6h0.6M349.4,217.1h0.6M356.4,190.0h0.6M335.7,199.8h0.6M360.5,174.9h0.6M342.9,207.9h0.6M349.3,181.3h0.6M365.6,195.0h0.6M350.5,212.3h0.6M309.4,186.1h0.6M358.2,175.2h0.6M325.4,180.3h0.6M340.4,190.1h0.6M322.3,190.9h0.6M320.4,208.5h0.6M359.9,206.1h0.6M329.0,181.4h0.6M338.0,188.3h0.6M341.5,206.1h0.6M327.3,168.1h0.6M335.4,182.8h0.6M321.0,174.1h0.6M335.3,204.1h0.6M353.2,205.3h0.6M354.7,191.4h0.6M348.2,174.4h0.6M325.9,180.5h0.6M352.4,175.1h0.6M341.6,200.8h0.6M321.2,176.8h0.6M314.6,184.1h0.6M351.4,205.8h0.6M318.7,189.8h0.6M313.9,201.5h0.6M337.3,207.0h0.6M329.2,194.4h0.6M336.7,177.5h0.6M316.0,202.3h0.6M317.3,211.5h0.6M337.1,175.9h0.6M311.4,175.2h0.6M317.2,224.2h0.6M351.6,191.3h0.6M342.8,202.1h0.6M323.7,175.4h0.6M339.6,183.4h0.6M335.3,171.2h0.6M312.5,199.7h0.6M327.1,209.7h0.6M314.7,212.2h0.6M344.9,200.9h0.6M352.6,213.0h0.6M320.4,217.3h0.6M309.2,215.1h0.6M359.1,186.5h0.6M342.3,186.9h0.6M332.8,172.4h0.6M341.2,211.2h0.6M357.3,166.8h0.6M325.1,192.0h0.6M323.2,208.0h0.6M333.3,182.9h0.6M330.2,217.5h0.6M316.1,222.8h0.6M354.1,197.9h0.6M325.5,211.2h0.6M320.3,209.6h0.6M343.7,176.1h0.6M320.7,169.7h0.6M334.8,192.2h0.6M346.1,199.0h0.6M338.2,199.2h0.6M312.2,174.6h0.6M333.6,205.0h0.6M339.4,191.4h0.6M339.2,192.6h0.6M312.9,218.6h0.6M326.6,213.3h0.6M326.1,198.7h0.6M315.3,180.4h0.6M329.3,201.2h0.6M318.3,211.7h0.6M320.5,166.1h0.6M359.1,188.4h0.6M348.0,186.0h0.6M328.3,193.2h0.6M344.7,178.8h0.6M318.8,207.5h0.6M342.1,173.9h0.6M349.9,191.4h0.6M313.3,203.0h0.6M337.0,182.4h0.6M339.3,177.0h0.6M336.2,173.4h0.6M318.6,182.7h0.6M328.9,203.5h0.6M356.4,214.6h0.6M324.4,217.9h0.6M343.8,206.9h0.6M340.5,176.5h0.6M316.5,206.1h0.6M319.9,188.1h0.6M335.9,187.6h0.6M321.9,180.9h0.6M340.6,203.8h0.6M331.5,218.5h0.6M361.4,216.6h0.6M309.2,197.0h0.6M365.9,193.0h0.6M352.1,201.7h0.6M324.3,208.7h0.6M320.6,210.3h0.6M313.0,197.5h0.6M325.3,179.3h0.6M316.1,192.8h0.6M342.7,195.2h0.6M362.6,200.1h0.6M318.1,209.1h0.6M313.2,214.1h0.6M325.5,178.6h0.6M332.9,200.6h0.6M349.9,188.9h0.6M356.9,178.4h0.6M327.8,197.2h0.6M318.8,178.2h0.6M361.7,179.7h0.6M312.2,183.9h0.6M360.8,195.7h0.6M365.0,169.5h0.6M332.4,185.3h0.6M340.4,192.4h0.6M340.0,192.3h0.6M348.6,174.5h0.6M334.7,193.6h0.6M339.6,175.2h0.6M334.6,169.6h0.6M350.9,203.5h0.6M350.8,167.0h0.6M337.0,212.6h0.6M364.6,173.6h0.6M315.6,216.7h0.6M350.1,180.0h0.6M339.5,194.5h0.6M324.1,203.4h0.6M355.6,193.4h0.6M326.2,204.1h0.6M360.4,175.6h0.6M346.2,173.7h0.6M311.0,217.2h0.6M324.4,187.8h0.6M357.5,206.3h0.6M331.4,188.6h0.6M326.1,200.4h0.6M338.5,170.3h0.6M354.4,208.2h0.6M340.0,179.1h0.6M358.0,201.3h0.6M344.1,209.2h0.6M348.1,168.1h0.6M335.0,205.1h0.6M332.1,189.7h0.6M319.8,195.2h0.6M341.2,196.3h0.6M315.4,223.3h0.6M331.1,197.4h0.6M343.2,190.3h0.6M322.3,189.8h0.6M336.0,182.4h0.6M363.3,196.3h0.6M342.0,182.1h0.6M330.9,217.3h0.6M338.0,190.3h0.6M341.3,198.9h0.6M331.9,185.9h0.6M326.0,214.1h0.6M320.1,227.0h0.6M310.1,212.9h0.6M325.9,183.8h0.6M356.9,202.5h0.6M358.7,206.9h0.6M349.3,203.1h0.6M312.9,184.3h0.6M320.1,199.3h0.6M332.9,178.2h0.6M335.7,191.4h0.6M344.7,199.2h0.6M365.3,213.8h0.6M331.8,190.1h0.6M311.7,221.8h0.6M365.0,195.2h0.6M319.1,200.9h0.6M317.2,172.7h0.6M363.4,207.4h0.6M341.3,218.8h0.6M351.9,192.4h0.6M316.8,190.7h0.6M337.8,175.1h0.6M356.1,204.6h0.6M338.5,209.9h0.6M354.9,181.9h0.6M324.1,170.3h0.6M349.2,202.7h0.6M323.9,185.0h0.6M352.6,190.4h0.6M334.7,192.0h0.6M319.7,217.2h0.6M317.9,173.6h0.6M338.5,195.0h0.6M355.7,180.7h0.6M335.7,170.1h0.6M336.9,186.0h0.6M325.8,197.1h0.6M332.5,202.2h0.6M352.3,220.0h0.6M327.4,206.9h0.6M315.5,173.0h0.6M348.7,174.6h0.6M345.2,176.3h0.6M326.4,182.3h0.6M363.9,202.0h0.6M349.3,199.7h0.6M340.5,215.9h0.6M309.1,215.9h0.6M365.8,175.7h0.6M365.5,217.1h0.6M365.4,218.9h0.6M346.4,215.1h0.6M323.6,180.5h0.6M356.0,176.7h0.6M315.7,186.8h0.6M362.7,178.9h0.6M319.8,174.2h0.6M347.1,178.9h0.6M340.7,179.3h0.6M326.3,194.2h0.6M354.0,193.4h0.6M323.3,193.5h0.6M359.7,210.3h0.6M330.3,175.6h0.6M357.4,206.4h0.6M332.0,215.7h0.6M335.2,193.4h0.6M320.2,195.6h0.6M335.3,184.3h0.6M318.0,199.2h0.6M312.6,223.8h0.6M358.7,172.3h0.6M326.0,223.5h0.6M320.7,174.9h0.6M340.2,171.7h0.6M350.6,171.9h0.6M349.5,173.1h0.6M344.7,205.8h0.6M318.6,196.4h0.6M359.9,197.3h0.6M352.0,206.8h0.6M329.0,182.6h0.6M347.9,186.1h0.6M327.3,189.1h0.6M333.1,185.6h0.6M343.2,181.2h0.6M358.0,195.2h0.6M323.5,192.8h0.6M355.1,201.4h0.6M328.3,186.9h0.6M364.3,208.4h0.6M313.6,211.7h0.6M365.9,192.6h0.6M344.6,195.1h0.6M361.1,203.8h0.6M347.3,209.4h0.6M346.7,187.9h0.6M352.0,201.5h0.6M326.5,199.0h0.6M334.7,193.7h0.6M323.2,198.6h0.6M323.1,226.9h0.6M333.9,177.1h0.6M343.7,221.5h0.6M325.2,193.8h0.6M324.5,221.5h0.6M360.9,170.9h0.6M362.7,176.5h0.6M359.2,179.3h0.6M365.6,193.9h0.6M318.3,208.8h0.6M342.1,167.0h0.6M312.8,205.1h0.6M342.5,197.8h0.6M341.0,215.8h0.6M354.1,184.5h0.6M361.9,190.9h0.6M326.4,188.5h0.6M358.6,213.5h0.6M313.8,204.9h0.6M356.9,178.2h0.6M359.2,214.6h0.6M317.9,208.7h0.6M320.0,174.2h0.6M310.2,188.3h0.6M320.8,192.8h0.6M312.9,215.1h0.6M351.0,185.7h0.6M348.4,172.1h0.6M339.8,179.5h0.6M319.8,212.6h0.6M315.1,189.4h0.6M325.2,194.2h0.6M351.4,180.9h0.6M343.2,189.8h0.6M336.5,212.3h0.6M321.7,215.0h0.6M325.4,224.2h0.6M351.0,190.0h0.6M357.9,173.9h0.6M311.4,210.6h0.6M342.2,180.8h0.6M312.4,193.1h0.6M342.2,213.0h0.6M342.1,213.6h0.6M327.2,172.9h0.6M362.9,218.9h0.6M342.1,186.5h0.6M357.9,219.0h0.6M329.0,205.3h0.6M361.1,221.2h0.6M314.7,223.7h0.6M332.9,174.5h0.6M361.9,214.4h0.6M313.5,219.2h0.6M318.3,223.9h0.6M320.2,170.9h0.6M349.6,220.1h0.6M349.3,213.9h0.6M336.4,216.6h0.6M348.8,184.7h0.6M326.9,203.3h0.6M328.9,181.4h0.6M362.1,177.3h0.6M352.5,208.4h0.6M313.3,174.6h0.6M317.9,195.4h0.6M339.6,210.4h0.6M355.1,204.4h0.6M328.6,174.4h0.6M319.1,193.6h0.6M362.9,217.9h0.6M325.3,186.0h0.6M362.0,181.9h0.6M338.3,211.4h0.6M345.2,187.8h0.6M325.1,199.8h0.6M313.8,171.7h0.6M360.9,203.5h0.6M342.0,183.9h0.6M363.1,218.5h0.6M327.9,192.5h0.6M324.4,201.2h0.6M320.6,186.6h0.6M331.8,195.2h0.6M330.8,186.4h0.6M355.6,210.0h0.6M321.1,221.8h0.6M341.7,181.1h0.6M342.8,173.1h0.6M351.7,211.1h0.6M340.0,172.7h0.6M350.4,171.4h0.6M344.1,217.4h0.6M341.0,215.2h0.6M360.3,209.9h0.6M331.8,209.0h0.6M330.2,181.0h0.6M316.3,167.1h0.6M331.8,191.4h0.6M311.8,184.9h0.6M321.5,210.0h0.6M326.5,214.0h0.6M356.0,217.9h0.6M343.8,213.5h0.6M339.1,170.3h0.6M350.3,176.7h0.6M364.4,209.2h0.6M345.3,184.3h0.6M321.0,202.7h0.6M344.9,203.0h0.6M356.4,191.5h0.6M325.5,202.7h0.6M323.5,206.0h0.6M323.3,191.2h0.6M353.3,212.6h0.6M335.1,200.9h0.6M343.2,183.7h0.6M320.2,192.4h0.6M327.9,181.0h0.6M321.6,226.3h0.6M364.1,199.2h0.6M314.4,201.8h0.6M333.0,204.4h0.6M349.2,189.3h0.6M331.2,167.7h0.6M338.1,207.8h0.6M352.9,204.3h0.6M355.3,210.3h0.6M365.5,197.7h0.6M319.9,170.7h0.6M349.0,217.8h0.6M358.6,204.3h0.6M364.3,166.7h0.6M344.9,198.2h0.6M348.1,168.8h0.6M337.6,174.0h0.6M358.0,185.9h0.6M335.9,188.6h0.6M334.2,191.1h0.6M352.5,199.1h0.6M315.4,196.9h0.6M338.9,216.9h0.6M325.1,215.6h0.6M340.3,189.3h0.6M337.9,170.3h0.6M359.6,182.1h0.6M328.2,189.8h0.6M347.9,168.1h0.6M324.6,183.7h0.6M311.2,196.4h0.6M330.2,174.3h0.6M361.6,197.4h0.6M347.6,212.8h0.6M324.0,219.8h0.6M323.8,197.2h0.6M351.6,174.4h0.6M350.4,181.8h0.6M332.6,172.4h0.6M333.6,191.4h0.6M360.0,173.8h0.6M314.8,211.3h0.6M318.3,174.8h0.6M322.8,199.6h0.6M343.7,184.1h0.6M353.5,172.4h0.6M313.9,185.9h0.6M355.2,187.3h0.6M345.0,216.6h0.6M348.3,200.4h0.6M320.2,171.8h0.6M321.5,169.7h0.6M325.1,174.5h0.6M353.5,198.9h0.6M331.7,192.7h0.6M365.2,173.1h0.6M346.1,195.9h0.6M323.8,197.5h0.6M359.9,184.1h0.6M354.3,181.3h0.6M331.7,216.4h0.6M334.7,192.7h0.6M359.8,207.1h0.6M347.5,219.3h0.6M323.6,220.1h0.6M319.2,183.7h0.6M352.4,210.9h0.6M338.4,218.5h0.6M327.4,188.5h0.6M363.0,182.9h0.6M355.2,207.6h0.6M346.9,207.6h0.6M318.7,204.8h0.6M313.4,190.2h0.6M342.6,182.0h0.6M326.6,193.3h0.6M352.2,186.5h0.6M333.5,214.5h0.6M327.8,175.1h0.6M348.4,216.9h0.6M321.7,185.0h0.6M320.6,223.6h0.6M322.1,205.1h0.6M313.2,186.9h0.6M310.4,182.1h0.6M329.0,171.0h0.6M332.8,201.0h0.6M325.2,175.7h0.6M323.2,185.8h0.6M325.0,200.6h0.6M328.8,170.1h0.6M364.6,208.8h0.6M352.0,210.5h0.6M357.4,193.9h0.6M345.1,214.4h0.6M350.1,199.7h0.6M359.6,198.8h0.6M334.1,204.8h0.6M337.4,182.2h0.6M351.8,172.0h0.6M319.6,207.5h0.6M351.4,182.4h0.6M343.6,204.5h0.6M318.9,218.4h0.6M322.4,222.0h0.6M315.7,182.1h0.6M341.4,177.4h0.6M311.8,179.8h0.6M349.3,192.9h0.6M340.9,212.8h0.6M325.3,177.9h0.6M321.8,190.6h0.6M353.8,209.1h0.6M357.0,193.0h0.6M342.2,190.0h0.6M327.3,171.9h0.6M319.5,195.7h0.6M335.6,216.3h0.6M326.9,193.0h0.6M363.1,193.4h0.6M350.4,168.5h0.6M357.9,173.9h0.6M333.2,221.2h0.6M317.3,178.2h0.6M335.6,211.6h0.6M324.9,190.6h0.6M354.4,199.6h0.6M340.7,214.9h0.6M313.4,173.5h0.6M346.7,184.9h0.6M345.9,215.7h0.6M310.6,221.6h0.6M348.5,199.0h0.6M322.9,170.1h0.6M319.7,221.6h0.6M353.9,194.7h0.6M354.9,214.6h0.6M350.9,206.7h0.6M352.7,201.4h0.6M324.3,198.1h0.6M325.2,184.1h0.6M328.4,196.3h0.6M311.1,190.4h0.6M323.5,181.5h0.6M349.7,212.6h0.6M352.8,210.0h0.6M325.8,173.7h0.6M354.8,203.3h0.6M351.6,204.8h0.6M316.2,174.7h0.6M313.6,220.7h0.6M326.7,197.7h0.6M316.5,179.7h0.6M312.8,211.0h0.6M318.8,179.0h0.6M353.2,201.5h0.6M339.7,209.0h0.6M317.9,220.9h0.6M333.3,187.8h0.6M320.0,171.6h0.6M337.4,171.4h0.6M323.9,217.0h0.6M334.3,198.7h0.6M342.4,208.1h0.6M348.4,180.2h0.6M362.1,172.5h0.6M328.2,214.1h0.6M322.5,195.6h0.6M327.3,175.9h0.6M359.5,199.7h0.6M351.9,209.8h0.6M353.5,199.9h0.6M338.3,197.4h0.6M325.5,198.5h0.6M327.6,176.3h0.6M323.9,205.8h0.6M321.0,177.4h0.6M360.7,209.7h0.6M321.7,209.7h0.6M334.9,202.4h0.6M313.8,178.5h0.6M327.2,208.7h0.6M314.6,208.4h0.6M314.7,212.1h0.6M311.7,222.1h0.6M354.8,217.7h0.6M347.4,179.8h0.6M344.8,182.0h0.6M323.8,211.3h0.6M322.7,202.1h0.6M316.1,207.8h0.6M361.7,187.2h0.6M338.5,212.4h0.6M317.6,175.2h0.6M337.0,166.9h0.6M358.9,209.1h0.6M318.4,202.0h0.6M322.3,196.7h0.6M352.1,172.2h0.6M338.0,185.9h0.6M361.7,167.9h0.6M342.9,181.6h0.6M338.1,210.3h0.6M323.1,178.2h0.6M330.7,193.9h0.6M324.3,179.5h0.6M321.2,198.5h0.6M350.7,179.1h0.6M335.2,171.9h0.6M360.6,192.2h0.6M326.7,218.3h0.6M332.7,200.9h0.6M348.9,204.6h0.6M347.9,210.5h0.6M325.4,201.3h0.6M332.1,178.1h0.6M315.7,174.4h0.6M314.2,190.9h0.6M348.1,211.4h0.6M335.0,206.4h0.6M324.9,189.2h0.6M323.8,223.6h0.6M318.7,177.7h0.6M347.3,184.3h0.6M343.7,181.3h0.6M311.4,187.0h0.6M355.8,218.3h0.6M340.9,220.4h0.6M341.7,202.0h0.6M341.8,201.1h0.6M336.9,193.8h0.6M355.2,184.4h0.6M353.3,185.8h0.6M349.9,217.8h0.6M360.7,210.8h0.6M330.0,208.4h0.6M352.0,182.5h0.6M334.4,215.5h0.6M312.7,181.8h0.6M321.2,219.6h0.6M335.4,199.7h0.6M350.1,202.3h0.6M360.9,169.9h0.6M360.1,182.1h0.6M326.7,213.4h0.6M355.4,194.0h0.6M342.3,202.4h0.6M324.9,203.1h0.6M348.2,189.0h0.6M314.5,207.6h0.6M358.6,174.6h0.6M365.7,186.5h0.6M332.6,196.7h0.6M349.0,181.1h0.6M333.3,204.8h0.6M324.7,219.0h0.6M324.9,199.9h0.6M317.4,224.6h0.6M312.0,208.2h0.6M364.2,177.5h0.6M327.7,200.9h0.6M324.0,190.6h0.6M320.8,177.6h0.6M347.4,167.2h0.6M345.8,199.6h0.6M332.0,180.8h0.6M311.2,191.8h0.6M336.0,172.6h0.6M323.5,215.1h0.6M343.2,210.0h0.6M350.1,173.4h0.6M334.0,209.8h0.6M315.0,200.3h0.6M314.7,189.0h0.6M361.5,209.3h0.6M360.9,192.7h0.6M317.0,185.3h0.6M320.7,211.5h0.6M362.0,214.6h0.6M314.5,208.9h0.6M342.0,218.5h0.6M343.1,198.4h0.6M334.5,186.9h0.6M350.7,197.5h0.6M353.9,182.1h0.6M328.4,204.6h0.6M326.0,202.8h0.6M357.5,195.3h0.6M341.0,193.6h0.6M343.9,210.0h0.6M318.4,170.4h0.6M315.2,186.4h0.6M331.2,191.3h0.6M318.5,176.6h0.6M361.6,194.7h0.6M314.3,195.8h0.6M318.1,183.2h0.6M341.7,197.4h0.6M324.4,179.4h0.6M341.6,184.0h0.6M363.4,220.1h0.6M335.7,214.9h0.6M359.3,171.1h0.6M333.5,188.5h0.6M348.5,196.7h0.6M327.8,196.3h0.6M322.0,176.0h0.6M337.9,188.0h0.6M318.8,190.3h0.6M327.3,191.6h0.6M327.0,205.2h0.6M356.2,186.6h0.6M345.0,212.8h0.6M360.5,178.0h0.6M327.5,196.4h0.6M310.9,225.2h0.6M330.1,180.8h0.6M334.6,194.7h0.6M365.7,200.8h0.6M332.8,214.4h0.6M341.0,204.6h0.6M314.9,220.0h0.6M347.5,195.3h0.6M345.0,188.5h0.6M319.6,212.3h0.6M314.5,184.8h0.6M313.7,208.4h0.6M328.4,216.7h0.6M319.0,198.2h0.6M338.0,169.4h0.6M343.2,188.7h0.6M338.9,207.5h0.6M327.6,174.4h0.6M313.1,177.4h0.6M332.9,194.0h0.6M324.3,172.2h0.6M364.1,184.5h0.6M311.3,187.7h0.6M318.0,198.8h0.6M322.7,186.0h0.6M336.6,174.9h0.6M330.0,183.2h0.6M336.5,167.1h0.6M324.6,184.5h0.6M360.7,184.9h0.6M351.7,180.6h0.6M331.5,173.0h0.6M313.8,187.9h0.6M321.3,186.5h0.6M346.6,213.0h0.6M315.6,192.9h0.6M329.6,175.3h0.6M315.7,192.8h0.6M314.0,192.3h0.6M356.9,211.2h0.6M354.5,185.7h0.6M317.6,188.1h0.6M356.9,203.1h0.6M362.6,174.4h0.6M333.4,214.9h0.6M323.6,220.3h0.6M321.8,198.0h0.6M358.7,203.7h0.6M341.4,217.5h0.6M320.3,193.7h0.6M310.5,182.2h0.6M344.1,207.2h0.6M341.7,185.5h0.6M321.3,215.6h0.6M361.6,179.9h0.6M348.5,178.2h0.6M325.4,194.5h0.6M344.5,206.1h0.6M349.9,212.6h0.6M315.9,224.6h0.6M356.7,174.2h0.6M335.5,197.7h0.6M322.1,191.7h0.6M337.0,213.6h0.6M358.6,213.1h0.6M313.4,199.1h0.6M323.1,219.4h0.6M351.0,203.9h0.6M338.8,220.5h0.6M341.2,170.4h0.6M335.1,206.5h0.6M327.1,189.2h0.6M316.8,173.1h0.6M343.8,195.4h0.6M357.7,194.1h0.6M336.5,179.0h0.6M312.3,216.7h0.6M349.0,184.8h0.6M331.0,192.4h0.6M341.4,212.4h0.6M330.1,198.6h0.6M315.0,209.6h0.6M314.2,206.9h0.6M320.5,175.3h0.6M360.8,204.4h0.6M321.6,208.0h0.6M329.2,195.4h0.6M333.4,203.2h0.6M320.5,180.5h0.6M331.5,212.2h0.6M345.2,189.8h0.6M365.1,181.5h0.6M321.4,186.9h0.6M311.2,200.0h0.6M341.0,189.3h0.6M340.5,198.3h0.6M314.1,205.8h0.6M359.3,205.9h0.6M311.8,180.9h0.6M359.3,211.8h0.6M337.1,206.2h0.6M337.9,208.4h0.6M313.1,190.6h0.6M334.0,186.9h0.6M347.2,183.0h0.6M348.6,220.5h0.6M332.4,176.4h0.6M323.1,186.6h0.6M313.5,200.0h0.6M358.5,181.3h0.6M328.3,187.3h0.6M322.7,218.2h0.6M315.7,204.9h0.6M346.2,180.6h0.6M339.7,178.0h0.6M349.7,204.1h0.6M337.5,176.3h0.6M360.3,194.8h0.6M351.9,170.7h0.6M310.4,223.2h0.6M332.1,207.2h0.6M331.8,183.2h0.6M335.5,206.2h0.6M350.8,204.1h0.6M310.2,181.7h0.6M341.0,173.3h0.6M360.1,182.0h0.6M315.3,209.6h0.6M320.1,179.8h0.6M344.2,217.0h0.6M322.1,201.1h0.6M320.1,173.0h0.6M361.2,201.6h0.6M317.1,187.4h0.6M358.4,204.2h0.6M325.0,168.3h0.6M329.6,216.8h0.6M323.4,189.4h0.6M343.0,198.7h0.6M350.7,180.8h0.6M320.1,178.4h0.6M354.4,189.4h0.6M337.9,187.3h0.6M358.9,196.8h0.6M354.3,205.7h0.6M324.3,212.3h0.6M312.5,207.6h0.6M324.2,220.6h0.6M336.2,166.2h0.6M313.3,222.4h0.6M346.7,178.8h0.6M315.5,195.7h0.6M341.0,193.2h0.6M346.0,177.9h0.6M357.0,168.0h0.6M310.9,205.4h0.6M342.7,206.9h0.6M361.5,186.6h0.6M362.4,212.2h0.6M349.6,190.3h0.6M357.2,183.8h0.6M360.3,172.3h0.6M347.4,174.7h0.6M360.4,209.3h0.6M351.0,210.8h0.6M322.2,193.0h0.6M337.6,173.0h0.6M343.7,188.8h0.6M357.1,179.8h0.6M323.2,204.6h0.6M341.9,186.2h0.6M315.1,168.2h0.6M366.0,197.1h0.6M339.2,175.3h0.6M324.0,223.9h0.6M325.4,196.8h0.6M361.7,171.7h0.6M361.4,167.6h0.6M313.4,172.1h0.6M312.1,207.1h0.6M319.4,180.8h0.6M318.2,225.1h0.6M330.8,207.0h0.6M322.2,222.8h0.6M358.1,202.8h0.6M312.5,218.7h0.6M326.4,193.2h0.6M332.6,211.7h0.6M313.3,210.5h0.6M351.3,172.9h0.6M329.2,216.3h0.6M363.3,192.6h0.6M314.3,223.0h0.6M365.1,196.0h0.6M348.9,185.7h0.6M336.4,186.3h0.6M361.1,194.7h0.6M359.1,184.5h0.6M320.8,172.9h0.6M320.4,199.1h0.6M327.4,206.2h0.6M329.9,193.3h0.6M329.0,212.3h0.6M344.5,170.6h0.6M314.3,190.3h0.6M351.7,192.5h0.6M341.1,168.5h0.6M352.7,219.8h0.6M353.7,184.8h0.6M309.4,225.5h0.6M360.5,202.8h0.6M329.2,221.5h0.6M323.5,169.2h0.6M331.3,205.2h0.6M354.8,199.2h0.6M360.8,185.1h0.6M319.0,194.0h0.6M343.4,193.7h0.6M333.9,206.7h0.6M324.7,200.8h0.6M329.6,208.6h0.6M336.1,220.7h0.6M343.4,214.6h0.6M321.0,185.4h0.6M359.2,186.5h0.6M345.7,184.5h0.6M348.3,202.7h0.6M318.6,203.6h0.6M321.6,189.9h0.6M351.3,210.9h0.6M326.0,194.8h0.6M325.1,184.4h0.6M312.7,177.4h0.6M358.8,205.5h0.6M326.6,180.8h0.6M355.7,212.9h0.6M315.6,178.6h0.6M337.4,195.2h0.6M327.8,199.5h0.6M329.2,189.2h0.6M323.2,207.3h0.6M336.2,221.2h0.6M320.6,193.9h0.6M334.2,189.0h0.6M330.6,184.9h0.6M351.6,175.1h0.6M338.2,221.2h0.6M318.2,189.0h0.6M322.9,202.5h0.6M335.9,173.1h0.6M353.0,191.1h0.6M354.9,183.4h0.6M327.5,197.8h0.6M362.8,217.2h0.6M359.5,195.3h0.6M333.2,198.6h0.6M316.5,206.8h0.6M351.5,201.2h0.6M322.0,209.5h0.6M314.5,173.9h0.6M353.6,195.8h0.6M328.7,179.3h0.6M320.1,181.5h0.6M322.0,186.3h0.6M319.5,185.4h0.6M318.1,170.3h0.6M342.7,196.6h0.6M321.6,174.8h0.6M330.0,203.2h0.6M310.1,213.5h0.6M350.7,215.2h0.6M365.6,185.1h0.6M319.4,170.2h0.6M354.3,206.6h0.6M327.5,211.2h0.6M363.5,178.7h0.6M314.6,207.5h0.6M338.6,182.2h0.6M323.6,175.7h0.6M343.6,199.6h0.6M348.4,214.9h0.6M335.6,174.1h0.6M358.5,175.1h0.6M338.1,201.8h0.6M333.2,200.2h0.6M361.9,200.4h0.6M329.2,182.5h0.6M355.7,213.1h0.6M343.5,184.1h0.6M340.7,172.2h0.6M337.6,214.2h0.6M350.0,189.2h0.6M340.2,214.7h0.6M359.2,187.9h0.6M354.6,208.3h0.6M358.7,207.3h0.6M349.6,196.4h0.6M361.0,216.6h0.6M334.7,193.4h0.6M329.6,189.0h0.6M360.1,170.9h0.6M350.8,214.4h0.6M366.0,218.1h0.6M339.9,193.8h0.6M330.6,185.6h0.6M319.9,175.2h0.6M346.2,205.2h0.6M330.1,218.3h0.6M359.8,170.5h0.6M334.2,212.3h0.6M338.4,192.1h0.6M343.4,185.9h0.6M314.4,226.3h0.6M364.7,172.6h0.6M349.7,193.0h0.6M314.5,168.0h0.6M309.7,195.0h0.6M350.8,194.5h0.6M351.0,183.5h0.6M362.4,171.4h0.6M348.2,172.6h0.6M355.5,178.8h0.6M312.9,189.5h0.6M359.6,191.1h0.6M346.2,188.9h0.6M322.5,187.2h0.6M343.7,178.8h0.6M329.6,182.9h0.6M363.3,192.1h0.6M333.5,198.4h0.6M328.7,209.4h0.6M334.6,176.9h0.6M332.0,177.7h0.6M353.1,209.1h0.6M350.6,197.9h0.6M354.3,183.3h0.6M320.8,198.6h0.6M321.4,176.6h0.6M326.4,186.3h0.6M343.0,183.6h0.6M312.6,180.9h0.6M312.7,210.2h0.6M338.5,179.6h0.6M351.4,206.5h0.6M350.6,215.6h0.6M362.5,221.0h0.6M338.7,170.1h0.6M337.8,220.3h0.6M361.6,215.9h0.6M311.2,198.6h0.6M336.4,195.4h0.6M344.0,216.9h0.6M323.7,200.3h0.6M350.0,198.1h0.6M319.8,219.5h0.6M344.0,202.8h0.6M343.2,181.3h0.6M337.6,208.4h0.6M343.6,206.8h0.6M353.0,211.1h0.6M329.9,216.5h0.6M332.2,205.3h0.6M340.3,213.8h0.6M321.0,188.3h0.6M352.4,211.0h0.6M321.8,221.7h0.6M353.7,200.3h0.6M331.8,167.2h0.6M350.3,178.5h0.6M318.4,210.4h0.6M315.0,222.4h0.6M359.0,182.8h0.6M358.9,179.9h0.6M335.1,221.4h0.6M335.8,188.0h0.6M345.8,186.2h0.6M356.8,208.5h0.6M323.8,201.0h0.6M365.3,204.3h0.6M343.0,208.8h0.6M326.6,172.4h0.6M359.3,201.4h0.6M353.7,170.4h0.6M346.0,190.4h0.6M354.5,215.5h0.6M344.2,202.1h0.6M336.1,208.3h0.6M333.7,188.9h0.6M341.0,212.4h0.6M316.8,181.4h0.6M347.3,210.5h0.6M336.2,173.1h0.6M346.5,171.9h0.6M336.1,211.6h0.6M345.5,197.0h0.6M352.8,210.6h0.6M355.3,217.8h0.6M333.0,213.4h0.6M361.1,169.5h0.6M327.0,192.3h0.6M325.1,222.9h0.6M315.6,205.9h0.6M356.0,179.5h0.6M316.7,171.2h0.6M360.0,186.8h0.6M365.9,215.9h0.6M312.8,215.3h0.6M331.1,202.5h0.6M357.0,176.4h0.6M337.2,220.8h0.6M329.4,172.6h0.6M334.6,193.6h0.6M329.1,167.5h0.6M334.3,215.4h0.6M364.6,188.2h0.6M349.7,183.1h0.6M323.8,184.7h0.6M318.8,184.5h0.6M316.1,180.9h0.6M340.4,207.3h0.6M336.2,202.4h0.6M339.9,213.5h0.6M353.7,172.9h0.6M345.2,209.7h0.6M355.0,184.6h0.6M346.9,194.7h0.6M346.7,217.9h0.6M333.0,175.4h0.6M341.3,176.9h0.6M355.8,173.1h0.6M362.3,213.9h0.6M334.6,197.1h0.6M347.5,173.9h0.6M347.3,213.8h0.6M351.9,215.5h0.6M318.6,171.8h0.6M346.6,212.3h0.6M321.8,218.9h0.6M319.8,167.9h0.6M342.6,203.9h0.6M346.5,189.5h0.6M352.1,216.1h0.6M361.0,203.7h0.6M333.9,207.0h0.6M339.4,192.0h0.6M318.5,210.2h0.6M351.7,187.3h0.6M336.6,206.2h0.6M352.2,176.0h0.6M357.1,207.3h0.6M332.9,170.7h0.6M354.4,216.9h0.6M351.2,203.6h0.6M345.9,188.4h0.6M362.2,166.5h0.6M365.4,213.5h0.6M344.1,194.5h0.6M313.3,203.1h0.6M350.9,187.5h0.6M354.1,207.7h0.6M352.1,180.7h0.6M322.4,185.5h0.6M311.0,183.4h0.6M355.7,207.9h0.6M315.3,213.0h0.6M336.2,208.3h0.6M314.6,190.5h0.6M347.1,208.0h0.6M339.8,170.9h0.6M311.1,226.4h0.6M342.8,193.8h0.6M340.8,186.9h0.6M311.7,204.6h0.6M361.8,199.3h0.6M349.8,208.8h0.6M335.9,210.0h0.6M316.2,200.2h0.6M362.2,169.8h0.6M319.6,173.1h0.6M357.9,194.7h0.6M334.6,220.9h0.6M324.0,205.9h0.6M355.3,198.3h0.6M347.7,201.5h0.6M342.6,203.9h0.6M318.9,187.2h0.6M316.2,168.1h0.6M358.9,168.8h0.6M364.4,209.9h0.6M310.9,179.2h0.6M339.5,202.2h0.6M341.7,197.8h0.6M322.1,208.2h0.6M322.6,207.7h0.6M353.8,203.0h0.6M312.3,170.4h0.6M343.0,172.2h0.6M335.6,199.0h0.6M360.8,200.3h0.6M331.0,205.8h0.6M327.8,180.2h0.6M312.7,180.5h0.6M344.0,195.7h0.6M326.5,189.2h0.6M349.8,217.2h0.6M322.2,217.1h0.6M364.7,198.1h0.6M339.0,198.6h0.6M320.9,207.5h0.6M330.4,206.5h0.6M339.0,179.9h0.6M355.4,195.2h0.6M346.6,170.5h0.6M328.1,212.6h0.6M326.9,217.2h0.6M316.8,180.2h0.6M352.6,212.7h0.6M322.4,221.9h0.6M315.1,189.6h0.6M324.7,203.9h0.6M342.8,208.0h0.6M343.6,172.2h0.6M337.4,203.1h0.6M363.6,221.3h0.6M324.7,216.4h0.6M323.3,175.2h0.6M361.3,208.0h0.6M330.8,192.6h0.6M319.7,221.7h0.6M358.8,206.0h0.6M350.8,197.4h0.6M340.0,211.1h0.6M354.9,186.5h0.6M333.4,204.1h0.6M313.2,192.6h0.6M334.3,170.3h0.6M364.5,216.6h0.6M332.1,211.7h0.6M326.2,196.4h0.6M361.7,219.5h0.6M359.0,214.5h0.6M313.1,193.7h0.6M323.1,202.5h0.6M327.8,183.0h0.6M324.0,189.1h0.6M352.5,183.3h0.6M324.3,224.1h0.6M313.3,200.0h0.6M360.8,179.1h0.6M354.1,181.2h0.6M329.9,219.5h0.6M315.5,208.6h0.6M339.9,197.9h0.6M314.8,216.3h0.6M347.8,206.3h0.6M310.6,179.1h0.6M326.0,202.1h0.6M322.0,171.9h0.6M341.7,209.8h0.6M348.2,179.5h0.6M318.3,214.3h0.6M364.0,202.2h0.6M359.0,186.5h0.6M345.9,180.1h0.6M327.6,175.1h0.6M353.6,216.7h0.6M323.8,200.8h0.6M346.9,181.5h0.6M349.9,221.4h0.6M330.2,209.4h0.6M319.7,190.9h0.6M347.9,198.9h0.6M355.7,215.2h0.6M346.5,173.7h0.6M336.0,178.6h0.6M346.9,187.5h0.6M328.7,209.2h0.6M354.6,171.2h0.6M341.7,171.3h0.6M315.5,194.6h0.6M313.9,194.4h0.6M314.1,211.2h0.6M341.2,188.3h0.6M315.2,192.1h0.6M364.4,189.4h0.6M350.2,173.5h0.6M356.5,178.8h0.6M313.5,213.1h0.6M322.7,210.4h0.6M312.8,179.9h0.6M319.6,194.4h0.6M331.7,201.5h0.6M337.6,218.0h0.6M325.8,211.7h0.6M344.1,195.2h0.6M357.1,192.2h0.6M323.3,223.0h0.6M362.4,217.1h0.6M349.9,182.1h0.6M351.6,184.3h0.6M348.9,175.5h0.6M333.7,184.3h0.6M336.7,182.4h0.6M313.1,217.0h0.6M310.9,213.2h0.6M364.8,193.1h0.6M310.6,199.9h0.6M347.3,204.2h0.6M320.4,179.8h0.6M328.1,201.1h0.6M333.2,174.1h0.6M319.1,207.7h0.6M357.1,170.8h0.6M332.6,200.0h0.6M316.1,218.7h0.6M330.2,206.7h0.6M341.8,170.2h0.6M336.1,172.3h0.6M315.7,197.2h0.6M346.1,194.4h0.6M323.2,188.3h0.6M323.2,187.4h0.6M364.7,213.6h0.6M315.3,197.9h0.6M353.5,182.1h0.6M359.6,179.2h0.6M344.3,196.9h0.6M329.1,178.1h0.6M358.0,200.2h0.6M362.7,204.7h0.6M315.3,203.8h0.6M358.1,219.7h0.6M361.8,181.2h0.6M313.6,187.5h0.6M358.9,175.4h0.6M321.9,209.7h0.6M319.4,215.0h0.6M325.4,176.3h0.6M360.5,186.5h0.6M328.6,194.0h0.6M319.4,170.6h0.6M337.8,190.3h0.6M332.1,203.6h0.6M311.7,222.2h0.6M329.6,187.5h0.6M315.0,206.0h0.6M363.0,169.1h0.6M362.7,217.4h0.6M317.1,216.7h0.6M335.0,197.6h0.6M334.3,200.0h0.6M337.0,218.1h0.6M361.5,178.8h0.6M335.2,174.8h0.6M311.1,204.6h0.6M322.7,193.9h0.6M326.4,184.3h0.6M341.1,184.1h0.6M330.5,214.2h0.6M311.9,198.4h0.6M354.8,187.4h0.6M321.4,177.1h0.6M320.8,194.3h0.6M344.9,219.1h0.6M320.6,210.8h0.6M332.4,210.9h0.6M360.5,205.0h0.6M321.1,222.1h0.6M341.1,189.4h0.6M329.1,205.3h0.6M315.2,185.1h0.6M350.5,203.6h0.6M330.1,181.9h0.6M324.8,198.2h0.6M340.0,198.4h0.6M359.9,207.1h0.6M337.0,191.4h0.6M339.3,216.8h0.6M336.6,175.5h0.6M312.5,211.6h0.6M357.2,203.8h0.6M348.6,204.1h0.6M334.5,191.7h0.6M324.6,191.8h0.6M324.3,182.0h0.6M316.0,192.1h0.6M347.4,176.7h0.6M334.9,166.9h0.6M337.8,173.8h0.6M356.5,176.4h0.6M350.9,169.2h0.6M320.2,201.5h0.6M331.0,191.4h0.6M330.1,213.9h0.6M329.9,178.3h0.6M320.7,214.3h0.6M345.6,166.2h0.6M345.5,167.5h0.6M360.5,167.2h0.6M312.0,184.4h0.6M333.5,172.2h0.6" stroke="#4050b8" stroke-width="0.6" opacity="0.55"/>
<path d="M311,176 C311.5,170 318,168 328,168.5 C337,168 346,168 354,170 C362,172 365,180 365.5,190 C366,201 364,210 358,216 C351,220.5 341,220.5 331,220 C329,222.5 327,226 322,226.5 C315,227 311,224 310.5,216 C310,205 310.5,186 311,176 Z" fill="#4252b4" opacity="0.6" filter="url(#b2)"/>
<path d="M313,177 C313.5,172 319,170.5 328,171 C336,170.5 344,170.5 352,172 C359,174 362,180 362.5,190 C363,200 361,209 356,214 C350,218 340,218 330,217.5 C328,220 326,223.5 322,224 C316,224.5 313,222 312.5,215 C312,205 312.5,186 313,177 Z" fill="#3444aa" opacity="0.95" filter="url(#b1)"/>
<ellipse cx="321.2" cy="179.2" rx="10" ry="8.6" fill="#30acd4" opacity="1" filter="url(#b1)" transform="rotate(-20 321.2 179.2)"/>
<ellipse cx="320" cy="205.8" rx="6" ry="14.5" fill="#30acd4" opacity="1" filter="url(#b1)"/>
<ellipse cx="322" cy="192" rx="4" ry="6" fill="#30acd4" opacity="0.8" filter="url(#b1)"/>
<ellipse cx="346.5" cy="191.7" rx="14.2" ry="14.2" fill="#2e40a8" opacity="1" filter="url(#b05)"/>
<ellipse cx="346.5" cy="191.7" rx="13" ry="13" fill="#34b0d8" opacity="1" filter="url(#b1)"/>
<ellipse cx="347.3" cy="191.7" rx="11" ry="11" fill="#70c848" opacity="1" filter="url(#b1)"/>
<ellipse cx="347.8" cy="191.4" rx="6.2" ry="6" fill="#ecd020" opacity="1" filter="url(#b1)"/>
<ellipse cx="347.8" cy="191.2" rx="3.2" ry="3" fill="#f07010" opacity="1" filter="url(#b05)"/>
<ellipse cx="321" cy="179.2" rx="7.4" ry="6.3" fill="#70c840" opacity="1" filter="url(#b1)" transform="rotate(-20 321 179.2)"/>
<ellipse cx="320.9" cy="179.2" rx="5.2" ry="4.4" fill="#f0b020" opacity="1" filter="url(#b05)" transform="rotate(-20 320.9 179.2)"/>
<ellipse cx="320.9" cy="179.2" rx="3.4" ry="2.8" fill="#e42010" opacity="1" filter="url(#b05)" transform="rotate(-20 320.9 179.2)"/>
<ellipse cx="319.5" cy="206.4" rx="4.2" ry="10" fill="#80cc40" opacity="1" filter="url(#b1)"/>
<ellipse cx="319.2" cy="206.4" rx="2" ry="5.2" fill="#f0d020" opacity="1" filter="url(#b05)"/>
</g>
<rect x="300.60" y="156.20" width="74.30" height="74.10" stroke="#444" stroke-width="0.8" fill="none" />
<circle cx="346.5" cy="191.7" r="14.25" fill="none" stroke="#222" stroke-width="0.8"/>
<line x1="299.00" y1="161.20" x2="300.60" y2="161.20" stroke="#333" stroke-width="0.7" />
<text x="297.00" y="163.30" font-size="6.2" text-anchor="end" fill="#333" stroke="#333">10<tspan font-size="4.46" dy="-2.4">5</tspan></text>
<line x1="299.00" y1="180.60" x2="300.60" y2="180.60" stroke="#333" stroke-width="0.7" />
<text x="297.00" y="182.70" font-size="6.2" text-anchor="end" fill="#333" stroke="#333">10<tspan font-size="4.46" dy="-2.4">4</tspan></text>
<line x1="299.00" y1="199.90" x2="300.60" y2="199.90" stroke="#333" stroke-width="0.7" />
<text x="297.00" y="202.00" font-size="6.2" text-anchor="end" fill="#333" stroke="#333">10<tspan font-size="4.46" dy="-2.4">3</tspan></text>
<line x1="299.00" y1="212.20" x2="300.60" y2="212.20" stroke="#333" stroke-width="0.7" />
<text x="297.00" y="214.30" font-size="6.2" text-anchor="end" fill="#333" stroke="#333">0</text>
<line x1="299.00" y1="226.20" x2="300.60" y2="226.20" stroke="#333" stroke-width="0.7" />
<text x="297.00" y="228.30" font-size="6.2" text-anchor="end" fill="#333" stroke="#333">−10<tspan font-size="4.46" dy="-2.4">3</tspan></text>
<line x1="304.90" y1="230.30" x2="304.90" y2="231.90" stroke="#333" stroke-width="0.7" />
<text x="304.90" y="239.50" font-size="6.2" text-anchor="middle" fill="#333" stroke="#333">−10<tspan font-size="4.46" dy="-2.4">3</tspan></text>
<line x1="317.70" y1="230.30" x2="317.70" y2="231.90" stroke="#333" stroke-width="0.7" />
<text x="317.70" y="239.50" font-size="6.2" text-anchor="middle" fill="#333" stroke="#333">0</text>
<line x1="330.00" y1="230.30" x2="330.00" y2="231.90" stroke="#333" stroke-width="0.7" />
<text x="330.00" y="239.50" font-size="6.2" text-anchor="middle" fill="#333" stroke="#333">10<tspan font-size="4.46" dy="-2.4">3</tspan></text>
<line x1="350.30" y1="230.30" x2="350.30" y2="231.90" stroke="#333" stroke-width="0.7" />
<text x="350.30" y="239.50" font-size="6.2" text-anchor="middle" fill="#333" stroke="#333">10<tspan font-size="4.46" dy="-2.4">4</tspan></text>
<line x1="368.00" y1="230.30" x2="368.00" y2="231.90" stroke="#333" stroke-width="0.7" />
<text x="368.00" y="239.50" font-size="6.2" text-anchor="middle" fill="#333" stroke="#333">10<tspan font-size="4.46" dy="-2.4">5</tspan></text>
<text x="303.1" y="151.5" font-size="8.7" fill="#222" stroke="#222" stroke-width="0.04" textLength="68.4" lengthAdjust="spacingAndGlyphs">CD21+<tspan font-size="4.8" dy="-3.6">dim</tspan><tspan dy="3.6"> CD23+</tspan></text>
<text x="339.00" y="250.80" font-size="9.0" text-anchor="middle" fill="#333" stroke="#333" stroke-width="0.04" textLength="16.9" lengthAdjust="spacingAndGlyphs" >CD23</text>
<text x="280.84" y="197.20" font-size="9.0" text-anchor="middle" fill="#333" stroke="#333" stroke-width="0.04" textLength="16.6" lengthAdjust="spacingAndGlyphs" transform="rotate(-90 280.84 197.20)" >CD21</text>
<line x1="272.40" y1="170.50" x2="279.20" y2="170.50" stroke="#111" stroke-width="0.9" />
<path d="M278.70,168.80 L281.70,170.50 L278.70,172.20 Z" fill="#111"/>
<clipPath id="c6"><rect x="409.9" y="156.0" width="73.10000000000002" height="74.30000000000001"/></clipPath>
<g clip-path="url(#c6)">
<ellipse cx="425.4" cy="206" rx="1.2" ry="16" fill="#5060c0" opacity="0.7" filter="url(#b05)"/>
<ellipse cx="425.4" cy="210" rx="1.7" ry="12" fill="#2838a0" opacity="1" filter="url(#b05)"/>
<ellipse cx="425.4" cy="210" rx="0.8" ry="6" fill="#50a870" opacity="1" filter="url(#b05)"/>
</g>
<rect x="409.90" y="156.00" width="73.10" height="74.30" stroke="#444" stroke-width="0.8" fill="none" />
<rect x="419.00" y="199.10" width="62.60" height="28.40" stroke="#555" stroke-width="0.7" fill="none" />
<ellipse cx="467.5" cy="215" rx="0.9" ry="2.2" fill="#d8d8e0" filter="url(#b05)"/>
<line x1="408.30" y1="160.60" x2="409.90" y2="160.60" stroke="#333" stroke-width="0.7" />
<text x="406.30" y="162.70" font-size="6.2" text-anchor="end" fill="#333" stroke="#333">10<tspan font-size="4.46" dy="-2.4">5</tspan></text>
<line x1="408.30" y1="178.90" x2="409.90" y2="178.90" stroke="#333" stroke-width="0.7" />
<text x="406.30" y="181.00" font-size="6.2" text-anchor="end" fill="#333" stroke="#333">10<tspan font-size="4.46" dy="-2.4">4</tspan></text>
<line x1="408.30" y1="199.90" x2="409.90" y2="199.90" stroke="#333" stroke-width="0.7" />
<text x="406.30" y="202.00" font-size="6.2" text-anchor="end" fill="#333" stroke="#333">10<tspan font-size="4.46" dy="-2.4">3</tspan></text>
<line x1="408.30" y1="211.60" x2="409.90" y2="211.60" stroke="#333" stroke-width="0.7" />
<text x="406.30" y="213.70" font-size="6.2" text-anchor="end" fill="#333" stroke="#333">0</text>
<line x1="408.30" y1="224.75" x2="409.90" y2="224.75" stroke="#333" stroke-width="0.7" />
<text x="406.30" y="226.85" font-size="6.2" text-anchor="end" fill="#333" stroke="#333">−10<tspan font-size="4.46" dy="-2.4">3</tspan></text>
<line x1="413.50" y1="230.30" x2="413.50" y2="231.90" stroke="#333" stroke-width="0.7" />
<text x="413.50" y="239.50" font-size="6.2" text-anchor="middle" fill="#333" stroke="#333">−10<tspan font-size="4.46" dy="-2.4">3</tspan></text>
<line x1="425.40" y1="230.30" x2="425.40" y2="231.90" stroke="#333" stroke-width="0.7" />
<text x="425.40" y="239.50" font-size="6.2" text-anchor="middle" fill="#333" stroke="#333">0</text>
<line x1="436.40" y1="230.30" x2="436.40" y2="231.90" stroke="#333" stroke-width="0.7" />
<text x="436.40" y="239.50" font-size="6.2" text-anchor="middle" fill="#333" stroke="#333">10<tspan font-size="4.46" dy="-2.4">3</tspan></text>
<line x1="458.40" y1="230.30" x2="458.40" y2="231.90" stroke="#333" stroke-width="0.7" />
<text x="458.40" y="239.50" font-size="6.2" text-anchor="middle" fill="#333" stroke="#333">10<tspan font-size="4.46" dy="-2.4">4</tspan></text>
<line x1="476.30" y1="230.30" x2="476.30" y2="231.90" stroke="#333" stroke-width="0.7" />
<text x="476.30" y="239.50" font-size="6.2" text-anchor="middle" fill="#333" stroke="#333">10<tspan font-size="4.46" dy="-2.4">5</tspan></text>
<text x="445.20" y="150.70" font-size="8.7" text-anchor="middle" fill="#333" stroke="#333" stroke-width="0.04" textLength="35.4" lengthAdjust="spacingAndGlyphs" >TER-119-</text>
<text x="388.44" y="193.40" font-size="9.0" text-anchor="middle" fill="#333" stroke="#333" stroke-width="0.04" textLength="24.9" lengthAdjust="spacingAndGlyphs" transform="rotate(-90 388.44 193.40)" >TER-119</text>
<line x1="380.10" y1="169.60" x2="386.40" y2="169.60" stroke="#111" stroke-width="0.9" />
<path d="M385.90,167.90 L388.90,169.60 L385.90,171.30 Z" fill="#111"/>
<text x="444.20" y="251.00" font-size="9.0" text-anchor="middle" fill="#333" stroke="#333" stroke-width="0.04" textLength="11.3" lengthAdjust="spacingAndGlyphs" >GFP</text>
<path d="M428.5,243.3 L428.5,254.6 L328.6,254.6 L328.6,262" fill="none" stroke="#222" stroke-width="0.9"/>
<path d="M326.9,262 L328.6,265.9 L330.3,262 Z" fill="#111"/>
<rect x="155.70" y="269.60" width="361.90" height="129.80" stroke="#333" stroke-width="1.1" fill="none" />
<text x="231.20" y="279.70" font-size="8.7" text-anchor="middle" fill="#3a3a3a" stroke="#3a3a3a" stroke-width="0.04" textLength="42.8" lengthAdjust="spacingAndGlyphs" >HOD RBCs</text>
<line x1="209.80" y1="280.60" x2="252.60" y2="280.60" stroke="#444" stroke-width="0.8" />
<text x="309.10" y="279.70" font-size="8.7" text-anchor="middle" fill="#3a3a3a" stroke="#3a3a3a" stroke-width="0.04" textLength="39.2" lengthAdjust="spacingAndGlyphs" >GFP RBCs</text>
<line x1="289.50" y1="280.60" x2="328.70" y2="280.60" stroke="#444" stroke-width="0.8" />
<text x="387.00" y="279.70" font-size="8.7" text-anchor="middle" fill="#3a3a3a" stroke="#3a3a3a" stroke-width="0.04" textLength="64.9" lengthAdjust="spacingAndGlyphs" >HODxGFP RBCs</text>
<line x1="354.55" y1="280.60" x2="419.45" y2="280.60" stroke="#444" stroke-width="0.8" />
<text x="466.10" y="279.70" font-size="8.7" text-anchor="middle" fill="#3a3a3a" stroke="#3a3a3a" stroke-width="0.04" textLength="65.8" lengthAdjust="spacingAndGlyphs" >HOD+GFP RBCs</text>
<line x1="433.20" y1="280.60" x2="499.00" y2="280.60" stroke="#444" stroke-width="0.8" />
<text x="231.30" y="293.90" font-size="9.0" text-anchor="middle" fill="#333" stroke="#333" stroke-width="0.04" textLength="35.2" lengthAdjust="spacingAndGlyphs" >GFP+ FOBs</text>
<line x1="251.50" y1="292.30" x2="469.50" y2="292.30" stroke="#111" stroke-width="0.9" />
<path d="M469.00,290.60 L472.00,292.30 L469.00,294.00 Z" fill="#111"/>
<text x="233.70" y="392.80" font-size="9.0" text-anchor="middle" fill="#333" stroke="#333" stroke-width="0.04" textLength="11.5" lengthAdjust="spacingAndGlyphs" >GFP</text>
<line x1="242.70" y1="390.60" x2="472.00" y2="390.60" stroke="#111" stroke-width="0.9" />
<path d="M471.50,388.90 L474.50,390.60 L471.50,392.30 Z" fill="#111"/>
<text x="170.14" y="331.60" font-size="9.0" text-anchor="middle" fill="#333" stroke="#333" stroke-width="0.04" textLength="19.5" lengthAdjust="spacingAndGlyphs" transform="rotate(-90 170.14 331.60)" >Ter119</text>
<ellipse cx="210.29999999999998" cy="355.5" rx="2.0" ry="12.8" fill="#3444a8" opacity="0.95" filter="url(#b05)"/>
<ellipse cx="210.29999999999998" cy="356" rx="1.0" ry="8" fill="#5aa0b8" opacity="0.9" filter="url(#b05)"/>
<ellipse cx="209.99999999999997" cy="357" rx="0.5" ry="3" fill="#90c070" opacity="0.8" filter="url(#b05)"/>
<rect x="193.10" y="298.40" width="74.40" height="74.80" stroke="#444" stroke-width="0.8" fill="none" />
<rect x="220.50" y="341.40" width="46.20" height="28.40" stroke="#666" stroke-width="0.7" fill="none" />
<text x="243.85" y="337.50" font-size="6.3" text-anchor="middle" fill="#333" stroke="#333" textLength="25.7" lengthAdjust="spacingAndGlyphs" >0.0009%</text>
<line x1="191.50" y1="303.20" x2="193.10" y2="303.20" stroke="#333" stroke-width="0.7" />
<text x="189.50" y="305.30" font-size="6.2" text-anchor="end" fill="#333" stroke="#333">10<tspan font-size="4.46" dy="-2.4">5</tspan></text>
<line x1="191.50" y1="322.50" x2="193.10" y2="322.50" stroke="#333" stroke-width="0.7" />
<text x="189.50" y="324.60" font-size="6.2" text-anchor="end" fill="#333" stroke="#333">10<tspan font-size="4.46" dy="-2.4">4</tspan></text>
<line x1="191.50" y1="342.30" x2="193.10" y2="342.30" stroke="#333" stroke-width="0.7" />
<text x="189.50" y="344.40" font-size="6.2" text-anchor="end" fill="#333" stroke="#333">10<tspan font-size="4.46" dy="-2.4">3</tspan></text>
<line x1="191.50" y1="354.60" x2="193.10" y2="354.60" stroke="#333" stroke-width="0.7" />
<text x="189.50" y="356.70" font-size="6.2" text-anchor="end" fill="#333" stroke="#333">0</text>
<line x1="191.50" y1="367.00" x2="193.10" y2="367.00" stroke="#333" stroke-width="0.7" />
<text x="189.50" y="369.10" font-size="6.2" text-anchor="end" fill="#333" stroke="#333">−10<tspan font-size="4.46" dy="-2.4">3</tspan></text>
<line x1="197.60" y1="373.20" x2="197.60" y2="374.80" stroke="#333" stroke-width="0.7" />
<text x="197.60" y="382.00" font-size="6.2" text-anchor="middle" fill="#333" stroke="#333">−10<tspan font-size="4.46" dy="-2.4">3</tspan></text>
<line x1="211.30" y1="373.20" x2="211.30" y2="374.80" stroke="#333" stroke-width="0.7" />
<text x="211.30" y="382.00" font-size="6.2" text-anchor="middle" fill="#333" stroke="#333">0</text>
<line x1="222.30" y1="373.20" x2="222.30" y2="374.80" stroke="#333" stroke-width="0.7" />
<text x="222.30" y="382.00" font-size="6.2" text-anchor="middle" fill="#333" stroke="#333">10<tspan font-size="4.46" dy="-2.4">3</tspan></text>
<line x1="242.90" y1="373.20" x2="242.90" y2="374.80" stroke="#333" stroke-width="0.7" />
<text x="242.90" y="382.00" font-size="6.2" text-anchor="middle" fill="#333" stroke="#333">10<tspan font-size="4.46" dy="-2.4">4</tspan></text>
<line x1="260.90" y1="373.20" x2="260.90" y2="374.80" stroke="#333" stroke-width="0.7" />
<text x="260.90" y="382.00" font-size="6.2" text-anchor="middle" fill="#333" stroke="#333">10<tspan font-size="4.46" dy="-2.4">5</tspan></text>
<ellipse cx="291.09999999999997" cy="355.5" rx="2.0" ry="12.8" fill="#3444a8" opacity="0.95" filter="url(#b05)"/>
<ellipse cx="291.09999999999997" cy="356" rx="1.0" ry="8" fill="#5aa0b8" opacity="0.9" filter="url(#b05)"/>
<ellipse cx="290.79999999999995" cy="357" rx="0.5" ry="3" fill="#90c070" opacity="0.8" filter="url(#b05)"/>
<rect x="273.90" y="298.50" width="75.50" height="75.10" stroke="#444" stroke-width="0.8" fill="none" />
<rect x="301.70" y="341.40" width="46.90" height="28.40" stroke="#666" stroke-width="0.7" fill="none" />
<text x="326.90" y="337.50" font-size="6.3" text-anchor="middle" fill="#333" stroke="#333" textLength="22.4" lengthAdjust="spacingAndGlyphs" >0.020%</text>
<line x1="272.30" y1="303.20" x2="273.90" y2="303.20" stroke="#333" stroke-width="0.7" />
<line x1="272.30" y1="322.50" x2="273.90" y2="322.50" stroke="#333" stroke-width="0.7" />
<line x1="272.30" y1="342.30" x2="273.90" y2="342.30" stroke="#333" stroke-width="0.7" />
<line x1="272.30" y1="354.60" x2="273.90" y2="354.60" stroke="#333" stroke-width="0.7" />
<line x1="272.30" y1="367.00" x2="273.90" y2="367.00" stroke="#333" stroke-width="0.7" />
<line x1="278.40" y1="373.60" x2="278.40" y2="375.20" stroke="#333" stroke-width="0.7" />
<text x="278.40" y="382.40" font-size="6.2" text-anchor="middle" fill="#333" stroke="#333">−10<tspan font-size="4.46" dy="-2.4">3</tspan></text>
<line x1="292.10" y1="373.60" x2="292.10" y2="375.20" stroke="#333" stroke-width="0.7" />
<text x="292.10" y="382.40" font-size="6.2" text-anchor="middle" fill="#333" stroke="#333">0</text>
<line x1="303.10" y1="373.60" x2="303.10" y2="375.20" stroke="#333" stroke-width="0.7" />
<text x="303.10" y="382.40" font-size="6.2" text-anchor="middle" fill="#333" stroke="#333">10<tspan font-size="4.46" dy="-2.4">3</tspan></text>
<line x1="323.70" y1="373.60" x2="323.70" y2="375.20" stroke="#333" stroke-width="0.7" />
<text x="323.70" y="382.40" font-size="6.2" text-anchor="middle" fill="#333" stroke="#333">10<tspan font-size="4.46" dy="-2.4">4</tspan></text>
<line x1="341.70" y1="373.60" x2="341.70" y2="375.20" stroke="#333" stroke-width="0.7" />
<text x="341.70" y="382.40" font-size="6.2" text-anchor="middle" fill="#333" stroke="#333">10<tspan font-size="4.46" dy="-2.4">5</tspan></text>
<ellipse cx="329.9" cy="354" rx="0.8" ry="2" fill="#c8cce8" filter="url(#b05)"/>
<ellipse cx="374.09999999999997" cy="355.5" rx="2.0" ry="12.8" fill="#3444a8" opacity="0.95" filter="url(#b05)"/>
<ellipse cx="374.09999999999997" cy="356" rx="1.0" ry="8" fill="#5aa0b8" opacity="0.9" filter="url(#b05)"/>
<ellipse cx="373.79999999999995" cy="357" rx="0.5" ry="3" fill="#90c070" opacity="0.8" filter="url(#b05)"/>
<rect x="356.90" y="298.60" width="74.00" height="75.30" stroke="#444" stroke-width="0.8" fill="none" />
<rect x="384.50" y="341.40" width="45.60" height="28.40" stroke="#666" stroke-width="0.7" fill="none" />
<text x="411.40" y="337.50" font-size="6.3" text-anchor="middle" fill="#333" stroke="#333" textLength="22.4" lengthAdjust="spacingAndGlyphs" >0.044%</text>
<line x1="355.30" y1="303.20" x2="356.90" y2="303.20" stroke="#333" stroke-width="0.7" />
<line x1="355.30" y1="322.50" x2="356.90" y2="322.50" stroke="#333" stroke-width="0.7" />
<line x1="355.30" y1="342.30" x2="356.90" y2="342.30" stroke="#333" stroke-width="0.7" />
<line x1="355.30" y1="354.60" x2="356.90" y2="354.60" stroke="#333" stroke-width="0.7" />
<line x1="355.30" y1="367.00" x2="356.90" y2="367.00" stroke="#333" stroke-width="0.7" />
<line x1="361.40" y1="373.90" x2="361.40" y2="375.50" stroke="#333" stroke-width="0.7" />
<text x="361.40" y="382.70" font-size="6.2" text-anchor="middle" fill="#333" stroke="#333">−10<tspan font-size="4.46" dy="-2.4">3</tspan></text>
<line x1="375.10" y1="373.90" x2="375.10" y2="375.50" stroke="#333" stroke-width="0.7" />
<text x="375.10" y="382.70" font-size="6.2" text-anchor="middle" fill="#333" stroke="#333">0</text>
<line x1="386.10" y1="373.90" x2="386.10" y2="375.50" stroke="#333" stroke-width="0.7" />
<text x="386.10" y="382.70" font-size="6.2" text-anchor="middle" fill="#333" stroke="#333">10<tspan font-size="4.46" dy="-2.4">3</tspan></text>
<line x1="406.70" y1="373.90" x2="406.70" y2="375.50" stroke="#333" stroke-width="0.7" />
<text x="406.70" y="382.70" font-size="6.2" text-anchor="middle" fill="#333" stroke="#333">10<tspan font-size="4.46" dy="-2.4">4</tspan></text>
<line x1="424.70" y1="373.90" x2="424.70" y2="375.50" stroke="#333" stroke-width="0.7" />
<text x="424.70" y="382.70" font-size="6.2" text-anchor="middle" fill="#333" stroke="#333">10<tspan font-size="4.46" dy="-2.4">5</tspan></text>
<ellipse cx="412.9" cy="354" rx="0.8" ry="2" fill="#c8cce8" filter="url(#b05)"/>
<ellipse cx="456.7" cy="355.5" rx="2.0" ry="12.8" fill="#3444a8" opacity="0.95" filter="url(#b05)"/>
<ellipse cx="456.7" cy="356" rx="1.0" ry="8" fill="#5aa0b8" opacity="0.9" filter="url(#b05)"/>
<ellipse cx="456.4" cy="357" rx="0.5" ry="3" fill="#90c070" opacity="0.8" filter="url(#b05)"/>
<rect x="439.50" y="297.90" width="73.50" height="75.90" stroke="#444" stroke-width="0.8" fill="none" />
<rect x="466.80" y="341.40" width="45.40" height="28.40" stroke="#666" stroke-width="0.7" fill="none" />
<text x="492.00" y="337.50" font-size="6.3" text-anchor="middle" fill="#333" stroke="#333" textLength="22.4" lengthAdjust="spacingAndGlyphs" >0.018%</text>
<line x1="437.90" y1="303.20" x2="439.50" y2="303.20" stroke="#333" stroke-width="0.7" />
<line x1="437.90" y1="322.50" x2="439.50" y2="322.50" stroke="#333" stroke-width="0.7" />
<line x1="437.90" y1="342.30" x2="439.50" y2="342.30" stroke="#333" stroke-width="0.7" />
<line x1="437.90" y1="354.60" x2="439.50" y2="354.60" stroke="#333" stroke-width="0.7" />
<line x1="437.90" y1="367.00" x2="439.50" y2="367.00" stroke="#333" stroke-width="0.7" />
<line x1="444.00" y1="373.80" x2="444.00" y2="375.40" stroke="#333" stroke-width="0.7" />
<text x="444.00" y="382.60" font-size="6.2" text-anchor="middle" fill="#333" stroke="#333">−10<tspan font-size="4.46" dy="-2.4">3</tspan></text>
<line x1="457.70" y1="373.80" x2="457.70" y2="375.40" stroke="#333" stroke-width="0.7" />
<text x="457.70" y="382.60" font-size="6.2" text-anchor="middle" fill="#333" stroke="#333">0</text>
<line x1="468.70" y1="373.80" x2="468.70" y2="375.40" stroke="#333" stroke-width="0.7" />
<text x="468.70" y="382.60" font-size="6.2" text-anchor="middle" fill="#333" stroke="#333">10<tspan font-size="4.46" dy="-2.4">3</tspan></text>
<line x1="489.30" y1="373.80" x2="489.30" y2="375.40" stroke="#333" stroke-width="0.7" />
<text x="489.30" y="382.60" font-size="6.2" text-anchor="middle" fill="#333" stroke="#333">10<tspan font-size="4.46" dy="-2.4">4</tspan></text>
<line x1="507.30" y1="373.80" x2="507.30" y2="375.40" stroke="#333" stroke-width="0.7" />
<text x="507.30" y="382.60" font-size="6.2" text-anchor="middle" fill="#333" stroke="#333">10<tspan font-size="4.46" dy="-2.4">5</tspan></text>
<ellipse cx="495.5" cy="354" rx="0.8" ry="2" fill="#c8cce8" filter="url(#b05)"/>
</svg></body></html>
